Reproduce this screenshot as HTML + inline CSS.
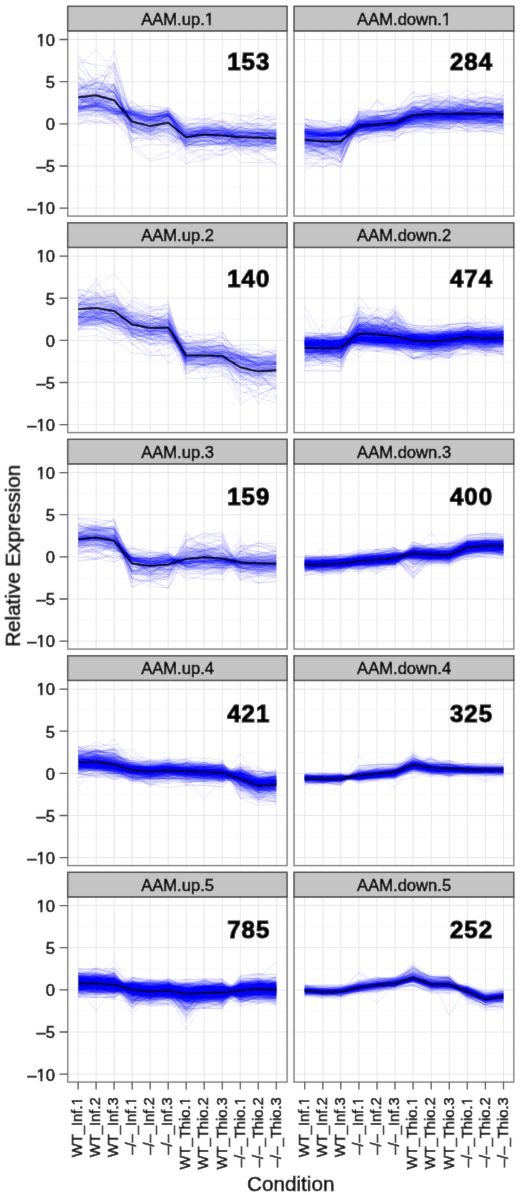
<!DOCTYPE html><html><head><meta charset="utf-8"><style>html,body{margin:0;padding:0;background:#fff;overflow:hidden;width:520px;height:1195px;}svg{display:block;font-family:"Liberation Sans",sans-serif;}.t{fill:#000;stroke:#000;stroke-width:0.5px}.L{fill:none;stroke:#00f;stroke-width:1px}.L path{vector-effect:non-scaling-stroke}</style></head><body>
<svg width="520" height="1195" viewBox="0 0 520 1195">
<defs><filter id="b" x="0" y="0" width="520" height="1195" filterUnits="userSpaceOnUse"><feConvolveMatrix order="3" kernelMatrix="0.0052 0.0619 0.0052 0.0619 0.7314 0.0619 0.0052 0.0619 0.0052" edgeMode="duplicate" preserveAlpha="true"/></filter></defs>
<rect width="520" height="1195" fill="#fff"/>
<g filter="url(#b)"><rect width="520" height="1195" fill="#fff"/>
<rect x="67.7" y="30.9" width="219.4" height="185.2" fill="#fff"/>
<path d="M67.7 187.1H287.1M67.7 144.9H287.1M67.7 102.8H287.1M67.7 60.6H287.1" stroke="#f2f2f2" stroke-width="0.6" fill="none"/>
<path d="M67.7 208.1H287.1M67.7 166H287.1M67.7 123.8H287.1M67.7 81.7H287.1M67.7 39.5H287.1M78.1 30.9V216.1M96.1 30.9V216.1M114.1 30.9V216.1M132.2 30.9V216.1M150.2 30.9V216.1M168.2 30.9V216.1M186.2 30.9V216.1M204.2 30.9V216.1M222.3 30.9V216.1M240.3 30.9V216.1M258.3 30.9V216.1M276.3 30.9V216.1" stroke="#e6e6e6" stroke-width="1" fill="none"/>
<g class="L" transform="translate(78.1 123.8) scale(18.0200 -0.8430)" stroke-opacity="0.100">
<path d="M0 30 1 23 2 16 3 -4 4 -9 5 -8 6 -21 7 -23 8 -24 9 -22 10 -17 11 -14"/>
<path d="M0 31 1 11 2 3 3 20 4 22 5 16 6 -17 7 -12 8 -7 9 10 10 6 11 10"/>
<path d="M0 19 1 24 2 18 3 10 4 -1 5 9 6 -13 7 -9 8 -10 9 -10 10 -8 11 -9"/>
<path d="M0 32 1 41 2 41 3 -3 4 -10 5 6 6 -24 7 -28 8 -21 9 -46 10 -46 11 -46"/>
<path d="M0 18 1 24 2 29 3 16 4 5 5 12 6 -9 7 -6 8 -13 9 -11 10 -6 11 -8"/>
<path d="M0 40 1 28 2 14 3 -11 4 5 5 1 6 -21 7 -21 8 -21 9 -23 10 -30 11 -23"/>
<path d="M0 13 1 23 2 14 3 7 4 8 5 6 6 -16 7 -13 8 -20 9 -17 10 -7 11 -19"/>
<path d="M0 21 1 22 2 15 3 11 4 17 5 9 6 -11 7 -6 8 -11 9 -8 10 -13 11 -13"/>
<path d="M0 49 1 39 2 47 3 13 4 8 5 11 6 -13 7 -11 8 -5 9 -20 10 -23 11 -18"/>
<path d="M0 74 1 70 2 67 3 -29 4 -24 5 -25 6 -14 7 -9 8 -11 9 -31 10 -23 11 -30"/>
<path d="M0 35 1 24 2 40 3 23 4 16 5 15 6 -3 7 -5 8 -6 9 -12 10 -11 11 -9"/>
<path d="M0 30 1 29 2 24 3 11 4 9 5 11 6 -6 7 -5 8 -11 9 -10 10 -12 11 -7"/>
<path d="M0 33 1 33 2 26 3 8 4 -1 5 9 6 -18 7 -18 8 -13 9 -28 10 -25 11 -20"/>
<path d="M0 26 1 24 2 17 3 10 4 1 5 10 6 -14 7 -10 8 -12 9 -14 10 -12 11 -12"/>
<path d="M0 19 1 21 2 42 3 15 4 9 5 15 6 -8 7 -3 8 -5 9 -15 10 -17 11 -16"/>
<path d="M0 31 1 35 2 73 3 11 4 1 5 9 6 -22 7 -19 8 -17 9 -17 10 -11 11 -18"/>
<path d="M0 73 1 50 2 73 3 -9 4 -20 5 9 6 -27 7 -16 8 -22 9 -28 10 -23 11 -30"/>
<path d="M0 21 1 20 2 3 3 -17 4 -17 5 -22 6 -12 7 -8 8 -6 9 -21 10 -20 11 -13"/>
<path d="M0 56 1 23 2 28 3 -10 4 -10 5 -27 6 -11 7 -7 8 -9 9 -26 10 -15 11 -28"/>
<path d="M0 16 1 20 2 13 3 5 4 -3 5 9 6 -18 7 -8 8 -26 9 -15 10 -11 11 -18"/>
<path d="M0 24 1 32 2 27 3 6 4 5 5 9 6 -17 7 -8 8 -24 9 -10 10 -10 11 -10"/>
<path d="M0 57 1 42 2 37 3 13 4 6 5 17 6 -23 7 -13 8 -8 9 -14 10 -18 11 -15"/>
<path d="M0 20 1 22 2 33 3 10 4 6 5 8 6 -15 7 -11 8 -12 9 -13 10 -14 11 -13"/>
<path d="M0 28 1 31 2 34 3 4 4 -8 5 6 6 -24 7 -20 8 -24 9 -26 10 -21 11 -23"/>
<path d="M0 16 1 19 2 12 3 1 4 -7 5 2 6 -19 7 -14 8 -10 9 -15 10 -14 11 -7"/>
<path d="M0 35 1 27 2 46 3 -3 4 5 5 -6 6 -42 7 -23 8 -16 9 -25 10 -31 11 -13"/>
<path d="M0 22 1 39 2 19 3 12 4 8 5 10 6 -9 7 5 8 -3 9 -23 10 -9 11 -19"/>
<path d="M0 21 1 38 2 21 3 -8 4 -9 5 4 6 -23 7 -14 8 -16 9 -18 10 -15 11 -26"/>
<path d="M0 14 1 17 2 1 3 13 4 12 5 13 6 -13 7 -7 8 -8 9 -1 10 1 11 -11"/>
<path d="M0 79 1 67 2 41 3 -7 4 -10 5 -19 6 -27 7 -16 8 -17 9 -35 10 -17 11 -21"/>
<path d="M0 18 1 23 2 14 3 -3 4 6 5 2 6 -12 7 -13 8 -13 9 -20 10 -17 11 -20"/>
<path d="M0 38 1 59 2 54 3 13 4 7 5 11 6 -16 7 -4 8 -4 9 -10 10 -7 11 -8"/>
<path d="M0 17 1 23 2 12 3 11 4 8 5 12 6 -6 7 -13 8 -16 9 -4 10 17 11 -3"/>
<path d="M0 31 1 18 2 24 3 10 4 -5 5 12 6 -12 7 -11 8 -29 9 -31 10 -44 11 -41"/>
<path d="M0 49 1 21 2 28 3 4 4 -8 5 -6 6 -31 7 -43 8 -31 9 -27 10 -19 11 -10"/>
<path d="M0 35 1 33 2 32 3 -19 4 -9 5 -16 6 -21 7 -17 8 -9 9 -23 10 -26 11 -28"/>
<path d="M0 -2 1 15 2 17 3 8 4 4 5 13 6 -3 7 -16 8 -9 9 -5 10 -7 11 -6"/>
<path d="M0 32 1 33 2 29 3 10 4 4 5 6 6 -13 7 -9 8 -8 9 -17 10 -20 11 -22"/>
<path d="M0 29 1 24 2 28 3 12 4 8 5 12 6 -17 7 -8 8 -8 9 -15 10 -14 11 -15"/>
<path d="M0 48 1 44 2 44 3 -6 4 -9 5 -10 6 -35 7 -30 8 -38 9 -26 10 -21 11 -23"/>
<path d="M0 39 1 49 2 45 3 1 4 4 5 10 6 -20 7 -13 8 -17 9 -6 10 -5 11 -14"/>
<path d="M0 41 1 50 2 37 3 0 4 -9 5 -2 6 -21 7 -11 8 -22 9 -24 10 -20 11 -21"/>
<path d="M0 17 1 21 2 14 3 14 4 8 5 12 6 -11 7 -6 8 -4 9 -13 10 -15 11 -14"/>
<path d="M0 49 1 25 2 47 3 -10 4 -16 5 -12 6 -47 7 -36 8 -37 9 -29 10 -32 11 -23"/>
<path d="M0 37 1 34 2 39 3 -2 4 -8 5 -6 6 -15 7 -10 8 -10 9 -20 10 -22 11 -13"/>
<path d="M0 28 1 21 2 48 3 -3 4 -11 5 -1 6 -13 7 1 8 -4 9 -20 10 -36 11 -31"/>
<path d="M0 27 1 34 2 20 3 15 4 0 5 10 6 -11 7 -6 8 -5 9 -18 10 -16 11 -23"/>
<path d="M0 19 1 20 2 15 3 12 4 9 5 10 6 -18 7 -9 8 -14 9 -21 10 -22 11 -13"/>
<path d="M0 30 1 21 2 25 3 12 4 -7 5 3 6 -26 7 -19 8 -15 9 -28 10 -25 11 -27"/>
<path d="M0 56 1 35 2 33 3 16 4 7 5 11 6 -21 7 -4 8 -4 9 -23 10 -18 11 -25"/>
<path d="M0 16 1 26 2 12 3 -4 4 -11 5 1 6 -14 7 -18 8 -14 9 -3 10 0 11 -14"/>
<path d="M0 9 1 9 2 6 3 -2 4 -6 5 14 6 -3 7 6 8 2 9 -9 10 0 11 7"/>
<path d="M0 66 1 51 2 38 3 -5 4 -6 5 3 6 -22 7 -21 8 -25 9 -10 10 -12 11 -11"/>
<path d="M0 41 1 42 2 36 3 -1 4 4 5 1 6 -15 7 -12 8 -11 9 -20 10 -21 11 -23"/>
<path d="M0 44 1 53 2 62 3 -21 4 -18 5 -18 6 -24 7 -26 8 -23 9 -22 10 -14 11 -19"/>
<path d="M0 20 1 18 2 13 3 11 4 7 5 9 6 -11 7 -7 8 -8 9 -14 10 -13 11 -11"/>
<path d="M0 25 1 29 2 24 3 10 4 7 5 12 6 -21 7 -14 8 -13 9 -14 10 -9 11 -12"/>
<path d="M0 25 1 28 2 19 3 3 4 5 5 9 6 -12 7 -14 8 -10 9 -15 10 -15 11 -21"/>
<path d="M0 34 1 15 2 33 3 6 4 8 5 10 6 -9 7 -16 8 -26 9 -21 10 -25 11 -23"/>
<path d="M0 39 1 48 2 33 3 7 4 -2 5 6 6 -8 7 -5 8 -7 9 -26 10 -23 11 -21"/>
<path d="M0 32 1 23 2 25 3 9 4 1 5 9 6 -17 7 -16 8 -10 9 -21 10 -26 11 -12"/>
<path d="M0 33 1 36 2 37 3 2 4 -4 5 -7 6 -28 7 -40 8 -20 9 -21 10 -19 11 -18"/>
<path d="M0 54 1 39 2 27 3 6 4 -4 5 0 6 -25 7 -25 8 -24 9 -20 10 -27 11 -14"/>
<path d="M0 40 1 27 2 87 3 -1 4 0 5 -2 6 -25 7 -25 8 -24 9 -17 10 -24 11 -17"/>
<path d="M0 11 1 16 2 14 3 10 4 7 5 9 6 -11 7 -14 8 -5 9 -14 10 -12 11 -17"/>
<path d="M0 30 1 21 2 18 3 13 4 5 5 13 6 -17 7 -12 8 -19 9 -7 10 -10 11 -6"/>
<path d="M0 24 1 30 2 17 3 7 4 4 5 3 6 -17 7 -10 8 -13 9 -10 10 -13 11 -15"/>
<path d="M0 31 1 28 2 23 3 19 4 8 5 11 6 -12 7 -14 8 -13 9 -13 10 -18 11 -16"/>
<path d="M0 22 1 20 2 43 3 12 4 4 5 10 6 -22 7 -21 8 -17 9 -21 10 -16 11 -24"/>
<path d="M0 5 1 15 2 1 3 21 4 10 5 13 6 -30 7 -23 8 -14 9 -10 10 -11 11 -11"/>
<path d="M0 54 1 50 2 38 3 1 4 1 5 -1 6 -12 7 -16 8 -17 9 -21 10 -27 11 -27"/>
<path d="M0 0 1 6 2 -4 3 15 4 11 5 13 6 4 7 7 8 2 9 -6 10 7 11 1"/>
<path d="M0 28 1 36 2 71 3 7 4 2 5 12 6 -6 7 -13 8 -9 9 -15 10 -10 11 -22"/>
<path d="M0 16 1 21 2 4 3 -22 4 0 5 -12 6 -19 7 -5 8 2 9 -22 10 -17 11 -17"/>
<path d="M0 20 1 22 2 16 3 -2 4 -8 5 7 6 -19 7 -16 8 -13 9 -11 10 -11 11 -15"/>
<path d="M0 19 1 21 2 18 3 12 4 2 5 13 6 -9 7 -9 8 -7 9 -11 10 -11 11 -10"/>
<path d="M0 41 1 49 2 45 3 -4 4 5 5 4 6 -13 7 -14 8 -11 9 -24 10 -11 11 -29"/>
<path d="M0 68 1 88 2 61 3 -30 4 -44 5 -40 6 -24 7 -27 8 -9 9 -31 10 -34 11 -48"/>
<path d="M0 19 1 15 2 17 3 12 4 5 5 10 6 -7 7 -2 8 -11 9 1 10 -2 11 0"/>
<path d="M0 32 1 24 2 18 3 15 4 7 5 19 6 -7 7 -6 8 -10 9 -18 10 -14 11 -14"/>
<path d="M0 33 1 29 2 24 3 11 4 3 5 8 6 -20 7 -10 8 -11 9 -20 10 -26 11 -15"/>
<path d="M0 38 1 18 2 10 3 16 4 12 5 19 6 0 7 0 8 5 9 -10 10 3 11 15"/>
<path d="M0 43 1 48 2 37 3 -4 4 -9 5 8 6 -16 7 -16 8 -26 9 -14 10 -20 11 -22"/>
<path d="M0 18 1 24 2 14 3 -10 4 -4 5 -9 6 -16 7 -10 8 -8 9 -20 10 -16 11 -10"/>
<path d="M0 69 1 40 2 48 3 -3 4 -12 5 -10 6 -23 7 -19 8 -23 9 -13 10 -22 11 -21"/>
<path d="M0 19 1 19 2 15 3 13 4 8 5 15 6 -7 7 -4 8 -10 9 -9 10 -11 11 -6"/>
<path d="M0 18 1 17 2 12 3 12 4 5 5 9 6 -9 7 -7 8 -7 9 -6 10 -11 11 2"/>
<path d="M0 34 1 49 2 47 3 -8 4 -14 5 -15 6 -19 7 -20 8 -32 9 -25 10 -27 11 -24"/>
<path d="M0 26 1 25 2 20 3 -8 4 -5 5 10 6 -21 7 -20 8 -13 9 -18 10 -13 11 -16"/>
<path d="M0 24 1 16 2 16 3 10 4 5 5 11 6 -9 7 -8 8 -8 9 -8 10 -12 11 -12"/>
<path d="M0 14 1 20 2 15 3 14 4 6 5 15 6 -8 7 -10 8 -8 9 -8 10 -6 11 -8"/>
<path d="M0 46 1 37 2 38 3 11 4 4 5 17 6 -31 7 -31 8 -32 9 -15 10 -14 11 -12"/>
<path d="M0 16 1 21 2 13 3 14 4 12 5 15 6 -11 7 -7 8 -3 9 -20 10 -14 11 -17"/>
<path d="M0 32 1 25 2 20 3 2 4 -6 5 -2 6 -24 7 -24 8 -24 9 -14 10 -24 11 -23"/>
<path d="M0 41 1 42 2 38 3 1 4 -5 5 7 6 -28 7 -27 8 -22 9 -25 10 -3 11 -24"/>
<path d="M0 26 1 31 2 29 3 -3 4 -6 5 -10 6 -23 7 -20 8 -23 9 -29 10 -33 11 -29"/>
<path d="M0 31 1 31 2 29 3 0 4 -14 5 -6 6 -14 7 -11 8 -12 9 -13 10 -18 11 -18"/>
<path d="M0 14 1 16 2 11 3 15 4 2 5 9 6 -9 7 -1 8 -2 9 -3 10 -14 11 -10"/>
<path d="M0 17 1 21 2 18 3 -25 4 -42 5 -33 6 -47 7 -43 8 -36 9 5 10 -7 11 -9"/>
<path d="M0 19 1 27 2 12 3 -10 4 -7 5 -5 6 -7 7 -12 8 -5 9 -12 10 -11 11 -16"/>
<path d="M0 20 1 23 2 41 3 16 4 8 5 16 6 -17 7 -15 8 -16 9 6 10 -5 11 -7"/>
<path d="M0 6 1 2 2 8 3 26 4 10 5 16 6 -3 7 12 8 -7 9 -37 10 -33 11 -14"/>
<path d="M0 62 1 21 2 18 3 15 4 -2 5 -2 6 -3 7 2 8 -5 9 -8 10 -12 11 -20"/>
<path d="M0 20 1 26 2 21 3 12 4 4 5 8 6 -18 7 -20 8 -18 9 -24 10 -19 11 -27"/>
<path d="M0 29 1 38 2 16 3 9 4 5 5 6 6 -16 7 -14 8 -10 9 -10 10 -19 11 -19"/>
<path d="M0 22 1 26 2 47 3 14 4 7 5 11 6 -13 7 -12 8 -10 9 -9 10 -15 11 -10"/>
<path d="M0 11 1 13 2 7 3 18 4 11 5 11 6 -13 7 -13 8 -14 9 -24 10 -9 11 -19"/>
<path d="M0 46 1 29 2 18 3 8 4 6 5 -3 6 -13 7 -7 8 -7 9 -16 10 -10 11 -12"/>
<path d="M0 47 1 34 2 30 3 10 4 7 5 11 6 -16 7 -8 8 -6 9 -7 10 -12 11 -8"/>
<path d="M0 14 1 18 2 12 3 15 4 7 5 12 6 -4 7 -12 8 -1 9 -18 10 -3 11 -14"/>
<path d="M0 16 1 25 2 26 3 11 4 8 5 9 6 -12 7 -10 8 -7 9 -19 10 -15 11 -14"/>
<path d="M0 18 1 21 2 15 3 5 4 8 5 10 6 -14 7 -12 8 -17 9 -15 10 -18 11 -21"/>
<path d="M0 16 1 21 2 12 3 18 4 10 5 14 6 -6 7 -4 8 -4 9 -4 10 -2 11 -5"/>
<path d="M0 27 1 32 2 27 3 0 4 -5 5 3 6 -10 7 -6 8 -9 9 -19 10 -21 11 -15"/>
<path d="M0 31 1 31 2 26 3 10 4 1 5 3 6 -16 7 -10 8 -12 9 -12 10 -20 11 -20"/>
<path d="M0 21 1 32 2 16 3 12 4 2 5 6 6 -19 7 -8 8 -11 9 -11 10 -13 11 0"/>
<path d="M0 21 1 21 2 17 3 -6 4 4 5 10 6 -14 7 -11 8 -12 9 -10 10 -6 11 -13"/>
<path d="M0 27 1 28 2 28 3 -9 4 2 5 0 6 -26 7 -20 8 -18 9 -26 10 -25 11 -23"/>
<path d="M0 9 1 14 2 5 3 6 4 5 5 13 6 -5 7 -2 8 -2 9 -11 10 -9 11 -19"/>
<path d="M0 10 1 11 2 12 3 20 4 14 5 18 6 1 7 -5 8 3 9 0 10 6 11 5"/>
<path d="M0 18 1 16 2 15 3 11 4 7 5 12 6 -10 7 -8 8 -8 9 -10 10 -12 11 -10"/>
<path d="M0 21 1 23 2 20 3 1 4 -4 5 -3 6 -17 7 -14 8 -19 9 -16 10 -15 11 -19"/>
<path d="M0 45 1 40 2 44 3 -4 4 -3 5 12 6 -10 7 -21 8 -18 9 -19 10 -25 11 -15"/>
<path d="M0 22 1 22 2 17 3 4 4 5 5 0 6 -12 7 -9 8 -8 9 -13 10 -16 11 -14"/>
<path d="M0 42 1 48 2 36 3 3 4 4 5 -9 6 -23 7 -24 8 -22 9 -24 10 -29 11 -32"/>
<path d="M0 36 1 25 2 34 3 -13 4 -8 5 -5 6 -19 7 -26 8 -17 9 -14 10 -18 11 -17"/>
<path d="M0 36 1 26 2 18 3 12 4 4 5 4 6 -10 7 -7 8 -13 9 -14 10 -13 11 -15"/>
<path d="M0 15 1 16 2 11 3 17 4 7 5 13 6 -23 7 -4 8 3 9 -14 10 -11 11 -11"/>
<path d="M0 36 1 38 2 30 3 -1 4 -6 5 6 6 -16 7 -16 8 -14 9 -15 10 -17 11 -23"/>
<path d="M0 17 1 21 2 14 3 16 4 11 5 14 6 -14 7 -9 8 -16 9 -10 10 -11 11 -12"/>
<path d="M0 18 1 15 2 9 3 15 4 11 5 15 6 -7 7 -4 8 -14 9 -3 10 -10 11 -1"/>
<path d="M0 82 1 43 2 37 3 -19 4 -15 5 -4 6 -26 7 -20 8 -24 9 -25 10 -33 11 -48"/>
<path d="M0 39 1 55 2 36 3 -11 4 -13 5 -9 6 -27 7 -24 8 -26 9 -26 10 -28 11 -30"/>
<path d="M0 15 1 27 2 14 3 14 4 1 5 10 6 -14 7 -2 8 -13 9 -4 10 -11 11 -13"/>
<path d="M0 23 1 28 2 27 3 7 4 -8 5 9 6 -6 7 -2 8 -9 9 -23 10 -25 11 -21"/>
<path d="M0 30 1 25 2 18 3 15 4 15 5 15 6 -26 7 -17 8 -13 9 -4 10 -10 11 -15"/>
<path d="M0 30 1 44 2 36 3 10 4 0 5 4 6 -24 7 -12 8 -21 9 -21 10 -27 11 -24"/>
<path d="M0 20 1 21 2 16 3 4 4 4 5 -1 6 -28 7 -12 8 -19 9 -18 10 -24 11 -23"/>
<path d="M0 19 1 24 2 15 3 13 4 11 5 12 6 -14 7 -4 8 -6 9 -8 10 -12 11 -10"/>
<path d="M0 10 1 2 2 0 3 7 4 21 5 19 6 -3 7 -9 8 5 9 -12 10 -2 11 -2"/>
<path d="M0 25 1 27 2 18 3 19 4 14 5 9 6 -3 7 4 8 -3 9 -13 10 -11 11 -12"/>
<path d="M0 42 1 45 2 31 3 6 4 3 5 5 6 -26 7 -24 8 -20 9 -8 10 -6 11 -11"/>
<path d="M0 31 1 34 2 41 3 -7 4 -19 5 -12 6 -20 7 -16 8 -16 9 -26 10 -26 11 -32"/>
<path d="M0 19 1 22 2 68 3 5 4 6 5 2 6 -11 7 -8 8 -11 9 -14 10 -16 11 -11"/>
<path d="M0 20 1 22 2 21 3 13 4 5 5 9 6 -14 7 -7 8 -5 9 -18 10 -21 11 -23"/>
<path d="M0 22 1 32 2 22 3 10 4 -3 5 3 6 -16 7 -13 8 -14 9 -9 10 -20 11 -26"/>
<path d="M0 17 1 54 2 37 3 -2 4 -13 5 -8 6 -21 7 -10 8 -18 9 -11 10 -18 11 -6"/>
<path d="M0 26 1 38 2 16 3 -10 4 -12 5 -6 6 -14 7 -8 8 -14 9 -14 10 -20 11 -30"/>
<path d="M0 13 1 9 2 12 3 10 4 0 5 10 6 -9 7 -16 8 -11 9 -14 10 -7 11 -10"/>
<path d="M0 20 1 24 2 11 3 10 4 6 5 12 6 -18 7 -13 8 -15 9 -15 10 -13 11 -15"/>
<path d="M0 16 1 15 2 11 3 14 4 6 5 11 6 -14 7 -19 8 -23 9 -12 10 -11 11 -22"/>
<path d="M0 19 1 45 2 22 3 6 4 -12 5 10 6 -18 7 -8 8 -20 9 -17 10 -10 11 -13"/>
<path d="M0 2 1 2 2 3 3 27 4 11 5 15 6 7 7 5 8 13 9 9 10 11 11 6"/>
</g>
<path d="M78.1 97.2 96.1 95.2 114.1 100.2 132.2 121.5 150.2 126.1 168.2 122.7 186.2 137.3 204.2 134.6 222.3 135.5 240.3 137.2 258.3 137.6 276.3 138.4" fill="none" stroke="#000" stroke-width="2"/>
<rect x="67.7" y="30.9" width="219.4" height="185.2" fill="none" stroke="#7a7a7a" stroke-width="1.4"/>
<rect x="67.7" y="6.3" width="219.4" height="24.6" fill="#c4c4c4" stroke="#4a4a4a" stroke-width="1.5"/>
<g transform="translate(177.6 24.9)"><text font-size="16.6" text-anchor="middle" class="t">AAM.up.1</text><rect x="27.88" y="-2.34" width="3.21" height="4.14" fill="#c4c4c4"/><rect x="33.16" y="-2.34" width="3.08" height="4.14" fill="#c4c4c4"/></g>
<text x="248.8" y="70.3" font-size="24" font-weight="bold" letter-spacing="1.0" text-anchor="middle" fill="#000" stroke="#000" stroke-width="1.1">153</text>
<rect x="294" y="30.9" width="219.8" height="185.2" fill="#fff"/>
<path d="M294 187.1H513.8M294 144.9H513.8M294 102.8H513.8M294 60.6H513.8" stroke="#f2f2f2" stroke-width="0.6" fill="none"/>
<path d="M294 208.1H513.8M294 166H513.8M294 123.8H513.8M294 81.7H513.8M294 39.5H513.8M304.7 30.9V216.1M322.8 30.9V216.1M340.8 30.9V216.1M358.9 30.9V216.1M377 30.9V216.1M395 30.9V216.1M413.1 30.9V216.1M431.2 30.9V216.1M449.3 30.9V216.1M467.3 30.9V216.1M485.4 30.9V216.1M503.5 30.9V216.1" stroke="#e6e6e6" stroke-width="1" fill="none"/>
<g class="L" transform="translate(304.7 123.8) scale(18.0700 -0.8430)" stroke-opacity="0.100">
<path d="M0 -6 1 -11 2 -9 3 -18 4 -17 5 -13 6 2 7 13 8 8 9 5 10 2 11 7"/>
<path d="M0 -18 1 -14 2 -16 3 -1 4 4 5 1 6 9 7 18 8 17 9 10 10 16 11 15"/>
<path d="M0 -24 1 -18 2 -26 3 7 4 -3 5 5 6 9 7 15 8 19 9 22 10 11 11 27"/>
<path d="M0 -13 1 -18 2 -12 3 -6 4 -3 5 -5 6 7 7 15 8 7 9 11 10 8 11 9"/>
<path d="M0 -18 1 -14 2 -14 3 -2 4 0 5 1 6 13 7 16 8 11 9 16 10 16 11 13"/>
<path d="M0 -12 1 -14 2 -18 3 -3 4 3 5 3 6 15 7 15 8 18 9 17 10 25 11 20"/>
<path d="M0 -20 1 -23 2 -24 3 -1 4 -1 5 -2 6 13 7 18 8 15 9 12 10 10 11 11"/>
<path d="M0 -9 1 -12 2 -11 3 -10 4 -8 5 -4 6 1 7 1 8 1 9 2 10 4 11 -5"/>
<path d="M0 -12 1 -11 2 -11 3 -4 4 -2 5 -3 6 5 7 9 8 9 9 13 10 18 11 14"/>
<path d="M0 -42 1 -51 2 -45 3 1 4 3 5 1 6 16 7 8 8 18 9 28 10 25 11 34"/>
<path d="M0 -3 1 -6 2 -11 3 -11 4 -1 5 -4 6 5 7 2 8 6 9 5 10 9 11 15"/>
<path d="M0 -22 1 -29 2 -32 3 4 4 -1 5 0 6 16 7 24 8 13 9 17 10 10 11 13"/>
<path d="M0 -5 1 -11 2 -12 3 -5 4 -6 5 -4 6 14 7 15 8 9 9 4 10 6 11 3"/>
<path d="M0 -22 1 -24 2 -23 3 1 4 2 5 4 6 10 7 10 8 9 9 9 10 10 11 8"/>
<path d="M0 -11 1 -14 2 -13 3 -2 4 -2 5 5 6 11 7 12 8 14 9 13 10 9 11 8"/>
<path d="M0 -16 1 -19 2 -14 3 -4 4 -1 5 3 6 4 7 11 8 9 9 9 10 3 11 6"/>
<path d="M0 -7 1 -6 2 -6 3 -14 4 -7 5 -9 6 8 7 4 8 3 9 7 10 1 11 3"/>
<path d="M0 -11 1 -15 2 -14 3 -6 4 0 5 -1 6 9 7 11 8 10 9 9 10 8 11 8"/>
<path d="M0 1 1 3 2 4 3 -21 4 -12 5 -16 6 -8 7 -11 8 -10 9 -7 10 -8 11 -6"/>
<path d="M0 -7 1 -7 2 -9 3 -6 4 -7 5 4 6 10 7 13 8 15 9 5 10 9 11 -2"/>
<path d="M0 -2 1 -8 2 -3 3 -9 4 -5 5 -6 6 -2 7 -1 8 -4 9 -2 10 2 11 -3"/>
<path d="M0 -14 1 -14 2 -9 3 2 4 12 5 -7 6 32 7 34 8 39 9 13 10 23 11 30"/>
<path d="M0 -9 1 -11 2 -12 3 -9 4 -4 5 0 6 0 7 1 8 4 9 6 10 3 11 1"/>
<path d="M0 -22 1 -34 2 -13 3 10 4 9 5 12 6 11 7 8 8 21 9 12 10 24 11 17"/>
<path d="M0 -28 1 -25 2 -37 3 0 4 10 5 10 6 15 7 24 8 15 9 19 10 19 11 17"/>
<path d="M0 -13 1 -25 2 -30 3 -2 4 8 5 3 6 6 7 6 8 17 9 20 10 8 11 8"/>
<path d="M0 3 1 -6 2 -3 3 -16 4 -15 5 -13 6 -9 7 -1 8 8 9 2 10 -9 11 -9"/>
<path d="M0 -12 1 -10 2 -11 3 -7 4 -6 5 -3 6 7 7 8 8 9 9 11 10 4 11 2"/>
<path d="M0 -33 1 -26 2 -32 3 -5 4 1 5 2 6 6 7 13 8 6 9 21 10 17 11 27"/>
<path d="M0 -10 1 -22 2 -26 3 -3 4 2 5 5 6 14 7 28 8 11 9 24 10 15 11 22"/>
<path d="M0 -14 1 -15 2 -13 3 -5 4 -2 5 -1 6 0 7 3 8 3 9 8 10 11 11 14"/>
<path d="M0 -19 1 -27 2 -12 3 1 4 -4 5 7 6 11 7 12 8 10 9 4 10 9 11 13"/>
<path d="M0 -11 1 -14 2 -11 3 -6 4 -3 5 -2 6 9 7 11 8 14 9 10 10 6 11 7"/>
<path d="M0 -10 1 -14 2 -12 3 -6 4 2 5 0 6 9 7 7 8 9 9 12 10 5 11 10"/>
<path d="M0 -27 1 -35 2 -45 3 8 4 8 5 13 6 10 7 18 8 14 9 30 10 31 11 28"/>
<path d="M0 -1 1 -8 2 -3 3 -7 4 6 5 5 6 10 7 13 8 6 9 11 10 13 11 9"/>
<path d="M0 -23 1 -14 2 -17 3 12 4 11 5 18 6 20 7 15 8 31 9 28 10 24 11 24"/>
<path d="M0 -11 1 -9 2 -13 3 -3 4 -1 5 0 6 6 7 10 8 8 9 10 10 10 11 14"/>
<path d="M0 -2 1 -10 2 -4 3 -3 4 -3 5 1 6 -2 7 -6 8 -6 9 10 10 14 11 -1"/>
<path d="M0 -8 1 -13 2 -9 3 -5 4 -6 5 -6 6 15 7 6 8 10 9 8 10 -7 11 -3"/>
<path d="M0 -7 1 -5 2 -10 3 -4 4 -4 5 -8 6 6 7 7 8 5 9 0 10 4 11 1"/>
<path d="M0 -18 1 -25 2 -13 3 7 4 9 5 14 6 38 7 18 8 32 9 24 10 27 11 18"/>
<path d="M0 -10 1 -16 2 -12 3 -2 4 6 5 1 6 19 7 26 8 26 9 -7 10 13 11 -2"/>
<path d="M0 -18 1 -13 2 -12 3 -4 4 1 5 2 6 8 7 8 8 9 9 14 10 12 11 7"/>
<path d="M0 -14 1 -18 2 -20 3 -2 4 -1 5 2 6 8 7 9 8 10 9 9 10 12 11 9"/>
<path d="M0 5 1 3 2 -7 3 10 4 -3 5 6 6 25 7 6 8 23 9 17 10 1 11 8"/>
<path d="M0 -9 1 -15 2 -12 3 -13 4 -7 5 -8 6 14 7 4 8 4 9 9 10 0 11 12"/>
<path d="M0 -32 1 -35 2 -28 3 0 4 0 5 3 6 17 7 22 8 11 9 16 10 21 11 11"/>
<path d="M0 -6 1 -9 2 -15 3 -15 4 -8 5 -2 6 8 7 12 8 19 9 21 10 8 11 13"/>
<path d="M0 -7 1 -11 2 -12 3 -4 4 -2 5 1 6 2 7 4 8 8 9 12 10 19 11 14"/>
<path d="M0 -18 1 -25 2 -17 3 4 4 6 5 7 6 14 7 12 8 14 9 8 10 8 11 8"/>
<path d="M0 -7 1 -10 2 -13 3 -6 4 -5 5 -4 6 15 7 20 8 16 9 9 10 13 11 8"/>
<path d="M0 -41 1 -36 2 -34 3 0 4 -1 5 2 6 9 7 15 8 12 9 12 10 10 11 15"/>
<path d="M0 -12 1 -15 2 -19 3 -1 4 2 5 5 6 15 7 12 8 12 9 11 10 16 11 18"/>
<path d="M0 -11 1 -12 2 -8 3 -5 4 -1 5 -5 6 1 7 4 8 6 9 6 10 11 11 8"/>
<path d="M0 -18 1 -26 2 -23 3 2 4 7 5 8 6 17 7 17 8 17 9 13 10 14 11 15"/>
<path d="M0 -6 1 -11 2 -7 3 -14 4 -12 5 -6 6 -1 7 -2 8 -2 9 19 10 5 11 1"/>
<path d="M0 -25 1 -15 2 -8 3 -2 4 1 5 -1 6 9 7 4 8 3 9 16 10 27 11 21"/>
<path d="M0 -17 1 -18 2 -22 3 -1 4 -3 5 -2 6 9 7 10 8 9 9 10 10 9 11 13"/>
<path d="M0 -40 1 -19 2 -29 3 0 4 3 5 7 6 19 7 29 8 24 9 20 10 18 11 14"/>
<path d="M0 -15 1 -19 2 -24 3 0 4 -3 5 -1 6 7 7 8 8 13 9 30 10 16 11 22"/>
<path d="M0 -15 1 -15 2 -14 3 -3 4 -2 5 1 6 15 7 16 8 10 9 18 10 12 11 15"/>
<path d="M0 -16 1 -14 2 -10 3 -1 4 -5 5 -4 6 4 7 5 8 3 9 -8 10 1 11 -1"/>
<path d="M0 -11 1 -13 2 -8 3 -7 4 -6 5 0 6 9 7 13 8 21 9 3 10 11 11 14"/>
<path d="M0 -29 1 -25 2 -38 3 14 4 16 5 16 6 23 7 31 8 26 9 22 10 33 11 21"/>
<path d="M0 -16 1 -11 2 -11 3 -4 4 -4 5 -2 6 10 7 13 8 12 9 6 10 12 11 11"/>
<path d="M0 -7 1 -14 2 -12 3 -8 4 -8 5 -2 6 -1 7 6 8 5 9 8 10 13 11 15"/>
<path d="M0 -21 1 -22 2 -22 3 -2 4 -1 5 0 6 8 7 10 8 11 9 10 10 12 11 9"/>
<path d="M0 -30 1 -26 2 -28 3 -5 4 0 5 -1 6 18 7 15 8 15 9 18 10 18 11 15"/>
<path d="M0 -10 1 -13 2 -13 3 -8 4 -8 5 -5 6 11 7 16 8 12 9 5 10 5 11 2"/>
<path d="M0 -9 1 -16 2 -10 3 -5 4 0 5 5 6 10 7 12 8 10 9 17 10 4 11 5"/>
<path d="M0 -29 1 -23 2 -19 3 -6 4 -3 5 1 6 8 7 11 8 13 9 12 10 11 11 9"/>
<path d="M0 -20 1 -19 2 -22 3 0 4 -1 5 6 6 14 7 16 8 10 9 12 10 10 11 16"/>
<path d="M0 -12 1 -24 2 -21 3 1 4 -1 5 -5 6 14 7 8 8 12 9 -10 10 -8 11 -12"/>
<path d="M0 -7 1 -7 2 -8 3 -2 4 -4 5 1 6 8 7 4 8 7 9 6 10 5 11 7"/>
<path d="M0 -7 1 -8 2 -9 3 -8 4 -8 5 -2 6 1 7 3 8 -2 9 8 10 5 11 5"/>
<path d="M0 -16 1 -14 2 -18 3 -4 4 0 5 4 6 6 7 5 8 5 9 15 10 10 11 5"/>
<path d="M0 -24 1 -37 2 -27 3 -4 4 -5 5 6 6 -1 7 16 8 12 9 11 10 23 11 20"/>
<path d="M0 -11 1 -12 2 -11 3 3 4 -4 5 2 6 3 7 7 8 5 9 6 10 6 11 5"/>
<path d="M0 -6 1 -7 2 -6 3 -13 4 -8 5 -7 6 4 7 5 8 7 9 -3 10 1 11 -6"/>
<path d="M0 -10 1 -6 2 -10 3 -12 4 -7 5 -6 6 4 7 5 8 9 9 13 10 9 11 3"/>
<path d="M0 -9 1 -12 2 -10 3 -5 4 0 5 0 6 3 7 -3 8 4 9 8 10 7 11 7"/>
<path d="M0 -15 1 -14 2 -12 3 -2 4 3 5 1 6 17 7 19 8 14 9 9 10 12 11 8"/>
<path d="M0 -25 1 -25 2 -24 3 -13 4 -10 5 -2 6 18 7 11 8 12 9 15 10 12 11 11"/>
<path d="M0 -9 1 -13 2 -14 3 -1 4 -2 5 0 6 10 7 13 8 10 9 16 10 11 11 12"/>
<path d="M0 -22 1 -20 2 -41 3 -4 4 -2 5 1 6 20 7 7 8 22 9 11 10 18 11 6"/>
<path d="M0 -14 1 -6 2 -4 3 -1 4 1 5 2 6 -1 7 2 8 2 9 5 10 10 11 6"/>
<path d="M0 -16 1 -13 2 -18 3 -14 4 0 5 -3 6 -5 7 2 8 0 9 8 10 3 11 4"/>
<path d="M0 -7 1 -12 2 -12 3 -4 4 -7 5 4 6 20 7 10 8 18 9 14 10 20 11 10"/>
<path d="M0 -12 1 -16 2 -14 3 -4 4 -3 5 -1 6 7 7 11 8 12 9 14 10 8 11 10"/>
<path d="M0 -30 1 -35 2 -21 3 0 4 0 5 -1 6 5 7 2 8 7 9 13 10 11 11 27"/>
<path d="M0 -1 1 -2 2 -1 3 -13 4 -13 5 -9 6 -11 7 -3 8 -4 9 -1 10 -4 11 -9"/>
<path d="M0 -16 1 -13 2 -13 3 -7 4 -5 5 -9 6 10 7 6 8 10 9 11 10 9 11 7"/>
<path d="M0 -7 1 -12 2 -11 3 -3 4 -6 5 3 6 6 7 1 8 9 9 32 10 12 11 7"/>
<path d="M0 -9 1 -15 2 -12 3 -1 4 8 5 0 6 2 7 21 8 11 9 27 10 21 11 18"/>
<path d="M0 -45 1 -25 2 -20 3 18 4 14 5 16 6 20 7 21 8 11 9 13 10 20 11 11"/>
<path d="M0 -12 1 -14 2 -14 3 -4 4 0 5 -3 6 8 7 10 8 8 9 5 10 7 11 4"/>
<path d="M0 -14 1 -20 2 -24 3 3 4 4 5 2 6 12 7 17 8 16 9 17 10 18 11 13"/>
<path d="M0 -32 1 -22 2 -28 3 -1 4 0 5 2 6 3 7 17 8 9 9 0 10 7 11 6"/>
<path d="M0 -16 1 -22 2 -21 3 -3 4 0 5 -3 6 6 7 9 8 6 9 6 10 7 11 7"/>
<path d="M0 -11 1 -13 2 -14 3 -1 4 -3 5 2 6 5 7 8 8 7 9 12 10 9 11 13"/>
<path d="M0 -16 1 -21 2 -17 3 3 4 2 5 6 6 11 7 12 8 14 9 17 10 16 11 28"/>
<path d="M0 -6 1 -6 2 -6 3 -4 4 -9 5 0 6 6 7 8 8 4 9 15 10 16 11 13"/>
<path d="M0 -12 1 -13 2 -13 3 -7 4 -6 5 -4 6 9 7 5 8 9 9 10 10 16 11 8"/>
<path d="M0 -24 1 -24 2 -22 3 3 4 7 5 7 6 10 7 11 8 8 9 11 10 22 11 11"/>
<path d="M0 -15 1 -23 2 -15 3 -3 4 1 5 1 6 3 7 2 8 5 9 5 10 0 11 5"/>
<path d="M0 -27 1 -28 2 -31 3 -1 4 7 5 7 6 19 7 15 8 27 9 21 10 23 11 25"/>
<path d="M0 -56 1 -41 2 -41 3 -1 4 9 5 8 6 19 7 22 8 16 9 14 10 30 11 6"/>
<path d="M0 -9 1 -14 2 -14 3 -3 4 -2 5 1 6 1 7 2 8 2 9 2 10 0 11 4"/>
<path d="M0 -24 1 -15 2 -21 3 -1 4 -1 5 5 6 13 7 15 8 22 9 17 10 10 11 14"/>
<path d="M0 -20 1 -31 2 -15 3 1 4 4 5 4 6 11 7 13 8 9 9 8 10 16 11 14"/>
<path d="M0 -10 1 -18 2 -12 3 -2 4 4 5 4 6 7 7 16 8 12 9 16 10 14 11 16"/>
<path d="M0 -35 1 -39 2 -46 3 3 4 3 5 10 6 16 7 15 8 10 9 19 10 20 11 25"/>
<path d="M0 -4 1 -4 2 -5 3 -5 4 -4 5 -5 6 7 7 7 8 6 9 9 10 2 11 1"/>
<path d="M0 -16 1 -18 2 -12 3 -9 4 -6 5 -9 6 19 7 18 8 7 9 1 10 -6 11 -2"/>
<path d="M0 -17 1 -23 2 -11 3 3 4 7 5 0 6 8 7 7 8 5 9 9 10 13 11 11"/>
<path d="M0 6 1 -2 2 -3 3 -5 4 0 5 -4 6 -4 7 -11 8 1 9 6 10 8 11 12"/>
<path d="M0 -9 1 -8 2 -11 3 -1 4 2 5 2 6 9 7 6 8 8 9 13 10 8 11 8"/>
<path d="M0 -13 1 -13 2 -11 3 -8 4 -8 5 -7 6 8 7 14 8 16 9 8 10 7 11 7"/>
<path d="M0 -7 1 -15 2 -15 3 -1 4 -1 5 1 6 1 7 7 8 5 9 9 10 11 11 0"/>
<path d="M0 -16 1 -13 2 -12 3 2 4 -3 5 -7 6 0 7 -5 8 -4 9 5 10 10 11 13"/>
<path d="M0 -7 1 -13 2 -14 3 -4 4 -5 5 -6 6 11 7 9 8 13 9 9 10 10 11 16"/>
<path d="M0 -22 1 -36 2 -23 3 7 4 7 5 10 6 5 7 4 8 6 9 5 10 3 11 11"/>
<path d="M0 -13 1 -19 2 -5 3 -6 4 -1 5 -2 6 2 7 2 8 0 9 13 10 8 11 10"/>
<path d="M0 -26 1 -36 2 -19 3 5 4 9 5 1 6 20 7 12 8 17 9 9 10 14 11 14"/>
<path d="M0 -1 1 -14 2 -14 3 -4 4 6 5 5 6 1 7 5 8 3 9 3 10 -3 11 4"/>
<path d="M0 -8 1 -12 2 -11 3 -5 4 -3 5 -2 6 7 7 6 8 12 9 11 10 11 11 8"/>
<path d="M0 -2 1 -8 2 -9 3 -10 4 -2 5 2 6 4 7 3 8 -6 9 -3 10 -5 11 -5"/>
<path d="M0 -15 1 -9 2 -14 3 -2 4 -2 5 -1 6 7 7 7 8 11 9 6 10 5 11 7"/>
<path d="M0 -5 1 -10 2 -12 3 0 4 0 5 4 6 16 7 12 8 12 9 11 10 8 11 9"/>
<path d="M0 -33 1 -31 2 -23 3 8 4 14 5 16 6 21 7 19 8 26 9 17 10 8 11 15"/>
<path d="M0 -5 1 -7 2 -11 3 -11 4 -1 5 -1 6 8 7 9 8 10 9 3 10 9 11 12"/>
<path d="M0 -12 1 -14 2 -12 3 -4 4 -1 5 -3 6 4 7 8 8 8 9 8 10 6 11 7"/>
<path d="M0 -19 1 -18 2 -14 3 -6 4 0 5 6 6 4 7 12 8 10 9 6 10 10 11 9"/>
<path d="M0 -28 1 -27 2 -29 3 0 4 0 5 4 6 17 7 13 8 15 9 12 10 15 11 7"/>
<path d="M0 -20 1 -19 2 -27 3 -5 4 -1 5 3 6 7 7 10 8 12 9 16 10 18 11 10"/>
<path d="M0 -8 1 -8 2 -14 3 -9 4 -7 5 -6 6 -3 7 -3 8 -1 9 4 10 1 11 6"/>
<path d="M0 -27 1 -16 2 -20 3 -6 4 -6 5 -3 6 16 7 14 8 12 9 14 10 11 11 12"/>
<path d="M0 -24 1 -28 2 -22 3 -6 4 -3 5 0 6 8 7 7 8 7 9 9 10 7 11 11"/>
<path d="M0 -40 1 -24 2 -46 3 9 4 7 5 13 6 -8 7 0 8 9 9 23 10 11 11 22"/>
<path d="M0 -47 1 -52 2 -39 3 0 4 -2 5 -3 6 20 7 12 8 8 9 19 10 19 11 14"/>
<path d="M0 -14 1 -13 2 -16 3 -3 4 -4 5 -6 6 12 7 26 8 28 9 11 10 13 11 13"/>
<path d="M0 -23 1 -27 2 -23 3 1 4 4 5 5 6 8 7 13 8 13 9 11 10 11 11 13"/>
<path d="M0 -38 1 -36 2 -45 3 4 4 9 5 11 6 26 7 22 8 16 9 20 10 20 11 16"/>
<path d="M0 -9 1 -15 2 -15 3 -8 4 -5 5 -7 6 7 7 9 8 8 9 10 10 8 11 11"/>
<path d="M0 -11 1 -14 2 -14 3 -6 4 0 5 3 6 4 7 10 8 10 9 11 10 9 11 10"/>
<path d="M0 -8 1 -13 2 -9 3 -9 4 -6 5 -6 6 8 7 5 8 7 9 4 10 5 11 1"/>
<path d="M0 -15 1 -14 2 -19 3 -3 4 1 5 0 6 9 7 7 8 9 9 8 10 9 11 7"/>
<path d="M0 -1 1 -5 2 -6 3 -8 4 -5 5 -3 6 3 7 -2 8 5 9 5 10 4 11 -3"/>
<path d="M0 -21 1 -26 2 -24 3 2 4 7 5 8 6 13 7 26 8 19 9 17 10 14 11 17"/>
<path d="M0 -15 1 -17 2 -23 3 -4 4 -2 5 1 6 12 7 9 8 9 9 10 10 10 11 11"/>
<path d="M0 -47 1 -46 2 -50 3 4 4 3 5 17 6 25 7 26 8 18 9 34 10 39 11 33"/>
<path d="M0 -20 1 -27 2 -20 3 -6 4 -3 5 1 6 6 7 18 8 13 9 16 10 19 11 12"/>
<path d="M0 -17 1 -18 2 -16 3 2 4 2 5 5 6 8 7 9 8 10 9 15 10 16 11 19"/>
<path d="M0 -22 1 -41 2 -35 3 14 4 12 5 22 6 1 7 9 8 10 9 26 10 23 11 30"/>
<path d="M0 -13 1 -15 2 -14 3 -2 4 5 5 2 6 13 7 13 8 15 9 10 10 11 11 10"/>
<path d="M0 -8 1 -11 2 -13 3 3 4 2 5 1 6 1 7 9 8 4 9 15 10 28 11 18"/>
<path d="M0 -12 1 -25 2 7 3 1 4 6 5 7 6 20 7 24 8 14 9 15 10 19 11 18"/>
<path d="M0 -17 1 -15 2 -15 3 6 4 7 5 9 6 15 7 17 8 18 9 17 10 11 11 20"/>
<path d="M0 -23 1 -13 2 -22 3 -1 4 -3 5 -2 6 4 7 7 8 14 9 2 10 1 11 4"/>
<path d="M0 -10 1 -10 2 -14 3 -7 4 -9 5 -4 6 15 7 4 8 6 9 1 10 8 11 11"/>
<path d="M0 -7 1 -12 2 -9 3 -15 4 -9 5 -6 6 -1 7 -5 8 -1 9 8 10 10 11 10"/>
<path d="M0 -10 1 -9 2 -13 3 -10 4 -6 5 -3 6 8 7 10 8 6 9 9 10 7 11 7"/>
<path d="M0 -29 1 -34 2 -30 3 0 4 2 5 5 6 12 7 14 8 11 9 12 10 15 11 12"/>
<path d="M0 -5 1 -10 2 -6 3 0 4 1 5 0 6 7 7 6 8 6 9 2 10 2 11 1"/>
<path d="M0 -35 1 -30 2 -33 3 5 4 3 5 6 6 15 7 7 8 7 9 19 10 14 11 25"/>
<path d="M0 -20 1 -14 2 -33 3 7 4 10 5 9 6 17 7 10 8 9 9 11 10 13 11 10"/>
<path d="M0 -21 1 -22 2 -45 3 -2 4 -9 5 2 6 14 7 14 8 31 9 18 10 17 11 21"/>
<path d="M0 -11 1 -13 2 -14 3 -2 4 0 5 -1 6 7 7 3 8 10 9 13 10 13 11 14"/>
<path d="M0 -20 1 -27 2 -24 3 -2 4 1 5 4 6 9 7 13 8 15 9 13 10 12 11 9"/>
<path d="M0 -7 1 -14 2 -9 3 -6 4 -3 5 -2 6 -3 7 -4 8 -6 9 10 10 2 11 4"/>
<path d="M0 -10 1 -12 2 -10 3 -13 4 -7 5 -7 6 3 7 2 8 6 9 7 10 7 11 6"/>
<path d="M0 -35 1 -27 2 -34 3 3 4 1 5 7 6 12 7 14 8 11 9 15 10 17 11 22"/>
<path d="M0 -14 1 -15 2 -12 3 -4 4 -1 5 -2 6 8 7 7 8 8 9 0 10 24 11 7"/>
<path d="M0 -25 1 -38 2 -35 3 2 4 3 5 0 6 23 7 7 8 20 9 9 10 21 11 7"/>
<path d="M0 -10 1 -11 2 -8 3 -7 4 -2 5 -20 6 0 7 0 8 2 9 3 10 2 11 10"/>
<path d="M0 -18 1 -18 2 -29 3 -6 4 -6 5 -5 6 21 7 15 8 4 9 -2 10 -9 11 -12"/>
<path d="M0 -23 1 -25 2 -33 3 0 4 0 5 -2 6 19 7 17 8 23 9 16 10 13 11 15"/>
<path d="M0 -28 1 -32 2 -9 3 -10 4 -8 5 3 6 13 7 26 8 26 9 20 10 19 11 6"/>
<path d="M0 -24 1 -28 2 -24 3 -1 4 0 5 7 6 17 7 22 8 20 9 14 10 16 11 11"/>
<path d="M0 -20 1 -19 2 -34 3 4 4 2 5 3 6 18 7 15 8 9 9 15 10 17 11 24"/>
<path d="M0 -21 1 -23 2 -18 3 1 4 2 5 4 6 13 7 15 8 13 9 34 10 14 11 16"/>
<path d="M0 -11 1 -14 2 -13 3 -2 4 -3 5 1 6 9 7 8 8 11 9 10 10 13 11 8"/>
<path d="M0 -28 1 -41 2 -39 3 4 4 5 5 4 6 12 7 20 8 15 9 21 10 14 11 10"/>
<path d="M0 -22 1 -28 2 -25 3 5 4 -1 5 14 6 26 7 37 8 27 9 25 10 33 11 29"/>
<path d="M0 -10 1 -14 2 -14 3 -1 4 -1 5 0 6 10 7 8 8 15 9 9 10 8 11 12"/>
<path d="M0 -10 1 -9 2 -16 3 -5 4 -6 5 -3 6 10 7 15 8 8 9 11 10 17 11 5"/>
<path d="M0 -26 1 -22 2 -24 3 -4 4 0 5 -1 6 12 7 19 8 14 9 15 10 12 11 12"/>
<path d="M0 -11 1 -15 2 -13 3 11 4 8 5 12 6 10 7 18 8 23 9 22 10 17 11 11"/>
<path d="M0 -9 1 -19 2 -18 3 -5 4 29 5 -1 6 8 7 18 8 6 9 8 10 15 11 9"/>
<path d="M0 -21 1 -19 2 -17 3 1 4 -4 5 -8 6 4 7 -2 8 2 9 11 10 20 11 6"/>
<path d="M0 -8 1 -10 2 -9 3 -9 4 -2 5 -5 6 2 7 -2 8 0 9 2 10 -1 11 2"/>
<path d="M0 -10 1 -10 2 -10 3 -6 4 -1 5 0 6 7 7 7 8 8 9 10 10 9 11 9"/>
<path d="M0 -11 1 -13 2 -14 3 -4 4 -1 5 -1 6 5 7 9 8 8 9 6 10 11 11 10"/>
<path d="M0 -15 1 -27 2 -28 3 4 4 9 5 12 6 9 7 10 8 19 9 26 10 28 11 28"/>
<path d="M0 -35 1 -25 2 -26 3 2 4 11 5 7 6 10 7 15 8 14 9 17 10 17 11 20"/>
<path d="M0 -13 1 -12 2 -10 3 -1 4 5 5 5 6 13 7 6 8 6 9 16 10 14 11 13"/>
<path d="M0 -34 1 -43 2 -24 3 11 4 4 5 13 6 32 7 33 8 30 9 16 10 12 11 15"/>
<path d="M0 -27 1 -18 2 -18 3 -1 4 0 5 2 6 7 7 16 8 9 9 10 10 8 11 9"/>
<path d="M0 -20 1 -20 2 -14 3 -1 4 4 5 5 6 13 7 17 8 29 9 20 10 11 11 17"/>
<path d="M0 -12 1 -11 2 -13 3 6 4 3 5 -3 6 10 7 4 8 14 9 16 10 10 11 13"/>
<path d="M0 -23 1 -19 2 -28 3 -4 4 -2 5 4 6 10 7 10 8 10 9 16 10 8 11 16"/>
<path d="M0 -10 1 -8 2 -13 3 -13 4 -10 5 -7 6 -4 7 -5 8 -2 9 -6 10 -2 11 2"/>
<path d="M0 0 1 -9 2 -11 3 -22 4 -6 5 -9 6 23 7 8 8 8 9 2 10 6 11 7"/>
<path d="M0 -11 1 -10 2 -12 3 -8 4 -5 5 -2 6 10 7 14 8 14 9 9 10 9 11 8"/>
<path d="M0 -22 1 -26 2 -22 3 5 4 27 5 13 6 12 7 12 8 10 9 28 10 18 11 24"/>
<path d="M0 -15 1 -13 2 -12 3 -4 4 -3 5 2 6 2 7 8 8 10 9 6 10 8 11 6"/>
<path d="M0 -23 1 -19 2 -21 3 -4 4 6 5 4 6 10 7 9 8 8 9 3 10 7 11 6"/>
<path d="M0 -17 1 -19 2 -20 3 0 4 4 5 5 6 8 7 4 8 19 9 20 10 9 11 16"/>
<path d="M0 -12 1 -13 2 -20 3 5 4 3 5 7 6 7 7 10 8 12 9 9 10 10 11 6"/>
<path d="M0 -1 1 -7 2 -5 3 -9 4 -11 5 -6 6 4 7 3 8 3 9 6 10 4 11 3"/>
<path d="M0 -33 1 -41 2 -52 3 12 4 14 5 16 6 18 7 13 8 24 9 29 10 22 11 33"/>
<path d="M0 -23 1 -28 2 -30 3 12 4 9 5 7 6 6 7 14 8 17 9 12 10 15 11 11"/>
<path d="M0 -16 1 -37 2 -30 3 0 4 3 5 0 6 21 7 31 8 19 9 18 10 14 11 16"/>
<path d="M0 -29 1 -33 2 -27 3 5 4 7 5 12 6 19 7 18 8 14 9 25 10 25 11 19"/>
<path d="M0 -5 1 -12 2 -14 3 -4 4 -5 5 -6 6 12 7 11 8 11 9 3 10 3 11 0"/>
<path d="M0 -7 1 -13 2 -8 3 -11 4 -8 5 -16 6 -4 7 -1 8 5 9 0 10 -2 11 -2"/>
<path d="M0 -10 1 -10 2 -13 3 -5 4 -7 5 -1 6 10 7 9 8 13 9 10 10 12 11 13"/>
<path d="M0 -13 1 -20 2 -18 3 5 4 8 5 13 6 14 7 8 8 12 9 13 10 11 11 20"/>
<path d="M0 -18 1 -23 2 -16 3 0 4 -16 5 -7 6 -3 7 -7 8 -6 9 15 10 11 11 1"/>
<path d="M0 1 1 -19 2 -14 3 -10 4 -4 5 3 6 26 7 28 8 22 9 1 10 0 11 -8"/>
<path d="M0 -18 1 -21 2 -13 3 -3 4 4 5 -1 6 15 7 15 8 10 9 16 10 6 11 15"/>
<path d="M0 -9 1 -14 2 -8 3 -13 4 -10 5 -11 6 6 7 13 8 8 9 7 10 14 11 14"/>
<path d="M0 6 1 -6 2 -8 3 -3 4 2 5 5 6 2 7 13 8 33 9 28 10 31 11 20"/>
<path d="M0 -13 1 -12 2 -11 3 -8 4 -7 5 0 6 9 7 11 8 14 9 9 10 7 11 9"/>
<path d="M0 -10 1 -13 2 -14 3 -2 4 -1 5 0 6 5 7 10 8 11 9 14 10 10 11 11"/>
<path d="M0 -29 1 -15 2 -32 3 -6 4 4 5 3 6 3 7 16 8 10 9 15 10 9 11 9"/>
<path d="M0 -6 1 -24 2 -7 3 -23 4 -3 5 -3 6 6 7 14 8 11 9 18 10 16 11 9"/>
<path d="M0 -25 1 -26 2 -6 3 -7 4 -2 5 -2 6 6 7 5 8 9 9 8 10 8 11 1"/>
<path d="M0 -12 1 -16 2 -27 3 -9 4 -10 5 -7 6 9 7 9 8 11 9 10 10 5 11 3"/>
<path d="M0 -19 1 -12 2 -11 3 -7 4 -7 5 -8 6 11 7 12 8 1 9 6 10 8 11 6"/>
<path d="M0 0 1 -13 2 -7 3 -8 4 -8 5 -2 6 11 7 7 8 4 9 -9 10 -2 11 7"/>
<path d="M0 -17 1 -21 2 -20 3 -4 4 -1 5 0 6 8 7 14 8 10 9 11 10 14 11 11"/>
<path d="M0 -8 1 -18 2 -12 3 -3 4 -2 5 -1 6 5 7 10 8 8 9 5 10 13 11 9"/>
<path d="M0 -12 1 -19 2 -14 3 -4 4 -4 5 1 6 5 7 4 8 6 9 6 10 8 11 8"/>
<path d="M0 -9 1 -12 2 3 3 -6 4 -9 5 -2 6 12 7 5 8 8 9 7 10 3 11 0"/>
<path d="M0 -9 1 -7 2 -11 3 -5 4 -5 5 5 6 9 7 1 8 0 9 1 10 0 11 -2"/>
<path d="M0 -12 1 -13 2 -14 3 -4 4 -1 5 -2 6 5 7 8 8 7 9 7 10 6 11 8"/>
<path d="M0 -41 1 -43 2 -38 3 15 4 15 5 14 6 38 7 30 8 34 9 25 10 31 11 29"/>
<path d="M0 -19 1 -20 2 -23 3 2 4 -2 5 6 6 11 7 8 8 9 9 10 10 13 11 13"/>
<path d="M0 -17 1 -19 2 -26 3 -1 4 -3 5 3 6 11 7 11 8 20 9 10 10 5 11 -5"/>
<path d="M0 -23 1 -22 2 -16 3 -18 4 5 5 12 6 24 7 24 8 25 9 17 10 18 11 19"/>
<path d="M0 -11 1 -19 2 -18 3 0 4 -2 5 3 6 10 7 16 8 13 9 13 10 9 11 16"/>
<path d="M0 -22 1 -17 2 -19 3 2 4 6 5 -3 6 12 7 9 8 8 9 5 10 8 11 -6"/>
<path d="M0 -33 1 -29 2 -23 3 3 4 3 5 6 6 27 7 28 8 20 9 20 10 13 11 21"/>
<path d="M0 -17 1 -22 2 -15 3 -2 4 -1 5 0 6 6 7 8 8 9 9 11 10 11 11 11"/>
<path d="M0 -24 1 -30 2 -38 3 13 4 13 5 14 6 15 7 8 8 17 9 22 10 18 11 20"/>
<path d="M0 -13 1 -14 2 -20 3 -3 4 1 5 2 6 14 7 16 8 16 9 16 10 13 11 12"/>
<path d="M0 -22 1 -21 2 -17 3 1 4 3 5 7 6 15 7 14 8 16 9 12 10 12 11 9"/>
<path d="M0 -23 1 -24 2 -24 3 -1 4 2 5 1 6 6 7 15 8 9 9 19 10 19 11 19"/>
<path d="M0 -15 1 -16 2 -11 3 -2 4 -1 5 1 6 7 7 13 8 9 9 5 10 18 11 5"/>
<path d="M0 -13 1 -36 2 -45 3 -6 4 7 5 -11 6 9 7 -6 8 9 9 -4 10 -4 11 4"/>
<path d="M0 -14 1 -23 2 -14 3 0 4 -1 5 -1 6 8 7 9 8 7 9 4 10 5 11 7"/>
<path d="M0 -20 1 -21 2 -37 3 -6 4 -3 5 1 6 -1 7 -1 8 8 9 3 10 9 11 4"/>
<path d="M0 6 1 2 2 -2 3 -15 4 -5 5 -12 6 -3 7 -3 8 -6 9 -9 10 -10 11 -5"/>
<path d="M0 -25 1 -28 2 -22 3 4 4 6 5 3 6 9 7 5 8 12 9 8 10 1 11 9"/>
<path d="M0 -11 1 -10 2 -13 3 0 4 -1 5 -3 6 4 7 5 8 5 9 5 10 7 11 1"/>
<path d="M0 -12 1 -18 2 -14 3 -4 4 6 5 1 6 14 7 9 8 25 9 21 10 24 11 21"/>
<path d="M0 -19 1 -27 2 -20 3 15 4 3 5 5 6 11 7 18 8 16 9 17 10 14 11 14"/>
<path d="M0 -8 1 -12 2 -7 3 -7 4 -3 5 0 6 21 7 12 8 20 9 24 10 21 11 23"/>
<path d="M0 -13 1 -17 2 -27 3 0 4 -2 5 1 6 18 7 16 8 21 9 10 10 20 11 17"/>
<path d="M0 -17 1 -21 2 -15 3 3 4 4 5 5 6 5 7 7 8 5 9 11 10 15 11 17"/>
<path d="M0 -13 1 -21 2 -25 3 0 4 1 5 7 6 8 7 8 8 7 9 8 10 10 11 12"/>
<path d="M0 -8 1 -13 2 -11 3 -16 4 -22 5 -19 6 3 7 -4 8 3 9 7 10 0 11 10"/>
<path d="M0 -31 1 -19 2 -18 3 -1 4 1 5 2 6 16 7 15 8 14 9 23 10 8 11 16"/>
<path d="M0 -6 1 -10 2 -12 3 -6 4 -6 5 0 6 5 7 7 8 8 9 17 10 15 11 8"/>
<path d="M0 -21 1 -13 2 -12 3 -3 4 -5 5 2 6 4 7 23 8 18 9 5 10 4 11 20"/>
<path d="M0 -12 1 -13 2 -15 3 -5 4 -2 5 -3 6 7 7 11 8 10 9 16 10 2 11 11"/>
<path d="M0 -2 1 -4 2 -4 3 -6 4 -1 5 -3 6 0 7 3 8 5 9 -2 10 5 11 0"/>
<path d="M0 -20 1 -15 2 -21 3 8 4 8 5 17 6 14 7 13 8 14 9 28 10 24 11 22"/>
<path d="M0 -21 1 -21 2 -20 3 -2 4 -4 5 3 6 13 7 14 8 10 9 11 10 10 11 11"/>
<path d="M0 -17 1 -13 2 -13 3 -3 4 10 5 4 6 10 7 10 8 17 9 18 10 16 11 17"/>
<path d="M0 -7 1 -14 2 -14 3 -4 4 -2 5 -5 6 3 7 3 8 10 9 9 10 11 11 10"/>
<path d="M0 -11 1 -17 2 -13 3 -1 4 1 5 -2 6 14 7 11 8 10 9 8 10 13 11 9"/>
<path d="M0 -21 1 -15 2 -24 3 -2 4 -3 5 4 6 24 7 30 8 27 9 40 10 27 11 39"/>
<path d="M0 -9 1 -13 2 -13 3 -3 4 -1 5 -1 6 6 7 9 8 7 9 12 10 10 11 11"/>
<path d="M0 -13 1 -14 2 -10 3 -10 4 -9 5 -4 6 0 7 -1 8 -7 9 9 10 -2 11 -3"/>
<path d="M0 -8 1 -7 2 -4 3 1 4 4 5 8 6 0 7 5 8 7 9 2 10 0 11 6"/>
<path d="M0 -13 1 -11 2 -19 3 -6 4 -6 5 -3 6 6 7 9 8 5 9 10 10 9 11 7"/>
<path d="M0 -23 1 -27 2 -36 3 9 4 10 5 11 6 16 7 24 8 6 9 20 10 26 11 21"/>
<path d="M0 -22 1 -28 2 -22 3 1 4 2 5 4 6 14 7 10 8 17 9 13 10 14 11 1"/>
<path d="M0 -4 1 -8 2 -7 3 -3 4 -2 5 2 6 12 7 7 8 8 9 7 10 9 11 11"/>
<path d="M0 -10 1 -14 2 -13 3 -10 4 -8 5 -8 6 4 7 6 8 3 9 6 10 2 11 5"/>
<path d="M0 -6 1 -9 2 -10 3 -15 4 -6 5 -2 6 5 7 3 8 6 9 -2 10 4 11 2"/>
</g>
<path d="M304.7 139.7 322.8 141.4 340.8 141.4 358.9 126.1 377 124.4 395 122.8 413.1 115.1 431.2 114.2 449.3 113.8 467.3 113.4 485.4 113.8 503.5 114.2" fill="none" stroke="#000" stroke-width="2"/>
<rect x="294" y="30.9" width="219.8" height="185.2" fill="none" stroke="#7a7a7a" stroke-width="1.4"/>
<rect x="294" y="6.3" width="219.8" height="24.6" fill="#c4c4c4" stroke="#4a4a4a" stroke-width="1.5"/>
<g transform="translate(404.1 24.9)"><text font-size="16.6" text-anchor="middle" class="t">AAM.down.1</text><rect x="38.49" y="-2.34" width="3.21" height="4.14" fill="#c4c4c4"/><rect x="43.77" y="-2.34" width="3.08" height="4.14" fill="#c4c4c4"/></g>
<text x="471.5" y="70.3" font-size="24" font-weight="bold" letter-spacing="1.0" text-anchor="middle" fill="#000" stroke="#000" stroke-width="1.1">284</text>
<g transform="translate(55 214.4)"><text font-size="16.6" text-anchor="end" class="t">–10</text><rect x="-17.80" y="-2.34" width="3.21" height="4.14" fill="#fff"/><rect x="-12.52" y="-2.34" width="3.08" height="4.14" fill="#fff"/></g>
<g transform="translate(55 172.3)"><text font-size="16.6" text-anchor="end" class="t">–5</text></g>
<g transform="translate(55 130.2)"><text font-size="16.6" text-anchor="end" class="t">0</text></g>
<g transform="translate(55 88)"><text font-size="16.6" text-anchor="end" class="t">5</text></g>
<g transform="translate(55 45.8)"><text font-size="16.6" text-anchor="end" class="t">10</text><rect x="-17.80" y="-2.34" width="3.21" height="4.14" fill="#fff"/><rect x="-12.52" y="-2.34" width="3.08" height="4.14" fill="#fff"/></g>
<path d="M59.5 208.1H67.7M59.5 166H67.7M59.5 123.8H67.7M59.5 81.7H67.7M59.5 39.5H67.7" stroke="#4a4a4a" stroke-width="1.3"/>
<rect x="67.7" y="247.4" width="219.4" height="185.2" fill="#fff"/>
<path d="M67.7 403.6H287.1M67.7 361.4H287.1M67.7 319.3H287.1M67.7 277.1H287.1" stroke="#f2f2f2" stroke-width="0.6" fill="none"/>
<path d="M67.7 424.7H287.1M67.7 382.5H287.1M67.7 340.4H287.1M67.7 298.2H287.1M67.7 256.1H287.1M78.1 247.4V432.6M96.1 247.4V432.6M114.1 247.4V432.6M132.2 247.4V432.6M150.2 247.4V432.6M168.2 247.4V432.6M186.2 247.4V432.6M204.2 247.4V432.6M222.3 247.4V432.6M240.3 247.4V432.6M258.3 247.4V432.6M276.3 247.4V432.6" stroke="#e6e6e6" stroke-width="1" fill="none"/>
<g class="L" transform="translate(78.1 340.4) scale(18.0200 -0.8430)" stroke-opacity="0.100">
<path d="M0 50 1 33 2 31 3 12 4 7 5 8 6 -15 7 -19 8 -21 9 -20 10 -28 11 -24"/>
<path d="M0 49 1 64 2 79 3 53 4 39 5 42 6 -33 7 -30 8 -31 9 -51 10 -62 11 -70"/>
<path d="M0 28 1 37 2 26 3 17 4 30 5 9 6 -20 7 -13 8 -16 9 -28 10 -29 11 -29"/>
<path d="M0 33 1 27 2 25 3 14 4 12 5 13 6 -14 7 -14 8 -14 9 -14 10 -22 11 -18"/>
<path d="M0 28 1 29 2 22 3 15 4 9 5 16 6 -21 7 -20 8 -20 9 -28 10 -37 11 -27"/>
<path d="M0 14 1 32 2 19 3 -1 4 3 5 -4 6 11 7 5 8 10 9 -23 10 -19 11 -27"/>
<path d="M0 44 1 51 2 48 3 31 4 29 5 20 6 -21 7 -19 8 -18 9 -41 10 -54 11 -41"/>
<path d="M0 30 1 32 2 26 3 16 4 16 5 10 6 -20 7 -15 8 -16 9 -28 10 -30 11 -31"/>
<path d="M0 43 1 34 2 38 3 18 4 15 5 12 6 -28 7 -29 8 -27 9 -28 10 -32 11 -33"/>
<path d="M0 42 1 44 2 36 3 23 4 10 5 12 6 -3 7 -9 8 -17 9 -22 10 -28 11 -24"/>
<path d="M0 12 1 33 2 31 3 -4 4 -18 5 -17 6 -7 7 -5 8 -13 9 -5 10 -5 11 -19"/>
<path d="M0 24 1 24 2 27 3 3 4 8 5 -2 6 -4 7 -14 8 -10 9 -22 10 -29 11 -17"/>
<path d="M0 27 1 31 2 26 3 20 4 13 5 20 6 -24 7 -23 8 -20 9 -30 10 -40 11 -37"/>
<path d="M0 21 1 27 2 19 3 13 4 13 5 8 6 -2 7 -3 8 -3 9 -31 10 -33 11 -68"/>
<path d="M0 25 1 26 2 20 3 9 4 2 5 6 6 -15 7 -21 8 -13 9 -18 10 -26 11 -19"/>
<path d="M0 25 1 28 2 25 3 28 4 19 5 20 6 -15 7 -13 8 -14 9 -17 10 -23 11 -26"/>
<path d="M0 40 1 35 2 34 3 43 4 28 5 32 6 -20 7 -24 8 -18 9 -39 10 -42 11 -36"/>
<path d="M0 29 1 39 2 36 3 37 4 20 5 25 6 -28 7 -27 8 -17 9 -32 10 -48 11 -46"/>
<path d="M0 31 1 36 2 37 3 17 4 18 5 33 6 -10 7 -8 8 -16 9 -19 10 -30 11 -27"/>
<path d="M0 14 1 13 2 3 3 -4 4 -22 5 0 6 -11 7 -8 8 -6 9 -16 10 -17 11 -8"/>
<path d="M0 22 1 29 2 39 3 6 4 -15 5 -9 6 -14 7 -9 8 -6 9 -14 10 -17 11 -20"/>
<path d="M0 28 1 30 2 19 3 23 4 -4 5 0 6 -4 7 -2 8 4 9 -15 10 -30 11 -18"/>
<path d="M0 32 1 32 2 32 3 24 4 11 5 14 6 -23 7 -26 8 -26 9 -30 10 -35 11 -35"/>
<path d="M0 42 1 33 2 32 3 20 4 24 5 15 6 -18 7 -12 8 -11 9 -28 10 -31 11 -26"/>
<path d="M0 19 1 21 2 21 3 10 4 8 5 4 6 -6 7 -11 8 -4 9 -19 10 -24 11 -22"/>
<path d="M0 20 1 26 2 14 3 12 4 16 5 14 6 -9 7 -20 8 -5 9 -33 10 -40 11 -25"/>
<path d="M0 40 1 32 2 35 3 29 4 23 5 30 6 -34 7 -38 8 -37 9 -53 10 -64 11 -55"/>
<path d="M0 28 1 26 2 30 3 19 4 13 5 10 6 -26 7 -35 8 -28 9 -26 10 -36 11 -38"/>
<path d="M0 34 1 35 2 30 3 5 4 -5 5 3 6 -9 7 -9 8 -8 9 -14 10 -21 11 -21"/>
<path d="M0 11 1 21 2 17 3 5 4 -3 5 12 6 -4 7 1 8 3 9 -18 10 -21 11 -21"/>
<path d="M0 20 1 19 2 24 3 10 4 8 5 11 6 -15 7 -14 8 -20 9 -21 10 -26 11 -34"/>
<path d="M0 26 1 44 2 48 3 10 4 1 5 0 6 -15 7 -19 8 -25 9 -19 10 -30 11 -25"/>
<path d="M0 43 1 44 2 40 3 20 4 18 5 7 6 -12 7 -16 8 -16 9 -29 10 -34 11 -28"/>
<path d="M0 43 1 42 2 36 3 20 4 16 5 20 6 -21 7 -15 8 -23 9 -29 10 -32 11 -36"/>
<path d="M0 44 1 45 2 44 3 30 4 26 5 26 6 -20 7 -22 8 -21 9 -36 10 -43 11 -35"/>
<path d="M0 28 1 37 2 43 3 14 4 21 5 8 6 -7 7 -12 8 -10 9 -20 10 -16 11 -26"/>
<path d="M0 50 1 60 2 26 3 29 4 6 5 29 6 -13 7 -18 8 -18 9 -22 10 -35 11 -31"/>
<path d="M0 13 1 14 2 -4 3 6 4 -6 5 -5 6 -12 7 -10 8 -16 9 -19 10 -21 11 -28"/>
<path d="M0 48 1 51 2 55 3 27 4 19 5 23 6 -23 7 -27 8 -28 9 -36 10 -46 11 -44"/>
<path d="M0 36 1 42 2 57 3 24 4 23 5 32 6 -30 7 -27 8 -30 9 -25 10 -42 11 -28"/>
<path d="M0 51 1 46 2 30 3 29 4 29 5 20 6 -14 7 -23 8 -20 9 -37 10 -45 11 -39"/>
<path d="M0 32 1 37 2 32 3 19 4 14 5 24 6 -26 7 -13 8 -22 9 -27 10 -33 11 -30"/>
<path d="M0 14 1 22 2 7 3 7 4 2 5 -8 6 -8 7 -11 8 -6 9 -15 10 -24 11 -16"/>
<path d="M0 39 1 39 2 41 3 23 4 9 5 9 6 -18 7 -19 8 -19 9 -25 10 -24 11 -28"/>
<path d="M0 32 1 25 2 24 3 14 4 7 5 11 6 -5 7 -13 8 -19 9 -18 10 -29 11 -28"/>
<path d="M0 24 1 35 2 29 3 22 4 17 5 14 6 -15 7 -17 8 -16 9 -36 10 -35 11 -33"/>
<path d="M0 23 1 26 2 30 3 15 4 10 5 18 6 -21 7 -17 8 -15 9 -18 10 -30 11 -27"/>
<path d="M0 17 1 19 2 10 3 3 4 7 5 -1 6 -20 7 -20 8 -11 9 -22 10 -27 11 -27"/>
<path d="M0 18 1 19 2 22 3 19 4 17 5 16 6 -17 7 -47 8 -14 9 -22 10 -28 11 -24"/>
<path d="M0 59 1 39 2 53 3 23 4 15 5 11 6 -23 7 -21 8 -26 9 -34 10 -37 11 -35"/>
<path d="M0 26 1 42 2 13 3 5 4 8 5 15 6 -27 7 -29 8 -28 9 -56 10 -39 11 -59"/>
<path d="M0 43 1 56 2 42 3 28 4 9 5 27 6 -23 7 -18 8 -11 9 -27 10 -41 11 -41"/>
<path d="M0 33 1 33 2 29 3 21 4 14 5 11 6 -17 7 -16 8 -22 9 -38 10 -40 11 -44"/>
<path d="M0 37 1 49 2 43 3 21 4 20 5 12 6 -10 7 -14 8 -14 9 -17 10 -22 11 -12"/>
<path d="M0 19 1 31 2 41 3 9 4 6 5 8 6 -23 7 -25 8 -23 9 -35 10 -28 11 -28"/>
<path d="M0 60 1 33 2 40 3 34 4 26 5 25 6 -40 7 -28 8 -14 9 -40 10 -75 11 -52"/>
<path d="M0 23 1 17 2 28 3 17 4 10 5 20 6 -17 7 -9 8 -18 9 -35 10 -26 11 -29"/>
<path d="M0 33 1 29 2 29 3 22 4 17 5 17 6 -21 7 -18 8 -19 9 -22 10 -27 11 -29"/>
<path d="M0 26 1 28 2 29 3 12 4 10 5 11 6 -21 7 -20 8 -27 9 -15 10 -23 11 -26"/>
<path d="M0 36 1 32 2 39 3 17 4 29 5 16 6 -11 7 -21 8 -13 9 -21 10 -28 11 -21"/>
<path d="M0 54 1 51 2 52 3 18 4 5 5 3 6 -18 7 -31 8 -21 9 -22 10 -31 11 -36"/>
<path d="M0 41 1 54 2 42 3 29 4 32 5 32 6 -29 7 -25 8 -24 9 -42 10 -55 11 -47"/>
<path d="M0 41 1 40 2 32 3 33 4 26 5 23 6 -25 7 -12 8 -23 9 -47 10 -41 11 -56"/>
<path d="M0 43 1 50 2 53 3 14 4 10 5 10 6 -25 7 -28 8 -19 9 -44 10 -50 11 -69"/>
<path d="M0 39 1 29 2 36 3 8 4 10 5 -1 6 -7 7 -7 8 -9 9 -20 10 -20 11 -34"/>
<path d="M0 36 1 33 2 31 3 32 4 25 5 29 6 -19 7 -21 8 -21 9 -36 10 -36 11 -35"/>
<path d="M0 4 1 6 2 0 3 -15 4 -17 5 -19 6 5 7 2 8 -4 9 -7 10 -16 11 -13"/>
<path d="M0 28 1 34 2 32 3 18 4 14 5 0 6 -3 7 -4 8 -7 9 -11 10 -21 11 -19"/>
<path d="M0 32 1 50 2 29 3 21 4 10 5 21 6 -20 7 -21 8 -20 9 -30 10 -36 11 -34"/>
<path d="M0 27 1 28 2 25 3 10 4 20 5 20 6 -24 7 -28 8 -25 9 -9 10 -24 11 -17"/>
<path d="M0 26 1 30 2 32 3 27 4 10 5 24 6 -7 7 -16 8 -21 9 -27 10 -28 11 -28"/>
<path d="M0 27 1 28 2 26 3 29 4 23 5 25 6 -29 7 -29 8 -34 9 -38 10 -41 11 -31"/>
<path d="M0 42 1 44 2 47 3 17 4 22 5 18 6 -22 7 -23 8 -28 9 -46 10 -51 11 -54"/>
<path d="M0 19 1 32 2 18 3 21 4 18 5 27 6 -18 7 -15 8 -13 9 -21 10 -28 11 -22"/>
<path d="M0 48 1 35 2 30 3 18 4 17 5 19 6 -14 7 -25 8 -13 9 -19 10 -24 11 -26"/>
<path d="M0 20 1 26 2 23 3 6 4 7 5 8 6 -15 7 -9 8 -10 9 -19 10 -28 11 -24"/>
<path d="M0 28 1 29 2 32 3 12 4 -5 5 -3 6 -29 7 -14 8 -29 9 -35 10 -43 11 -48"/>
<path d="M0 27 1 27 2 22 3 -5 4 1 5 0 6 -3 7 -8 8 -7 9 -19 10 -21 11 -20"/>
<path d="M0 29 1 32 2 24 3 29 4 17 5 24 6 -14 7 -17 8 -24 9 -18 10 -29 11 -25"/>
<path d="M0 42 1 42 2 43 3 27 4 29 5 22 6 -40 7 -30 8 -32 9 -63 10 -58 11 -57"/>
<path d="M0 53 1 36 2 55 3 7 4 26 5 11 6 -45 7 -45 8 -42 9 -51 10 -36 11 -32"/>
<path d="M0 14 1 25 2 31 3 45 4 34 5 38 6 -36 7 -28 8 -26 9 -43 10 -33 11 -26"/>
<path d="M0 22 1 24 2 23 3 8 4 -15 5 11 6 -3 7 -1 8 -8 9 -42 10 -14 11 -12"/>
<path d="M0 20 1 24 2 14 3 14 4 5 5 11 6 -10 7 -7 8 -6 9 -20 10 -31 11 -20"/>
<path d="M0 27 1 19 2 24 3 20 4 12 5 14 6 -6 7 1 8 -3 9 -38 10 -36 11 -30"/>
<path d="M0 25 1 38 2 24 3 15 4 15 5 13 6 -12 7 -15 8 -14 9 -22 10 -34 11 -38"/>
<path d="M0 43 1 53 2 57 3 18 4 14 5 25 6 -25 7 -29 8 -27 9 -35 10 -49 11 -37"/>
<path d="M0 29 1 24 2 22 3 -1 4 3 5 3 6 -9 7 -7 8 -6 9 -13 10 -23 11 -21"/>
<path d="M0 22 1 24 2 19 3 12 4 12 5 10 6 -19 7 -8 8 -12 9 -18 10 -20 11 -18"/>
<path d="M0 61 1 55 2 61 3 38 4 28 5 27 6 -23 7 -31 8 -22 9 -39 10 -37 11 -32"/>
<path d="M0 17 1 19 2 16 3 35 4 9 5 14 6 -20 7 -15 8 -22 9 -10 10 -11 11 -16"/>
<path d="M0 40 1 73 2 36 3 48 4 39 5 22 6 -26 7 -1 8 -19 9 -60 10 -68 11 -74"/>
<path d="M0 29 1 26 2 21 3 47 4 36 5 38 6 -24 7 -15 8 -25 9 -44 10 -35 11 -35"/>
<path d="M0 24 1 26 2 21 3 14 4 7 5 11 6 -16 7 -14 8 -16 9 -18 10 -26 11 -25"/>
<path d="M0 33 1 27 2 27 3 14 4 7 5 9 6 -9 7 -18 8 -19 9 -21 10 -28 11 -22"/>
<path d="M0 24 1 20 2 51 3 24 4 9 5 4 6 1 7 -2 8 7 9 -48 10 -23 11 -44"/>
<path d="M0 27 1 29 2 18 3 13 4 10 5 0 6 -20 7 -12 8 -10 9 -19 10 -33 11 -31"/>
<path d="M0 43 1 39 2 41 3 7 4 12 5 10 6 -28 7 -23 8 -28 9 -22 10 -29 11 -28"/>
<path d="M0 40 1 43 2 30 3 27 4 20 5 25 6 -21 7 -26 8 -27 9 -52 10 -53 11 -51"/>
<path d="M0 51 1 48 2 54 3 30 4 25 5 25 6 -23 7 -24 8 -30 9 -38 10 -52 11 -39"/>
<path d="M0 50 1 68 2 45 3 22 4 20 5 47 6 -38 7 -29 8 -21 9 -28 10 -30 11 -31"/>
<path d="M0 28 1 27 2 29 3 24 4 15 5 15 6 -15 7 -16 8 -8 9 -22 10 -35 11 -30"/>
<path d="M0 41 1 51 2 40 3 20 4 23 5 17 6 -26 7 -29 8 -26 9 -32 10 -42 11 -35"/>
<path d="M0 37 1 41 2 32 3 8 4 6 5 9 6 -22 7 -13 8 -21 9 -18 10 -29 11 -26"/>
<path d="M0 42 1 33 2 46 3 11 4 11 5 11 6 -14 7 -14 8 -20 9 -31 10 -30 11 -28"/>
<path d="M0 21 1 23 2 20 3 10 4 -4 5 -3 6 -4 7 -8 8 -7 9 -22 10 -21 11 -27"/>
<path d="M0 25 1 25 2 26 3 14 4 11 5 9 6 -10 7 -12 8 -15 9 -71 10 -43 11 -53"/>
<path d="M0 28 1 34 2 39 3 23 4 20 5 23 6 -14 7 -22 8 -19 9 -24 10 -26 11 -18"/>
<path d="M0 28 1 44 2 40 3 24 4 22 5 21 6 -6 7 -14 8 -22 9 -22 10 -30 11 -26"/>
<path d="M0 43 1 43 2 48 3 16 4 16 5 6 6 8 7 -12 8 10 9 -20 10 -20 11 -25"/>
<path d="M0 39 1 54 2 24 3 22 4 12 5 16 6 -10 7 -8 8 -14 9 -24 10 -34 11 -27"/>
<path d="M0 26 1 49 2 37 3 40 4 24 5 30 6 -27 7 -15 8 -17 9 -26 10 -39 11 -36"/>
<path d="M0 46 1 32 2 35 3 17 4 10 5 19 6 10 7 -11 8 -4 9 -26 10 -33 11 -28"/>
<path d="M0 39 1 30 2 28 3 18 4 21 5 14 6 -23 7 -21 8 -23 9 -27 10 -34 11 -33"/>
<path d="M0 18 1 21 2 17 3 4 4 6 5 4 6 -4 7 -2 8 0 9 -21 10 -26 11 -21"/>
<path d="M0 37 1 43 2 43 3 32 4 30 5 19 6 -30 7 -30 8 -41 9 -37 10 -45 11 -57"/>
<path d="M0 19 1 17 2 15 3 8 4 12 5 22 6 -10 7 -13 8 -13 9 -21 10 -25 11 -29"/>
<path d="M0 27 1 22 2 24 3 25 4 19 5 17 6 -24 7 -20 8 -21 9 -28 10 -30 11 -48"/>
<path d="M0 20 1 26 2 25 3 16 4 1 5 2 6 -29 7 -28 8 -26 9 -21 10 -57 11 -31"/>
<path d="M0 28 1 35 2 35 3 40 4 31 5 22 6 -32 7 -32 8 -31 9 -29 10 -44 11 -34"/>
<path d="M0 52 1 32 2 26 3 24 4 9 5 34 6 -10 7 -10 8 -13 9 -27 10 -35 11 -36"/>
<path d="M0 30 1 38 2 39 3 28 4 24 5 16 6 -18 7 -16 8 -16 9 -42 10 -41 11 -30"/>
<path d="M0 19 1 23 2 20 3 7 4 3 5 5 6 -21 7 -19 8 -13 9 -32 10 -47 11 -27"/>
<path d="M0 60 1 57 2 34 3 33 4 34 5 43 6 -25 7 -30 8 -37 9 -75 10 -64 11 -56"/>
<path d="M0 33 1 31 2 33 3 22 4 13 5 21 6 -22 7 -23 8 -26 9 -26 10 -30 11 -42"/>
<path d="M0 19 1 28 2 20 3 12 4 7 5 5 6 -11 7 -2 8 -6 9 -20 10 -26 11 -23"/>
<path d="M0 27 1 27 2 19 3 12 4 5 5 13 6 -3 7 -8 8 -17 9 -24 10 -30 11 -31"/>
<path d="M0 23 1 30 2 39 3 8 4 1 5 9 6 -12 7 -13 8 -17 9 -23 10 -32 11 -33"/>
<path d="M0 18 1 26 2 19 3 5 4 -6 5 13 6 4 7 8 8 4 9 -12 10 -20 11 -17"/>
<path d="M0 31 1 46 2 52 3 22 4 18 5 16 6 -22 7 -20 8 -15 9 -37 10 -34 11 -34"/>
<path d="M0 28 1 23 2 26 3 6 4 4 5 22 6 -26 7 -18 8 -25 9 -25 10 -30 11 -27"/>
<path d="M0 21 1 17 2 11 3 9 4 4 5 -27 6 -11 7 -4 8 -12 9 -16 10 -20 11 -16"/>
<path d="M0 56 1 46 2 38 3 22 4 10 5 19 6 -18 7 -18 8 -12 9 -38 10 -39 11 -43"/>
<path d="M0 24 1 19 2 21 3 26 4 19 5 10 6 -17 7 -21 8 -10 9 -29 10 -40 11 -34"/>
<path d="M0 31 1 29 2 34 3 24 4 17 5 16 6 -23 7 -25 8 -24 9 -25 10 -33 11 -39"/>
<path d="M0 43 1 57 2 39 3 7 4 15 5 14 6 -20 7 -12 8 -18 9 -24 10 -25 11 -33"/>
<path d="M0 34 1 32 2 23 3 23 4 11 5 13 6 -11 7 -11 8 -18 9 -25 10 -36 11 -42"/>
<path d="M0 47 1 41 2 39 3 24 4 17 5 12 6 -19 7 -18 8 -15 9 -34 10 -31 11 -34"/>
<path d="M0 51 1 45 2 41 3 30 4 40 5 34 6 -18 7 -24 8 -19 9 -38 10 -39 11 -59"/>
<path d="M0 30 1 39 2 34 3 26 4 18 5 21 6 -24 7 -25 8 -22 9 -24 10 -31 11 -38"/>
</g>
<path d="M78.1 309.2 96.1 308 114.1 310.9 132.2 324.5 150.2 327.9 168.2 327.5 186.2 355.4 204.2 355.4 222.3 355.9 240.3 367.3 258.3 371.5 276.3 370.3" fill="none" stroke="#000" stroke-width="2"/>
<rect x="67.7" y="247.4" width="219.4" height="185.2" fill="none" stroke="#7a7a7a" stroke-width="1.4"/>
<rect x="67.7" y="222.8" width="219.4" height="24.6" fill="#c4c4c4" stroke="#4a4a4a" stroke-width="1.5"/>
<g transform="translate(177.6 241.4)"><text font-size="16.6" text-anchor="middle" class="t">AAM.up.2</text></g>
<text x="248.8" y="287.3" font-size="24" font-weight="bold" letter-spacing="1.0" text-anchor="middle" fill="#000" stroke="#000" stroke-width="1.1">140</text>
<rect x="294" y="247.4" width="219.8" height="185.2" fill="#fff"/>
<path d="M294 403.6H513.8M294 361.4H513.8M294 319.3H513.8M294 277.1H513.8" stroke="#f2f2f2" stroke-width="0.6" fill="none"/>
<path d="M294 424.7H513.8M294 382.5H513.8M294 340.4H513.8M294 298.2H513.8M294 256.1H513.8M304.7 247.4V432.6M322.8 247.4V432.6M340.8 247.4V432.6M358.9 247.4V432.6M377 247.4V432.6M395 247.4V432.6M413.1 247.4V432.6M431.2 247.4V432.6M449.3 247.4V432.6M467.3 247.4V432.6M485.4 247.4V432.6M503.5 247.4V432.6" stroke="#e6e6e6" stroke-width="1" fill="none"/>
<g class="L" transform="translate(304.7 340.4) scale(18.0700 -0.8430)" stroke-opacity="0.100">
<path d="M0 4 1 -2 2 1 3 19 4 8 5 15 6 2 7 3 8 3 9 7 10 0 11 6"/>
<path d="M0 -31 1 -21 2 -32 3 39 4 38 5 35 6 18 7 16 8 19 9 20 10 15 11 18"/>
<path d="M0 -3 1 -4 2 -4 3 12 4 9 5 2 6 2 7 -2 8 2 9 5 10 5 11 5"/>
<path d="M0 3 1 -3 2 -3 3 -2 4 0 5 -5 6 -10 7 -12 8 -7 9 5 10 1 11 5"/>
<path d="M0 -6 1 -3 2 -3 3 6 4 12 5 8 6 2 7 3 8 5 9 4 10 4 11 5"/>
<path d="M0 -7 1 -1 2 -1 3 2 4 0 5 -10 6 -3 7 -2 8 -6 9 -9 10 -13 11 -16"/>
<path d="M0 -1 1 -4 2 -15 3 -1 4 -11 5 -5 6 -1 7 5 8 -4 9 7 10 3 11 0"/>
<path d="M0 -24 1 -4 2 -16 3 26 4 0 5 11 6 5 7 -1 8 1 9 7 10 -3 11 5"/>
<path d="M0 -3 1 -5 2 -3 3 3 4 3 5 -3 6 3 7 2 8 5 9 10 10 6 11 8"/>
<path d="M0 -31 1 -26 2 -24 3 16 4 2 5 1 6 -4 7 -10 8 2 9 12 10 4 11 10"/>
<path d="M0 -6 1 -15 2 -7 3 8 4 5 5 2 6 4 7 3 8 7 9 6 10 3 11 3"/>
<path d="M0 -7 1 -3 2 -4 3 1 4 6 5 -10 6 -9 7 -11 8 -4 9 6 10 7 11 4"/>
<path d="M0 -8 1 -11 2 -4 3 9 4 12 5 -1 6 10 7 6 8 9 9 7 10 3 11 7"/>
<path d="M0 -8 1 -16 2 -17 3 -3 4 4 5 0 6 -9 7 1 8 -2 9 8 10 1 11 -1"/>
<path d="M0 -2 1 -1 2 0 3 13 4 8 5 12 6 3 7 -1 8 2 9 6 10 10 11 4"/>
<path d="M0 -2 1 -6 2 -2 3 4 4 3 5 -1 6 0 7 0 8 2 9 8 10 7 11 7"/>
<path d="M0 -16 1 -7 2 -3 3 6 4 1 5 -7 6 -3 7 0 8 -1 9 5 10 6 11 -1"/>
<path d="M0 2 1 6 2 3 3 0 4 -1 5 -9 6 -13 7 -13 8 -6 9 -3 10 4 11 2"/>
<path d="M0 -13 1 -17 2 -14 3 10 4 6 5 15 6 3 7 2 8 6 9 8 10 5 11 8"/>
<path d="M0 -3 1 -7 2 -5 3 0 4 0 5 -2 6 -16 7 -4 8 -1 9 3 10 3 11 0"/>
<path d="M0 -2 1 1 2 2 3 2 4 2 5 1 6 -5 7 -10 8 -2 9 4 10 -3 11 6"/>
<path d="M0 -7 1 0 2 -3 3 20 4 16 5 4 6 4 7 1 8 7 9 3 10 3 11 10"/>
<path d="M0 -1 1 -3 2 1 3 -1 4 -1 5 0 6 -15 7 -2 8 -17 9 1 10 -1 11 2"/>
<path d="M0 -7 1 -16 2 -22 3 12 4 10 5 14 6 -1 7 -1 8 5 9 7 10 4 11 7"/>
<path d="M0 3 1 1 2 4 3 8 4 -6 5 -10 6 -22 7 -17 8 -17 9 -16 10 -18 11 -17"/>
<path d="M0 1 1 1 2 -2 3 -4 4 -7 5 -7 6 -8 7 -13 8 -6 9 3 10 -2 11 -1"/>
<path d="M0 -3 1 -13 2 -18 3 12 4 4 5 0 6 -6 7 -6 8 -4 9 5 10 0 11 1"/>
<path d="M0 -4 1 1 2 -6 3 3 4 3 5 -1 6 -1 7 -3 8 -5 9 6 10 -2 11 2"/>
<path d="M0 -36 1 -35 2 -36 3 21 4 10 5 14 6 14 7 4 8 11 9 21 10 18 11 10"/>
<path d="M0 -6 1 -4 2 -13 3 9 4 2 5 0 6 -3 7 -10 8 0 9 6 10 1 11 0"/>
<path d="M0 -16 1 -19 2 -20 3 20 4 23 5 21 6 8 7 7 8 6 9 12 10 7 11 8"/>
<path d="M0 -3 1 -4 2 -3 3 -1 4 2 5 -2 6 -3 7 -9 8 -5 9 0 10 2 11 -1"/>
<path d="M0 -4 1 -4 2 -3 3 -2 4 -5 5 -4 6 -3 7 -3 8 -5 9 4 10 -2 11 2"/>
<path d="M0 -13 1 -13 2 -11 3 38 4 6 5 7 6 -8 7 -10 8 -7 9 3 10 6 11 6"/>
<path d="M0 -1 1 -3 2 -2 3 -1 4 0 5 -5 6 0 7 -6 8 -2 9 -1 10 -3 11 -4"/>
<path d="M0 -11 1 -11 2 -3 3 3 4 0 5 -4 6 -1 7 0 8 1 9 4 10 -2 11 -1"/>
<path d="M0 -2 1 -3 2 0 3 9 4 5 5 2 6 -1 7 -4 8 1 9 -8 10 -8 11 -4"/>
<path d="M0 -5 1 -7 2 0 3 -2 4 -6 5 -5 6 1 7 1 8 2 9 -1 10 -6 11 -2"/>
<path d="M0 -3 1 -5 2 -2 3 1 4 1 5 0 6 0 7 -1 8 0 9 5 10 4 11 8"/>
<path d="M0 -3 1 -7 2 -1 3 6 4 7 5 9 6 -3 7 -4 8 -6 9 8 10 10 11 7"/>
<path d="M0 -5 1 -2 2 -2 3 2 4 -2 5 -1 6 -11 7 -8 8 -13 9 -4 10 -8 11 -6"/>
<path d="M0 -4 1 -5 2 -5 3 1 4 0 5 -2 6 5 7 0 8 4 9 2 10 -2 11 2"/>
<path d="M0 0 1 -3 2 -2 3 -5 4 -8 5 -10 6 -11 7 -3 8 -13 9 2 10 -13 11 -4"/>
<path d="M0 -6 1 -19 2 -15 3 2 4 4 5 4 6 7 7 5 8 7 9 7 10 11 11 10"/>
<path d="M0 -4 1 -5 2 -2 3 0 4 -1 5 -4 6 -2 7 0 8 -4 9 3 10 1 11 3"/>
<path d="M0 3 1 6 2 2 3 -4 4 -13 5 -9 6 -7 7 -12 8 -17 9 -9 10 -8 11 -7"/>
<path d="M0 -3 1 -2 2 -9 3 2 4 3 5 -4 6 -1 7 -2 8 5 9 5 10 -1 11 2"/>
<path d="M0 2 1 0 2 4 3 1 4 -3 5 -9 6 -21 7 -14 8 -20 9 -1 10 2 11 4"/>
<path d="M0 2 1 4 2 10 3 -8 4 -4 5 0 6 -8 7 -6 8 -5 9 13 10 2 11 3"/>
<path d="M0 -10 1 -7 2 -19 3 2 4 17 5 11 6 -22 7 -12 8 -11 9 -8 10 -17 11 3"/>
<path d="M0 -1 1 -2 2 -2 3 2 4 -7 5 -8 6 -6 7 -1 8 4 9 3 10 3 11 -3"/>
<path d="M0 -13 1 -13 2 -27 3 2 4 9 5 8 6 12 7 4 8 8 9 14 10 9 11 9"/>
<path d="M0 0 1 -5 2 -3 3 30 4 15 5 18 6 -6 7 -9 8 -8 9 3 10 10 11 10"/>
<path d="M0 -3 1 -11 2 -8 3 11 4 13 5 7 6 -6 7 -4 8 -1 9 4 10 2 11 3"/>
<path d="M0 -14 1 -13 2 -16 3 43 4 24 5 25 6 8 7 7 8 11 9 6 10 8 11 7"/>
<path d="M0 1 1 0 2 1 3 -1 4 -4 5 -3 6 -4 7 -8 8 -3 9 2 10 -2 11 -1"/>
<path d="M0 -8 1 -3 2 0 3 -3 4 -4 5 -2 6 0 7 -5 8 1 9 0 10 -5 11 0"/>
<path d="M0 4 1 3 2 4 3 -7 4 3 5 -12 6 -10 7 -8 8 -10 9 -6 10 -12 11 -12"/>
<path d="M0 -9 1 -10 2 -13 3 1 4 -5 5 -1 6 7 7 4 8 6 9 0 10 3 11 7"/>
<path d="M0 -17 1 -6 2 -4 3 -2 4 -3 5 -2 6 -18 7 -15 8 -21 9 3 10 10 11 3"/>
<path d="M0 -9 1 -6 2 -13 3 14 4 4 5 -2 6 -2 7 3 8 5 9 7 10 4 11 4"/>
<path d="M0 -6 1 -4 2 -6 3 3 4 4 5 1 6 2 7 7 8 5 9 5 10 2 11 2"/>
<path d="M0 -3 1 -4 2 -4 3 13 4 14 5 10 6 2 7 2 8 3 9 9 10 5 11 7"/>
<path d="M0 1 1 2 2 -2 3 -7 4 -3 5 -3 6 -12 7 -13 8 -11 9 -6 10 -7 11 -2"/>
<path d="M0 -12 1 19 2 -19 3 27 4 12 5 22 6 18 7 11 8 19 9 15 10 10 11 15"/>
<path d="M0 -15 1 -13 2 -21 3 18 4 16 5 7 6 4 7 6 8 5 9 11 10 9 11 11"/>
<path d="M0 -17 1 -20 2 -21 3 30 4 11 5 7 6 13 7 9 8 11 9 17 10 11 11 10"/>
<path d="M0 -5 1 -7 2 -3 3 0 4 -2 5 -4 6 2 7 -1 8 4 9 6 10 3 11 0"/>
<path d="M0 -10 1 -9 2 -10 3 9 4 9 5 8 6 6 7 5 8 6 9 1 10 3 11 4"/>
<path d="M0 -30 1 -3 2 -1 3 -4 4 -6 5 20 6 -1 7 -4 8 -7 9 -5 10 -10 11 -5"/>
<path d="M0 -1 1 -3 2 -3 3 -4 4 -4 5 -11 6 -4 7 -6 8 -3 9 5 10 4 11 4"/>
<path d="M0 -4 1 -2 2 -3 3 -2 4 -6 5 -11 6 -8 7 -8 8 -7 9 -1 10 1 11 1"/>
<path d="M0 -21 1 -20 2 -25 3 26 4 31 5 15 6 5 7 2 8 5 9 12 10 10 11 10"/>
<path d="M0 -3 1 -2 2 -4 3 2 4 0 5 -9 6 -1 7 -9 8 3 9 8 10 -1 11 0"/>
<path d="M0 -4 1 -3 2 -5 3 7 4 9 5 4 6 2 7 -2 8 1 9 8 10 4 11 5"/>
<path d="M0 -2 1 -1 2 -1 3 0 4 6 5 1 6 -8 7 -10 8 -11 9 -3 10 -9 11 -6"/>
<path d="M0 1 1 -4 2 -3 3 -2 4 1 5 -12 6 -4 7 0 8 6 9 -5 10 -12 11 -2"/>
<path d="M0 -14 1 -17 2 -4 3 7 4 6 5 10 6 -1 7 -4 8 2 9 8 10 4 11 1"/>
<path d="M0 -1 1 -3 2 -2 3 -4 4 -7 5 -7 6 -8 7 -6 8 -10 9 -1 10 -8 11 1"/>
<path d="M0 -1 1 -1 2 0 3 -2 4 0 5 -5 6 -12 7 -13 8 -8 9 -2 10 -4 11 -1"/>
<path d="M0 -10 1 -2 2 -8 3 4 4 11 5 9 6 3 7 2 8 0 9 9 10 5 11 2"/>
<path d="M0 -3 1 -2 2 -1 3 -3 4 1 5 -7 6 3 7 0 8 1 9 6 10 9 11 3"/>
<path d="M0 -5 1 -5 2 -8 3 8 4 10 5 5 6 2 7 0 8 2 9 -1 10 1 11 4"/>
<path d="M0 -26 1 -13 2 -14 3 9 4 8 5 5 6 -3 7 -1 8 7 9 11 10 3 11 7"/>
<path d="M0 9 1 8 2 9 3 -12 4 -13 5 -16 6 -21 7 -21 8 -21 9 -16 10 -6 11 -17"/>
<path d="M0 2 1 2 2 3 3 4 4 0 5 -3 6 -2 7 -7 8 1 9 -5 10 0 11 -7"/>
<path d="M0 -12 1 -15 2 -14 3 14 4 17 5 12 6 6 7 3 8 7 9 6 10 6 11 7"/>
<path d="M0 -3 1 -10 2 -20 3 16 4 7 5 6 6 -6 7 -8 8 1 9 2 10 10 11 5"/>
<path d="M0 -15 1 -12 2 -9 3 2 4 16 5 13 6 0 7 3 8 11 9 17 10 11 11 15"/>
<path d="M0 -3 1 -4 2 -4 3 17 4 17 5 16 6 6 7 7 8 9 9 7 10 9 11 10"/>
<path d="M0 -13 1 -10 2 -15 3 9 4 14 5 1 6 2 7 -6 8 -1 9 7 10 2 11 5"/>
<path d="M0 -6 1 -9 2 -6 3 7 4 1 5 0 6 4 7 2 8 3 9 9 10 8 11 11"/>
<path d="M0 6 1 6 2 9 3 -10 4 -7 5 -10 6 -8 7 -11 8 -6 9 -2 10 -1 11 -5"/>
<path d="M0 1 1 -4 2 -1 3 3 4 7 5 -2 6 -4 7 -17 8 -18 9 -1 10 -3 11 -4"/>
<path d="M0 -5 1 -9 2 -9 3 8 4 6 5 3 6 0 7 1 8 4 9 6 10 5 11 5"/>
<path d="M0 0 1 -2 2 -1 3 3 4 1 5 0 6 0 7 -2 8 0 9 2 10 3 11 -1"/>
<path d="M0 -4 1 -3 2 -7 3 -1 4 5 5 -2 6 -2 7 -10 8 0 9 -4 10 -1 11 -1"/>
<path d="M0 -3 1 -3 2 -2 3 4 4 1 5 -1 6 2 7 -1 8 -8 9 -4 10 -4 11 0"/>
<path d="M0 -2 1 -2 2 -2 3 0 4 -4 5 -9 6 0 7 -1 8 -6 9 -3 10 -4 11 -5"/>
<path d="M0 -14 1 -25 2 -15 3 17 4 17 5 11 6 14 7 9 8 17 9 6 10 5 11 12"/>
<path d="M0 -3 1 -1 2 -3 3 -4 4 -4 5 -9 6 -4 7 -5 8 -3 9 6 10 3 11 2"/>
<path d="M0 -14 1 -12 2 -22 3 16 4 17 5 15 6 7 7 5 8 10 9 4 10 8 11 5"/>
<path d="M0 -3 1 -2 2 -3 3 21 4 17 5 21 6 5 7 8 8 2 9 -5 10 -8 11 -5"/>
<path d="M0 -4 1 -4 2 -7 3 5 4 4 5 -1 6 -5 7 -4 8 -1 9 1 10 14 11 2"/>
<path d="M0 -1 1 -7 2 -1 3 -1 4 -2 5 22 6 1 7 -2 8 2 9 -1 10 -5 11 2"/>
<path d="M0 4 1 -12 2 -15 3 22 4 10 5 15 6 7 7 7 8 8 9 13 10 10 11 10"/>
<path d="M0 -2 1 0 2 -3 3 3 4 6 5 0 6 -5 7 -4 8 -2 9 3 10 -3 11 -1"/>
<path d="M0 -3 1 -4 2 -6 3 4 4 7 5 2 6 -4 7 -3 8 -3 9 5 10 4 11 2"/>
<path d="M0 -10 1 -6 2 -7 3 9 4 3 5 0 6 2 7 0 8 3 9 4 10 1 11 -2"/>
<path d="M0 -3 1 -7 2 -2 3 3 4 15 5 0 6 6 7 -9 8 4 9 -4 10 -1 11 -1"/>
<path d="M0 -1 1 -3 2 -2 3 24 4 13 5 3 6 7 7 -8 8 11 9 -4 10 -2 11 -4"/>
<path d="M0 -4 1 -4 2 -5 3 3 4 1 5 -1 6 3 7 3 8 0 9 6 10 0 11 3"/>
<path d="M0 -5 1 -9 2 -3 3 8 4 2 5 5 6 0 7 -7 8 2 9 7 10 10 11 14"/>
<path d="M0 3 1 0 2 0 3 9 4 1 5 -2 6 0 7 -1 8 2 9 -12 10 -15 11 -12"/>
<path d="M0 -11 1 -5 2 -8 3 6 4 2 5 1 6 0 7 0 8 3 9 3 10 3 11 1"/>
<path d="M0 -22 1 -10 2 -4 3 -12 4 -7 5 -15 6 -8 7 -11 8 -3 9 4 10 -10 11 2"/>
<path d="M0 -1 1 -3 2 -2 3 -1 4 1 5 -2 6 -2 7 -1 8 -2 9 -6 10 -3 11 2"/>
<path d="M0 -7 1 -15 2 -14 3 -4 4 -5 5 -2 6 8 7 6 8 13 9 2 10 -4 11 4"/>
<path d="M0 -2 1 -13 2 -20 3 -1 4 11 5 -3 6 6 7 8 8 9 9 2 10 9 11 5"/>
<path d="M0 -7 1 -4 2 -4 3 1 4 3 5 16 6 1 7 -2 8 1 9 6 10 3 11 3"/>
<path d="M0 -2 1 -6 2 -3 3 -2 4 4 5 1 6 4 7 -1 8 -1 9 -1 10 4 11 6"/>
<path d="M0 -11 1 -7 2 -4 3 3 4 -2 5 18 6 4 7 1 8 3 9 1 10 3 11 5"/>
<path d="M0 -4 1 -8 2 -12 3 7 4 14 5 0 6 1 7 2 8 5 9 6 10 3 11 6"/>
<path d="M0 -8 1 -11 2 -13 3 13 4 10 5 10 6 4 7 1 8 4 9 7 10 7 11 7"/>
<path d="M0 0 1 -1 2 -2 3 -15 4 3 5 3 6 1 7 -5 8 2 9 3 10 2 11 2"/>
<path d="M0 -18 1 -12 2 -10 3 3 4 9 5 3 6 -7 7 -5 8 -2 9 7 10 0 11 -3"/>
<path d="M0 -7 1 -5 2 -11 3 0 4 -5 5 2 6 -6 7 -8 8 -4 9 2 10 2 11 3"/>
<path d="M0 -6 1 -6 2 -4 3 3 4 3 5 33 6 0 7 2 8 4 9 4 10 5 11 6"/>
<path d="M0 -3 1 -7 2 -26 3 27 4 24 5 9 6 5 7 -1 8 0 9 12 10 15 11 18"/>
<path d="M0 -13 1 -15 2 -21 3 6 4 3 5 1 6 0 7 -1 8 4 9 7 10 4 11 2"/>
<path d="M0 -3 1 -5 2 2 3 5 4 -3 5 -8 6 -1 7 -5 8 2 9 5 10 -5 11 -8"/>
<path d="M0 -6 1 5 2 -1 3 10 4 -2 5 22 6 -3 7 -5 8 -6 9 0 10 -11 11 -10"/>
<path d="M0 9 1 7 2 7 3 15 4 -3 5 -8 6 -22 7 -23 8 -9 9 -11 10 -8 11 -17"/>
<path d="M0 1 1 4 2 0 3 -3 4 3 5 9 6 -10 7 -10 8 -7 9 -7 10 -8 11 -3"/>
<path d="M0 -2 1 -2 2 -4 3 9 4 4 5 5 6 1 7 4 8 4 9 9 10 12 11 10"/>
<path d="M0 -4 1 -10 2 -11 3 10 4 7 5 -4 6 0 7 0 8 -2 9 4 10 4 11 7"/>
<path d="M0 -6 1 -7 2 -4 3 6 4 1 5 1 6 0 7 -1 8 2 9 0 10 3 11 1"/>
<path d="M0 -4 1 -6 2 -2 3 5 4 2 5 4 6 2 7 -1 8 -4 9 4 10 1 11 1"/>
<path d="M0 -17 1 -12 2 -12 3 8 4 19 5 14 6 7 7 7 8 3 9 6 10 4 11 4"/>
<path d="M0 -8 1 -4 2 -3 3 7 4 5 5 0 6 0 7 0 8 1 9 7 10 4 11 5"/>
<path d="M0 -6 1 -3 2 -4 3 4 4 4 5 2 6 3 7 2 8 6 9 6 10 1 11 -1"/>
<path d="M0 -5 1 -7 2 -5 3 8 4 4 5 0 6 0 7 0 8 0 9 6 10 2 11 9"/>
<path d="M0 -2 1 -13 2 -7 3 4 4 11 5 4 6 6 7 4 8 5 9 7 10 6 11 2"/>
<path d="M0 -6 1 -5 2 -2 3 5 4 6 5 5 6 6 7 2 8 7 9 3 10 7 11 5"/>
<path d="M0 -9 1 -18 2 -12 3 19 4 11 5 7 6 7 7 4 8 6 9 11 10 13 11 11"/>
<path d="M0 -4 1 -11 2 -6 3 14 4 14 5 7 6 5 7 1 8 6 9 5 10 6 11 6"/>
<path d="M0 -1 1 -2 2 0 3 1 4 -3 5 -2 6 -3 7 -8 8 -3 9 7 10 3 11 2"/>
<path d="M0 -2 1 -5 2 -2 3 8 4 14 5 7 6 2 7 -2 8 8 9 11 10 5 11 6"/>
<path d="M0 0 1 -2 2 1 3 1 4 -3 5 -2 6 -5 7 -10 8 -2 9 8 10 6 11 7"/>
<path d="M0 -15 1 -12 2 -14 3 19 4 28 5 7 6 5 7 1 8 0 9 7 10 11 11 9"/>
<path d="M0 -8 1 -11 2 -14 3 2 4 2 5 1 6 2 7 0 8 2 9 10 10 5 11 6"/>
<path d="M0 1 1 7 2 4 3 -3 4 -9 5 -4 6 9 7 -3 8 5 9 -7 10 -15 11 -16"/>
<path d="M0 -5 1 -5 2 -4 3 10 4 5 5 8 6 4 7 2 8 -10 9 3 10 4 11 4"/>
<path d="M0 -3 1 -3 2 -2 3 11 4 8 5 -1 6 -7 7 -5 8 -10 9 5 10 4 11 5"/>
<path d="M0 -9 1 -9 2 -12 3 14 4 5 5 4 6 4 7 3 8 8 9 10 10 9 11 8"/>
<path d="M0 -23 1 -11 2 -15 3 17 4 3 5 0 6 6 7 4 8 11 9 13 10 6 11 9"/>
<path d="M0 -18 1 -12 2 -17 3 11 4 15 5 5 6 7 7 3 8 3 9 13 10 11 11 11"/>
<path d="M0 -19 1 -16 2 -13 3 2 4 7 5 0 6 4 7 -4 8 5 9 5 10 7 11 9"/>
<path d="M0 -10 1 -2 2 -1 3 16 4 18 5 10 6 1 7 -3 8 3 9 -1 10 -4 11 -2"/>
<path d="M0 0 1 -2 2 0 3 0 4 1 5 -3 6 -5 7 -5 8 -4 9 10 10 -2 11 -1"/>
<path d="M0 -1 1 -2 2 -1 3 2 4 2 5 -3 6 0 7 -5 8 -2 9 1 10 -1 11 -2"/>
<path d="M0 -1 1 2 2 -4 3 3 4 1 5 0 6 -1 7 -8 8 -13 9 -3 10 -7 11 0"/>
<path d="M0 -10 1 -11 2 -22 3 26 4 26 5 35 6 7 7 10 8 13 9 9 10 3 11 7"/>
<path d="M0 -3 1 -4 2 -11 3 18 4 12 5 10 6 2 7 0 8 14 9 12 10 8 11 11"/>
<path d="M0 -14 1 -15 2 -17 3 21 4 4 5 12 6 8 7 9 8 7 9 12 10 15 11 12"/>
<path d="M0 -5 1 -5 2 -5 3 2 4 3 5 0 6 5 7 4 8 2 9 0 10 4 11 2"/>
<path d="M0 -4 1 -2 2 -3 3 6 4 1 5 10 6 1 7 -6 8 3 9 -1 10 -2 11 -3"/>
<path d="M0 -1 1 5 2 0 3 -11 4 -1 5 21 6 -11 7 -14 8 -12 9 1 10 -1 11 -7"/>
<path d="M0 -10 1 -13 2 -14 3 2 4 3 5 4 6 3 7 -1 8 4 9 8 10 8 11 7"/>
<path d="M0 -4 1 -4 2 -5 3 2 4 -6 5 5 6 7 7 -5 8 -9 9 6 10 -3 11 -1"/>
<path d="M0 0 1 -4 2 1 3 0 4 -7 5 -11 6 -6 7 -6 8 -2 9 7 10 -2 11 -1"/>
<path d="M0 -7 1 -3 2 -2 3 18 4 2 5 3 6 -7 7 -5 8 -1 9 5 10 3 11 4"/>
<path d="M0 -16 1 -9 2 -21 3 7 4 15 5 10 6 7 7 3 8 3 9 6 10 6 11 8"/>
<path d="M0 -11 1 -12 2 -8 3 8 4 7 5 0 6 3 7 0 8 3 9 10 10 4 11 4"/>
<path d="M0 -4 1 -16 2 -12 3 28 4 12 5 19 6 7 7 5 8 6 9 -3 10 8 11 7"/>
<path d="M0 -14 1 -6 2 -10 3 6 4 7 5 3 6 6 7 4 8 3 9 3 10 7 11 0"/>
<path d="M0 -19 1 -23 2 -21 3 12 4 8 5 7 6 0 7 3 8 8 9 12 10 7 11 7"/>
<path d="M0 -2 1 -6 2 -3 3 1 4 2 5 1 6 0 7 2 8 -1 9 -2 10 -3 11 2"/>
<path d="M0 -29 1 -30 2 -31 3 20 4 18 5 14 6 8 7 3 8 2 9 22 10 11 11 12"/>
<path d="M0 -1 1 0 2 -9 3 17 4 28 5 17 6 14 7 6 8 7 9 10 10 16 11 12"/>
<path d="M0 -15 1 -23 2 -18 3 5 4 1 5 6 6 15 7 12 8 5 9 3 10 0 11 2"/>
<path d="M0 -6 1 -2 2 0 3 2 4 5 5 -5 6 2 7 3 8 9 9 7 10 6 11 -5"/>
<path d="M0 1 1 4 2 3 3 -1 4 0 5 -6 6 -8 7 -6 8 -8 9 0 10 2 11 9"/>
<path d="M0 -23 1 -17 2 -12 3 8 4 4 5 -2 6 2 7 3 8 -3 9 12 10 11 11 12"/>
<path d="M0 -24 1 -15 2 -8 3 20 4 -2 5 -2 6 1 7 1 8 5 9 4 10 -7 11 -1"/>
<path d="M0 -2 1 -4 2 0 3 -5 4 -6 5 -8 6 -7 7 -3 8 0 9 -4 10 -11 11 -14"/>
<path d="M0 -2 1 -2 2 -2 3 2 4 2 5 -2 6 3 7 -3 8 1 9 3 10 5 11 5"/>
<path d="M0 -12 1 -3 2 -10 3 2 4 2 5 -7 6 -8 7 -4 8 4 9 3 10 7 11 6"/>
<path d="M0 -2 1 -3 2 -2 3 1 4 -2 5 -2 6 -2 7 -1 8 0 9 0 10 -1 11 -3"/>
<path d="M0 -6 1 -4 2 -10 3 15 4 15 5 13 6 -1 7 -2 8 3 9 1 10 0 11 -3"/>
<path d="M0 -3 1 -9 2 -8 3 -1 4 -4 5 4 6 -8 7 -12 8 -3 9 10 10 12 11 13"/>
<path d="M0 -2 1 -2 2 -2 3 19 4 3 5 3 6 -1 7 -3 8 -1 9 5 10 5 11 3"/>
<path d="M0 -2 1 -15 2 -6 3 0 4 1 5 -1 6 -8 7 -7 8 -8 9 3 10 0 11 2"/>
<path d="M0 -5 1 -7 2 -6 3 24 4 16 5 15 6 7 7 5 8 8 9 4 10 8 11 8"/>
<path d="M0 -3 1 -12 2 -4 3 19 4 14 5 17 6 3 7 3 8 1 9 9 10 8 11 11"/>
<path d="M0 -4 1 -3 2 -6 3 5 4 3 5 0 6 -1 7 -5 8 -2 9 3 10 4 11 2"/>
<path d="M0 0 1 1 2 -2 3 0 4 2 5 5 6 -8 7 -11 8 -2 9 2 10 2 11 -5"/>
<path d="M0 -12 1 -16 2 -8 3 16 4 2 5 28 6 8 7 6 8 6 9 17 10 11 11 7"/>
<path d="M0 0 1 -2 2 -1 3 10 4 4 5 3 6 3 7 3 8 0 9 8 10 3 11 11"/>
<path d="M0 -1 1 -2 2 0 3 2 4 0 5 -2 6 1 7 -1 8 1 9 2 10 3 11 5"/>
<path d="M0 -9 1 -13 2 -11 3 2 4 1 5 5 6 -2 7 -4 8 -2 9 5 10 3 11 7"/>
<path d="M0 -11 1 -8 2 -3 3 12 4 5 5 3 6 5 7 2 8 1 9 7 10 5 11 8"/>
<path d="M0 -5 1 -4 2 -6 3 -20 4 0 5 2 6 4 7 3 8 3 9 2 10 2 11 2"/>
<path d="M0 -2 1 -1 2 -4 3 -7 4 -8 5 -8 6 1 7 -9 8 -6 9 -3 10 -2 11 -3"/>
<path d="M0 -2 1 -2 2 0 3 1 4 -2 5 -5 6 1 7 0 8 3 9 -2 10 2 11 -3"/>
<path d="M0 -3 1 -8 2 -7 3 6 4 5 5 29 6 2 7 4 8 4 9 3 10 1 11 4"/>
<path d="M0 -4 1 -4 2 -8 3 2 4 1 5 0 6 -5 7 -3 8 0 9 -2 10 -3 11 -2"/>
<path d="M0 -2 1 -2 2 -7 3 8 4 5 5 -1 6 -3 7 -6 8 -4 9 5 10 0 11 3"/>
<path d="M0 -10 1 -9 2 -13 3 16 4 9 5 7 6 9 7 5 8 7 9 4 10 1 11 -3"/>
<path d="M0 -1 1 -4 2 -1 3 28 4 0 5 -2 6 -6 7 -8 8 -5 9 1 10 0 11 -1"/>
<path d="M0 4 1 7 2 -1 3 -3 4 -2 5 21 6 -21 7 -16 8 -13 9 -2 10 -2 11 3"/>
<path d="M0 -3 1 -3 2 -3 3 0 4 4 5 -2 6 -1 7 -1 8 -3 9 4 10 6 11 3"/>
<path d="M0 -9 1 -5 2 -5 3 0 4 1 5 -3 6 1 7 0 8 3 9 4 10 5 11 0"/>
<path d="M0 -5 1 -5 2 -3 3 1 4 -4 5 1 6 -1 7 0 8 -3 9 -11 10 3 11 6"/>
<path d="M0 -6 1 -4 2 -1 3 7 4 4 5 -1 6 -10 7 -5 8 -9 9 -2 10 -3 11 0"/>
<path d="M0 -13 1 -11 2 -8 3 2 4 -1 5 0 6 6 7 6 8 11 9 6 10 -1 11 2"/>
<path d="M0 1 1 -6 2 -2 3 0 4 -5 5 -6 6 -7 7 -8 8 -6 9 0 10 2 11 -5"/>
<path d="M0 -5 1 -4 2 -5 3 7 4 1 5 0 6 4 7 2 8 3 9 5 10 1 11 2"/>
<path d="M0 -10 1 -13 2 -10 3 0 4 1 5 0 6 2 7 -3 8 5 9 4 10 4 11 5"/>
<path d="M0 0 1 0 2 -3 3 6 4 0 5 4 6 -1 7 -4 8 -3 9 -1 10 -3 11 1"/>
<path d="M0 14 1 -3 2 -14 3 22 4 19 5 3 6 4 7 -2 8 1 9 -5 10 -4 11 2"/>
<path d="M0 -3 1 -4 2 -6 3 3 4 3 5 0 6 2 7 0 8 3 9 1 10 -3 11 3"/>
<path d="M0 6 1 -2 2 2 3 3 4 1 5 3 6 2 7 -1 8 4 9 -1 10 0 11 -2"/>
<path d="M0 -9 1 -26 2 -3 3 8 4 37 5 2 6 6 7 9 8 14 9 8 10 12 11 10"/>
<path d="M0 5 1 5 2 1 3 3 4 -4 5 -13 6 -3 7 -4 8 1 9 0 10 0 11 -2"/>
<path d="M0 -24 1 -5 2 -13 3 39 4 10 5 8 6 6 7 3 8 7 9 8 10 7 11 9"/>
<path d="M0 2 1 0 2 -2 3 -4 4 -4 5 -4 6 -4 7 -5 8 -3 9 -3 10 -9 11 -7"/>
<path d="M0 4 1 -1 2 2 3 -4 4 -6 5 -4 6 -14 7 -9 8 -19 9 -5 10 -5 11 -3"/>
<path d="M0 -6 1 -7 2 -7 3 8 4 9 5 5 6 2 7 -2 8 4 9 7 10 3 11 6"/>
<path d="M0 -19 1 -8 2 -10 3 17 4 11 5 4 6 1 7 5 8 8 9 1 10 4 11 2"/>
<path d="M0 -13 1 -11 2 -6 3 17 4 -1 5 6 6 1 7 -3 8 1 9 1 10 0 11 4"/>
<path d="M0 -5 1 -6 2 -4 3 1 4 3 5 -4 6 0 7 2 8 2 9 3 10 1 11 2"/>
<path d="M0 -23 1 0 2 1 3 14 4 15 5 28 6 -3 7 6 8 0 9 -1 10 -2 11 -5"/>
<path d="M0 3 1 -2 2 -2 3 12 4 15 5 4 6 5 7 5 8 8 9 10 10 0 11 9"/>
<path d="M0 -5 1 -5 2 -9 3 4 4 9 5 4 6 5 7 5 8 4 9 11 10 4 11 8"/>
<path d="M0 -10 1 -11 2 -9 3 -1 4 -2 5 20 6 10 7 7 8 9 9 6 10 3 11 6"/>
<path d="M0 4 1 1 2 5 3 3 4 -3 5 -5 6 -6 7 -14 8 -8 9 -4 10 -5 11 -6"/>
<path d="M0 -4 1 -5 2 -6 3 3 4 0 5 -1 6 -7 7 -8 8 -6 9 1 10 0 11 4"/>
<path d="M0 -14 1 -14 2 -22 3 13 4 12 5 2 6 7 7 6 8 9 9 9 10 8 11 10"/>
<path d="M0 -4 1 -5 2 -14 3 12 4 8 5 5 6 -1 7 -1 8 3 9 1 10 -2 11 2"/>
<path d="M0 -2 1 -4 2 -3 3 24 4 0 5 -3 6 -2 7 -4 8 -5 9 2 10 -1 11 -6"/>
<path d="M0 -17 1 -7 2 -10 3 11 4 6 5 4 6 -1 7 0 8 0 9 6 10 3 11 5"/>
<path d="M0 -2 1 -10 2 -5 3 14 4 1 5 5 6 1 7 5 8 4 9 2 10 7 11 -1"/>
<path d="M0 -15 1 -20 2 -18 3 11 4 13 5 7 6 5 7 3 8 3 9 7 10 6 11 9"/>
<path d="M0 1 1 -5 2 4 3 6 4 0 5 1 6 -2 7 5 8 4 9 7 10 4 11 8"/>
<path d="M0 0 1 -3 2 -4 3 7 4 10 5 0 6 5 7 0 8 8 9 6 10 0 11 5"/>
<path d="M0 2 1 0 2 -1 3 -3 4 -2 5 -3 6 -10 7 -10 8 -13 9 -4 10 0 11 2"/>
<path d="M0 -1 1 -3 2 -1 3 4 4 7 5 1 6 -5 7 -9 8 0 9 -1 10 -6 11 4"/>
<path d="M0 -4 1 -4 2 -2 3 -2 4 -1 5 -6 6 4 7 -2 8 4 9 0 10 -3 11 -2"/>
<path d="M0 -5 1 -4 2 -12 3 1 4 -1 5 6 6 5 7 2 8 5 9 5 10 4 11 3"/>
<path d="M0 -8 1 -9 2 -8 3 9 4 12 5 6 6 1 7 1 8 4 9 7 10 8 11 5"/>
<path d="M0 -20 1 -24 2 -27 3 14 4 9 5 12 6 8 7 -2 8 11 9 9 10 9 11 11"/>
<path d="M0 -6 1 -15 2 -3 3 2 4 -4 5 -1 6 8 7 6 8 0 9 1 10 5 11 0"/>
<path d="M0 3 1 -3 2 1 3 18 4 0 5 6 6 -6 7 -8 8 -10 9 2 10 0 11 2"/>
<path d="M0 3 1 0 2 1 3 3 4 0 5 -4 6 -9 7 -17 8 -14 9 -2 10 -5 11 -3"/>
<path d="M0 4 1 3 2 5 3 2 4 0 5 -4 6 -6 7 -6 8 3 9 -3 10 1 11 -8"/>
<path d="M0 0 1 0 2 1 3 2 4 -4 5 -2 6 1 7 2 8 0 9 -2 10 1 11 1"/>
<path d="M0 -4 1 -2 2 -2 3 20 4 -1 5 -1 6 -2 7 -7 8 2 9 3 10 -1 11 4"/>
<path d="M0 -7 1 -10 2 -1 3 18 4 9 5 2 6 -5 7 -10 8 -1 9 -3 10 -1 11 0"/>
<path d="M0 -1 1 1 2 -4 3 1 4 6 5 0 6 -6 7 -5 8 -2 9 -1 10 -1 11 -7"/>
<path d="M0 -3 1 -6 2 -3 3 1 4 -1 5 -1 6 -1 7 -1 8 -2 9 5 10 5 11 5"/>
<path d="M0 1 1 -2 2 1 3 -3 4 -2 5 -4 6 -3 7 -9 8 -5 9 8 10 10 11 4"/>
<path d="M0 -21 1 -6 2 -8 3 1 4 0 5 0 6 6 7 8 8 7 9 2 10 4 11 2"/>
<path d="M0 -1 1 0 2 -2 3 -11 4 -4 5 -6 6 -11 7 -16 8 -16 9 5 10 2 11 -4"/>
<path d="M0 -13 1 -7 2 -7 3 6 4 1 5 7 6 1 7 -2 8 3 9 9 10 6 11 7"/>
<path d="M0 3 1 0 2 2 3 1 4 -10 5 -11 6 -15 7 -10 8 -10 9 -5 10 -12 11 3"/>
<path d="M0 -7 1 -12 2 -5 3 13 4 14 5 12 6 1 7 1 8 4 9 10 10 8 11 10"/>
<path d="M0 -17 1 -8 2 -6 3 14 4 12 5 15 6 -1 7 4 8 5 9 18 10 9 11 6"/>
<path d="M0 -11 1 -16 2 -7 3 18 4 19 5 20 6 5 7 -1 8 2 9 2 10 4 11 8"/>
<path d="M0 -1 1 1 2 -1 3 -4 4 -7 5 -6 6 -2 7 -6 8 -4 9 -1 10 4 11 -1"/>
<path d="M0 -9 1 -3 2 15 3 1 4 -3 5 -3 6 5 7 9 8 10 9 11 10 8 11 5"/>
<path d="M0 -12 1 -8 2 -15 3 21 4 21 5 15 6 5 7 7 8 9 9 17 10 15 11 16"/>
<path d="M0 -9 1 -10 2 -17 3 9 4 21 5 6 6 2 7 1 8 9 9 4 10 0 11 -2"/>
<path d="M0 -9 1 -8 2 -3 3 9 4 4 5 8 6 1 7 -2 8 -1 9 2 10 4 11 5"/>
<path d="M0 -9 1 -9 2 -13 3 1 4 2 5 33 6 -3 7 2 8 5 9 12 10 5 11 5"/>
<path d="M0 -14 1 -17 2 -3 3 19 4 19 5 30 6 12 7 5 8 13 9 17 10 10 11 14"/>
<path d="M0 1 1 0 2 -2 3 -4 4 -3 5 -5 6 0 7 3 8 -1 9 -4 10 -5 11 1"/>
<path d="M0 -3 1 -1 2 -3 3 5 4 0 5 -2 6 -10 7 0 8 -9 9 -10 10 -10 11 -14"/>
<path d="M0 -4 1 -4 2 -2 3 -2 4 -2 5 0 6 -5 7 -1 8 -6 9 4 10 5 11 0"/>
<path d="M0 4 1 -1 2 -2 3 7 4 3 5 0 6 -4 7 -5 8 3 9 -3 10 -12 11 -13"/>
<path d="M0 -3 1 -10 2 -9 3 0 4 -3 5 -5 6 -1 7 1 8 2 9 3 10 -1 11 7"/>
<path d="M0 -2 1 -17 2 -5 3 13 4 16 5 3 6 -12 7 -5 8 -5 9 3 10 7 11 -1"/>
<path d="M0 -2 1 -2 2 -1 3 2 4 -1 5 -7 6 -4 7 -6 8 0 9 0 10 6 11 1"/>
<path d="M0 -10 1 -28 2 -29 3 27 4 27 5 24 6 15 7 17 8 16 9 14 10 14 11 9"/>
<path d="M0 -14 1 -15 2 -13 3 32 4 17 5 20 6 10 7 11 8 10 9 12 10 12 11 10"/>
<path d="M0 -6 1 -12 2 0 3 20 4 3 5 15 6 8 7 11 8 11 9 10 10 -19 11 6"/>
<path d="M0 -14 1 -12 2 -13 3 7 4 13 5 3 6 5 7 2 8 5 9 4 10 -14 11 4"/>
<path d="M0 3 1 3 2 4 3 -3 4 -2 5 -2 6 -12 7 -5 8 -3 9 -9 10 -9 11 -9"/>
<path d="M0 -12 1 -12 2 -19 3 24 4 16 5 28 6 18 7 13 8 19 9 20 10 17 11 16"/>
<path d="M0 -2 1 -4 2 -2 3 1 4 1 5 -4 6 0 7 -5 8 1 9 5 10 0 11 5"/>
<path d="M0 -4 1 -9 2 -6 3 6 4 8 5 -1 6 3 7 -1 8 2 9 6 10 7 11 5"/>
<path d="M0 -3 1 -12 2 -10 3 18 4 24 5 10 6 11 7 3 8 10 9 10 10 7 11 7"/>
<path d="M0 -9 1 -4 2 -2 3 9 4 4 5 4 6 2 7 5 8 1 9 3 10 3 11 8"/>
<path d="M0 -3 1 -3 2 -7 3 0 4 -1 5 -2 6 -1 7 -1 8 -1 9 1 10 4 11 3"/>
<path d="M0 -13 1 -18 2 -15 3 16 4 21 5 8 6 8 7 5 8 12 9 10 10 12 11 7"/>
<path d="M0 -3 1 -11 2 0 3 27 4 4 5 2 6 4 7 0 8 2 9 -3 10 -8 11 -8"/>
<path d="M0 -1 1 -1 2 -2 3 -3 4 -4 5 -6 6 -7 7 -9 8 -6 9 -4 10 -9 11 -6"/>
<path d="M0 -6 1 -10 2 -7 3 4 4 3 5 6 6 2 7 1 8 -1 9 6 10 5 11 3"/>
<path d="M0 -5 1 -1 2 -1 3 -3 4 2 5 0 6 -9 7 -5 8 -4 9 9 10 -9 11 4"/>
<path d="M0 -3 1 -3 2 -2 3 13 4 9 5 7 6 6 7 3 8 6 9 7 10 7 11 1"/>
<path d="M0 -2 1 -3 2 -2 3 3 4 2 5 -1 6 0 7 1 8 1 9 3 10 1 11 2"/>
<path d="M0 -7 1 -4 2 -9 3 8 4 10 5 9 6 8 7 4 8 8 9 7 10 7 11 5"/>
<path d="M0 -3 1 -2 2 -2 3 6 4 9 5 -2 6 1 7 1 8 1 9 3 10 -1 11 3"/>
<path d="M0 -5 1 -15 2 -13 3 0 4 -1 5 3 6 5 7 -4 8 3 9 6 10 12 11 14"/>
<path d="M0 1 1 -11 2 -3 3 14 4 -3 5 -8 6 -2 7 -1 8 3 9 -1 10 -2 11 0"/>
<path d="M0 -7 1 -1 2 -1 3 8 4 8 5 12 6 5 7 2 8 4 9 12 10 5 11 6"/>
<path d="M0 -10 1 -15 2 -9 3 2 4 2 5 -5 6 -5 7 -3 8 0 9 10 10 7 11 10"/>
<path d="M0 -10 1 -6 2 -17 3 17 4 11 5 8 6 -3 7 1 8 2 9 5 10 2 11 4"/>
<path d="M0 -3 1 -3 2 -6 3 2 4 2 5 2 6 5 7 4 8 4 9 2 10 1 11 3"/>
<path d="M0 -6 1 -4 2 -5 3 12 4 4 5 1 6 -3 7 -7 8 -4 9 5 10 5 11 4"/>
<path d="M0 -4 1 -7 2 -6 3 4 4 -1 5 -2 6 10 7 6 8 8 9 -4 10 -5 11 -5"/>
<path d="M0 -17 1 -19 2 -10 3 15 4 18 5 -1 6 4 7 5 8 12 9 15 10 11 11 11"/>
<path d="M0 1 1 -4 2 1 3 13 4 17 5 31 6 -6 7 1 8 2 9 -5 10 -5 11 1"/>
<path d="M0 -13 1 -7 2 -3 3 6 4 8 5 38 6 9 7 -1 8 6 9 17 10 14 11 9"/>
<path d="M0 -1 1 2 2 18 3 1 4 2 5 -2 6 -9 7 -10 8 -13 9 -5 10 -6 11 -11"/>
<path d="M0 -9 1 -14 2 -4 3 1 4 -1 5 0 6 1 7 0 8 -2 9 9 10 4 11 4"/>
<path d="M0 -4 1 -5 2 -7 3 3 4 0 5 5 6 -3 7 -4 8 5 9 8 10 12 11 15"/>
<path d="M0 -11 1 -5 2 -7 3 10 4 10 5 4 6 3 7 1 8 7 9 4 10 4 11 2"/>
<path d="M0 -2 1 -4 2 -3 3 2 4 5 5 0 6 -2 7 -3 8 -1 9 3 10 2 11 -3"/>
<path d="M0 -24 1 -24 2 -32 3 15 4 11 5 34 6 3 7 11 8 7 9 10 10 10 11 7"/>
<path d="M0 -3 1 -13 2 -11 3 1 4 -3 5 -2 6 -5 7 -2 8 2 9 -14 10 -5 11 -13"/>
<path d="M0 -5 1 -7 2 -9 3 9 4 7 5 7 6 8 7 7 8 6 9 1 10 3 11 -1"/>
<path d="M0 -14 1 -14 2 -16 3 14 4 16 5 14 6 6 7 2 8 8 9 5 10 8 11 8"/>
<path d="M0 -25 1 -14 2 -20 3 18 4 18 5 8 6 5 7 4 8 6 9 6 10 6 11 1"/>
<path d="M0 4 1 4 2 2 3 -6 4 7 5 -6 6 -4 7 -10 8 6 9 -8 10 -5 11 -5"/>
<path d="M0 -5 1 -6 2 -5 3 8 4 5 5 1 6 -1 7 2 8 1 9 9 10 1 11 6"/>
<path d="M0 -7 1 -13 2 -12 3 7 4 14 5 9 6 4 7 4 8 6 9 9 10 6 11 8"/>
<path d="M0 0 1 1 2 0 3 9 4 13 5 14 6 -4 7 -7 8 1 9 -9 10 10 11 10"/>
<path d="M0 -6 1 -4 2 -3 3 10 4 -1 5 0 6 -2 7 -5 8 -12 9 -7 10 1 11 -7"/>
<path d="M0 -3 1 -6 2 -10 3 2 4 6 5 -3 6 3 7 2 8 9 9 6 10 -1 11 9"/>
<path d="M0 -7 1 -12 2 -7 3 14 4 6 5 2 6 3 7 4 8 5 9 5 10 10 11 8"/>
<path d="M0 -6 1 -5 2 -4 3 5 4 7 5 1 6 1 7 -6 8 -1 9 7 10 7 11 6"/>
<path d="M0 -11 1 -10 2 -9 3 13 4 6 5 4 6 4 7 -2 8 1 9 10 10 0 11 9"/>
<path d="M0 -6 1 -8 2 -8 3 10 4 9 5 15 6 2 7 1 8 7 9 10 10 11 11 11"/>
<path d="M0 -16 1 -25 2 -22 3 12 4 14 5 19 6 12 7 5 8 6 9 8 10 5 11 5"/>
<path d="M0 -5 1 -9 2 -14 3 13 4 17 5 18 6 5 7 6 8 5 9 9 10 9 11 7"/>
<path d="M0 -1 1 0 2 -2 3 6 4 10 5 7 6 -7 7 -7 8 -3 9 7 10 5 11 1"/>
<path d="M0 -14 1 -17 2 -13 3 35 4 26 5 21 6 8 7 9 8 8 9 7 10 7 11 13"/>
<path d="M0 -7 1 -1 2 -2 3 2 4 -3 5 5 6 -9 7 -15 8 -10 9 5 10 -6 11 -7"/>
<path d="M0 -17 1 -1 2 -3 3 18 4 22 5 18 6 -14 7 -6 8 -5 9 12 10 5 11 0"/>
<path d="M0 2 1 3 2 -3 3 -3 4 -1 5 -4 6 2 7 -5 8 -4 9 5 10 2 11 -2"/>
<path d="M0 -13 1 -6 2 -12 3 -11 4 2 5 34 6 3 7 6 8 4 9 9 10 6 11 6"/>
<path d="M0 -4 1 -2 2 0 3 -9 4 -13 5 -7 6 -10 7 -6 8 -3 9 -2 10 -7 11 -3"/>
<path d="M0 -11 1 -9 2 -5 3 9 4 -8 5 11 6 3 7 0 8 2 9 4 10 4 11 3"/>
<path d="M0 -3 1 -1 2 0 3 31 4 9 5 4 6 4 7 1 8 7 9 7 10 7 11 8"/>
<path d="M0 -17 1 -11 2 -21 3 12 4 11 5 4 6 6 7 9 8 10 9 11 10 4 11 13"/>
<path d="M0 -6 1 -5 2 -2 3 5 4 -2 5 -1 6 -6 7 -5 8 -2 9 6 10 6 11 3"/>
<path d="M0 -2 1 -11 2 -3 3 10 4 7 5 5 6 -3 7 -9 8 0 9 13 10 6 11 7"/>
<path d="M0 -5 1 -5 2 -7 3 4 4 3 5 -3 6 3 7 0 8 3 9 6 10 3 11 4"/>
<path d="M0 -2 1 -7 2 -2 3 4 4 2 5 -2 6 2 7 -3 8 0 9 0 10 -4 11 0"/>
<path d="M0 -2 1 -2 2 -3 3 1 4 -5 5 -8 6 2 7 -3 8 -8 9 -3 10 7 11 1"/>
<path d="M0 -8 1 -14 2 -12 3 12 4 9 5 41 6 7 7 6 8 7 9 4 10 5 11 6"/>
<path d="M0 -15 1 -17 2 -9 3 12 4 14 5 6 6 11 7 5 8 9 9 15 10 13 11 13"/>
<path d="M0 -5 1 -2 2 -3 3 7 4 9 5 9 6 0 7 2 8 1 9 5 10 6 11 4"/>
<path d="M0 -1 1 1 2 0 3 17 4 -3 5 -10 6 0 7 -3 8 -8 9 -3 10 -6 11 1"/>
<path d="M0 -15 1 -11 2 -10 3 7 4 2 5 4 6 6 7 9 8 9 9 8 10 9 11 7"/>
<path d="M0 -10 1 -17 2 -6 3 3 4 2 5 -2 6 5 7 -2 8 0 9 4 10 4 11 5"/>
<path d="M0 0 1 -3 2 2 3 -4 4 -6 5 -2 6 -20 7 -19 8 -20 9 5 10 4 11 8"/>
<path d="M0 -4 1 -5 2 -6 3 2 4 -2 5 -1 6 0 7 1 8 -2 9 4 10 2 11 3"/>
<path d="M0 -15 1 -13 2 -10 3 15 4 10 5 9 6 0 7 -6 8 -1 9 11 10 10 11 6"/>
<path d="M0 -19 1 -12 2 -15 3 6 4 8 5 3 6 -4 7 -4 8 7 9 8 10 11 11 7"/>
<path d="M0 -4 1 -4 2 -8 3 12 4 7 5 0 6 5 7 1 8 3 9 2 10 2 11 0"/>
<path d="M0 -4 1 -5 2 -2 3 8 4 5 5 9 6 5 7 2 8 1 9 6 10 4 11 6"/>
<path d="M0 -21 1 -15 2 -20 3 15 4 23 5 11 6 3 7 5 8 6 9 15 10 10 11 16"/>
<path d="M0 -12 1 -19 2 -18 3 9 4 11 5 2 6 0 7 -3 8 -1 9 9 10 4 11 6"/>
<path d="M0 -7 1 -10 2 -4 3 19 4 11 5 7 6 2 7 1 8 1 9 8 10 5 11 3"/>
<path d="M0 -19 1 -21 2 -14 3 14 4 9 5 7 6 2 7 1 8 5 9 12 10 10 11 11"/>
<path d="M0 -11 1 -9 2 -10 3 13 4 14 5 9 6 4 7 25 8 1 9 11 10 9 11 5"/>
<path d="M0 -1 1 -7 2 -11 3 2 4 8 5 0 6 2 7 0 8 0 9 -1 10 4 11 -3"/>
<path d="M0 -8 1 -14 2 -10 3 10 4 11 5 9 6 1 7 2 8 2 9 4 10 5 11 3"/>
<path d="M0 -11 1 -26 2 -10 3 17 4 27 5 21 6 6 7 4 8 1 9 10 10 28 11 8"/>
<path d="M0 -1 1 -4 2 -3 3 0 4 -1 5 -1 6 -7 7 -6 8 -6 9 0 10 -3 11 -2"/>
<path d="M0 40 1 5 2 8 3 -5 4 -13 5 -12 6 -12 7 -8 8 -9 9 0 10 4 11 4"/>
<path d="M0 -9 1 -5 2 -13 3 13 4 3 5 4 6 -5 7 0 8 2 9 8 10 2 11 3"/>
<path d="M0 -7 1 -3 2 -3 3 1 4 -3 5 -6 6 -22 7 -16 8 -21 9 -8 10 -3 11 -3"/>
<path d="M0 -22 1 -28 2 -21 3 -3 4 0 5 -5 6 -10 7 -23 8 -2 9 6 10 2 11 17"/>
<path d="M0 -4 1 -10 2 -12 3 11 4 16 5 4 6 4 7 -12 8 5 9 5 10 6 11 4"/>
<path d="M0 -4 1 -11 2 -18 3 8 4 16 5 9 6 2 7 -10 8 1 9 9 10 8 11 11"/>
<path d="M0 -2 1 5 2 0 3 -1 4 -3 5 -3 6 -2 7 -14 8 -12 9 -1 10 -3 11 3"/>
<path d="M0 -4 1 -1 2 -2 3 1 4 0 5 -3 6 -5 7 -7 8 -6 9 -2 10 -3 11 -2"/>
<path d="M0 -4 1 1 2 -3 3 -3 4 -2 5 8 6 -1 7 -3 8 3 9 1 10 -2 11 4"/>
<path d="M0 -7 1 -2 2 -6 3 -2 4 -2 5 0 6 -1 7 -6 8 -5 9 3 10 -5 11 2"/>
<path d="M0 -18 1 -13 2 -16 3 16 4 28 5 18 6 16 7 11 8 14 9 14 10 14 11 16"/>
<path d="M0 -2 1 1 2 -3 3 2 4 -2 5 3 6 -4 7 -6 8 -4 9 4 10 1 11 3"/>
<path d="M0 -5 1 -5 2 -2 3 2 4 -1 5 -2 6 -2 7 -5 8 0 9 1 10 3 11 1"/>
<path d="M0 2 1 -1 2 -1 3 1 4 3 5 -7 6 -10 7 -5 8 -14 9 8 10 -7 11 8"/>
<path d="M0 -6 1 -6 2 -8 3 3 4 7 5 7 6 -4 7 -4 8 -2 9 2 10 3 11 -2"/>
<path d="M0 -27 1 -16 2 -15 3 14 4 3 5 -2 6 1 7 1 8 -1 9 10 10 4 11 3"/>
<path d="M0 -8 1 -7 2 -8 3 12 4 1 5 -4 6 1 7 -1 8 3 9 0 10 -2 11 -3"/>
<path d="M0 -3 1 -3 2 -3 3 3 4 1 5 0 6 -1 7 0 8 -2 9 3 10 0 11 2"/>
<path d="M0 -23 1 1 2 -6 3 1 4 1 5 6 6 6 7 2 8 4 9 10 10 13 11 9"/>
<path d="M0 -4 1 -3 2 -1 3 3 4 7 5 -2 6 -4 7 -5 8 -4 9 -1 10 -8 11 -4"/>
<path d="M0 9 1 8 2 8 3 -2 4 -2 5 -8 6 -20 7 -21 8 -16 9 -16 10 -10 11 -14"/>
<path d="M0 -14 1 -1 2 -1 3 1 4 25 5 10 6 3 7 0 8 3 9 18 10 4 11 11"/>
<path d="M0 30 1 -7 2 -12 3 6 4 3 5 4 6 4 7 5 8 6 9 5 10 6 11 9"/>
<path d="M0 -6 1 -16 2 -8 3 7 4 6 5 7 6 0 7 -2 8 0 9 6 10 5 11 3"/>
<path d="M0 -6 1 -5 2 -9 3 3 4 3 5 -2 6 2 7 0 8 9 9 6 10 2 11 1"/>
<path d="M0 -3 1 -4 2 -5 3 0 4 1 5 14 6 -7 7 -3 8 1 9 5 10 2 11 0"/>
<path d="M0 -8 1 -3 2 -10 3 1 4 2 5 3 6 0 7 -2 8 2 9 0 10 0 11 2"/>
<path d="M0 -2 1 -2 2 -2 3 3 4 -2 5 -4 6 12 7 11 8 2 9 -1 10 -4 11 0"/>
<path d="M0 -8 1 -5 2 -6 3 10 4 16 5 3 6 1 7 -5 8 -2 9 6 10 6 11 2"/>
<path d="M0 -7 1 -4 2 -6 3 4 4 5 5 0 6 -5 7 -4 8 -5 9 6 10 2 11 3"/>
<path d="M0 2 1 -4 2 -4 3 -6 4 -3 5 5 6 -10 7 -11 8 -14 9 -1 10 -12 11 -7"/>
<path d="M0 6 1 0 2 5 3 -1 4 5 5 -3 6 1 7 1 8 3 9 3 10 0 11 7"/>
<path d="M0 -3 1 -4 2 -3 3 19 4 18 5 10 6 7 7 5 8 5 9 7 10 9 11 9"/>
<path d="M0 3 1 6 2 4 3 13 4 0 5 6 6 0 7 2 8 -2 9 17 10 2 11 9"/>
<path d="M0 -4 1 -5 2 -4 3 3 4 3 5 -7 6 -5 7 -7 8 -3 9 -2 10 5 11 7"/>
<path d="M0 -11 1 -3 2 0 3 7 4 -1 5 -3 6 8 7 -8 8 6 9 3 10 -3 11 -4"/>
<path d="M0 -29 1 -19 2 -16 3 6 4 11 5 11 6 -2 7 9 8 4 9 13 10 8 11 9"/>
<path d="M0 -33 1 -27 2 -19 3 52 4 27 5 18 6 8 7 9 8 11 9 7 10 1 11 4"/>
<path d="M0 -2 1 -1 2 -2 3 5 4 3 5 0 6 0 7 0 8 0 9 2 10 1 11 2"/>
<path d="M0 -3 1 -10 2 -11 3 6 4 1 5 -1 6 8 7 1 8 1 9 6 10 11 11 6"/>
<path d="M0 -3 1 -4 2 -9 3 3 4 0 5 -1 6 7 7 2 8 5 9 2 10 2 11 3"/>
<path d="M0 -13 1 -2 2 -8 3 5 4 2 5 2 6 1 7 6 8 4 9 1 10 1 11 -6"/>
<path d="M0 0 1 -4 2 -3 3 0 4 -1 5 -6 6 -7 7 -6 8 -5 9 2 10 -5 11 -3"/>
<path d="M0 -1 1 -4 2 -7 3 3 4 3 5 -1 6 -2 7 0 8 -1 9 0 10 0 11 -3"/>
<path d="M0 -4 1 -5 2 -4 3 3 4 2 5 1 6 1 7 -1 8 0 9 4 10 3 11 4"/>
<path d="M0 -4 1 -7 2 -11 3 13 4 18 5 9 6 3 7 5 8 4 9 10 10 11 11 11"/>
<path d="M0 -13 1 -10 2 -6 3 17 4 7 5 0 6 -1 7 -2 8 -2 9 7 10 3 11 4"/>
<path d="M0 2 1 2 2 3 3 -3 4 -5 5 -7 6 -4 7 -8 8 -6 9 -2 10 -2 11 -5"/>
<path d="M0 -3 1 -8 2 -1 3 -7 4 -6 5 -5 6 -4 7 -3 8 -6 9 1 10 1 11 -4"/>
<path d="M0 -4 1 0 2 -3 3 -1 4 -1 5 -1 6 -8 7 -12 8 -8 9 -1 10 -1 11 -1"/>
<path d="M0 -24 1 -22 2 -14 3 14 4 8 5 5 6 10 7 6 8 9 9 11 10 10 11 10"/>
<path d="M0 -7 1 -1 2 -1 3 5 4 2 5 7 6 -2 7 -5 8 -4 9 -1 10 1 11 -4"/>
<path d="M0 2 1 0 2 2 3 3 4 -2 5 -4 6 3 7 5 8 4 9 -5 10 5 11 2"/>
<path d="M0 -4 1 -1 2 -4 3 5 4 2 5 5 6 1 7 1 8 4 9 -1 10 0 11 -1"/>
<path d="M0 -11 1 -6 2 -19 3 13 4 27 5 26 6 -9 7 2 8 3 9 8 10 17 11 12"/>
<path d="M0 -2 1 -7 2 -9 3 2 4 1 5 -1 6 2 7 1 8 3 9 2 10 -1 11 0"/>
<path d="M0 -6 1 -2 2 -3 3 -1 4 3 5 3 6 0 7 2 8 1 9 1 10 0 11 3"/>
<path d="M0 0 1 -4 2 -2 3 0 4 -2 5 -3 6 -3 7 -6 8 -5 9 2 10 1 11 4"/>
<path d="M0 -3 1 1 2 0 3 5 4 -2 5 -8 6 -1 7 -10 8 -5 9 -10 10 -12 11 -17"/>
<path d="M0 -1 1 -4 2 -2 3 3 4 20 5 12 6 6 7 0 8 -5 9 -5 10 -6 11 -4"/>
<path d="M0 -7 1 -13 2 -7 3 6 4 10 5 10 6 5 7 1 8 9 9 10 10 9 11 5"/>
<path d="M0 -6 1 -10 2 -11 3 12 4 19 5 11 6 5 7 2 8 5 9 7 10 6 11 6"/>
<path d="M0 7 1 2 2 8 3 1 4 10 5 -9 6 -10 7 -6 8 -11 9 -9 10 -6 11 -7"/>
<path d="M0 -4 1 -4 2 -2 3 8 4 11 5 -1 6 5 7 1 8 5 9 -4 10 1 11 -1"/>
<path d="M0 -2 1 -5 2 -2 3 1 4 4 5 12 6 -5 7 -8 8 -3 9 3 10 3 11 -2"/>
<path d="M0 -7 1 -9 2 -5 3 3 4 1 5 0 6 1 7 -1 8 2 9 2 10 5 11 2"/>
<path d="M0 -9 1 -8 2 -6 3 7 4 11 5 4 6 4 7 1 8 7 9 6 10 1 11 3"/>
<path d="M0 -12 1 -16 2 -11 3 16 4 19 5 17 6 5 7 15 8 9 9 11 10 10 11 6"/>
<path d="M0 -7 1 -6 2 -7 3 22 4 7 5 6 6 1 7 -2 8 1 9 7 10 9 11 7"/>
<path d="M0 -1 1 0 2 -3 3 18 4 12 5 -3 6 7 7 5 8 -1 9 12 10 15 11 9"/>
<path d="M0 -7 1 -5 2 -9 3 10 4 12 5 0 6 -9 7 -18 8 -12 9 8 10 5 11 5"/>
<path d="M0 3 1 2 2 6 3 -6 4 -3 5 18 6 -13 7 -18 8 -10 9 7 10 7 11 6"/>
<path d="M0 -4 1 -2 2 -1 3 1 4 -2 5 -4 6 -1 7 -4 8 -2 9 0 10 0 11 0"/>
<path d="M0 -15 1 -15 2 -13 3 3 4 11 5 29 6 4 7 3 8 8 9 8 10 9 11 6"/>
<path d="M0 -4 1 -6 2 -3 3 3 4 0 5 -1 6 1 7 2 8 0 9 3 10 2 11 3"/>
<path d="M0 -3 1 -3 2 -3 3 2 4 1 5 -1 6 -3 7 -7 8 0 9 6 10 4 11 3"/>
<path d="M0 -4 1 -3 2 -11 3 9 4 5 5 4 6 -2 7 0 8 0 9 8 10 7 11 7"/>
<path d="M0 -25 1 -16 2 -25 3 4 4 10 5 16 6 10 7 5 8 13 9 5 10 7 11 2"/>
<path d="M0 -2 1 0 2 0 3 1 4 -1 5 -2 6 -2 7 -6 8 -5 9 1 10 -4 11 3"/>
<path d="M0 -6 1 -9 2 -4 3 5 4 2 5 0 6 -4 7 -5 8 -2 9 6 10 6 11 7"/>
<path d="M0 -5 1 -2 2 27 3 32 4 10 5 24 6 6 7 1 8 12 9 1 10 4 11 11"/>
<path d="M0 -6 1 -6 2 -7 3 1 4 2 5 -3 6 0 7 0 8 3 9 3 10 2 11 3"/>
<path d="M0 -13 1 0 2 -4 3 35 4 13 5 0 6 2 7 10 8 0 9 13 10 6 11 16"/>
<path d="M0 -22 1 -19 2 -12 3 2 4 1 5 -3 6 5 7 11 8 10 9 29 10 13 11 15"/>
<path d="M0 -1 1 -3 2 -1 3 2 4 1 5 -2 6 -2 7 -5 8 -3 9 0 10 -2 11 0"/>
<path d="M0 -1 1 -4 2 -4 3 3 4 1 5 3 6 -2 7 -1 8 3 9 3 10 4 11 -1"/>
<path d="M0 -14 1 -21 2 -24 3 2 4 -4 5 3 6 13 7 7 8 19 9 20 10 21 11 18"/>
<path d="M0 0 1 1 2 2 3 -3 4 -5 5 -8 6 -10 7 -14 8 -7 9 -8 10 -3 11 -10"/>
<path d="M0 -12 1 -18 2 -20 3 15 4 1 5 2 6 -4 7 -4 8 1 9 13 10 8 11 9"/>
<path d="M0 -10 1 -15 2 -4 3 7 4 3 5 3 6 1 7 0 8 -1 9 7 10 3 11 6"/>
<path d="M0 -36 1 -37 2 -36 3 17 4 37 5 25 6 18 7 17 8 19 9 22 10 21 11 21"/>
<path d="M0 -3 1 -2 2 -4 3 0 4 -2 5 -2 6 -2 7 -2 8 0 9 4 10 1 11 5"/>
<path d="M0 -14 1 -8 2 -7 3 9 4 1 5 7 6 2 7 2 8 1 9 5 10 7 11 4"/>
<path d="M0 -7 1 -10 2 -9 3 9 4 16 5 1 6 4 7 1 8 5 9 2 10 8 11 0"/>
<path d="M0 2 1 0 2 5 3 5 4 2 5 23 6 -3 7 -14 8 -10 9 -2 10 -5 11 -10"/>
<path d="M0 -4 1 -5 2 -2 3 33 4 26 5 8 6 4 7 8 8 5 9 7 10 4 11 8"/>
<path d="M0 -26 1 -20 2 -17 3 27 4 28 5 9 6 12 7 13 8 17 9 10 10 13 11 12"/>
<path d="M0 -3 1 -6 2 -4 3 2 4 1 5 -2 6 -2 7 -4 8 0 9 0 10 -4 11 -1"/>
<path d="M0 2 1 -2 2 3 3 -1 4 -3 5 -5 6 -4 7 -4 8 -8 9 -2 10 -3 11 -1"/>
<path d="M0 -12 1 -13 2 -8 3 7 4 6 5 -1 6 4 7 3 8 5 9 6 10 5 11 7"/>
<path d="M0 -12 1 -14 2 -8 3 5 4 9 5 0 6 3 7 4 8 7 9 9 10 5 11 5"/>
<path d="M0 -3 1 -6 2 -6 3 2 4 -1 5 -2 6 5 7 -7 8 -6 9 -4 10 -3 11 -18"/>
</g>
<path d="M304.7 347.8 322.8 348.2 340.8 347.8 358.9 333.4 377 334.2 395 336.3 413.1 340.6 431.2 341.4 449.3 339.8 467.3 337.2 485.4 338.5 503.5 338.1" fill="none" stroke="#000" stroke-width="2"/>
<rect x="294" y="247.4" width="219.8" height="185.2" fill="none" stroke="#7a7a7a" stroke-width="1.4"/>
<rect x="294" y="222.8" width="219.8" height="24.6" fill="#c4c4c4" stroke="#4a4a4a" stroke-width="1.5"/>
<g transform="translate(404.1 241.4)"><text font-size="16.6" text-anchor="middle" class="t">AAM.down.2</text></g>
<text x="471.5" y="287.3" font-size="24" font-weight="bold" letter-spacing="1.0" text-anchor="middle" fill="#000" stroke="#000" stroke-width="1.1">474</text>
<g transform="translate(55 431)"><text font-size="16.6" text-anchor="end" class="t">–10</text><rect x="-17.80" y="-2.34" width="3.21" height="4.14" fill="#fff"/><rect x="-12.52" y="-2.34" width="3.08" height="4.14" fill="#fff"/></g>
<g transform="translate(55 388.8)"><text font-size="16.6" text-anchor="end" class="t">–5</text></g>
<g transform="translate(55 346.7)"><text font-size="16.6" text-anchor="end" class="t">0</text></g>
<g transform="translate(55 304.5)"><text font-size="16.6" text-anchor="end" class="t">5</text></g>
<g transform="translate(55 262.4)"><text font-size="16.6" text-anchor="end" class="t">10</text><rect x="-17.80" y="-2.34" width="3.21" height="4.14" fill="#fff"/><rect x="-12.52" y="-2.34" width="3.08" height="4.14" fill="#fff"/></g>
<path d="M59.5 424.7H67.7M59.5 382.5H67.7M59.5 340.4H67.7M59.5 298.2H67.7M59.5 256.1H67.7" stroke="#4a4a4a" stroke-width="1.3"/>
<rect x="67.7" y="463.9" width="219.4" height="185.2" fill="#fff"/>
<path d="M67.7 620.1H287.1M67.7 577.9H287.1M67.7 535.8H287.1M67.7 493.6H287.1" stroke="#f2f2f2" stroke-width="0.6" fill="none"/>
<path d="M67.7 641.1H287.1M67.7 599H287.1M67.7 556.9H287.1M67.7 514.7H287.1M67.7 472.6H287.1M78.1 463.9V649.1M96.1 463.9V649.1M114.1 463.9V649.1M132.2 463.9V649.1M150.2 463.9V649.1M168.2 463.9V649.1M186.2 463.9V649.1M204.2 463.9V649.1M222.3 463.9V649.1M240.3 463.9V649.1M258.3 463.9V649.1M276.3 463.9V649.1" stroke="#e6e6e6" stroke-width="1" fill="none"/>
<g class="L" transform="translate(78.1 556.9) scale(18.0200 -0.8430)" stroke-opacity="0.100">
<path d="M0 11 1 26 2 20 3 -19 4 -27 5 -37 6 2 7 -7 8 -6 9 -9 10 -7 11 -1"/>
<path d="M0 28 1 32 2 16 3 -4 4 -1 5 0 6 -13 7 -8 8 -10 9 -5 10 1 11 -7"/>
<path d="M0 23 1 25 2 25 3 -3 4 -5 5 -5 6 -7 7 -4 8 -3 9 -13 10 -20 11 -16"/>
<path d="M0 4 1 11 2 8 3 1 4 -6 5 3 6 -10 7 -10 8 -11 9 -6 10 -7 11 8"/>
<path d="M0 29 1 31 2 27 3 -20 4 -22 5 -18 6 6 7 6 8 4 9 -12 10 -13 11 -15"/>
<path d="M0 32 1 31 2 32 3 -9 4 -10 5 -6 6 9 7 11 8 6 9 -16 10 -21 11 -21"/>
<path d="M0 26 1 25 2 19 3 4 4 3 5 0 6 -8 7 -4 8 -13 9 -12 10 -16 11 -14"/>
<path d="M0 24 1 28 2 26 3 -4 4 -9 5 -6 6 5 7 2 8 1 9 -10 10 -8 11 -9"/>
<path d="M0 34 1 32 2 22 3 -3 4 -19 5 -5 6 -3 7 6 8 -9 9 -2 10 -14 11 3"/>
<path d="M0 18 1 20 2 15 3 -1 4 -5 5 -5 6 -4 7 -4 8 -4 9 -5 10 -4 11 -5"/>
<path d="M0 17 1 26 2 20 3 -2 4 -6 5 -2 6 -8 7 -5 8 -4 9 -2 10 -7 11 -14"/>
<path d="M0 18 1 20 2 17 3 -5 4 -4 5 -3 6 -3 7 -7 8 -4 9 -3 10 0 11 -1"/>
<path d="M0 17 1 24 2 15 3 -1 4 -4 5 0 6 -8 7 -6 8 -7 9 -3 10 -4 11 -6"/>
<path d="M0 25 1 39 2 31 3 -25 4 -35 5 -37 6 21 7 14 8 22 9 -13 10 -23 11 -14"/>
<path d="M0 35 1 32 2 34 3 -27 4 -29 5 -37 6 4 7 25 8 30 9 -20 10 -31 11 -29"/>
<path d="M0 7 1 6 2 13 3 -2 4 0 5 -2 6 -11 7 -11 8 -14 9 22 10 -9 11 -14"/>
<path d="M0 19 1 21 2 22 3 -3 4 -2 5 -2 6 -6 7 1 8 1 9 -7 10 -10 11 -7"/>
<path d="M0 22 1 20 2 12 3 -10 4 -21 5 -5 6 11 7 14 8 6 9 -19 10 -12 11 -10"/>
<path d="M0 19 1 23 2 16 3 -3 4 -5 5 -8 6 -1 7 3 8 -4 9 -6 10 -12 11 -20"/>
<path d="M0 40 1 35 2 28 3 -17 4 -11 5 -10 6 -5 7 11 8 2 9 -14 10 -12 11 -17"/>
<path d="M0 37 1 33 2 25 3 -5 4 -7 5 -16 6 -14 7 -6 8 -9 9 -9 10 0 11 -1"/>
<path d="M0 18 1 23 2 15 3 -3 4 -9 5 -5 6 -9 7 -9 8 -8 9 -9 10 -5 11 -11"/>
<path d="M0 37 1 32 2 34 3 -18 4 -11 5 -19 6 6 7 10 8 12 9 -27 10 -31 11 -29"/>
<path d="M0 18 1 23 2 19 3 -2 4 -7 5 -5 6 -6 7 -2 8 0 9 -8 10 -11 11 -11"/>
<path d="M0 10 1 14 2 11 3 1 4 -3 5 -2 6 -11 7 -8 8 -11 9 1 10 -2 11 -6"/>
<path d="M0 28 1 32 2 35 3 -8 4 -28 5 -16 6 -8 7 -6 8 -3 9 -12 10 -3 11 -10"/>
<path d="M0 21 1 19 2 26 3 -11 4 -13 5 -6 6 5 7 7 8 11 9 -8 10 -8 11 -5"/>
<path d="M0 11 1 15 2 10 3 -1 4 -6 5 -4 6 -16 7 -13 8 -14 9 14 10 -6 11 -5"/>
<path d="M0 7 1 21 2 13 3 -2 4 0 5 -2 6 -11 7 -13 8 -16 9 -8 10 -14 11 0"/>
<path d="M0 24 1 25 2 14 3 -9 4 -13 5 -11 6 8 7 18 8 12 9 -12 10 -19 11 -13"/>
<path d="M0 29 1 29 2 19 3 -8 4 -11 5 -6 6 -6 7 3 8 -5 9 -9 10 -13 11 -12"/>
<path d="M0 37 1 30 2 32 3 2 4 -8 5 -6 6 1 7 7 8 12 9 -8 10 -12 11 -16"/>
<path d="M0 13 1 18 2 7 3 -6 4 -6 5 -5 6 -8 7 -8 8 -9 9 -1 10 -4 11 0"/>
<path d="M0 37 1 33 2 37 3 -8 4 -13 5 11 6 11 7 8 8 2 9 -14 10 -11 11 -15"/>
<path d="M0 24 1 22 2 21 3 -5 4 -18 5 -8 6 3 7 13 8 7 9 -13 10 -14 11 -12"/>
<path d="M0 21 1 25 2 17 3 -5 4 -8 5 -7 6 -8 7 -6 8 -5 9 -4 10 -7 11 -5"/>
<path d="M0 23 1 22 2 33 3 -17 4 -11 5 -15 6 5 7 9 8 0 9 -15 10 -10 11 -8"/>
<path d="M0 28 1 27 2 25 3 -17 4 -16 5 -16 6 -2 7 -3 8 -5 9 -8 10 -11 11 -10"/>
<path d="M0 4 1 -2 2 2 3 -6 4 -25 5 -20 6 2 7 4 8 2 9 18 10 -20 11 -15"/>
<path d="M0 23 1 5 2 12 3 10 4 8 5 1 6 -13 7 -7 8 -3 9 12 10 13 11 6"/>
<path d="M0 18 1 20 2 14 3 -4 4 -9 5 -7 6 -6 7 -1 8 -2 9 -6 10 -5 11 -1"/>
<path d="M0 20 1 20 2 6 3 10 4 5 5 6 6 -13 7 -8 8 -14 9 -2 10 -2 11 3"/>
<path d="M0 20 1 27 2 19 3 -5 4 -9 5 -4 6 -3 7 -3 8 -1 9 -4 10 -6 11 -7"/>
<path d="M0 22 1 33 2 35 3 -7 4 -17 5 -9 6 0 7 -1 8 1 9 -12 10 -10 11 -11"/>
<path d="M0 24 1 21 2 21 3 -5 4 -11 5 -7 6 -6 7 -7 8 -6 9 -7 10 -7 11 -6"/>
<path d="M0 25 1 26 2 23 3 0 4 -4 5 -4 6 -8 7 -4 8 -4 9 -6 10 -10 11 -9"/>
<path d="M0 7 1 7 2 -2 3 0 4 -6 5 1 6 -10 7 -4 8 -13 9 -2 10 2 11 1"/>
<path d="M0 28 1 22 2 23 3 -5 4 -5 5 -6 6 -8 7 -4 8 1 9 -6 10 -10 11 -13"/>
<path d="M0 12 1 8 2 17 3 12 4 1 5 3 6 -11 7 2 8 -19 9 12 10 16 11 16"/>
<path d="M0 24 1 21 2 23 3 -5 4 -7 5 -9 6 -4 7 1 8 -4 9 -8 10 -6 11 -11"/>
<path d="M0 13 1 13 2 7 3 3 4 -2 5 2 6 -15 7 -19 8 -20 9 3 10 4 11 7"/>
<path d="M0 37 1 33 2 33 3 -16 4 -24 5 -28 6 0 7 23 8 19 9 -25 10 -17 11 -20"/>
<path d="M0 29 1 20 2 24 3 -1 4 -5 5 -7 6 -11 7 -13 8 -12 9 4 10 0 11 1"/>
<path d="M0 20 1 22 2 10 3 -1 4 -18 5 -14 6 -24 7 -26 8 -27 9 7 10 17 11 11"/>
<path d="M0 25 1 22 2 22 3 5 4 6 5 3 6 -12 7 -15 8 -13 9 11 10 6 11 4"/>
<path d="M0 32 1 35 2 28 3 -6 4 -19 5 -10 6 4 7 1 8 11 9 -7 10 -7 11 2"/>
<path d="M0 12 1 12 2 9 3 -1 4 -3 5 -1 6 -10 7 -9 8 -4 9 -12 10 -8 11 -10"/>
<path d="M0 16 1 15 2 7 3 -14 4 -10 5 -4 6 -2 7 -2 8 -7 9 -6 10 -9 11 -11"/>
<path d="M0 34 1 36 2 32 3 -36 4 -27 5 -26 6 18 7 28 8 23 9 -22 10 -24 11 -22"/>
<path d="M0 31 1 38 2 27 3 -2 4 -6 5 -11 6 -4 7 1 8 1 9 -13 10 -16 11 -13"/>
<path d="M0 16 1 21 2 15 3 -1 4 -6 5 -2 6 -9 7 -5 8 -10 9 -3 10 -3 11 -4"/>
<path d="M0 22 1 25 2 20 3 -4 4 -9 5 -8 6 -2 7 -4 8 -4 9 -8 10 -5 11 -9"/>
<path d="M0 38 1 37 2 43 3 -36 4 -23 5 -24 6 29 7 6 8 14 9 -12 10 -13 11 -23"/>
<path d="M0 21 1 20 2 15 3 -8 4 -16 5 -6 6 -7 7 -6 8 -8 9 -4 10 -12 11 -8"/>
<path d="M0 25 1 35 2 34 3 -25 4 -29 5 -23 6 6 7 6 8 4 9 -8 10 -9 11 -13"/>
<path d="M0 26 1 26 2 22 3 -4 4 -11 5 -3 6 -7 7 -5 8 -5 9 -9 10 -3 11 -9"/>
<path d="M0 46 1 41 2 44 3 -15 4 -22 5 -4 6 2 7 -6 8 -11 9 -12 10 -21 11 -11"/>
<path d="M0 23 1 21 2 16 3 -2 4 -13 5 -16 6 -13 7 -12 8 -10 9 -4 10 -5 11 -9"/>
<path d="M0 4 1 10 2 6 3 9 4 -3 5 0 6 -5 7 -17 8 -19 9 -15 10 -15 11 -19"/>
<path d="M0 26 1 28 2 21 3 -18 4 -17 5 -10 6 -4 7 6 8 -6 9 -22 10 0 11 -18"/>
<path d="M0 21 1 21 2 22 3 -16 4 -13 5 -7 6 -11 7 10 8 -7 9 -13 10 -15 11 -18"/>
<path d="M0 22 1 18 2 25 3 -2 4 -2 5 3 6 -13 7 -8 8 -4 9 7 10 7 11 0"/>
<path d="M0 19 1 25 2 18 3 -4 4 -7 5 -5 6 0 7 3 8 -3 9 -8 10 -10 11 -8"/>
<path d="M0 16 1 25 2 19 3 -1 4 -3 5 -5 6 -16 7 -10 8 -14 9 -4 10 -9 11 -4"/>
<path d="M0 20 1 23 2 17 3 -3 4 -6 5 0 6 -8 7 -6 8 -3 9 -5 10 -3 11 -4"/>
<path d="M0 30 1 34 2 27 3 -19 4 -20 5 -21 6 12 7 3 8 10 9 -10 10 -11 11 -13"/>
<path d="M0 19 1 23 2 19 3 -3 4 -8 5 -4 6 6 7 4 8 5 9 -8 10 -12 11 -14"/>
<path d="M0 24 1 24 2 17 3 -11 4 -20 5 -22 6 0 7 -2 8 -6 9 -18 10 -19 11 -11"/>
<path d="M0 24 1 29 2 26 3 -7 4 -15 5 -5 6 -2 7 2 8 -3 9 -10 10 -9 11 -10"/>
<path d="M0 22 1 16 2 16 3 -17 4 -14 5 -18 6 1 7 1 8 4 9 -12 10 -18 11 -14"/>
<path d="M0 15 1 23 2 19 3 -18 4 -13 5 -11 6 -7 7 -7 8 -12 9 -18 10 -10 11 -8"/>
<path d="M0 14 1 12 2 11 3 -1 4 -9 5 -4 6 -12 7 -10 8 -11 9 -2 10 -7 11 -7"/>
<path d="M0 29 1 33 2 28 3 -21 4 -20 5 -8 6 14 7 15 8 4 9 -18 10 -13 11 -10"/>
<path d="M0 20 1 24 2 23 3 -9 4 -8 5 -7 6 3 7 3 8 4 9 -5 10 -8 11 -10"/>
<path d="M0 13 1 15 2 10 3 -1 4 -10 5 -3 6 -3 7 -2 8 0 9 -11 10 -8 11 -10"/>
<path d="M0 32 1 21 2 18 3 -25 4 -2 5 -22 6 -16 7 -7 8 -14 9 -12 10 -9 11 -11"/>
<path d="M0 24 1 23 2 22 3 -12 4 -11 5 -9 6 -4 7 3 8 -5 9 -14 10 -11 11 -13"/>
<path d="M0 26 1 21 2 16 3 0 4 -6 5 -2 6 -4 7 -6 8 -9 9 -1 10 -10 11 -10"/>
<path d="M0 22 1 30 2 33 3 0 4 -19 5 -10 6 17 7 16 8 19 9 -17 10 -15 11 -17"/>
<path d="M0 21 1 16 2 16 3 -3 4 -4 5 -7 6 -14 7 -13 8 -12 9 -3 10 -6 11 -7"/>
<path d="M0 19 1 24 2 22 3 -3 4 -8 5 -11 6 -5 7 -7 8 -8 9 -2 10 3 11 7"/>
<path d="M0 28 1 36 2 29 3 -17 4 -22 5 -15 6 9 7 12 8 7 9 -19 10 -22 11 -25"/>
<path d="M0 23 1 26 2 25 3 -3 4 -5 5 -7 6 -7 7 4 8 -2 9 -7 10 -3 11 3"/>
<path d="M0 16 1 18 2 13 3 -6 4 -2 5 1 6 -11 7 -15 8 -9 9 3 10 -7 11 -6"/>
<path d="M0 14 1 13 2 14 3 -2 4 -8 5 -4 6 -20 7 -13 8 -20 9 7 10 0 11 -3"/>
<path d="M0 17 1 17 2 9 3 0 4 -2 5 -3 6 -8 7 -12 8 -13 9 -6 10 0 11 2"/>
<path d="M0 23 1 27 2 23 3 -4 4 -8 5 -4 6 -2 7 -5 8 -5 9 -4 10 -4 11 -5"/>
<path d="M0 20 1 20 2 23 3 -1 4 -7 5 -1 6 -6 7 -5 8 -7 9 -1 10 -8 11 -4"/>
<path d="M0 17 1 26 2 23 3 -4 4 -9 5 -4 6 -7 7 -4 8 -4 9 -7 10 -8 11 -8"/>
<path d="M0 15 1 19 2 13 3 3 4 -4 5 4 6 -6 7 -3 8 2 9 -8 10 -15 11 -12"/>
<path d="M0 6 1 5 2 -1 3 3 4 -1 5 3 6 -28 7 -21 8 -21 9 7 10 1 11 -5"/>
<path d="M0 16 1 20 2 19 3 -4 4 -7 5 -3 6 -5 7 -3 8 -4 9 -4 10 -4 11 -3"/>
<path d="M0 28 1 30 2 19 3 0 4 -3 5 -1 6 7 7 4 8 -5 9 -9 10 -8 11 -8"/>
<path d="M0 3 1 8 2 -6 3 3 4 -2 5 1 6 -9 7 -5 8 -9 9 14 10 13 11 12"/>
<path d="M0 20 1 14 2 14 3 -9 4 -13 5 -13 6 0 7 -2 8 -3 9 -5 10 -7 11 -10"/>
<path d="M0 13 1 22 2 18 3 -31 4 -11 5 -14 6 3 7 2 8 -7 9 -10 10 -18 11 -9"/>
<path d="M0 23 1 31 2 24 3 -8 4 -9 5 -12 6 0 7 9 8 13 9 -8 10 -10 11 -7"/>
<path d="M0 13 1 2 2 19 3 -8 4 -3 5 1 6 -10 7 -12 8 -3 9 7 10 -2 11 -2"/>
<path d="M0 21 1 32 2 20 3 -7 4 -4 5 -11 6 -6 7 -22 8 -15 9 -9 10 -7 11 -3"/>
<path d="M0 25 1 26 2 21 3 3 4 -2 5 3 6 -12 7 -8 8 0 9 -5 10 -13 11 -7"/>
<path d="M0 29 1 36 2 33 3 -26 4 -30 5 -26 6 9 7 7 8 10 9 -17 10 -17 11 -9"/>
<path d="M0 22 1 25 2 36 3 -12 4 -2 5 2 6 13 7 14 8 -5 9 -4 10 -13 11 -6"/>
<path d="M0 29 1 21 2 18 3 3 4 2 5 3 6 -19 7 -20 8 -17 9 7 10 13 11 7"/>
<path d="M0 27 1 37 2 33 3 -5 4 -9 5 -6 6 -3 7 2 8 -6 9 -8 10 -15 11 -6"/>
<path d="M0 15 1 14 2 14 3 0 4 -3 5 2 6 -13 7 -13 8 -13 9 5 10 2 11 0"/>
<path d="M0 28 1 21 2 24 3 -3 4 -8 5 -6 6 -5 7 -7 8 -8 9 0 10 6 11 2"/>
<path d="M0 27 1 17 2 22 3 -5 4 -15 5 -2 6 -9 7 -12 8 -1 9 3 10 -3 11 11"/>
<path d="M0 0 1 -3 2 4 3 -3 4 -9 5 4 6 -7 7 -8 8 -17 9 7 10 17 11 9"/>
<path d="M0 19 1 24 2 15 3 0 4 -7 5 -2 6 -4 7 -5 8 -6 9 -6 10 -12 11 -16"/>
<path d="M0 15 1 12 2 11 3 -3 4 -9 5 -4 6 -10 7 -8 8 -7 9 -1 10 3 11 -2"/>
<path d="M0 18 1 27 2 17 3 -4 4 -8 5 -9 6 2 7 7 8 -8 9 0 10 -2 11 -12"/>
<path d="M0 27 1 27 2 19 3 -11 4 -17 5 -12 6 -5 7 -5 8 -3 9 -11 10 -12 11 -11"/>
<path d="M0 27 1 42 2 35 3 -2 4 5 5 -3 6 7 7 6 8 -1 9 -8 10 -15 11 -14"/>
<path d="M0 23 1 26 2 18 3 -7 4 -16 5 -15 6 -6 7 -4 8 -3 9 -7 10 -6 11 -5"/>
<path d="M0 14 1 16 2 11 3 -5 4 -11 5 -4 6 -2 7 1 8 5 9 -11 10 -7 11 -8"/>
<path d="M0 22 1 22 2 26 3 -5 4 -2 5 -7 6 -1 7 -6 8 3 9 -13 10 -12 11 -16"/>
<path d="M0 20 1 22 2 20 3 -4 4 -9 5 -8 6 -7 7 -3 8 -2 9 -2 10 -5 11 -4"/>
<path d="M0 23 1 22 2 18 3 -2 4 -7 5 -5 6 -10 7 -2 8 -7 9 -7 10 -9 11 -5"/>
<path d="M0 12 1 16 2 11 3 -7 4 -18 5 -15 6 -10 7 4 8 -11 9 -1 10 -1 11 -1"/>
<path d="M0 14 1 24 2 10 3 -1 4 -4 5 -1 6 -11 7 -4 8 -5 9 0 10 -1 11 2"/>
<path d="M0 17 1 22 2 24 3 -7 4 -13 5 -4 6 -6 7 -5 8 -5 9 -9 10 -6 11 -8"/>
<path d="M0 39 1 30 2 37 3 -16 4 -19 5 -21 6 -6 7 -5 8 -7 9 -11 10 -18 11 -14"/>
<path d="M0 22 1 20 2 19 3 -1 4 -8 5 -3 6 -2 7 -4 8 -3 9 -9 10 -11 11 -8"/>
<path d="M0 24 1 24 2 26 3 -19 4 -23 5 -11 6 11 7 9 8 10 9 -8 10 -7 11 -12"/>
<path d="M0 22 1 19 2 18 3 -4 4 -7 5 -1 6 -1 7 6 8 -8 9 -13 10 -15 11 -5"/>
<path d="M0 20 1 34 2 24 3 -1 4 -5 5 1 6 -16 7 -4 8 -3 9 -14 10 -16 11 -18"/>
<path d="M0 45 1 34 2 45 3 -21 4 -9 5 -15 6 20 7 24 8 24 9 -15 10 -31 11 -22"/>
<path d="M0 16 1 15 2 13 3 -1 4 -2 5 -3 6 -8 7 -7 8 -6 9 -4 10 -10 11 -6"/>
<path d="M0 41 1 36 2 33 3 -30 4 -27 5 -23 6 20 7 28 8 27 9 -27 10 -22 11 -22"/>
<path d="M0 21 1 23 2 13 3 -7 4 -7 5 -4 6 1 7 1 8 2 9 -8 10 -11 11 -7"/>
<path d="M0 26 1 28 2 11 3 -2 4 -11 5 -6 6 -4 7 -6 8 -6 9 -1 10 -3 11 -4"/>
<path d="M0 20 1 28 2 23 3 -3 4 -6 5 -1 6 -6 7 -2 8 -4 9 -6 10 -11 11 -10"/>
<path d="M0 22 1 27 2 20 3 -1 4 -5 5 -3 6 -1 7 -1 8 -5 9 -3 10 -2 11 -2"/>
<path d="M0 25 1 29 2 25 3 -7 4 -11 5 -9 6 -1 7 -1 8 16 9 -8 10 -10 11 -11"/>
<path d="M0 28 1 20 2 31 3 -26 4 -5 5 -9 6 -14 7 -16 8 -7 9 5 10 -7 11 -1"/>
<path d="M0 19 1 19 2 14 3 -3 4 -4 5 -4 6 -8 7 -6 8 -6 9 1 10 -7 11 -1"/>
<path d="M0 28 1 33 2 27 3 -20 4 -19 5 -18 6 11 7 7 8 15 9 -17 10 -20 11 -18"/>
<path d="M0 17 1 14 2 17 3 -3 4 -1 5 -3 6 4 7 5 8 -12 9 -4 10 -17 11 -10"/>
<path d="M0 9 1 9 2 11 3 -2 4 1 5 6 6 -10 7 1 8 -13 9 -4 10 4 11 1"/>
<path d="M0 19 1 19 2 15 3 -5 4 -6 5 -3 6 -7 7 -5 8 -5 9 -8 10 -8 11 -9"/>
<path d="M0 -4 1 -2 2 -6 3 3 4 5 5 3 6 -22 7 -17 8 -9 9 -11 10 -5 11 -2"/>
<path d="M0 -5 1 -3 2 21 3 -1 4 -2 5 5 6 -12 7 -16 8 -16 9 -2 10 4 11 3"/>
<path d="M0 28 1 28 2 22 3 -14 4 -21 5 -24 6 25 7 13 8 15 9 -16 10 -9 11 -12"/>
<path d="M0 46 1 45 2 41 3 -9 4 -21 5 -18 6 8 7 8 8 4 9 -28 10 -18 11 -25"/>
<path d="M0 20 1 29 2 19 3 -5 4 -9 5 -4 6 -6 7 -1 8 -6 9 -10 10 -8 11 -9"/>
<path d="M0 34 1 32 2 25 3 -18 4 -7 5 -15 6 12 7 5 8 9 9 -11 10 -16 11 -19"/>
<path d="M0 28 1 32 2 26 3 -7 4 -15 5 -11 6 2 7 8 8 1 9 -11 10 -15 11 -10"/>
<path d="M0 33 1 32 2 29 3 -13 4 -12 5 -16 6 3 7 9 8 5 9 -13 10 -18 11 -13"/>
<path d="M0 20 1 23 2 19 3 -8 4 -6 5 -11 6 -7 7 0 8 -6 9 -9 10 -4 11 -3"/>
</g>
<path d="M78.1 539.3 96.1 537.6 114.1 540.7 132.2 563.5 150.2 566.1 168.2 564.4 186.2 558.9 204.2 557.2 222.3 558.5 240.3 562.2 258.3 563.5 276.3 563.5" fill="none" stroke="#000" stroke-width="2"/>
<rect x="67.7" y="463.9" width="219.4" height="185.2" fill="none" stroke="#7a7a7a" stroke-width="1.4"/>
<rect x="67.7" y="439.3" width="219.4" height="24.6" fill="#c4c4c4" stroke="#4a4a4a" stroke-width="1.5"/>
<g transform="translate(177.6 457.9)"><text font-size="16.6" text-anchor="middle" class="t">AAM.up.3</text></g>
<text x="248.8" y="505" font-size="24" font-weight="bold" letter-spacing="1.0" text-anchor="middle" fill="#000" stroke="#000" stroke-width="1.1">159</text>
<rect x="294" y="463.9" width="219.8" height="185.2" fill="#fff"/>
<path d="M294 620.1H513.8M294 577.9H513.8M294 535.8H513.8M294 493.6H513.8" stroke="#f2f2f2" stroke-width="0.6" fill="none"/>
<path d="M294 641.1H513.8M294 599H513.8M294 556.9H513.8M294 514.7H513.8M294 472.6H513.8M304.7 463.9V649.1M322.8 463.9V649.1M340.8 463.9V649.1M358.9 463.9V649.1M377 463.9V649.1M395 463.9V649.1M413.1 463.9V649.1M431.2 463.9V649.1M449.3 463.9V649.1M467.3 463.9V649.1M485.4 463.9V649.1M503.5 463.9V649.1" stroke="#e6e6e6" stroke-width="1" fill="none"/>
<g class="L" transform="translate(304.7 556.9) scale(18.0700 -0.8430)" stroke-opacity="0.100">
<path d="M0 -13 1 -12 2 -12 3 -8 4 -12 5 -7 6 0 7 -2 8 5 9 19 10 19 11 22"/>
<path d="M0 -12 1 -18 2 -12 3 -9 4 -8 5 -11 6 17 7 10 8 14 9 19 10 20 11 22"/>
<path d="M0 2 1 -1 2 3 3 -5 4 4 5 1 6 -6 7 -7 8 -7 9 5 10 9 11 9"/>
<path d="M0 -11 1 -13 2 -12 3 -5 4 -4 5 -2 6 7 7 4 8 2 9 17 10 17 11 19"/>
<path d="M0 -6 1 -8 2 -8 3 -6 4 -2 5 2 6 0 7 -2 8 0 9 10 10 15 11 11"/>
<path d="M0 -9 1 -6 2 -7 3 -9 4 -9 5 -2 6 5 7 2 8 2 9 6 10 10 11 9"/>
<path d="M0 -8 1 -13 2 -8 3 -5 4 -2 5 1 6 6 7 2 8 2 9 11 10 14 11 14"/>
<path d="M0 -7 1 -10 2 -6 3 -11 4 -9 5 -9 6 6 7 7 8 3 9 15 10 16 11 13"/>
<path d="M0 -5 1 -7 2 -7 3 -4 4 -3 5 0 6 0 7 -2 8 -1 9 9 10 8 11 8"/>
<path d="M0 -11 1 -10 2 -9 3 -7 4 -8 5 -5 6 1 7 2 8 -1 9 10 10 11 11 11"/>
<path d="M0 -8 1 -7 2 -5 3 -9 4 -6 5 -5 6 2 7 2 8 0 9 12 10 14 11 14"/>
<path d="M0 -11 1 -8 2 -8 3 -5 4 -6 5 -3 6 4 7 1 8 2 9 9 10 15 11 11"/>
<path d="M0 -8 1 -10 2 -6 3 -3 4 -5 5 0 6 4 7 3 8 17 9 18 10 19 11 13"/>
<path d="M0 -5 1 -7 2 -3 3 -3 4 -2 5 0 6 0 7 -1 8 -2 9 7 10 7 11 5"/>
<path d="M0 -9 1 -8 2 -6 3 -3 4 -1 5 0 6 4 7 1 8 2 9 10 10 11 11 11"/>
<path d="M0 -1 1 -3 2 -2 3 2 4 2 5 5 6 -4 7 -3 8 -5 9 3 10 5 11 5"/>
<path d="M0 -4 1 0 2 -3 3 0 4 -3 5 3 6 -3 7 1 8 1 9 7 10 5 11 2"/>
<path d="M0 -5 1 -9 2 -6 3 -6 4 -4 5 -5 6 8 7 2 8 3 9 11 10 10 11 12"/>
<path d="M0 -13 1 -12 2 -12 3 -10 4 -10 5 -9 6 8 7 8 8 8 9 22 10 19 11 18"/>
<path d="M0 -22 1 -15 2 -19 3 -7 4 -2 5 0 6 2 7 7 8 1 9 16 10 15 11 18"/>
<path d="M0 -11 1 -6 2 -7 3 -6 4 -5 5 1 6 4 7 1 8 3 9 15 10 20 11 15"/>
<path d="M0 -11 1 -12 2 -14 3 -8 4 -12 5 -4 6 14 7 8 8 15 9 17 10 19 11 18"/>
<path d="M0 -8 1 -8 2 -8 3 -8 4 -5 5 -4 6 6 7 8 8 5 9 16 10 17 11 15"/>
<path d="M0 -7 1 -7 2 -5 3 -4 4 -1 5 0 6 5 7 5 8 1 9 10 10 14 11 12"/>
<path d="M0 -8 1 -8 2 -10 3 -3 4 -1 5 5 6 1 7 -6 8 1 9 9 10 10 11 8"/>
<path d="M0 -4 1 -5 2 -3 3 0 4 5 5 2 6 -6 7 -5 8 -9 9 6 10 6 11 1"/>
<path d="M0 -8 1 -6 2 -5 3 -7 4 -4 5 0 6 8 7 3 8 3 9 11 10 12 11 11"/>
<path d="M0 -4 1 -8 2 -4 3 -11 4 -8 5 -3 6 -24 7 -7 8 -8 9 12 10 15 11 11"/>
<path d="M0 -7 1 -5 2 -5 3 -4 4 2 5 -1 6 4 7 6 8 0 9 7 10 10 11 7"/>
<path d="M0 -6 1 -7 2 -6 3 -2 4 -3 5 -1 6 1 7 1 8 1 9 11 10 12 11 12"/>
<path d="M0 -2 1 -5 2 -3 3 -2 4 2 5 4 6 0 7 -2 8 -3 9 6 10 8 11 4"/>
<path d="M0 -15 1 -19 2 -16 3 -7 4 -7 5 -6 6 14 7 12 8 10 9 15 10 16 11 14"/>
<path d="M0 -7 1 -8 2 -6 3 0 4 1 5 4 6 -2 7 -1 8 -5 9 16 10 18 11 13"/>
<path d="M0 -10 1 -10 2 -6 3 -16 4 -5 5 -7 6 9 7 4 8 1 9 14 10 7 11 16"/>
<path d="M0 -6 1 -5 2 -2 3 3 4 2 5 3 6 3 7 3 8 -2 9 8 10 7 11 8"/>
<path d="M0 -6 1 -9 2 -3 3 -4 4 -6 5 -2 6 5 7 4 8 -1 9 15 10 16 11 18"/>
<path d="M0 -11 1 -12 2 -10 3 -9 4 -7 5 -4 6 6 7 4 8 2 9 13 10 13 11 13"/>
<path d="M0 -10 1 -9 2 -9 3 -5 4 -20 5 -3 6 3 7 1 8 3 9 18 10 16 11 13"/>
<path d="M0 -4 1 -6 2 -5 3 0 4 -2 5 0 6 -1 7 -1 8 -5 9 6 10 6 11 6"/>
<path d="M0 -8 1 -10 2 -11 3 -7 4 -10 5 -2 6 3 7 2 8 3 9 13 10 13 11 12"/>
<path d="M0 -6 1 -3 2 -3 3 -5 4 -3 5 -1 6 0 7 -4 8 -2 9 6 10 7 11 9"/>
<path d="M0 -18 1 -10 2 -10 3 -9 4 -7 5 -9 6 8 7 3 8 4 9 19 10 17 11 20"/>
<path d="M0 -5 1 -5 2 -10 3 -4 4 -5 5 3 6 9 7 2 8 1 9 6 10 15 11 9"/>
<path d="M0 -7 1 -6 2 -8 3 -8 4 -2 5 3 6 6 7 1 8 2 9 13 10 11 11 11"/>
<path d="M0 -11 1 -11 2 -11 3 -9 4 -7 5 -3 6 4 7 5 8 4 9 13 10 13 11 13"/>
<path d="M0 -14 1 -9 2 -12 3 -9 4 -6 5 -8 6 12 7 7 8 8 9 14 10 15 11 14"/>
<path d="M0 -5 1 -4 2 -5 3 -5 4 -2 5 4 6 5 7 1 8 -1 9 11 10 17 11 14"/>
<path d="M0 -9 1 -4 2 -5 3 -3 4 0 5 1 6 3 7 -1 8 0 9 12 10 13 11 12"/>
<path d="M0 -17 1 -12 2 -13 3 -6 4 -4 5 0 6 7 7 7 8 6 9 17 10 16 11 15"/>
<path d="M0 -9 1 -13 2 -14 3 -8 4 -1 5 -1 6 1 7 4 8 1 9 5 10 9 11 5"/>
<path d="M0 -5 1 -9 2 -8 3 -1 4 -1 5 1 6 -1 7 0 8 0 9 13 10 16 11 11"/>
<path d="M0 -13 1 -9 2 -10 3 -5 4 -5 5 -1 6 6 7 2 8 0 9 17 10 18 11 18"/>
<path d="M0 -13 1 -16 2 -11 3 -9 4 -8 5 -2 6 4 7 9 8 4 9 17 10 19 11 15"/>
<path d="M0 -8 1 -11 2 -10 3 -3 4 -5 5 -2 6 11 7 7 8 -2 9 14 10 20 11 14"/>
<path d="M0 -5 1 -8 2 -4 3 -7 4 -4 5 -4 6 2 7 0 8 0 9 12 10 14 11 13"/>
<path d="M0 -8 1 -10 2 -7 3 0 4 2 5 4 6 4 7 1 8 0 9 8 10 12 11 9"/>
<path d="M0 -15 1 -11 2 -7 3 -7 4 -5 5 -3 6 4 7 0 8 4 9 17 10 18 11 15"/>
<path d="M0 -8 1 -8 2 -5 3 -6 4 -2 5 0 6 11 7 5 8 6 9 10 10 9 11 4"/>
<path d="M0 -5 1 -6 2 -6 3 -5 4 -3 5 2 6 6 7 5 8 1 9 3 10 7 11 8"/>
<path d="M0 -4 1 0 2 -1 3 0 4 5 5 6 6 -2 7 -7 8 -7 9 7 10 4 11 5"/>
<path d="M0 -12 1 -16 2 -7 3 -11 4 -8 5 -10 6 18 7 10 8 16 9 16 10 22 11 24"/>
<path d="M0 -9 1 -8 2 -6 3 -6 4 -7 5 -4 6 8 7 4 8 4 9 10 10 13 11 11"/>
<path d="M0 -7 1 -8 2 -7 3 -4 4 -4 5 -1 6 -22 7 3 8 1 9 10 10 13 11 13"/>
<path d="M0 -5 1 -7 2 -4 3 5 4 7 5 7 6 -1 7 -3 8 0 9 7 10 8 11 5"/>
<path d="M0 -3 1 -7 2 -4 3 0 4 -3 5 4 6 -3 7 -2 8 1 9 6 10 7 11 6"/>
<path d="M0 -8 1 -8 2 -5 3 0 4 0 5 1 6 3 7 1 8 2 9 11 10 13 11 12"/>
<path d="M0 -13 1 -13 2 -11 3 -7 4 -8 5 -5 6 7 7 2 8 3 9 17 10 17 11 16"/>
<path d="M0 -4 1 -2 2 -6 3 2 4 4 5 4 6 2 7 -7 8 -3 9 4 10 -1 11 -2"/>
<path d="M0 -10 1 -8 2 -7 3 -13 4 -7 5 -8 6 5 7 2 8 1 9 12 10 16 11 10"/>
<path d="M0 -10 1 -11 2 -7 3 -7 4 -6 5 -3 6 7 7 4 8 6 9 11 10 13 11 13"/>
<path d="M0 -9 1 -8 2 -5 3 -13 4 -10 5 -8 6 7 7 3 8 6 9 14 10 14 11 15"/>
<path d="M0 -7 1 -8 2 -10 3 -1 4 -1 5 3 6 -1 7 -2 8 -2 9 6 10 9 11 10"/>
<path d="M0 -7 1 -12 2 -7 3 -11 4 -14 5 -10 6 12 7 9 8 4 9 20 10 23 11 20"/>
<path d="M0 -10 1 -16 2 -12 3 1 4 -5 5 -5 6 8 7 7 8 5 9 16 10 16 11 19"/>
<path d="M0 -6 1 -6 2 -5 3 -1 4 2 5 5 6 -20 7 0 8 0 9 6 10 7 11 6"/>
<path d="M0 -6 1 -5 2 -3 3 -4 4 -1 5 2 6 8 7 2 8 4 9 9 10 9 11 7"/>
<path d="M0 -17 1 -11 2 -12 3 -13 4 -9 5 -9 6 9 7 15 8 9 9 14 10 16 11 14"/>
<path d="M0 -10 1 -7 2 -7 3 -1 4 2 5 3 6 -6 7 -2 8 4 9 0 10 3 11 3"/>
<path d="M0 -5 1 -4 2 -4 3 -3 4 1 5 4 6 -2 7 -1 8 -3 9 9 10 11 11 13"/>
<path d="M0 -7 1 -6 2 -6 3 -8 4 -10 5 -6 6 2 7 3 8 2 9 12 10 13 11 15"/>
<path d="M0 -10 1 -8 2 -12 3 -8 4 -15 5 -8 6 8 7 16 8 16 9 22 10 26 11 24"/>
<path d="M0 -8 1 -7 2 -8 3 -4 4 -2 5 -1 6 4 7 1 8 -1 9 4 10 10 11 5"/>
<path d="M0 -7 1 -7 2 -5 3 -9 4 -7 5 -8 6 7 7 3 8 4 9 13 10 11 11 13"/>
<path d="M0 -8 1 -7 2 -8 3 -5 4 -7 5 0 6 -1 7 0 8 0 9 8 10 14 11 15"/>
<path d="M0 -8 1 -13 2 -9 3 -5 4 -4 5 -3 6 11 7 8 8 11 9 16 10 14 11 14"/>
<path d="M0 -13 1 -17 2 -11 3 -9 4 -11 5 -6 6 9 7 7 8 7 9 17 10 15 11 12"/>
<path d="M0 -12 1 -10 2 -12 3 -11 4 -8 5 -5 6 6 7 1 8 1 9 9 10 15 11 10"/>
<path d="M0 -13 1 -13 2 -5 3 0 4 1 5 2 6 2 7 1 8 0 9 9 10 15 11 9"/>
<path d="M0 -12 1 -13 2 -10 3 -5 4 -5 5 -2 6 8 7 2 8 3 9 11 10 8 11 9"/>
<path d="M0 -11 1 -14 2 -9 3 -5 4 -8 5 -5 6 7 7 6 8 6 9 14 10 16 11 16"/>
<path d="M0 -4 1 -5 2 -2 3 -3 4 -2 5 -3 6 -14 7 -2 8 0 9 8 10 7 11 9"/>
<path d="M0 -12 1 -13 2 -9 3 -9 4 -5 5 -1 6 8 7 6 8 5 9 17 10 21 11 21"/>
<path d="M0 -16 1 -21 2 -14 3 -13 4 -6 5 -5 6 18 7 9 8 14 9 25 10 28 11 27"/>
<path d="M0 -7 1 -4 2 -7 3 -7 4 -2 5 -1 6 -23 7 -1 8 0 9 5 10 8 11 13"/>
<path d="M0 -10 1 -11 2 -11 3 -8 4 -5 5 -4 6 -11 7 5 8 4 9 14 10 15 11 15"/>
<path d="M0 -10 1 -10 2 -10 3 -5 4 -2 5 -3 6 3 7 1 8 2 9 13 10 15 11 16"/>
<path d="M0 -9 1 -11 2 -10 3 -4 4 -5 5 -2 6 1 7 -1 8 1 9 13 10 13 11 12"/>
<path d="M0 -8 1 -8 2 -3 3 -6 4 -5 5 0 6 -1 7 1 8 -3 9 15 10 15 11 14"/>
<path d="M0 -15 1 -17 2 -12 3 -6 4 -7 5 -1 6 2 7 1 8 3 9 8 10 14 11 14"/>
<path d="M0 -16 1 -13 2 -10 3 -11 4 -3 5 -2 6 4 7 4 8 7 9 17 10 18 11 20"/>
<path d="M0 -3 1 -9 2 -6 3 -7 4 -9 5 -5 6 1 7 5 8 -1 9 10 10 12 11 8"/>
<path d="M0 -8 1 -5 2 -7 3 -6 4 -5 5 -2 6 7 7 3 8 2 9 9 10 8 11 7"/>
<path d="M0 -6 1 -5 2 -6 3 -7 4 -3 5 -5 6 4 7 2 8 3 9 14 10 8 11 8"/>
<path d="M0 -4 1 -6 2 -9 3 -5 4 -2 5 0 6 6 7 3 8 6 9 19 10 18 11 19"/>
<path d="M0 -7 1 -10 2 -6 3 -6 4 -4 5 -4 6 4 7 3 8 4 9 12 10 15 11 15"/>
<path d="M0 -4 1 -6 2 -5 3 -1 4 -5 5 -2 6 5 7 6 8 3 9 8 10 10 11 9"/>
<path d="M0 -5 1 -5 2 -5 3 -4 4 -4 5 -4 6 7 7 4 8 1 9 11 10 14 11 16"/>
<path d="M0 -5 1 -9 2 -7 3 -9 4 -9 5 -4 6 7 7 0 8 -2 9 14 10 13 11 16"/>
<path d="M0 -11 1 -7 2 -5 3 -4 4 -4 5 -3 6 1 7 4 8 5 9 10 10 14 11 13"/>
<path d="M0 -13 1 -10 2 -13 3 -5 4 -3 5 -8 6 1 7 -1 8 0 9 10 10 10 11 12"/>
<path d="M0 2 1 0 2 1 3 3 4 4 5 2 6 -3 7 -6 8 -3 9 5 10 10 11 8"/>
<path d="M0 -11 1 -11 2 -10 3 -7 4 -10 5 -3 6 11 7 4 8 9 9 18 10 22 11 18"/>
<path d="M0 -12 1 -19 2 -11 3 0 4 -5 5 -13 6 2 7 -1 8 3 9 17 10 18 11 17"/>
<path d="M0 -10 1 -7 2 -9 3 -7 4 -4 5 -10 6 2 7 1 8 0 9 12 10 14 11 12"/>
<path d="M0 -6 1 -8 2 -7 3 1 4 4 5 5 6 3 7 6 8 4 9 9 10 11 11 13"/>
<path d="M0 -8 1 -6 2 -5 3 -5 4 -1 5 1 6 4 7 0 8 -3 9 17 10 15 11 16"/>
<path d="M0 -9 1 -11 2 -5 3 -9 4 -7 5 -4 6 2 7 1 8 0 9 12 10 13 11 13"/>
<path d="M0 -11 1 -7 2 -12 3 -10 4 -9 5 -7 6 10 7 8 8 7 9 16 10 17 11 17"/>
<path d="M0 -10 1 -12 2 -10 3 -6 4 -8 5 -6 6 9 7 3 8 2 9 9 10 13 11 13"/>
<path d="M0 -14 1 -18 2 -21 3 -10 4 -11 5 -4 6 6 7 6 8 1 9 17 10 20 11 21"/>
<path d="M0 -8 1 -6 2 -9 3 -7 4 -4 5 -1 6 4 7 1 8 3 9 7 10 11 11 10"/>
<path d="M0 -15 1 -11 2 -12 3 -12 4 -8 5 -5 6 6 7 3 8 2 9 16 10 19 11 19"/>
<path d="M0 -15 1 -11 2 -12 3 -5 4 -2 5 -2 6 8 7 2 8 1 9 15 10 16 11 15"/>
<path d="M0 -8 1 -13 2 -12 3 -8 4 -6 5 -3 6 4 7 -1 8 2 9 11 10 10 11 8"/>
<path d="M0 -1 1 -7 2 -3 3 -2 4 -2 5 3 6 -9 7 4 8 0 9 13 10 12 11 15"/>
<path d="M0 -7 1 -10 2 -9 3 -8 4 -5 5 -1 6 7 7 6 8 8 9 14 10 15 11 14"/>
<path d="M0 -10 1 -4 2 -5 3 -8 4 -12 5 -4 6 4 7 -1 8 0 9 12 10 8 11 10"/>
<path d="M0 -6 1 -5 2 -4 3 -6 4 -4 5 -3 6 11 7 11 8 11 9 15 10 13 11 8"/>
<path d="M0 -8 1 -8 2 -6 3 -10 4 -6 5 -8 6 13 7 8 8 10 9 24 10 28 11 26"/>
<path d="M0 -13 1 -9 2 -12 3 -5 4 9 5 -3 6 3 7 4 8 7 9 10 10 13 11 14"/>
<path d="M0 -6 1 -9 2 -4 3 -6 4 -3 5 -2 6 3 7 0 8 4 9 18 10 15 11 14"/>
<path d="M0 -7 1 -4 2 0 3 2 4 2 5 1 6 -1 7 0 8 1 9 7 10 7 11 7"/>
<path d="M0 -13 1 -12 2 -9 3 -6 4 -6 5 6 6 1 7 2 8 2 9 13 10 16 11 14"/>
<path d="M0 -4 1 -3 2 -4 3 -1 4 -6 5 1 6 4 7 5 8 3 9 10 10 13 11 10"/>
<path d="M0 -8 1 -4 2 -4 3 -3 4 1 5 1 6 -1 7 3 8 -2 9 9 10 6 11 11"/>
<path d="M0 -5 1 -5 2 -5 3 1 4 8 5 8 6 6 7 -3 8 -1 9 8 10 9 11 7"/>
<path d="M0 -7 1 -9 2 -7 3 0 4 2 5 4 6 3 7 1 8 0 9 8 10 6 11 11"/>
<path d="M0 -12 1 -11 2 -7 3 -5 4 -9 5 -1 6 8 7 5 8 6 9 19 10 19 11 17"/>
<path d="M0 -6 1 -7 2 -10 3 -4 4 -4 5 -6 6 6 7 11 8 6 9 15 10 15 11 17"/>
<path d="M0 -9 1 -7 2 -6 3 -14 4 -11 5 -8 6 10 7 3 8 9 9 19 10 20 11 21"/>
<path d="M0 -10 1 -9 2 -13 3 -5 4 -3 5 -2 6 4 7 3 8 -1 9 12 10 15 11 16"/>
<path d="M0 -8 1 -8 2 -7 3 -7 4 -5 5 -3 6 7 7 9 8 5 9 16 10 13 11 15"/>
<path d="M0 -19 1 -10 2 -13 3 -3 4 1 5 1 6 11 7 2 8 -3 9 9 10 13 11 10"/>
<path d="M0 -9 1 -8 2 -8 3 -4 4 9 5 0 6 3 7 1 8 3 9 9 10 15 11 11"/>
<path d="M0 -6 1 -6 2 -2 3 -5 4 -4 5 2 6 -2 7 -2 8 -1 9 10 10 14 11 12"/>
<path d="M0 -9 1 -10 2 -6 3 -10 4 -6 5 -4 6 8 7 5 8 9 9 17 10 19 11 18"/>
<path d="M0 -9 1 -8 2 -5 3 -3 4 -6 5 -3 6 5 7 1 8 4 9 10 10 12 11 10"/>
<path d="M0 -7 1 -8 2 -6 3 -6 4 -6 5 -5 6 7 7 6 8 3 9 18 10 19 11 18"/>
<path d="M0 -6 1 -5 2 -4 3 -8 4 -5 5 -5 6 5 7 -1 8 2 9 15 10 14 11 12"/>
<path d="M0 -9 1 -8 2 -7 3 -2 4 -1 5 -2 6 3 7 2 8 1 9 7 10 11 11 13"/>
<path d="M0 -7 1 -8 2 -6 3 -2 4 -1 5 0 6 -9 7 2 8 0 9 13 10 15 11 14"/>
<path d="M0 -7 1 -6 2 -6 3 -5 4 -3 5 -3 6 1 7 3 8 2 9 12 10 16 11 17"/>
<path d="M0 -8 1 -5 2 -5 3 -5 4 0 5 0 6 -1 7 1 8 2 9 7 10 10 11 11"/>
<path d="M0 -10 1 -7 2 -6 3 -7 4 -2 5 0 6 7 7 1 8 1 9 7 10 13 11 14"/>
<path d="M0 -1 1 -1 2 -2 3 1 4 2 5 4 6 -2 7 -5 8 -5 9 5 10 7 11 1"/>
<path d="M0 -5 1 -4 2 -5 3 -1 4 -2 5 1 6 4 7 -1 8 -3 9 10 10 4 11 5"/>
<path d="M0 -12 1 -12 2 -12 3 -7 4 -3 5 -2 6 7 7 2 8 3 9 11 10 15 11 19"/>
<path d="M0 -8 1 -5 2 -7 3 -5 4 -4 5 -3 6 6 7 4 8 8 9 15 10 11 11 14"/>
<path d="M0 -9 1 -9 2 -8 3 -4 4 0 5 0 6 3 7 4 8 1 9 12 10 15 11 15"/>
<path d="M0 0 1 -2 2 0 3 -3 4 1 5 -2 6 -8 7 -5 8 -6 9 7 10 6 11 10"/>
<path d="M0 -5 1 -8 2 -5 3 -3 4 -2 5 -2 6 4 7 4 8 3 9 7 10 11 11 8"/>
<path d="M0 -6 1 0 2 -3 3 3 4 4 5 5 6 4 7 -1 8 5 9 5 10 12 11 9"/>
<path d="M0 -7 1 -4 2 -6 3 -3 4 -4 5 0 6 2 7 2 8 5 9 17 10 16 11 18"/>
<path d="M0 -8 1 -9 2 -7 3 -5 4 -2 5 -1 6 1 7 0 8 -1 9 15 10 15 11 12"/>
<path d="M0 -7 1 -8 2 -5 3 -4 4 0 5 1 6 3 7 4 8 3 9 13 10 15 11 13"/>
<path d="M0 -9 1 -11 2 -6 3 -6 4 -5 5 1 6 4 7 2 8 1 9 14 10 17 11 12"/>
<path d="M0 -14 1 -10 2 -7 3 -6 4 -7 5 -4 6 6 7 9 8 6 9 14 10 14 11 12"/>
<path d="M0 -12 1 -14 2 -13 3 -8 4 -6 5 -2 6 7 7 7 8 8 9 18 10 19 11 21"/>
<path d="M0 -9 1 -11 2 -9 3 -12 4 -7 5 -6 6 -2 7 -1 8 0 9 11 10 10 11 9"/>
<path d="M0 -6 1 -6 2 -6 3 -8 4 -3 5 -2 6 3 7 -1 8 0 9 10 10 12 11 12"/>
<path d="M0 -13 1 -14 2 -8 3 -10 4 -6 5 -9 6 -13 7 7 8 3 9 15 10 17 11 20"/>
<path d="M0 -6 1 -7 2 -6 3 -6 4 -3 5 -1 6 3 7 1 8 -2 9 4 10 12 11 7"/>
<path d="M0 -13 1 -15 2 -14 3 -3 4 1 5 6 6 4 7 2 8 3 9 17 10 13 11 17"/>
<path d="M0 -10 1 -8 2 -8 3 -17 4 -8 5 -8 6 14 7 8 8 10 9 23 10 23 11 14"/>
<path d="M0 -7 1 -11 2 -7 3 -5 4 1 5 -3 6 0 7 0 8 0 9 15 10 14 11 18"/>
<path d="M0 -10 1 -8 2 -7 3 -9 4 -6 5 -3 6 4 7 0 8 1 9 10 10 12 11 6"/>
<path d="M0 -11 1 -11 2 -8 3 -6 4 -2 5 -4 6 10 7 4 8 7 9 13 10 16 11 16"/>
<path d="M0 -3 1 -4 2 -3 3 -2 4 2 5 0 6 2 7 0 8 -2 9 3 10 9 11 1"/>
<path d="M0 -8 1 -8 2 -10 3 -5 4 -5 5 -3 6 5 7 4 8 6 9 9 10 10 11 11"/>
<path d="M0 -9 1 -8 2 -4 3 -6 4 -3 5 1 6 1 7 0 8 -4 9 9 10 17 11 14"/>
<path d="M0 -15 1 -11 2 -8 3 -7 4 -4 5 -2 6 2 7 0 8 4 9 15 10 18 11 13"/>
<path d="M0 -9 1 -6 2 -6 3 -9 4 -7 5 -3 6 3 7 1 8 4 9 16 10 16 11 12"/>
<path d="M0 -12 1 -5 2 2 3 -8 4 -8 5 -6 6 4 7 1 8 4 9 11 10 12 11 9"/>
<path d="M0 -4 1 -3 2 -2 3 1 4 1 5 2 6 1 7 1 8 -1 9 8 10 7 11 8"/>
<path d="M0 -9 1 -7 2 -7 3 -5 4 -6 5 -2 6 3 7 4 8 -1 9 11 10 16 11 10"/>
<path d="M0 -7 1 -5 2 -6 3 0 4 -4 5 5 6 2 7 0 8 2 9 7 10 15 11 13"/>
<path d="M0 -15 1 -18 2 -14 3 -9 4 -10 5 -7 6 14 7 10 8 13 9 14 10 20 11 13"/>
<path d="M0 -6 1 -5 2 -6 3 -6 4 -5 5 -2 6 5 7 6 8 2 9 10 10 13 11 13"/>
<path d="M0 -5 1 -9 2 -8 3 -2 4 -1 5 4 6 -2 7 0 8 -6 9 4 10 7 11 5"/>
<path d="M0 -15 1 -10 2 -10 3 -10 4 -9 5 -8 6 3 7 5 8 6 9 12 10 11 11 16"/>
<path d="M0 -6 1 -7 2 -6 3 -6 4 -7 5 -5 6 7 7 2 8 4 9 15 10 20 11 19"/>
<path d="M0 -6 1 -5 2 -4 3 -3 4 1 5 0 6 2 7 -1 8 -3 9 4 10 6 11 5"/>
<path d="M0 -11 1 -9 2 -10 3 0 4 1 5 2 6 5 7 -3 8 3 9 11 10 13 11 13"/>
<path d="M0 -6 1 -7 2 -5 3 -3 4 -3 5 2 6 4 7 5 8 3 9 12 10 9 11 13"/>
<path d="M0 0 1 -1 2 0 3 2 4 4 5 8 6 -5 7 -4 8 -7 9 1 10 2 11 5"/>
<path d="M0 -5 1 -5 2 -6 3 -5 4 -6 5 -4 6 5 7 2 8 1 9 12 10 11 11 14"/>
<path d="M0 -10 1 -8 2 -7 3 -4 4 1 5 -1 6 3 7 -1 8 -4 9 10 10 13 11 9"/>
<path d="M0 -13 1 -11 2 -8 3 -5 4 -3 5 -1 6 8 7 5 8 7 9 13 10 20 11 16"/>
<path d="M0 -8 1 -8 2 -8 3 -4 4 -4 5 1 6 4 7 3 8 0 9 9 10 11 11 8"/>
<path d="M0 -6 1 -12 2 -7 3 -1 4 0 5 0 6 6 7 3 8 2 9 12 10 11 11 12"/>
<path d="M0 -14 1 -12 2 -13 3 -8 4 -7 5 -6 6 11 7 8 8 11 9 13 10 16 11 19"/>
<path d="M0 -7 1 -11 2 -6 3 -2 4 -2 5 2 6 -1 7 0 8 -1 9 12 10 15 11 14"/>
<path d="M0 -7 1 -6 2 -6 3 -1 4 -4 5 -2 6 2 7 9 8 2 9 19 10 16 11 11"/>
<path d="M0 -7 1 -7 2 -5 3 0 4 0 5 1 6 2 7 4 8 -1 9 6 10 7 11 9"/>
<path d="M0 -9 1 -10 2 -5 3 -6 4 0 5 -4 6 6 7 5 8 4 9 13 10 10 11 16"/>
<path d="M0 -9 1 -9 2 -11 3 -7 4 -6 5 -5 6 10 7 10 8 8 9 10 10 16 11 15"/>
<path d="M0 -10 1 -7 2 -7 3 -6 4 -6 5 -2 6 0 7 2 8 0 9 13 10 16 11 13"/>
<path d="M0 -7 1 -8 2 -5 3 -4 4 -4 5 -1 6 4 7 0 8 4 9 10 10 11 11 11"/>
<path d="M0 -5 1 -6 2 -5 3 -3 4 0 5 3 6 -1 7 -1 8 -3 9 4 10 11 11 10"/>
<path d="M0 -5 1 -9 2 -10 3 -2 4 0 5 -2 6 2 7 0 8 5 9 17 10 10 11 19"/>
<path d="M0 0 1 2 2 0 3 0 4 3 5 11 6 -20 7 -2 8 -5 9 0 10 4 11 3"/>
<path d="M0 -5 1 -3 2 -3 3 0 4 -1 5 2 6 3 7 0 8 -3 9 11 10 10 11 8"/>
<path d="M0 -9 1 -13 2 -15 3 -10 4 -6 5 -6 6 12 7 9 8 5 9 13 10 12 11 1"/>
<path d="M0 -7 1 -8 2 -6 3 0 4 -2 5 -5 6 1 7 -2 8 -7 9 10 10 11 11 7"/>
<path d="M0 -7 1 -6 2 -4 3 -5 4 -5 5 -1 6 2 7 7 8 2 9 10 10 12 11 14"/>
<path d="M0 -2 1 1 2 -2 3 0 4 5 5 11 6 -9 7 -10 8 -11 9 2 10 6 11 3"/>
<path d="M0 -7 1 -7 2 -6 3 1 4 2 5 4 6 1 7 0 8 1 9 9 10 8 11 10"/>
<path d="M0 -7 1 -6 2 -7 3 -8 4 -5 5 -1 6 2 7 0 8 0 9 7 10 12 11 9"/>
<path d="M0 -9 1 -7 2 -6 3 -5 4 -1 5 2 6 6 7 6 8 3 9 5 10 10 11 6"/>
<path d="M0 -6 1 -8 2 -7 3 -2 4 1 5 0 6 1 7 2 8 -2 9 5 10 10 11 8"/>
<path d="M0 -7 1 -10 2 -7 3 -5 4 -6 5 -2 6 3 7 -1 8 5 9 13 10 16 11 15"/>
<path d="M0 -5 1 -2 2 -5 3 -3 4 2 5 2 6 0 7 -4 8 0 9 7 10 7 11 11"/>
<path d="M0 -13 1 -13 2 -13 3 -7 4 -5 5 -4 6 11 7 8 8 12 9 18 10 20 11 22"/>
<path d="M0 -8 1 -11 2 -8 3 -3 4 -4 5 -7 6 12 7 6 8 6 9 10 10 11 11 9"/>
<path d="M0 -8 1 -8 2 -7 3 -9 4 -8 5 -8 6 9 7 9 8 7 9 12 10 13 11 14"/>
<path d="M0 -9 1 -5 2 -5 3 -2 4 -2 5 2 6 1 7 -2 8 -1 9 7 10 8 11 11"/>
<path d="M0 -14 1 -15 2 -14 3 -8 4 -7 5 -4 6 11 7 5 8 11 9 18 10 18 11 17"/>
<path d="M0 -10 1 -11 2 -11 3 -6 4 -6 5 -6 6 4 7 2 8 -2 9 14 10 19 11 18"/>
<path d="M0 -3 1 -1 2 -3 3 -6 4 2 5 -1 6 3 7 -4 8 -2 9 6 10 9 11 8"/>
<path d="M0 -5 1 -6 2 -4 3 -2 4 -4 5 0 6 2 7 1 8 1 9 10 10 11 11 8"/>
<path d="M0 -11 1 -14 2 -12 3 -4 4 -5 5 -4 6 1 7 1 8 3 9 12 10 13 11 12"/>
<path d="M0 -6 1 -7 2 -5 3 -8 4 -2 5 -1 6 5 7 1 8 1 9 12 10 13 11 10"/>
<path d="M0 -7 1 -11 2 -6 3 -4 4 -3 5 0 6 2 7 0 8 -1 9 13 10 15 11 17"/>
<path d="M0 -7 1 -8 2 -9 3 -8 4 -6 5 -4 6 5 7 1 8 -4 9 11 10 13 11 15"/>
<path d="M0 -10 1 -11 2 -8 3 -6 4 -3 5 0 6 -3 7 -2 8 -6 9 10 10 12 11 10"/>
<path d="M0 -4 1 -7 2 -4 3 0 4 1 5 6 6 0 7 0 8 4 9 14 10 10 11 15"/>
<path d="M0 -11 1 -8 2 -13 3 -10 4 -9 5 -4 6 5 7 -1 8 3 9 1 10 6 11 8"/>
<path d="M0 -7 1 -8 2 -8 3 -5 4 -2 5 1 6 4 7 3 8 3 9 9 10 11 11 8"/>
<path d="M0 -7 1 -7 2 -5 3 -4 4 1 5 3 6 5 7 4 8 3 9 11 10 14 11 11"/>
<path d="M0 -9 1 -12 2 -7 3 -4 4 -4 5 -2 6 9 7 5 8 3 9 18 10 19 11 17"/>
<path d="M0 -11 1 -12 2 -9 3 -3 4 -4 5 -3 6 7 7 4 8 2 9 11 10 13 11 13"/>
<path d="M0 -5 1 -3 2 -3 3 -6 4 -2 5 1 6 2 7 0 8 -3 9 4 10 6 11 5"/>
<path d="M0 -10 1 -10 2 -7 3 -6 4 -3 5 -1 6 6 7 3 8 1 9 5 10 6 11 8"/>
<path d="M0 -10 1 -9 2 -6 3 -2 4 2 5 1 6 3 7 2 8 1 9 7 10 10 11 9"/>
<path d="M0 -7 1 -9 2 -10 3 -5 4 -5 5 -4 6 -12 7 5 8 0 9 14 10 15 11 15"/>
<path d="M0 -6 1 -5 2 -3 3 -2 4 1 5 5 6 4 7 -1 8 1 9 7 10 12 11 8"/>
<path d="M0 -9 1 -14 2 -13 3 -15 4 -8 5 -4 6 8 7 7 8 7 9 17 10 15 11 2"/>
<path d="M0 -12 1 -15 2 -14 3 -9 4 -7 5 -1 6 8 7 8 8 4 9 12 10 14 11 14"/>
<path d="M0 -7 1 -7 2 -4 3 -6 4 -5 5 -3 6 5 7 3 8 2 9 15 10 14 11 15"/>
<path d="M0 -9 1 -8 2 -9 3 -9 4 -6 5 -4 6 5 7 4 8 4 9 13 10 18 11 14"/>
<path d="M0 -8 1 -10 2 -11 3 -2 4 -3 5 0 6 3 7 1 8 1 9 14 10 8 11 10"/>
<path d="M0 -3 1 -3 2 -2 3 0 4 -1 5 3 6 -5 7 -1 8 1 9 10 10 15 11 14"/>
<path d="M0 -3 1 -4 2 -3 3 -5 4 -4 5 0 6 3 7 3 8 2 9 9 10 12 11 4"/>
<path d="M0 -7 1 -7 2 -9 3 -4 4 -3 5 -2 6 -19 7 6 8 6 9 14 10 17 11 16"/>
<path d="M0 -12 1 -11 2 -11 3 -10 4 -10 5 -8 6 10 7 6 8 7 9 19 10 21 11 18"/>
<path d="M0 -7 1 -7 2 -6 3 -1 4 1 5 0 6 -1 7 -1 8 -1 9 13 10 11 11 11"/>
<path d="M0 -7 1 -12 2 -8 3 -10 4 -6 5 -4 6 6 7 8 8 10 9 7 10 11 11 9"/>
<path d="M0 -11 1 -10 2 -10 3 -5 4 -5 5 -4 6 5 7 4 8 4 9 13 10 14 11 13"/>
<path d="M0 -4 1 2 2 -4 3 0 4 5 5 7 6 1 7 -3 8 3 9 2 10 10 11 8"/>
<path d="M0 -11 1 -10 2 -9 3 -7 4 -7 5 -1 6 -26 7 -1 8 0 9 16 10 18 11 17"/>
<path d="M0 -8 1 -6 2 -6 3 -4 4 -1 5 1 6 10 7 4 8 7 9 13 10 16 11 14"/>
<path d="M0 -7 1 -5 2 -4 3 -2 4 2 5 6 6 2 7 2 8 2 9 10 10 9 11 9"/>
<path d="M0 -2 1 -4 2 -2 3 -7 4 -3 5 -2 6 -6 7 -7 8 -9 9 0 10 1 11 3"/>
<path d="M0 -9 1 -7 2 -8 3 -6 4 -4 5 -1 6 -1 7 -2 8 -1 9 12 10 12 11 14"/>
<path d="M0 -9 1 -12 2 -6 3 1 4 4 5 9 6 5 7 1 8 1 9 9 10 12 11 9"/>
<path d="M0 -6 1 -5 2 -5 3 -6 4 -2 5 -1 6 1 7 1 8 2 9 11 10 8 11 5"/>
<path d="M0 -11 1 -9 2 -7 3 -3 4 -5 5 -5 6 7 7 3 8 0 9 8 10 12 11 12"/>
<path d="M0 -7 1 -3 2 -3 3 -2 4 1 5 -1 6 4 7 4 8 3 9 9 10 11 11 11"/>
<path d="M0 -6 1 -11 2 -17 3 -6 4 -5 5 -4 6 4 7 4 8 3 9 14 10 19 11 14"/>
<path d="M0 -9 1 -10 2 -9 3 -12 4 -9 5 -4 6 1 7 2 8 5 9 12 10 13 11 14"/>
<path d="M0 -3 1 -2 2 3 3 -1 4 2 5 5 6 -8 7 -8 8 0 9 10 10 9 11 12"/>
<path d="M0 -16 1 -15 2 -18 3 -4 4 0 5 -4 6 -18 7 -1 8 -1 9 16 10 18 11 17"/>
<path d="M0 -8 1 -11 2 -5 3 -7 4 -4 5 -3 6 6 7 2 8 3 9 12 10 12 11 16"/>
<path d="M0 -12 1 -11 2 -10 3 -8 4 -6 5 -6 6 12 7 8 8 10 9 21 10 19 11 20"/>
<path d="M0 -18 1 -10 2 -7 3 -15 4 -8 5 -7 6 17 7 14 8 16 9 26 10 28 11 26"/>
<path d="M0 -13 1 -17 2 -13 3 -9 4 -10 5 -3 6 15 7 10 8 9 9 18 10 15 11 21"/>
<path d="M0 -1 1 -1 2 -2 3 -3 4 -3 5 0 6 0 7 -5 8 -1 9 -3 10 4 11 1"/>
<path d="M0 -5 1 -3 2 -4 3 1 4 1 5 3 6 0 7 -3 8 -4 9 8 10 4 11 4"/>
<path d="M0 -2 1 -5 2 -3 3 -5 4 -3 5 0 6 8 7 6 8 1 9 4 10 8 11 9"/>
<path d="M0 -7 1 -6 2 -4 3 -10 4 -4 5 -1 6 1 7 4 8 2 9 7 10 8 11 11"/>
<path d="M0 -10 1 -9 2 -7 3 -4 4 2 5 3 6 9 7 6 8 1 9 12 10 14 11 19"/>
<path d="M0 -10 1 -8 2 -9 3 -6 4 -4 5 -1 6 9 7 6 8 6 9 15 10 15 11 17"/>
<path d="M0 -8 1 -9 2 -11 3 -8 4 -7 5 -1 6 0 7 0 8 -3 9 14 10 14 11 14"/>
<path d="M0 -6 1 -8 2 -4 3 0 4 1 5 -1 6 3 7 1 8 8 9 15 10 12 11 17"/>
<path d="M0 -12 1 -7 2 -8 3 -6 4 -1 5 -1 6 -25 7 -2 8 -2 9 6 10 11 11 12"/>
<path d="M0 -6 1 -5 2 -4 3 -3 4 -2 5 -1 6 -1 7 -3 8 -2 9 7 10 12 11 14"/>
<path d="M0 -3 1 -2 2 -2 3 -1 4 2 5 5 6 0 7 -4 8 -5 9 4 10 10 11 7"/>
<path d="M0 -10 1 -7 2 -8 3 -3 4 -1 5 1 6 1 7 2 8 -4 9 13 10 10 11 12"/>
<path d="M0 -2 1 -2 2 -1 3 -1 4 4 5 9 6 5 7 -3 8 1 9 7 10 7 11 5"/>
<path d="M0 -9 1 -7 2 -6 3 -3 4 -3 5 3 6 4 7 5 8 2 9 8 10 10 11 9"/>
<path d="M0 -8 1 -6 2 -7 3 1 4 2 5 3 6 -2 7 -2 8 -2 9 7 10 12 11 11"/>
<path d="M0 -9 1 -11 2 -9 3 -6 4 -3 5 -2 6 4 7 0 8 0 9 12 10 13 11 12"/>
<path d="M0 0 1 -3 2 -1 3 1 4 1 5 4 6 -2 7 0 8 3 9 3 10 11 11 6"/>
<path d="M0 -7 1 -11 2 -9 3 -9 4 -12 5 -7 6 5 7 8 8 5 9 15 10 19 11 16"/>
<path d="M0 -1 1 0 2 1 3 4 4 3 5 8 6 -4 7 -3 8 -7 9 7 10 7 11 5"/>
<path d="M0 -8 1 -10 2 -4 3 3 4 2 5 2 6 -3 7 -5 8 -1 9 7 10 12 11 7"/>
<path d="M0 -12 1 -10 2 -10 3 -7 4 0 5 0 6 6 7 4 8 7 9 12 10 13 11 17"/>
<path d="M0 -10 1 -20 2 -17 3 -5 4 -4 5 3 6 3 7 -1 8 4 9 9 10 9 11 6"/>
<path d="M0 -13 1 -9 2 -12 3 -8 4 -5 5 -4 6 6 7 7 8 7 9 9 10 10 11 11"/>
<path d="M0 -7 1 -7 2 -9 3 -7 4 -3 5 -1 6 4 7 3 8 5 9 13 10 15 11 12"/>
<path d="M0 -7 1 -5 2 -5 3 -1 4 -1 5 3 6 4 7 4 8 5 9 9 10 10 11 11"/>
<path d="M0 -9 1 -9 2 -6 3 -2 4 -4 5 2 6 5 7 2 8 5 9 10 10 15 11 11"/>
<path d="M0 -5 1 -4 2 -4 3 -3 4 -1 5 -1 6 1 7 -1 8 -1 9 8 10 12 11 9"/>
<path d="M0 2 1 -1 2 3 3 5 4 9 5 11 6 -8 7 1 8 -3 9 4 10 7 11 3"/>
<path d="M0 -10 1 -8 2 -9 3 -8 4 -6 5 -2 6 6 7 4 8 3 9 16 10 14 11 16"/>
<path d="M0 -8 1 -10 2 -10 3 -7 4 -3 5 -6 6 6 7 1 8 -2 9 12 10 13 11 16"/>
<path d="M0 -20 1 -22 2 -19 3 -6 4 -11 5 -1 6 2 7 8 8 0 9 26 10 27 11 24"/>
<path d="M0 -6 1 -6 2 -5 3 -5 4 -4 5 -1 6 1 7 -3 8 1 9 5 10 4 11 4"/>
<path d="M0 -11 1 -13 2 -14 3 -5 4 -5 5 -1 6 4 7 2 8 3 9 13 10 12 11 17"/>
<path d="M0 -5 1 -4 2 -3 3 -1 4 -1 5 0 6 -2 7 -2 8 -5 9 6 10 9 11 3"/>
<path d="M0 -11 1 -9 2 -8 3 -1 4 0 5 1 6 -17 7 5 8 4 9 11 10 13 11 12"/>
<path d="M0 -5 1 -8 2 -4 3 -5 4 -4 5 2 6 3 7 0 8 -1 9 10 10 9 11 14"/>
<path d="M0 -13 1 -8 2 -8 3 -7 4 1 5 0 6 2 7 6 8 3 9 4 10 12 11 11"/>
<path d="M0 -9 1 -10 2 -8 3 -10 4 -4 5 -7 6 5 7 10 8 5 9 14 10 16 11 19"/>
<path d="M0 -11 1 -9 2 -10 3 -7 4 -4 5 -4 6 0 7 0 8 -5 9 11 10 13 11 9"/>
<path d="M0 -4 1 -9 2 -6 3 -5 4 -6 5 -6 6 2 7 4 8 -1 9 11 10 14 11 10"/>
<path d="M0 -8 1 -5 2 -8 3 -11 4 -19 5 -5 6 6 7 7 8 6 9 10 10 12 11 9"/>
<path d="M0 -17 1 -10 2 -11 3 -9 4 -13 5 -7 6 8 7 3 8 9 9 17 10 18 11 20"/>
<path d="M0 -10 1 -5 2 -5 3 -6 4 -3 5 -2 6 5 7 4 8 3 9 13 10 15 11 12"/>
<path d="M0 -16 1 -3 2 -3 3 0 4 7 5 10 6 6 7 4 8 0 9 7 10 9 11 7"/>
<path d="M0 -7 1 -4 2 -1 3 -4 4 -6 5 1 6 3 7 2 8 0 9 4 10 4 11 7"/>
<path d="M0 -5 1 -4 2 -3 3 3 4 3 5 2 6 2 7 -4 8 -9 9 2 10 8 11 4"/>
<path d="M0 -4 1 -5 2 -4 3 4 4 2 5 6 6 -3 7 -1 8 -5 9 4 10 9 11 5"/>
<path d="M0 -7 1 -6 2 -6 3 -4 4 -4 5 1 6 5 7 3 8 1 9 9 10 12 11 11"/>
<path d="M0 -5 1 -2 2 -6 3 1 4 -5 5 -3 6 0 7 -5 8 -2 9 5 10 13 11 4"/>
<path d="M0 -6 1 -8 2 -5 3 -4 4 -2 5 0 6 -2 7 -2 8 -1 9 7 10 8 11 9"/>
<path d="M0 -11 1 -12 2 -7 3 -8 4 -8 5 -4 6 6 7 9 8 4 9 11 10 12 11 15"/>
<path d="M0 -17 1 -10 2 -14 3 -5 4 -5 5 -3 6 4 7 29 8 1 9 19 10 19 11 19"/>
<path d="M0 -5 1 -8 2 -5 3 -20 4 -1 5 1 6 1 7 1 8 6 9 14 10 12 11 15"/>
<path d="M0 -9 1 -7 2 -9 3 -5 4 -6 5 -4 6 4 7 1 8 2 9 10 10 12 11 14"/>
<path d="M0 -5 1 -6 2 -4 3 -4 4 -2 5 1 6 2 7 16 8 -3 9 9 10 5 11 8"/>
<path d="M0 -6 1 -12 2 -8 3 -7 4 -7 5 -1 6 4 7 5 8 6 9 18 10 16 11 16"/>
<path d="M0 -9 1 -12 2 -9 3 -7 4 -5 5 -4 6 6 7 3 8 5 9 16 10 18 11 15"/>
<path d="M0 -6 1 -13 2 -9 3 -7 4 -5 5 0 6 8 7 6 8 7 9 14 10 16 11 14"/>
<path d="M0 -8 1 -10 2 -4 3 -6 4 -2 5 3 6 -2 7 1 8 -1 9 10 10 11 11 10"/>
<path d="M0 -2 1 -6 2 -6 3 8 4 3 5 9 6 2 7 -5 8 1 9 11 10 8 11 9"/>
<path d="M0 -10 1 -8 2 -10 3 -6 4 -4 5 -2 6 4 7 1 8 3 9 11 10 15 11 13"/>
<path d="M0 -7 1 -4 2 -4 3 -2 4 -1 5 -2 6 12 7 7 8 9 9 12 10 12 11 13"/>
<path d="M0 -13 1 -9 2 -12 3 -7 4 -4 5 -4 6 8 7 11 8 7 9 18 10 20 11 19"/>
<path d="M0 -13 1 -15 2 -14 3 -6 4 -6 5 -6 6 9 7 6 8 5 9 13 10 20 11 17"/>
<path d="M0 -12 1 -14 2 -11 3 -7 4 -10 5 -7 6 3 7 6 8 8 9 19 10 16 11 15"/>
<path d="M0 -12 1 -17 2 -13 3 -8 4 -6 5 -5 6 10 7 10 8 9 9 18 10 18 11 20"/>
<path d="M0 -15 1 -15 2 -18 3 -5 4 -9 5 -10 6 2 7 9 8 6 9 6 10 11 11 5"/>
<path d="M0 0 1 -2 2 1 3 1 4 1 5 5 6 6 7 8 8 5 9 6 10 9 11 12"/>
<path d="M0 -11 1 -9 2 -6 3 -7 4 -5 5 -2 6 8 7 2 8 5 9 11 10 13 11 13"/>
<path d="M0 -13 1 -11 2 -11 3 -10 4 -6 5 -8 6 3 7 9 8 1 9 15 10 16 11 20"/>
<path d="M0 -13 1 -13 2 -9 3 -15 4 -12 5 -8 6 14 7 6 8 8 9 16 10 20 11 16"/>
<path d="M0 -8 1 -5 2 -6 3 -2 4 -1 5 1 6 8 7 3 8 4 9 16 10 13 11 15"/>
<path d="M0 -13 1 -16 2 -14 3 -14 4 -10 5 -10 6 10 7 10 8 10 9 21 10 24 11 20"/>
<path d="M0 -6 1 -9 2 -7 3 -3 4 -1 5 2 6 3 7 0 8 1 9 10 10 10 11 14"/>
<path d="M0 -14 1 -14 2 -11 3 -9 4 -8 5 -5 6 6 7 9 8 5 9 14 10 17 11 16"/>
<path d="M0 -12 1 -10 2 -11 3 -12 4 -10 5 -7 6 10 7 7 8 5 9 15 10 19 11 16"/>
<path d="M0 -10 1 -8 2 -8 3 -8 4 -6 5 -2 6 6 7 4 8 3 9 13 10 11 11 15"/>
<path d="M0 -11 1 -9 2 -7 3 -9 4 -4 5 -2 6 7 7 7 8 6 9 14 10 16 11 17"/>
<path d="M0 -6 1 -6 2 -5 3 -14 4 -10 5 -8 6 0 7 0 8 -2 9 18 10 17 11 13"/>
<path d="M0 -9 1 -7 2 -10 3 -8 4 -8 5 -2 6 -2 7 -3 8 -2 9 9 10 12 11 11"/>
<path d="M0 -13 1 -9 2 -11 3 -15 4 -14 5 -12 6 9 7 9 8 12 9 12 10 16 11 17"/>
<path d="M0 -4 1 -6 2 -5 3 -5 4 1 5 1 6 3 7 6 8 3 9 5 10 9 11 5"/>
<path d="M0 -7 1 -8 2 -7 3 -3 4 0 5 -2 6 5 7 0 8 2 9 13 10 17 11 15"/>
<path d="M0 -22 1 -18 2 -16 3 -18 4 -16 5 -14 6 11 7 9 8 9 9 19 10 23 11 23"/>
<path d="M0 -6 1 -5 2 -4 3 -5 4 -4 5 -2 6 3 7 1 8 0 9 12 10 10 11 9"/>
<path d="M0 -3 1 0 2 1 3 8 4 9 5 11 6 -9 7 -8 8 -6 9 -3 10 1 11 -2"/>
<path d="M0 -9 1 -7 2 -8 3 -5 4 -3 5 -1 6 4 7 2 8 2 9 10 10 14 11 11"/>
<path d="M0 -6 1 -7 2 -3 3 2 4 2 5 2 6 2 7 2 8 3 9 10 10 13 11 12"/>
<path d="M0 -6 1 -7 2 -6 3 -7 4 -4 5 1 6 8 7 5 8 4 9 12 10 14 11 15"/>
<path d="M0 -11 1 -13 2 -9 3 -7 4 -6 5 -4 6 4 7 2 8 2 9 15 10 18 11 17"/>
<path d="M0 -4 1 -5 2 -4 3 2 4 0 5 6 6 1 7 -3 8 1 9 4 10 7 11 6"/>
<path d="M0 -10 1 -14 2 -12 3 -7 4 -5 5 -5 6 1 7 5 8 0 9 13 10 13 11 12"/>
<path d="M0 -13 1 -17 2 -15 3 -4 4 -6 5 -7 6 6 7 5 8 5 9 12 10 14 11 18"/>
<path d="M0 -7 1 -13 2 -2 3 3 4 -1 5 4 6 1 7 2 8 2 9 13 10 16 11 12"/>
<path d="M0 -7 1 -4 2 -5 3 -4 4 -2 5 -2 6 4 7 0 8 0 9 3 10 6 11 10"/>
<path d="M0 -9 1 -7 2 -7 3 -10 4 -8 5 -3 6 3 7 -1 8 4 9 11 10 15 11 13"/>
<path d="M0 -15 1 -16 2 -10 3 -2 4 -7 5 -3 6 -12 7 2 8 2 9 18 10 19 11 19"/>
<path d="M0 -17 1 -16 2 -14 3 -11 4 -6 5 -8 6 11 7 14 8 11 9 20 10 18 11 36"/>
<path d="M0 -13 1 -7 2 -17 3 -8 4 -6 5 -9 6 5 7 5 8 4 9 8 10 13 11 19"/>
<path d="M0 -9 1 -7 2 -6 3 -8 4 -7 5 -2 6 4 7 6 8 2 9 15 10 12 11 7"/>
<path d="M0 -9 1 -9 2 -8 3 1 4 2 5 -1 6 2 7 -1 8 2 9 15 10 17 11 15"/>
<path d="M0 -9 1 -7 2 -9 3 -6 4 -5 5 -4 6 4 7 4 8 3 9 16 10 15 11 16"/>
<path d="M0 -5 1 -11 2 -6 3 0 4 -1 5 1 6 1 7 0 8 -3 9 10 10 13 11 8"/>
<path d="M0 -4 1 -7 2 -6 3 -4 4 2 5 3 6 -5 7 -2 8 -5 9 11 10 8 11 10"/>
<path d="M0 -7 1 -9 2 -6 3 -6 4 -6 5 -5 6 2 7 1 8 2 9 12 10 16 11 16"/>
<path d="M0 -8 1 -6 2 -5 3 -5 4 -3 5 -2 6 5 7 1 8 3 9 14 10 13 11 8"/>
<path d="M0 -10 1 -12 2 -6 3 -7 4 -8 5 -1 6 7 7 6 8 7 9 16 10 16 11 15"/>
<path d="M0 -7 1 -6 2 -4 3 -9 4 -5 5 -5 6 6 7 7 8 2 9 7 10 12 11 11"/>
<path d="M0 -13 1 -13 2 -6 3 -5 4 -4 5 -1 6 2 7 -1 8 0 9 11 10 13 11 12"/>
<path d="M0 -11 1 -9 2 -11 3 -8 4 -8 5 -6 6 9 7 6 8 8 9 16 10 17 11 17"/>
<path d="M0 -16 1 -11 2 -15 3 -4 4 -2 5 0 6 1 7 4 8 3 9 15 10 19 11 14"/>
<path d="M0 -4 1 -4 2 -2 3 -3 4 -3 5 0 6 -1 7 -3 8 -3 9 5 10 7 11 8"/>
<path d="M0 -8 1 11 2 -8 3 -9 4 -7 5 -7 6 4 7 6 8 4 9 18 10 15 11 17"/>
<path d="M0 -6 1 -9 2 -12 3 -8 4 -7 5 -7 6 10 7 7 8 8 9 14 10 14 11 16"/>
<path d="M0 -4 1 -4 2 -3 3 -1 4 0 5 -2 6 -2 7 2 8 2 9 10 10 12 11 12"/>
<path d="M0 -16 1 -10 2 -11 3 -9 4 -8 5 -6 6 4 7 0 8 3 9 19 10 26 11 20"/>
<path d="M0 -9 1 -10 2 -9 3 -8 4 -5 5 -7 6 7 7 5 8 1 9 15 10 15 11 19"/>
<path d="M0 -11 1 -16 2 -9 3 -7 4 -4 5 -6 6 7 7 6 8 7 9 14 10 21 11 17"/>
<path d="M0 -8 1 -7 2 -7 3 -3 4 -3 5 0 6 4 7 2 8 4 9 8 10 11 11 13"/>
<path d="M0 -3 1 -6 2 -5 3 5 4 4 5 8 6 4 7 2 8 1 9 3 10 7 11 6"/>
<path d="M0 -1 1 -4 2 -2 3 -3 4 -5 5 0 6 5 7 7 8 2 9 8 10 6 11 6"/>
<path d="M0 -8 1 -5 2 -7 3 -7 4 -2 5 -2 6 -4 7 -2 8 -5 9 15 10 19 11 19"/>
<path d="M0 -7 1 -9 2 -4 3 0 4 -1 5 2 6 -1 7 -3 8 -1 9 11 10 9 11 12"/>
<path d="M0 -6 1 -7 2 -11 3 -9 4 -8 5 -3 6 -3 7 -3 8 1 9 7 10 10 11 5"/>
</g>
<path d="M304.7 564.4 322.8 564.4 340.8 563.5 358.9 561 377 559.7 395 558 413.1 553.3 431.2 554.6 449.3 555 467.3 547.4 485.4 545.7 503.5 546.1" fill="none" stroke="#000" stroke-width="2"/>
<rect x="294" y="463.9" width="219.8" height="185.2" fill="none" stroke="#7a7a7a" stroke-width="1.4"/>
<rect x="294" y="439.3" width="219.8" height="24.6" fill="#c4c4c4" stroke="#4a4a4a" stroke-width="1.5"/>
<g transform="translate(404.1 457.9)"><text font-size="16.6" text-anchor="middle" class="t">AAM.down.3</text></g>
<text x="471.5" y="505" font-size="24" font-weight="bold" letter-spacing="1.0" text-anchor="middle" fill="#000" stroke="#000" stroke-width="1.1">400</text>
<g transform="translate(55 647.4)"><text font-size="16.6" text-anchor="end" class="t">–10</text><rect x="-17.80" y="-2.34" width="3.21" height="4.14" fill="#fff"/><rect x="-12.52" y="-2.34" width="3.08" height="4.14" fill="#fff"/></g>
<g transform="translate(55 605.3)"><text font-size="16.6" text-anchor="end" class="t">–5</text></g>
<g transform="translate(55 563.1)"><text font-size="16.6" text-anchor="end" class="t">0</text></g>
<g transform="translate(55 521)"><text font-size="16.6" text-anchor="end" class="t">5</text></g>
<g transform="translate(55 478.9)"><text font-size="16.6" text-anchor="end" class="t">10</text><rect x="-17.80" y="-2.34" width="3.21" height="4.14" fill="#fff"/><rect x="-12.52" y="-2.34" width="3.08" height="4.14" fill="#fff"/></g>
<path d="M59.5 641.1H67.7M59.5 599H67.7M59.5 556.9H67.7M59.5 514.7H67.7M59.5 472.6H67.7" stroke="#4a4a4a" stroke-width="1.3"/>
<rect x="67.7" y="680.4" width="219.4" height="185.2" fill="#fff"/>
<path d="M67.7 836.6H287.1M67.7 794.4H287.1M67.7 752.3H287.1M67.7 710.1H287.1" stroke="#f2f2f2" stroke-width="0.6" fill="none"/>
<path d="M67.7 857.6H287.1M67.7 815.5H287.1M67.7 773.4H287.1M67.7 731.2H287.1M67.7 689.1H287.1M78.1 680.4V865.6M96.1 680.4V865.6M114.1 680.4V865.6M132.2 680.4V865.6M150.2 680.4V865.6M168.2 680.4V865.6M186.2 680.4V865.6M204.2 680.4V865.6M222.3 680.4V865.6M240.3 680.4V865.6M258.3 680.4V865.6M276.3 680.4V865.6" stroke="#e6e6e6" stroke-width="1" fill="none"/>
<g class="L" transform="translate(78.1 773.4) scale(18.0200 -0.8430)" stroke-opacity="0.100">
<path d="M0 7 1 6 2 2 3 -3 4 -4 5 1 6 -2 7 -4 8 -4 9 2 10 -11 11 -3"/>
<path d="M0 16 1 18 2 12 3 2 4 1 5 3 6 2 7 2 8 4 9 -12 10 -13 11 -10"/>
<path d="M0 14 1 15 2 18 3 5 4 5 5 7 6 3 7 5 8 5 9 -3 10 -15 11 -17"/>
<path d="M0 11 1 8 2 1 3 -7 4 -1 5 -4 6 -7 7 0 8 -7 9 2 10 -8 11 -5"/>
<path d="M0 27 1 27 2 21 3 11 4 7 5 17 6 14 7 8 8 9 9 -9 10 -19 11 -23"/>
<path d="M0 13 1 19 2 7 3 6 4 4 5 4 6 2 7 5 8 4 9 -6 10 -15 11 -13"/>
<path d="M0 10 1 6 2 9 3 11 4 16 5 8 6 0 7 -1 8 -3 9 -3 10 -9 11 -8"/>
<path d="M0 9 1 9 2 5 3 4 4 5 5 6 6 -1 7 -2 8 -2 9 -8 10 -17 11 -14"/>
<path d="M0 20 1 18 2 24 3 11 4 7 5 7 6 5 7 7 8 2 9 1 10 -10 11 -14"/>
<path d="M0 9 1 7 2 8 3 4 4 3 5 1 6 -2 7 -3 8 -2 9 -5 10 -10 11 -8"/>
<path d="M0 22 1 26 2 24 3 4 4 5 5 7 6 3 7 6 8 1 9 -7 10 -17 11 -10"/>
<path d="M0 0 1 -3 2 1 3 7 4 9 5 5 6 13 7 8 8 8 9 4 10 -18 11 -5"/>
<path d="M0 8 1 9 2 7 3 7 4 6 5 5 6 -3 7 -5 8 -3 9 -4 10 -9 11 -10"/>
<path d="M0 12 1 14 2 7 3 1 4 2 5 -4 6 0 7 0 8 -2 9 -3 10 -9 11 -9"/>
<path d="M0 25 1 27 2 14 3 8 4 8 5 11 6 7 7 6 8 1 9 -4 10 -19 11 -8"/>
<path d="M0 0 1 8 2 -1 3 4 4 3 5 3 6 0 7 -3 8 -6 9 10 10 -3 11 -1"/>
<path d="M0 13 1 4 2 11 3 5 4 2 5 11 6 -8 7 -3 8 -8 9 -1 10 -6 11 -8"/>
<path d="M0 10 1 14 2 11 3 1 4 0 5 2 6 5 7 1 8 0 9 -1 10 -13 11 -13"/>
<path d="M0 8 1 9 2 6 3 5 4 1 5 1 6 2 7 1 8 -1 9 -6 10 -10 11 -8"/>
<path d="M0 15 1 21 2 13 3 9 4 7 5 5 6 9 7 8 8 5 9 -7 10 -21 11 -16"/>
<path d="M0 7 1 8 2 5 3 5 4 3 5 4 6 -4 7 -3 8 -4 9 -1 10 -8 11 -6"/>
<path d="M0 10 1 8 2 9 3 7 4 10 5 9 6 0 7 -4 8 3 9 -12 10 -21 11 -13"/>
<path d="M0 13 1 13 2 6 3 2 4 0 5 1 6 -2 7 -2 8 -1 9 -3 10 -12 11 -12"/>
<path d="M0 8 1 11 2 5 3 1 4 -2 5 14 6 -1 7 0 8 1 9 -1 10 -9 11 -6"/>
<path d="M0 10 1 14 2 7 3 6 4 5 5 4 6 5 7 5 8 3 9 -3 10 -10 11 -10"/>
<path d="M0 11 1 11 2 9 3 1 4 -5 5 1 6 -5 7 -5 8 -4 9 0 10 -6 11 -11"/>
<path d="M0 4 1 3 2 2 3 2 4 2 5 6 6 5 7 3 8 1 9 -7 10 -8 11 -14"/>
<path d="M0 8 1 18 2 16 3 10 4 4 5 0 6 -2 7 -3 8 -3 9 -2 10 -17 11 -12"/>
<path d="M0 11 1 9 2 8 3 5 4 3 5 6 6 1 7 0 8 2 9 -7 10 -14 11 -10"/>
<path d="M0 12 1 17 2 11 3 11 4 5 5 7 6 5 7 10 8 6 9 -8 10 -12 11 -5"/>
<path d="M0 25 1 22 2 15 3 9 4 10 5 12 6 8 7 10 8 6 9 -10 10 -21 11 -16"/>
<path d="M0 12 1 21 2 10 3 5 4 6 5 6 6 2 7 4 8 0 9 -3 10 -14 11 -13"/>
<path d="M0 6 1 5 2 5 3 2 4 -4 5 1 6 -1 7 -6 8 -1 9 -4 10 -6 11 -5"/>
<path d="M0 10 1 20 2 15 3 2 4 1 5 3 6 3 7 -1 8 3 9 -10 10 -16 11 -13"/>
<path d="M0 14 1 12 2 8 3 6 4 7 5 6 6 -2 7 -3 8 3 9 -2 10 -24 11 -14"/>
<path d="M0 9 1 9 2 7 3 -2 4 -1 5 -1 6 1 7 -3 8 -6 9 -5 10 -12 11 -15"/>
<path d="M0 16 1 9 2 10 3 0 4 1 5 3 6 0 7 -1 8 -2 9 -4 10 -13 11 -17"/>
<path d="M0 16 1 11 2 2 3 -5 4 -14 5 -11 6 -4 7 -6 8 -6 9 4 10 -5 11 -9"/>
<path d="M0 12 1 11 2 10 3 2 4 2 5 4 6 0 7 0 8 -1 9 -6 10 -14 11 -17"/>
<path d="M0 17 1 17 2 8 3 4 4 2 5 1 6 3 7 5 8 4 9 -8 10 -17 11 -13"/>
<path d="M0 6 1 7 2 2 3 -6 4 -8 5 -6 6 -6 7 -6 8 -7 9 7 10 8 11 -8"/>
<path d="M0 12 1 8 2 9 3 4 4 7 5 12 6 4 7 7 8 3 9 -19 10 -11 11 -19"/>
<path d="M0 20 1 19 2 8 3 3 4 9 5 4 6 5 7 5 8 11 9 -5 10 -8 11 -4"/>
<path d="M0 12 1 5 2 24 3 -2 4 -14 5 -4 6 6 7 -1 8 3 9 -4 10 -9 11 -1"/>
<path d="M0 9 1 10 2 7 3 4 4 3 5 6 6 2 7 2 8 1 9 -5 10 -13 11 -12"/>
<path d="M0 8 1 8 2 6 3 -1 4 0 5 1 6 -1 7 -2 8 -2 9 -11 10 -17 11 -14"/>
<path d="M0 10 1 10 2 2 3 9 4 -5 5 2 6 -1 7 1 8 -4 9 3 10 -6 11 -8"/>
<path d="M0 5 1 9 2 4 3 0 4 -2 5 -1 6 0 7 -4 8 2 9 -1 10 -18 11 -10"/>
<path d="M0 4 1 12 2 5 3 0 4 8 5 6 6 14 7 9 8 6 9 -3 10 -12 11 -20"/>
<path d="M0 10 1 7 2 11 3 3 4 0 5 3 6 3 7 3 8 -1 9 -7 10 -15 11 -14"/>
<path d="M0 17 1 18 2 16 3 9 4 8 5 8 6 5 7 7 8 1 9 -7 10 -17 11 -14"/>
<path d="M0 16 1 9 2 10 3 7 4 7 5 4 6 5 7 2 8 1 9 0 10 -5 11 -4"/>
<path d="M0 10 1 10 2 2 3 7 4 4 5 8 6 -5 7 7 8 -1 9 -20 10 -22 11 -13"/>
<path d="M0 11 1 21 2 5 3 -4 4 2 5 -4 6 -7 7 -9 8 -4 9 -6 10 -10 11 -12"/>
<path d="M0 10 1 16 2 8 3 13 4 7 5 12 6 9 7 8 8 9 9 -14 10 -15 11 -18"/>
<path d="M0 19 1 13 2 9 3 2 4 -3 5 -7 6 -1 7 -7 8 -7 9 -3 10 -10 11 -10"/>
<path d="M0 21 1 13 2 11 3 10 4 1 5 7 6 6 7 4 8 3 9 -8 10 -21 11 -16"/>
<path d="M0 19 1 14 2 16 3 6 4 6 5 7 6 11 7 8 8 3 9 -12 10 -24 11 -15"/>
<path d="M0 8 1 10 2 8 3 1 4 -1 5 3 6 0 7 0 8 -1 9 -4 10 -12 11 -10"/>
<path d="M0 11 1 11 2 8 3 2 4 3 5 2 6 -4 7 -1 8 -5 9 -1 10 -11 11 -7"/>
<path d="M0 15 1 14 2 12 3 2 4 -1 5 1 6 2 7 2 8 -1 9 -5 10 -11 11 -11"/>
<path d="M0 8 1 6 2 5 3 0 4 -6 5 -5 6 -11 7 -5 8 -10 9 1 10 3 11 3"/>
<path d="M0 11 1 11 2 6 3 4 4 2 5 4 6 1 7 1 8 -2 9 -4 10 -15 11 -14"/>
<path d="M0 4 1 11 2 2 3 3 4 3 5 5 6 -2 7 -2 8 4 9 2 10 -6 11 -6"/>
<path d="M0 13 1 9 2 6 3 8 4 5 5 5 6 1 7 1 8 0 9 -4 10 -12 11 -10"/>
<path d="M0 0 1 -3 2 0 3 -8 4 -11 5 -3 6 -14 7 -14 8 -16 9 8 10 -9 11 -2"/>
<path d="M0 9 1 13 2 5 3 3 4 1 5 0 6 5 7 3 8 2 9 -4 10 -14 11 -11"/>
<path d="M0 15 1 21 2 27 3 6 4 8 5 9 6 12 7 13 8 6 9 -8 10 -17 11 -17"/>
<path d="M0 25 1 25 2 28 3 8 4 8 5 10 6 10 7 8 8 4 9 -17 10 -24 11 -15"/>
<path d="M0 12 1 10 2 17 3 7 4 4 5 5 6 6 7 2 8 7 9 -9 10 -19 11 -15"/>
<path d="M0 8 1 3 2 4 3 -4 4 -6 5 -6 6 -3 7 -6 8 -7 9 2 10 -4 11 -3"/>
<path d="M0 18 1 11 2 13 3 4 4 5 5 5 6 11 7 9 8 6 9 -10 10 -20 11 -21"/>
<path d="M0 5 1 3 2 -6 3 -3 4 -1 5 -7 6 -7 7 -4 8 -6 9 2 10 -11 11 -2"/>
<path d="M0 11 1 11 2 7 3 0 4 -1 5 -3 6 7 7 8 8 4 9 -13 10 -15 11 -6"/>
<path d="M0 16 1 7 2 11 3 5 4 8 5 3 6 4 7 11 8 8 9 -11 10 -31 11 -15"/>
<path d="M0 13 1 12 2 9 3 3 4 0 5 3 6 10 7 5 8 6 9 -3 10 -9 11 -6"/>
<path d="M0 10 1 12 2 13 3 11 4 11 5 13 6 3 7 3 8 0 9 1 10 -6 11 2"/>
<path d="M0 13 1 16 2 12 3 1 4 -5 5 0 6 2 7 1 8 -1 9 0 10 -14 11 -8"/>
<path d="M0 19 1 15 2 12 3 9 4 5 5 6 6 3 7 3 8 3 9 -13 10 -19 11 -16"/>
<path d="M0 8 1 12 2 5 3 3 4 0 5 4 6 1 7 4 8 1 9 -9 10 -19 11 -17"/>
<path d="M0 32 1 18 2 20 3 15 4 13 5 9 6 13 7 11 8 9 9 -6 10 -12 11 -10"/>
<path d="M0 7 1 9 2 3 3 -5 4 -6 5 -6 6 -1 7 -10 8 -10 9 5 10 -4 11 -3"/>
<path d="M0 3 1 -1 2 0 3 3 4 -7 5 -2 6 -4 7 -7 8 -4 9 -14 10 -10 11 -8"/>
<path d="M0 7 1 6 2 6 3 2 4 1 5 4 6 3 7 1 8 0 9 -2 10 -1 11 -11"/>
<path d="M0 14 1 9 2 3 3 2 4 0 5 2 6 -9 7 -3 8 1 9 -4 10 -14 11 -10"/>
<path d="M0 6 1 17 2 6 3 -4 4 -9 5 -3 6 -1 7 2 8 -4 9 -2 10 3 11 -1"/>
<path d="M0 8 1 7 2 3 3 0 4 1 5 4 6 4 7 1 8 -3 9 -4 10 -14 11 -9"/>
<path d="M0 21 1 24 2 12 3 -1 4 7 5 7 6 8 7 7 8 5 9 -5 10 -13 11 -18"/>
<path d="M0 3 1 9 2 2 3 -4 4 -7 5 -4 6 3 7 -3 8 -7 9 6 10 -9 11 -5"/>
<path d="M0 22 1 27 2 23 3 12 4 7 5 9 6 7 7 9 8 7 9 -19 10 -24 11 -22"/>
<path d="M0 10 1 17 2 13 3 4 4 2 5 4 6 4 7 2 8 3 9 -8 10 -20 11 -19"/>
<path d="M0 9 1 11 2 8 3 7 4 4 5 11 6 7 7 8 8 12 9 -20 10 -29 11 -34"/>
<path d="M0 9 1 7 2 6 3 6 4 8 5 8 6 2 7 -3 8 -2 9 -4 10 -15 11 -16"/>
<path d="M0 9 1 2 2 6 3 -11 4 -6 5 -12 6 -10 7 -9 8 -8 9 -1 10 -3 11 2"/>
<path d="M0 -2 1 0 2 0 3 5 4 1 5 2 6 3 7 -4 8 -8 9 -1 10 -7 11 -14"/>
<path d="M0 16 1 16 2 15 3 6 4 6 5 8 6 1 7 1 8 2 9 -10 10 -16 11 -14"/>
<path d="M0 6 1 6 2 4 3 3 4 -1 5 1 6 1 7 1 8 -2 9 0 10 -11 11 -9"/>
<path d="M0 7 1 6 2 8 3 5 4 3 5 4 6 3 7 5 8 -1 9 3 10 -10 11 -8"/>
<path d="M0 12 1 8 2 11 3 5 4 3 5 2 6 1 7 0 8 1 9 -4 10 -9 11 -8"/>
<path d="M0 20 1 20 2 19 3 7 4 2 5 4 6 8 7 10 8 10 9 -3 10 -13 11 -7"/>
<path d="M0 6 1 8 2 5 3 4 4 1 5 5 6 0 7 1 8 0 9 2 10 -7 11 -9"/>
<path d="M0 26 1 12 2 18 3 9 4 5 5 7 6 5 7 5 8 6 9 -17 10 -33 11 -14"/>
<path d="M0 12 1 13 2 10 3 2 4 0 5 4 6 1 7 1 8 -10 9 -4 10 -10 11 -8"/>
<path d="M0 1 1 5 2 -1 3 -9 4 1 5 2 6 -4 7 -6 8 -10 9 -1 10 -13 11 -14"/>
<path d="M0 15 1 11 2 8 3 4 4 3 5 3 6 1 7 2 8 0 9 -3 10 -15 11 -11"/>
<path d="M0 11 1 4 2 10 3 4 4 4 5 2 6 4 7 5 8 1 9 3 10 -4 11 -7"/>
<path d="M0 14 1 17 2 12 3 7 4 6 5 5 6 4 7 2 8 1 9 -12 10 -16 11 -13"/>
<path d="M0 10 1 8 2 8 3 2 4 -6 5 -2 6 -2 7 -2 8 -1 9 1 10 -5 11 -5"/>
<path d="M0 15 1 18 2 16 3 2 4 1 5 2 6 -4 7 0 8 1 9 -15 10 -21 11 -19"/>
<path d="M0 15 1 14 2 17 3 12 4 11 5 9 6 2 7 2 8 4 9 -7 10 -15 11 -12"/>
<path d="M0 19 1 27 2 24 3 10 4 5 5 10 6 6 7 5 8 4 9 -9 10 -20 11 -10"/>
<path d="M0 31 1 29 2 16 3 0 4 -5 5 -7 6 14 7 13 8 4 9 -21 10 -14 11 -27"/>
<path d="M0 15 1 14 2 12 3 4 4 1 5 4 6 -3 7 -2 8 -1 9 1 10 -9 11 -7"/>
<path d="M0 4 1 4 2 3 3 -5 4 -3 5 -4 6 -1 7 2 8 4 9 -5 10 -11 11 -5"/>
<path d="M0 7 1 7 2 0 3 6 4 1 5 0 6 -3 7 -6 8 -3 9 -6 10 -10 11 -11"/>
<path d="M0 20 1 16 2 13 3 0 4 -4 5 5 6 0 7 2 8 1 9 -10 10 -16 11 -13"/>
<path d="M0 14 1 16 2 9 3 1 4 0 5 2 6 -4 7 -1 8 -10 9 -5 10 -12 11 -10"/>
<path d="M0 1 1 5 2 3 3 5 4 5 5 2 6 3 7 5 8 1 9 5 10 -3 11 -4"/>
<path d="M0 8 1 8 2 2 3 0 4 -1 5 0 6 0 7 -1 8 -3 9 -1 10 -9 11 -7"/>
<path d="M0 5 1 8 2 8 3 13 4 7 5 9 6 2 7 -3 8 -2 9 -7 10 -19 11 -19"/>
<path d="M0 23 1 16 2 11 3 2 4 -2 5 2 6 6 7 2 8 3 9 2 10 -12 11 -11"/>
<path d="M0 7 1 10 2 12 3 3 4 -1 5 7 6 -1 7 3 8 -2 9 -2 10 -13 11 -8"/>
<path d="M0 16 1 14 2 22 3 0 4 6 5 -1 6 8 7 6 8 10 9 -9 10 -23 11 -27"/>
<path d="M0 12 1 10 2 8 3 4 4 2 5 2 6 -2 7 1 8 1 9 -4 10 -19 11 -10"/>
<path d="M0 11 1 10 2 4 3 5 4 2 5 7 6 -2 7 0 8 -11 9 5 10 -7 11 -2"/>
<path d="M0 4 1 5 2 6 3 2 4 -3 5 3 6 -2 7 -6 8 -5 9 -7 10 -8 11 -9"/>
<path d="M0 10 1 10 2 13 3 7 4 5 5 7 6 5 7 4 8 4 9 -4 10 -8 11 -9"/>
<path d="M0 12 1 30 2 17 3 5 4 3 5 8 6 12 7 7 8 10 9 -8 10 -13 11 -22"/>
<path d="M0 10 1 9 2 5 3 1 4 -2 5 -2 6 5 7 1 8 -1 9 -9 10 -14 11 -11"/>
<path d="M0 18 1 20 2 17 3 12 4 5 5 4 6 8 7 3 8 5 9 -9 10 -18 11 -18"/>
<path d="M0 18 1 23 2 16 3 11 4 1 5 5 6 12 7 5 8 3 9 -7 10 -12 11 -13"/>
<path d="M0 18 1 22 2 11 3 11 4 8 5 12 6 4 7 9 8 11 9 -15 10 -30 11 -34"/>
<path d="M0 8 1 13 2 19 3 4 4 5 5 4 6 -2 7 -3 8 0 9 1 10 -7 11 -3"/>
<path d="M0 12 1 11 2 4 3 5 4 2 5 8 6 0 7 -3 8 -2 9 -4 10 -15 11 -11"/>
<path d="M0 10 1 5 2 10 3 3 4 0 5 4 6 1 7 1 8 -3 9 1 10 -6 11 -7"/>
<path d="M0 27 1 21 2 20 3 7 4 4 5 6 6 8 7 7 8 8 9 -10 10 -19 11 -14"/>
<path d="M0 11 1 9 2 8 3 6 4 4 5 4 6 2 7 2 8 1 9 -10 10 -10 11 -10"/>
<path d="M0 3 1 5 2 -1 3 4 4 0 5 4 6 -1 7 -1 8 -4 9 0 10 -8 11 -4"/>
<path d="M0 10 1 16 2 6 3 13 4 6 5 3 6 4 7 8 8 4 9 -13 10 -27 11 -21"/>
<path d="M0 14 1 18 2 13 3 5 4 6 5 8 6 12 7 5 8 4 9 -14 10 -29 11 -23"/>
<path d="M0 27 1 26 2 20 3 15 4 14 5 7 6 17 7 2 8 11 9 -20 10 -35 11 -32"/>
<path d="M0 16 1 23 2 17 3 4 4 1 5 3 6 7 7 2 8 6 9 -13 10 -22 11 -32"/>
<path d="M0 9 1 6 2 5 3 8 4 4 5 2 6 -3 7 3 8 -1 9 -6 10 -12 11 -11"/>
<path d="M0 16 1 15 2 9 3 4 4 2 5 2 6 4 7 -1 8 1 9 -3 10 -13 11 -9"/>
<path d="M0 13 1 16 2 13 3 3 4 3 5 2 6 9 7 7 8 6 9 -11 10 -11 11 -15"/>
<path d="M0 7 1 9 2 9 3 6 4 5 5 9 6 7 7 -2 8 5 9 -14 10 -19 11 -17"/>
<path d="M0 14 1 14 2 8 3 6 4 5 5 5 6 7 7 12 8 8 9 -3 10 -9 11 -10"/>
<path d="M0 21 1 27 2 41 3 10 4 2 5 12 6 12 7 5 8 11 9 -3 10 -12 11 -20"/>
<path d="M0 8 1 9 2 1 3 -4 4 -6 5 -2 6 -4 7 -6 8 -7 9 -3 10 -12 11 -6"/>
<path d="M0 14 1 14 2 13 3 5 4 3 5 4 6 4 7 3 8 -2 9 -6 10 -15 11 -11"/>
<path d="M0 9 1 7 2 10 3 2 4 0 5 1 6 1 7 2 8 1 9 -1 10 -8 11 -8"/>
<path d="M0 18 1 11 2 12 3 2 4 2 5 4 6 4 7 8 8 8 9 -1 10 -18 11 -10"/>
<path d="M0 16 1 7 2 5 3 -3 4 -6 5 -4 6 -7 7 -1 8 -5 9 -8 10 -17 11 -14"/>
<path d="M0 6 1 9 2 0 3 0 4 0 5 1 6 -8 7 -8 8 -5 9 4 10 -5 11 -4"/>
<path d="M0 8 1 6 2 9 3 2 4 -2 5 -1 6 0 7 0 8 -3 9 -2 10 -10 11 -6"/>
<path d="M0 10 1 14 2 5 3 -2 4 1 5 4 6 1 7 0 8 -7 9 -1 10 -11 11 -10"/>
<path d="M0 10 1 10 2 10 3 5 4 0 5 7 6 1 7 2 8 -4 9 1 10 -7 11 -7"/>
<path d="M0 20 1 14 2 12 3 3 4 5 5 6 6 4 7 5 8 3 9 -8 10 -15 11 -17"/>
<path d="M0 32 1 33 2 34 3 20 4 17 5 15 6 -3 7 6 8 3 9 -29 10 -28 11 -29"/>
<path d="M0 10 1 11 2 8 3 -1 4 1 5 2 6 3 7 -3 8 -4 9 -4 10 -15 11 -10"/>
<path d="M0 21 1 15 2 15 3 9 4 8 5 9 6 7 7 7 8 6 9 -14 10 -23 11 -20"/>
<path d="M0 11 1 11 2 15 3 -2 4 -1 5 -1 6 0 7 2 8 -1 9 0 10 -15 11 -13"/>
<path d="M0 28 1 22 2 22 3 8 4 7 5 6 6 8 7 10 8 8 9 -13 10 -24 11 -14"/>
<path d="M0 5 1 4 2 3 3 0 4 -2 5 3 6 -5 7 -4 8 -4 9 -1 10 -15 11 -14"/>
<path d="M0 22 1 19 2 13 3 5 4 2 5 5 6 3 7 2 8 2 9 -3 10 -11 11 -11"/>
<path d="M0 5 1 9 2 5 3 -1 4 -3 5 0 6 -5 7 -4 8 -9 9 -3 10 -11 11 -9"/>
<path d="M0 9 1 8 2 4 3 1 4 3 5 5 6 2 7 -2 8 -2 9 -1 10 -7 11 -7"/>
<path d="M0 9 1 9 2 6 3 0 4 3 5 5 6 6 7 -1 8 0 9 -4 10 -10 11 -10"/>
<path d="M0 8 1 8 2 12 3 3 4 7 5 0 6 0 7 6 8 -2 9 -4 10 -21 11 -15"/>
<path d="M0 11 1 22 2 11 3 3 4 2 5 2 6 6 7 -1 8 2 9 -2 10 -12 11 -7"/>
<path d="M0 10 1 7 2 9 3 7 4 -2 5 5 6 8 7 5 8 4 9 -7 10 -15 11 -8"/>
<path d="M0 18 1 14 2 14 3 3 4 6 5 9 6 5 7 3 8 1 9 -7 10 -13 11 -12"/>
<path d="M0 22 1 27 2 25 3 3 4 5 5 3 6 2 7 5 8 8 9 -16 10 -28 11 -23"/>
<path d="M0 4 1 10 2 1 3 -1 4 -4 5 3 6 -5 7 -7 8 -4 9 -6 10 -14 11 -17"/>
<path d="M0 15 1 16 2 12 3 8 4 3 5 5 6 2 7 0 8 -3 9 -11 10 -14 11 -12"/>
<path d="M0 0 1 5 2 2 3 -9 4 -5 5 -2 6 -7 7 -7 8 -9 9 0 10 -11 11 -1"/>
<path d="M0 20 1 18 2 17 3 8 4 9 5 8 6 3 7 4 8 -1 9 -5 10 -11 11 -13"/>
<path d="M0 21 1 25 2 24 3 10 4 7 5 11 6 4 7 2 8 9 9 -17 10 -18 11 -23"/>
<path d="M0 15 1 16 2 14 3 5 4 2 5 8 6 6 7 8 8 4 9 -7 10 -9 11 -11"/>
<path d="M0 9 1 9 2 5 3 8 4 3 5 5 6 1 7 2 8 -1 9 -6 10 -10 11 -30"/>
<path d="M0 24 1 23 2 19 3 7 4 4 5 11 6 -1 7 2 8 0 9 -2 10 -12 11 -16"/>
<path d="M0 17 1 22 2 14 3 7 4 2 5 16 6 16 7 10 8 9 9 -7 10 -10 11 -10"/>
<path d="M0 10 1 17 2 10 3 9 4 10 5 8 6 10 7 7 8 7 9 -7 10 -13 11 -11"/>
<path d="M0 12 1 16 2 13 3 8 4 4 5 6 6 6 7 2 8 1 9 -6 10 -13 11 -19"/>
<path d="M0 19 1 21 2 15 3 8 4 7 5 6 6 8 7 5 8 5 9 -13 10 -21 11 -17"/>
<path d="M0 13 1 17 2 18 3 1 4 3 5 4 6 -2 7 -9 8 -7 9 0 10 -9 11 -7"/>
<path d="M0 7 1 7 2 5 3 4 4 1 5 4 6 3 7 3 8 4 9 -3 10 -10 11 -7"/>
<path d="M0 3 1 5 2 0 3 0 4 -2 5 -2 6 -2 7 -5 8 -5 9 0 10 -7 11 -7"/>
<path d="M0 17 1 16 2 19 3 -3 4 -7 5 3 6 6 7 2 8 8 9 3 10 -8 11 -10"/>
<path d="M0 17 1 15 2 15 3 3 4 1 5 3 6 1 7 1 8 -1 9 -5 10 -15 11 -15"/>
<path d="M0 11 1 18 2 11 3 7 4 3 5 2 6 -3 7 -3 8 -4 9 9 10 -3 11 -7"/>
<path d="M0 11 1 13 2 12 3 7 4 3 5 7 6 2 7 2 8 2 9 -5 10 -14 11 -15"/>
<path d="M0 14 1 19 2 19 3 8 4 5 5 15 6 5 7 2 8 3 9 -7 10 -11 11 -13"/>
<path d="M0 9 1 9 2 6 3 2 4 0 5 2 6 0 7 -3 8 -2 9 -2 10 -11 11 -7"/>
<path d="M0 17 1 23 2 9 3 9 4 8 5 10 6 12 7 10 8 9 9 -12 10 -19 11 -15"/>
<path d="M0 20 1 13 2 14 3 10 4 5 5 9 6 6 7 3 8 4 9 -8 10 -16 11 -13"/>
<path d="M0 14 1 15 2 13 3 8 4 9 5 8 6 12 7 3 8 -1 9 -12 10 -29 11 -16"/>
<path d="M0 9 1 17 2 11 3 10 4 8 5 9 6 11 7 11 8 11 9 -11 10 -15 11 -11"/>
<path d="M0 8 1 10 2 7 3 3 4 3 5 2 6 1 7 0 8 -2 9 -3 10 -10 11 -9"/>
<path d="M0 19 1 15 2 12 3 -3 4 -7 5 2 6 2 7 -1 8 1 9 -1 10 -6 11 -13"/>
<path d="M0 12 1 9 2 2 3 2 4 -2 5 -2 6 2 7 -2 8 0 9 -12 10 -21 11 -19"/>
<path d="M0 11 1 13 2 11 3 0 4 -6 5 0 6 0 7 -4 8 -4 9 -7 10 -13 11 -3"/>
<path d="M0 16 1 20 2 12 3 5 4 6 5 6 6 2 7 5 8 4 9 -13 10 -19 11 -18"/>
<path d="M0 7 1 4 2 0 3 -1 4 -3 5 -2 6 -2 7 -5 8 0 9 -9 10 -11 11 -11"/>
<path d="M0 10 1 8 2 7 3 3 4 0 5 4 6 1 7 0 8 -1 9 2 10 -5 11 -7"/>
<path d="M0 9 1 14 2 8 3 -2 4 -5 5 0 6 -4 7 1 8 -1 9 1 10 -10 11 -9"/>
<path d="M0 10 1 7 2 6 3 5 4 4 5 5 6 10 7 3 8 5 9 -6 10 -15 11 -8"/>
<path d="M0 17 1 19 2 23 3 4 4 7 5 3 6 0 7 -2 8 0 9 -18 10 -20 11 -19"/>
<path d="M0 14 1 21 2 11 3 5 4 3 5 6 6 -1 7 1 8 0 9 -7 10 -11 11 -9"/>
<path d="M0 7 1 8 2 9 3 7 4 8 5 8 6 5 7 0 8 0 9 -1 10 -11 11 -8"/>
<path d="M0 13 1 12 2 9 3 3 4 4 5 4 6 6 7 4 8 1 9 -2 10 -9 11 -10"/>
<path d="M0 11 1 6 2 6 3 -5 4 -4 5 2 6 -6 7 16 8 -8 9 3 10 2 11 0"/>
<path d="M0 10 1 14 2 9 3 6 4 1 5 3 6 1 7 2 8 0 9 -2 10 -15 11 -9"/>
<path d="M0 10 1 7 2 7 3 -8 4 -5 5 -8 6 -1 7 -1 8 -5 9 -10 10 -9 11 -10"/>
<path d="M0 10 1 8 2 5 3 5 4 4 5 5 6 7 7 2 8 -2 9 -10 10 -16 11 -14"/>
<path d="M0 17 1 15 2 12 3 5 4 7 5 6 6 4 7 1 8 2 9 -6 10 -13 11 -12"/>
<path d="M0 21 1 12 2 18 3 9 4 4 5 13 6 4 7 12 8 6 9 -14 10 -18 11 -14"/>
<path d="M0 6 1 10 2 6 3 -1 4 4 5 3 6 5 7 7 8 7 9 -3 10 -11 11 -13"/>
<path d="M0 19 1 14 2 10 3 5 4 1 5 5 6 5 7 4 8 5 9 -7 10 -17 11 -17"/>
<path d="M0 24 1 21 2 19 3 5 4 10 5 5 6 5 7 2 8 1 9 -5 10 -11 11 -11"/>
<path d="M0 4 1 2 2 11 3 -5 4 -5 5 2 6 -1 7 -7 8 -4 9 23 10 -8 11 -3"/>
<path d="M0 18 1 21 2 13 3 8 4 8 5 11 6 1 7 0 8 0 9 -13 10 -20 11 -16"/>
<path d="M0 11 1 11 2 6 3 4 4 2 5 0 6 -3 7 -1 8 -4 9 -2 10 -15 11 -6"/>
<path d="M0 24 1 25 2 24 3 8 4 5 5 10 6 10 7 12 8 13 9 -14 10 -26 11 -16"/>
<path d="M0 7 1 6 2 4 3 5 4 3 5 5 6 -1 7 -3 8 0 9 -3 10 -11 11 -5"/>
<path d="M0 27 1 28 2 22 3 14 4 10 5 13 6 11 7 10 8 3 9 -19 10 -26 11 -19"/>
<path d="M0 13 1 17 2 5 3 10 4 6 5 8 6 2 7 2 8 0 9 -5 10 -18 11 -19"/>
<path d="M0 4 1 5 2 3 3 4 4 6 5 4 6 0 7 -4 8 -6 9 7 10 2 11 0"/>
<path d="M0 17 1 15 2 10 3 0 4 0 5 1 6 4 7 4 8 6 9 -4 10 -13 11 -15"/>
<path d="M0 17 1 14 2 24 3 9 4 6 5 3 6 8 7 7 8 1 9 -7 10 -16 11 -21"/>
<path d="M0 9 1 9 2 5 3 9 4 4 5 5 6 8 7 6 8 5 9 -7 10 -15 11 -15"/>
<path d="M0 16 1 16 2 14 3 5 4 6 5 7 6 -1 7 5 8 0 9 -6 10 -17 11 -15"/>
<path d="M0 4 1 8 2 6 3 -7 4 -4 5 -2 6 5 7 -2 8 -7 9 12 10 1 11 -4"/>
<path d="M0 7 1 2 2 -1 3 -9 4 -3 5 0 6 -6 7 -12 8 -11 9 2 10 -5 11 -8"/>
<path d="M0 10 1 11 2 7 3 0 4 -1 5 -1 6 -2 7 -1 8 -5 9 0 10 -8 11 -5"/>
<path d="M0 13 1 10 2 10 3 3 4 0 5 2 6 0 7 -2 8 -4 9 -2 10 -13 11 -11"/>
<path d="M0 8 1 12 2 10 3 4 4 4 5 9 6 3 7 2 8 3 9 -4 10 -13 11 -19"/>
<path d="M0 8 1 13 2 12 3 4 4 1 5 7 6 -6 7 -4 8 -4 9 -16 10 -21 11 -17"/>
<path d="M0 12 1 16 2 12 3 8 4 6 5 5 6 3 7 3 8 1 9 -4 10 -11 11 -12"/>
<path d="M0 11 1 14 2 6 3 1 4 6 5 8 6 -14 7 -1 8 -3 9 1 10 -5 11 -6"/>
<path d="M0 16 1 18 2 15 3 7 4 2 5 6 6 7 7 9 8 10 9 -26 10 -29 11 -26"/>
<path d="M0 6 1 7 2 3 3 0 4 1 5 -1 6 1 7 5 8 3 9 -3 10 -12 11 -11"/>
<path d="M0 8 1 5 2 8 3 -8 4 -10 5 -10 6 -4 7 -6 8 -8 9 -9 10 -12 11 -11"/>
<path d="M0 12 1 16 2 15 3 13 4 6 5 16 6 7 7 6 8 10 9 -1 10 -13 11 -25"/>
<path d="M0 16 1 19 2 16 3 4 4 2 5 4 6 6 7 3 8 1 9 -3 10 -8 11 -10"/>
<path d="M0 31 1 25 2 30 3 11 4 13 5 12 6 18 7 18 8 16 9 -29 10 -31 11 -34"/>
<path d="M0 8 1 12 2 6 3 2 4 2 5 5 6 3 7 3 8 7 9 -6 10 -19 11 -11"/>
<path d="M0 12 1 16 2 11 3 4 4 -1 5 3 6 3 7 2 8 0 9 -1 10 -12 11 -8"/>
<path d="M0 12 1 6 2 4 3 -7 4 -7 5 -6 6 -3 7 1 8 -1 9 3 10 -9 11 -10"/>
<path d="M0 6 1 6 2 2 3 6 4 5 5 11 6 0 7 -1 8 3 9 3 10 -3 11 -4"/>
<path d="M0 15 1 13 2 9 3 5 4 5 5 4 6 3 7 1 8 1 9 -3 10 -13 11 -13"/>
<path d="M0 14 1 6 2 5 3 0 4 -3 5 1 6 4 7 5 8 -1 9 0 10 -14 11 -7"/>
<path d="M0 17 1 16 2 13 3 8 4 2 5 6 6 1 7 8 8 3 9 -2 10 -13 11 -8"/>
<path d="M0 28 1 29 2 19 3 12 4 5 5 12 6 9 7 7 8 5 9 -13 10 -34 11 -28"/>
<path d="M0 9 1 13 2 14 3 6 4 4 5 6 6 3 7 1 8 2 9 -2 10 -13 11 -10"/>
<path d="M0 10 1 12 2 9 3 5 4 1 5 5 6 2 7 2 8 0 9 -4 10 -15 11 -11"/>
<path d="M0 22 1 20 2 16 3 5 4 4 5 5 6 -1 7 -5 8 -1 9 -5 10 -18 11 -13"/>
<path d="M0 27 1 23 2 20 3 5 4 8 5 7 6 5 7 4 8 4 9 -14 10 -19 11 -17"/>
<path d="M0 11 1 12 2 8 3 -1 4 -2 5 0 6 0 7 4 8 -1 9 -5 10 -13 11 -17"/>
<path d="M0 17 1 11 2 15 3 12 4 6 5 10 6 12 7 11 8 5 9 -10 10 -16 11 -14"/>
<path d="M0 9 1 15 2 9 3 -10 4 -12 5 -9 6 -10 7 -10 8 -9 9 -4 10 -20 11 -13"/>
<path d="M0 -5 1 2 2 -7 3 6 4 3 5 6 6 1 7 -4 8 1 9 7 10 -9 11 -11"/>
<path d="M0 26 1 26 2 28 3 28 4 12 5 12 6 1 7 1 8 1 9 -9 10 -21 11 -5"/>
<path d="M0 6 1 11 2 6 3 -2 4 -1 5 -7 6 -2 7 -1 8 -4 9 7 10 -8 11 -3"/>
<path d="M0 10 1 4 2 3 3 -3 4 3 5 2 6 6 7 13 8 9 9 -4 10 -10 11 -11"/>
<path d="M0 18 1 13 2 16 3 0 4 0 5 3 6 -4 7 -30 8 -4 9 -14 10 -14 11 -9"/>
<path d="M0 15 1 14 2 12 3 8 4 4 5 6 6 2 7 3 8 1 9 -2 10 -9 11 -9"/>
<path d="M0 10 1 15 2 7 3 1 4 2 5 3 6 -1 7 -7 8 -2 9 -6 10 -17 11 -14"/>
<path d="M0 17 1 19 2 18 3 9 4 2 5 9 6 -1 7 -1 8 -2 9 -12 10 -14 11 -20"/>
<path d="M0 15 1 25 2 14 3 -4 4 -1 5 4 6 2 7 5 8 -1 9 1 10 -10 11 -9"/>
<path d="M0 16 1 21 2 20 3 14 4 11 5 4 6 -2 7 -3 8 0 9 -20 10 -25 11 -31"/>
<path d="M0 14 1 13 2 13 3 6 4 4 5 4 6 1 7 1 8 -5 9 -5 10 -16 11 -12"/>
<path d="M0 9 1 13 2 8 3 2 4 -4 5 0 6 1 7 0 8 1 9 -3 10 -17 11 -15"/>
<path d="M0 20 1 27 2 28 3 8 4 15 5 12 6 -2 7 2 8 -6 9 -9 10 -23 11 -9"/>
<path d="M0 14 1 19 2 8 3 5 4 2 5 6 6 6 7 6 8 6 9 -12 10 -18 11 -10"/>
<path d="M0 8 1 11 2 6 3 1 4 -1 5 2 6 1 7 1 8 -2 9 -1 10 -12 11 -8"/>
<path d="M0 7 1 8 2 4 3 1 4 1 5 0 6 3 7 3 8 -1 9 -4 10 -12 11 -12"/>
<path d="M0 14 1 17 2 9 3 0 4 3 5 1 6 6 7 3 8 1 9 -5 10 -13 11 -11"/>
<path d="M0 15 1 13 2 7 3 5 4 6 5 9 6 6 7 5 8 2 9 -5 10 -16 11 -14"/>
<path d="M0 11 1 14 2 13 3 5 4 5 5 4 6 -1 7 1 8 0 9 -7 10 -15 11 -12"/>
<path d="M0 -5 1 -4 2 -7 3 -6 4 -13 5 -17 6 -14 7 -14 8 -16 9 3 10 -7 11 -1"/>
<path d="M0 10 1 7 2 5 3 -6 4 -6 5 -5 6 -7 7 -6 8 -7 9 5 10 -1 11 -3"/>
<path d="M0 11 1 10 2 5 3 1 4 -1 5 5 6 2 7 -2 8 3 9 -2 10 -18 11 -18"/>
<path d="M0 15 1 17 2 8 3 2 4 2 5 4 6 -2 7 -5 8 -6 9 0 10 -7 11 -9"/>
<path d="M0 23 1 22 2 19 3 7 4 3 5 9 6 7 7 8 8 8 9 -9 10 -12 11 -16"/>
<path d="M0 14 1 14 2 10 3 5 4 2 5 3 6 5 7 3 8 3 9 -8 10 -15 11 -15"/>
<path d="M0 9 1 8 2 4 3 6 4 2 5 5 6 1 7 -2 8 1 9 -1 10 -9 11 -7"/>
<path d="M0 16 1 15 2 18 3 -3 4 4 5 8 6 8 7 5 8 3 9 -15 10 -18 11 -10"/>
<path d="M0 8 1 11 2 8 3 6 4 2 5 5 6 -1 7 1 8 -5 9 -4 10 -7 11 -9"/>
<path d="M0 10 1 13 2 9 3 4 4 9 5 5 6 5 7 2 8 2 9 -10 10 -18 11 -22"/>
<path d="M0 10 1 12 2 8 3 6 4 6 5 4 6 8 7 5 8 4 9 -9 10 -11 11 -14"/>
<path d="M0 12 1 11 2 7 3 8 4 7 5 5 6 5 7 19 8 3 9 -12 10 -13 11 -12"/>
<path d="M0 18 1 27 2 16 3 5 4 3 5 4 6 8 7 0 8 -1 9 -9 10 -21 11 -13"/>
<path d="M0 10 1 19 2 10 3 6 4 -4 5 4 6 2 7 1 8 -1 9 0 10 -9 11 -16"/>
<path d="M0 15 1 14 2 13 3 4 4 4 5 4 6 4 7 2 8 1 9 -4 10 -12 11 -10"/>
<path d="M0 15 1 11 2 10 3 7 4 5 5 5 6 5 7 1 8 2 9 -3 10 -12 11 -11"/>
<path d="M0 7 1 10 2 5 3 3 4 4 5 2 6 2 7 1 8 0 9 0 10 -7 11 -6"/>
<path d="M0 16 1 17 2 17 3 5 4 4 5 6 6 3 7 2 8 2 9 -7 10 -15 11 -12"/>
<path d="M0 20 1 21 2 14 3 4 4 4 5 4 6 4 7 3 8 1 9 -7 10 -18 11 -15"/>
<path d="M0 0 1 -5 2 -3 3 -4 4 -2 5 -6 6 -9 7 -10 8 -13 9 1 10 -9 11 -9"/>
<path d="M0 12 1 15 2 16 3 4 4 1 5 3 6 4 7 3 8 1 9 2 10 -10 11 -7"/>
<path d="M0 11 1 11 2 6 3 3 4 2 5 4 6 3 7 -1 8 -2 9 -5 10 -12 11 -9"/>
<path d="M0 10 1 15 2 8 3 0 4 2 5 3 6 2 7 2 8 -1 9 -4 10 -12 11 -10"/>
<path d="M0 4 1 7 2 7 3 2 4 -2 5 0 6 -1 7 1 8 -3 9 -14 10 -9 11 -13"/>
<path d="M0 11 1 8 2 -1 3 -1 4 -5 5 -4 6 -6 7 -6 8 -7 9 -3 10 -9 11 -8"/>
<path d="M0 22 1 22 2 22 3 7 4 10 5 8 6 6 7 2 8 3 9 -10 10 -15 11 -14"/>
<path d="M0 10 1 16 2 8 3 3 4 4 5 5 6 2 7 3 8 1 9 -5 10 -12 11 -10"/>
<path d="M0 21 1 24 2 14 3 6 4 9 5 8 6 3 7 5 8 3 9 -11 10 -17 11 -19"/>
<path d="M0 6 1 7 2 4 3 0 4 0 5 2 6 -4 7 -5 8 -2 9 -4 10 -11 11 -12"/>
<path d="M0 10 1 6 2 4 3 3 4 4 5 2 6 3 7 -2 8 0 9 0 10 -7 11 -16"/>
<path d="M0 6 1 8 2 5 3 2 4 4 5 1 6 0 7 -1 8 -1 9 -1 10 -5 11 -9"/>
<path d="M0 20 1 16 2 12 3 3 4 -1 5 1 6 1 7 2 8 -3 9 -3 10 -10 11 -2"/>
<path d="M0 18 1 15 2 9 3 2 4 -1 5 3 6 4 7 9 8 0 9 -5 10 -15 11 -10"/>
<path d="M0 20 1 28 2 20 3 15 4 12 5 17 6 4 7 4 8 14 9 -14 10 -21 11 -19"/>
<path d="M0 21 1 18 2 15 3 10 4 6 5 12 6 11 7 8 8 6 9 -9 10 -17 11 -21"/>
<path d="M0 0 1 -3 2 -3 3 -6 4 -9 5 -4 6 -9 7 -6 8 -4 9 12 10 -2 11 1"/>
<path d="M0 20 1 25 2 15 3 9 4 7 5 3 6 3 7 4 8 0 9 -8 10 -14 11 -15"/>
<path d="M0 15 1 11 2 7 3 4 4 5 5 7 6 0 7 -2 8 -1 9 -1 10 -11 11 -15"/>
<path d="M0 12 1 12 2 13 3 16 4 2 5 6 6 4 7 1 8 1 9 -6 10 -11 11 -9"/>
<path d="M0 14 1 10 2 12 3 3 4 2 5 7 6 5 7 2 8 5 9 -8 10 -18 11 -20"/>
<path d="M0 8 1 10 2 7 3 -1 4 -4 5 0 6 5 7 0 8 0 9 -8 10 -24 11 -20"/>
<path d="M0 19 1 21 2 24 3 6 4 6 5 6 6 5 7 5 8 8 9 -4 10 -21 11 -9"/>
<path d="M0 15 1 5 2 10 3 -6 4 -4 5 -3 6 0 7 1 8 -8 9 -1 10 -24 11 -16"/>
<path d="M0 16 1 19 2 14 3 -2 4 0 5 1 6 4 7 7 8 1 9 -18 10 -21 11 -10"/>
<path d="M0 29 1 23 2 30 3 13 4 10 5 11 6 0 7 4 8 4 9 -22 10 -26 11 -34"/>
<path d="M0 7 1 9 2 6 3 0 4 -7 5 -6 6 -1 7 -4 8 -2 9 4 10 -4 11 -5"/>
<path d="M0 8 1 5 2 -1 3 0 4 0 5 -2 6 -2 7 -4 8 -7 9 1 10 -6 11 -8"/>
<path d="M0 15 1 12 2 9 3 7 4 3 5 6 6 5 7 3 8 2 9 -7 10 -14 11 -12"/>
<path d="M0 11 1 13 2 6 3 6 4 2 5 5 6 6 7 3 8 5 9 -7 10 -16 11 -12"/>
<path d="M0 6 1 6 2 3 3 -1 4 2 5 3 6 0 7 -5 8 -5 9 0 10 -5 11 -4"/>
<path d="M0 13 1 10 2 8 3 7 4 9 5 7 6 6 7 3 8 2 9 -9 10 -17 11 -10"/>
<path d="M0 10 1 10 2 5 3 2 4 -3 5 3 6 5 7 3 8 1 9 -1 10 -14 11 -14"/>
<path d="M0 20 1 19 2 11 3 10 4 6 5 7 6 5 7 2 8 1 9 2 10 -7 11 -4"/>
<path d="M0 3 1 6 2 2 3 -4 4 -1 5 -6 6 -6 7 -2 8 -5 9 5 10 2 11 1"/>
<path d="M0 10 1 10 2 12 3 10 4 7 5 7 6 8 7 2 8 7 9 -10 10 -12 11 -11"/>
<path d="M0 12 1 12 2 8 3 -6 4 -3 5 -4 6 0 7 -3 8 -7 9 0 10 -9 11 -4"/>
<path d="M0 15 1 14 2 8 3 6 4 16 5 13 6 5 7 5 8 7 9 -2 10 -22 11 -27"/>
<path d="M0 3 1 9 2 1 3 1 4 3 5 3 6 1 7 2 8 -4 9 -4 10 -13 11 -10"/>
<path d="M0 26 1 23 2 11 3 8 4 10 5 12 6 7 7 3 8 2 9 -7 10 -14 11 -12"/>
<path d="M0 13 1 16 2 8 3 7 4 6 5 7 6 3 7 1 8 0 9 -9 10 -14 11 -15"/>
<path d="M0 9 1 11 2 7 3 0 4 2 5 -4 6 2 7 5 8 0 9 -10 10 -9 11 -13"/>
<path d="M0 14 1 13 2 11 3 5 4 1 5 5 6 5 7 3 8 4 9 -5 10 -14 11 -12"/>
<path d="M0 21 1 18 2 13 3 1 4 0 5 3 6 4 7 6 8 1 9 -6 10 -17 11 -12"/>
<path d="M0 4 1 6 2 1 3 -6 4 -4 5 -6 6 -7 7 -10 8 -8 9 2 10 -8 11 -5"/>
<path d="M0 10 1 8 2 7 3 -1 4 -4 5 4 6 1 7 -3 8 1 9 -1 10 -9 11 -11"/>
<path d="M0 23 1 20 2 17 3 9 4 4 5 11 6 8 7 7 8 10 9 -12 10 -27 11 -19"/>
<path d="M0 20 1 7 2 6 3 0 4 -3 5 -4 6 5 7 9 8 10 9 -2 10 -20 11 -21"/>
<path d="M0 5 1 6 2 3 3 2 4 -2 5 0 6 0 7 0 8 -4 9 0 10 -17 11 -14"/>
<path d="M0 10 1 8 2 -4 3 2 4 -2 5 0 6 -7 7 -8 8 -4 9 5 10 -2 11 3"/>
<path d="M0 22 1 19 2 19 3 18 4 14 5 16 6 10 7 2 8 7 9 -5 10 -15 11 -15"/>
<path d="M0 15 1 18 2 9 3 6 4 9 5 9 6 10 7 10 8 4 9 -14 10 -22 11 -12"/>
<path d="M0 10 1 9 2 5 3 -1 4 -2 5 0 6 -4 7 -8 8 -6 9 -1 10 -6 11 -3"/>
<path d="M0 27 1 37 2 30 3 18 4 12 5 14 6 14 7 13 8 8 9 -9 10 -22 11 -20"/>
<path d="M0 17 1 16 2 11 3 3 4 2 5 2 6 5 7 3 8 1 9 -6 10 -15 11 -14"/>
<path d="M0 11 1 15 2 12 3 5 4 6 5 9 6 4 7 4 8 2 9 -12 10 -19 11 -17"/>
<path d="M0 14 1 13 2 7 3 2 4 -3 5 1 6 12 7 8 8 8 9 -11 10 -15 11 -18"/>
<path d="M0 12 1 9 2 21 3 -9 4 -4 5 -3 6 -1 7 1 8 -2 9 -8 10 -19 11 -20"/>
<path d="M0 17 1 11 2 8 3 4 4 0 5 2 6 -3 7 -2 8 0 9 0 10 -8 11 -10"/>
<path d="M0 9 1 9 2 7 3 8 4 4 5 4 6 2 7 0 8 0 9 0 10 -7 11 -7"/>
<path d="M0 19 1 27 2 28 3 6 4 14 5 6 6 6 7 0 8 4 9 -10 10 -10 11 -20"/>
<path d="M0 6 1 6 2 11 3 1 4 -2 5 4 6 5 7 1 8 -1 9 1 10 -9 11 -9"/>
<path d="M0 17 1 14 2 11 3 7 4 8 5 9 6 3 7 6 8 1 9 -3 10 -12 11 -12"/>
<path d="M0 8 1 10 2 5 3 1 4 -1 5 -1 6 0 7 2 8 0 9 -2 10 -9 11 -10"/>
<path d="M0 -5 1 -1 2 3 3 -6 4 -5 5 -8 6 4 7 2 8 2 9 2 10 -7 11 -4"/>
<path d="M0 10 1 12 2 6 3 4 4 0 5 4 6 2 7 2 8 4 9 -2 10 -10 11 -10"/>
<path d="M0 9 1 6 2 4 3 7 4 4 5 1 6 3 7 8 8 4 9 -11 10 -13 11 -16"/>
<path d="M0 14 1 14 2 -1 3 5 4 -1 5 5 6 1 7 3 8 1 9 -7 10 -14 11 -21"/>
<path d="M0 17 1 17 2 20 3 9 4 3 5 6 6 8 7 1 8 5 9 -5 10 -14 11 -15"/>
<path d="M0 8 1 5 2 4 3 -5 4 -3 5 -2 6 -1 7 -1 8 -4 9 -5 10 -10 11 -10"/>
<path d="M0 9 1 14 2 7 3 6 4 2 5 4 6 -1 7 -2 8 -1 9 4 10 -7 11 -7"/>
<path d="M0 3 1 2 2 5 3 6 4 1 5 4 6 -1 7 1 8 -1 9 4 10 -6 11 0"/>
<path d="M0 15 1 9 2 6 3 14 4 11 5 8 6 -11 7 -8 8 -9 9 4 10 -2 11 5"/>
<path d="M0 12 1 10 2 7 3 6 4 4 5 3 6 -1 7 3 8 1 9 -3 10 -14 11 -12"/>
<path d="M0 26 1 26 2 28 3 10 4 13 5 19 6 16 7 13 8 15 9 -30 10 -38 11 -36"/>
<path d="M0 13 1 22 2 16 3 -5 4 -4 5 -4 6 0 7 -5 8 -5 9 2 10 -8 11 -4"/>
<path d="M0 17 1 19 2 9 3 13 4 15 5 11 6 -6 7 -2 8 -6 9 3 10 -12 11 -10"/>
<path d="M0 17 1 10 2 11 3 5 4 9 5 10 6 4 7 1 8 1 9 -8 10 -12 11 -8"/>
<path d="M0 21 1 20 2 22 3 10 4 11 5 12 6 3 7 8 8 5 9 -16 10 -12 11 -19"/>
<path d="M0 14 1 10 2 8 3 9 4 5 5 9 6 6 7 2 8 3 9 -4 10 -13 11 -14"/>
<path d="M0 17 1 12 2 5 3 8 4 -2 5 6 6 2 7 -3 8 1 9 7 10 -8 11 -3"/>
<path d="M0 8 1 20 2 13 3 13 4 9 5 16 6 2 7 1 8 0 9 -9 10 -32 11 -21"/>
<path d="M0 16 1 16 2 10 3 4 4 3 5 2 6 3 7 0 8 -1 9 -9 10 -16 11 -13"/>
<path d="M0 31 1 25 2 24 3 7 4 6 5 12 6 13 7 11 8 11 9 -8 10 -23 11 -17"/>
<path d="M0 15 1 14 2 11 3 4 4 1 5 4 6 4 7 3 8 3 9 -4 10 -12 11 -10"/>
<path d="M0 13 1 13 2 10 3 3 4 2 5 4 6 3 7 3 8 2 9 -3 10 -12 11 -11"/>
<path d="M0 2 1 4 2 4 3 -2 4 -4 5 1 6 2 7 2 8 -2 9 3 10 -15 11 -8"/>
<path d="M0 19 1 14 2 13 3 5 4 1 5 7 6 4 7 4 8 -2 9 -5 10 -12 11 -10"/>
<path d="M0 11 1 2 2 3 3 0 4 1 5 -2 6 0 7 -4 8 -4 9 -2 10 -11 11 -10"/>
<path d="M0 11 1 15 2 8 3 8 4 4 5 8 6 5 7 3 8 0 9 -8 10 -19 11 -25"/>
<path d="M0 11 1 7 2 9 3 6 4 4 5 4 6 5 7 3 8 2 9 -8 10 -20 11 -6"/>
<path d="M0 13 1 19 2 7 3 6 4 3 5 3 6 12 7 3 8 3 9 -3 10 -9 11 -11"/>
<path d="M0 7 1 11 2 7 3 2 4 5 5 2 6 2 7 1 8 -2 9 1 10 -5 11 -4"/>
<path d="M0 0 1 5 2 -8 3 3 4 -3 5 2 6 -2 7 2 8 -9 9 -7 10 -8 11 -9"/>
<path d="M0 20 1 13 2 11 3 5 4 0 5 4 6 1 7 2 8 7 9 -1 10 -10 11 -9"/>
<path d="M0 13 1 13 2 4 3 5 4 1 5 6 6 4 7 3 8 2 9 -4 10 -11 11 -11"/>
<path d="M0 5 1 9 2 12 3 -4 4 -11 5 -8 6 -3 7 -5 8 -1 9 7 10 -8 11 -6"/>
<path d="M0 10 1 13 2 8 3 3 4 1 5 3 6 6 7 3 8 1 9 -4 10 -15 11 -10"/>
<path d="M0 8 1 7 2 4 3 3 4 -2 5 3 6 4 7 5 8 -1 9 2 10 -16 11 -6"/>
<path d="M0 -16 1 5 2 -3 3 -2 4 -2 5 -2 6 5 7 -3 8 0 9 4 10 -5 11 -4"/>
<path d="M0 10 1 11 2 9 3 -1 4 1 5 3 6 0 7 -1 8 -6 9 -3 10 -18 11 -14"/>
<path d="M0 13 1 11 2 8 3 4 4 1 5 9 6 0 7 0 8 -8 9 -1 10 -9 11 -5"/>
<path d="M0 23 1 12 2 9 3 6 4 8 5 5 6 5 7 6 8 -1 9 -7 10 -18 11 -21"/>
<path d="M0 11 1 8 2 6 3 4 4 2 5 5 6 0 7 -2 8 0 9 -2 10 6 11 -7"/>
<path d="M0 13 1 10 2 7 3 5 4 2 5 4 6 6 7 6 8 4 9 -11 10 -12 11 -15"/>
<path d="M0 9 1 19 2 11 3 1 4 1 5 1 6 -11 7 -9 8 -8 9 0 10 -11 11 -7"/>
<path d="M0 31 1 32 2 28 3 1 4 9 5 8 6 3 7 9 8 -2 9 0 10 -3 11 -32"/>
<path d="M0 16 1 15 2 13 3 3 4 3 5 7 6 3 7 1 8 -3 9 -16 10 -15 11 -25"/>
<path d="M0 23 1 23 2 13 3 2 4 -3 5 -2 6 2 7 -1 8 1 9 -16 10 -22 11 -21"/>
<path d="M0 4 1 11 2 15 3 8 4 8 5 8 6 9 7 2 8 4 9 -8 10 -23 11 -24"/>
<path d="M0 9 1 8 2 5 3 2 4 2 5 3 6 -1 7 -1 8 0 9 -5 10 -17 11 -12"/>
<path d="M0 10 1 11 2 9 3 11 4 8 5 11 6 10 7 8 8 10 9 -12 10 -27 11 -19"/>
<path d="M0 14 1 15 2 11 3 6 4 4 5 7 6 7 7 5 8 4 9 -11 10 -23 11 -19"/>
<path d="M0 8 1 9 2 7 3 0 4 -2 5 -2 6 -2 7 -1 8 -4 9 -2 10 -10 11 -13"/>
<path d="M0 5 1 7 2 -4 3 -4 4 -4 5 -2 6 -4 7 -9 8 -5 9 5 10 -1 11 2"/>
<path d="M0 19 1 18 2 19 3 6 4 7 5 8 6 5 7 8 8 4 9 -9 10 -16 11 -19"/>
<path d="M0 17 1 8 2 12 3 6 4 3 5 6 6 0 7 0 8 -2 9 -3 10 -16 11 -10"/>
<path d="M0 15 1 17 2 7 3 9 4 5 5 6 6 7 7 4 8 5 9 -6 10 -19 11 -15"/>
<path d="M0 17 1 15 2 16 3 6 4 6 5 9 6 0 7 -3 8 3 9 0 10 -9 11 -4"/>
<path d="M0 10 1 13 2 5 3 7 4 6 5 8 6 8 7 8 8 6 9 -24 10 -29 11 -27"/>
<path d="M0 17 1 20 2 11 3 6 4 -16 5 6 6 4 7 1 8 1 9 -8 10 -12 11 -16"/>
<path d="M0 14 1 11 2 15 3 6 4 5 5 3 6 4 7 4 8 -2 9 -9 10 -12 11 -11"/>
</g>
<path d="M78.1 761.9 96.1 761.9 114.1 764.4 132.2 770.3 150.2 771.6 168.2 770.3 186.2 771.2 204.2 772 222.3 772.9 240.3 778.8 258.3 785.6 276.3 784.4" fill="none" stroke="#000" stroke-width="2"/>
<rect x="67.7" y="680.4" width="219.4" height="185.2" fill="none" stroke="#7a7a7a" stroke-width="1.4"/>
<rect x="67.7" y="655.8" width="219.4" height="24.6" fill="#c4c4c4" stroke="#4a4a4a" stroke-width="1.5"/>
<g transform="translate(177.6 674.4)"><text font-size="16.6" text-anchor="middle" class="t">AAM.up.4</text></g>
<text x="248.8" y="722.4" font-size="24" font-weight="bold" letter-spacing="1.0" text-anchor="middle" fill="#000" stroke="#000" stroke-width="1.1">421</text>
<rect x="294" y="680.4" width="219.8" height="185.2" fill="#fff"/>
<path d="M294 836.6H513.8M294 794.4H513.8M294 752.3H513.8M294 710.1H513.8" stroke="#f2f2f2" stroke-width="0.6" fill="none"/>
<path d="M294 857.6H513.8M294 815.5H513.8M294 773.4H513.8M294 731.2H513.8M294 689.1H513.8M304.7 680.4V865.6M322.8 680.4V865.6M340.8 680.4V865.6M358.9 680.4V865.6M377 680.4V865.6M395 680.4V865.6M413.1 680.4V865.6M431.2 680.4V865.6M449.3 680.4V865.6M467.3 680.4V865.6M485.4 680.4V865.6M503.5 680.4V865.6" stroke="#e6e6e6" stroke-width="1" fill="none"/>
<g class="L" transform="translate(304.7 773.4) scale(18.0700 -0.8430)" stroke-opacity="0.100">
<path d="M0 -4 1 -7 2 -5 3 -1 4 -2 5 5 6 6 7 6 8 6 9 5 10 3 11 7"/>
<path d="M0 -9 1 -8 2 -8 3 -2 4 0 5 2 6 15 7 11 8 11 9 5 10 4 11 4"/>
<path d="M0 -5 1 -6 2 -4 3 -6 4 -4 5 -1 6 8 7 6 8 4 9 3 10 3 11 2"/>
<path d="M0 -3 1 -4 2 -4 3 -7 4 -5 5 0 6 6 7 2 8 2 9 5 10 1 11 2"/>
<path d="M0 -6 1 -6 2 -3 3 -6 4 -4 5 0 6 6 7 1 8 2 9 3 10 4 11 1"/>
<path d="M0 -5 1 -3 2 -5 3 -6 4 -4 5 -2 6 6 7 5 8 2 9 6 10 5 11 5"/>
<path d="M0 -6 1 -11 2 -10 3 5 4 9 5 11 6 8 7 7 8 5 9 7 10 9 11 8"/>
<path d="M0 -5 1 -6 2 -5 3 -2 4 2 5 2 6 11 7 7 8 6 9 4 10 4 11 4"/>
<path d="M0 -7 1 -8 2 -5 3 0 4 2 5 1 6 11 7 10 8 7 9 7 10 6 11 6"/>
<path d="M0 -1 1 0 2 -3 3 -3 4 -2 5 -2 6 5 7 3 8 2 9 0 10 1 11 2"/>
<path d="M0 -4 1 -7 2 -6 3 -5 4 -6 5 -5 6 5 7 3 8 0 9 3 10 1 11 2"/>
<path d="M0 -7 1 -8 2 -8 3 -4 4 -2 5 0 6 8 7 3 8 10 9 8 10 5 11 4"/>
<path d="M0 -8 1 -10 2 -9 3 0 4 2 5 4 6 9 7 5 8 3 9 3 10 5 11 6"/>
<path d="M0 -10 1 -9 2 -10 3 -1 4 0 5 5 6 13 7 8 8 10 9 7 10 4 11 4"/>
<path d="M0 -6 1 -4 2 -6 3 -2 4 -3 5 3 6 24 7 3 8 3 9 5 10 4 11 4"/>
<path d="M0 -5 1 -7 2 -7 3 -1 4 -2 5 1 6 10 7 8 8 5 9 4 10 2 11 4"/>
<path d="M0 -6 1 -7 2 -5 3 -3 4 1 5 4 6 7 7 3 8 2 9 3 10 0 11 3"/>
<path d="M0 -5 1 -5 2 -2 3 -5 4 -5 5 -4 6 10 7 9 8 3 9 4 10 4 11 6"/>
<path d="M0 -4 1 -7 2 -5 3 -8 4 -4 5 -1 6 5 7 3 8 2 9 3 10 4 11 4"/>
<path d="M0 -4 1 -7 2 -5 3 -1 4 -1 5 1 6 9 7 3 8 0 9 0 10 1 11 1"/>
<path d="M0 -9 1 -8 2 -9 3 0 4 2 5 -1 6 17 7 11 8 11 9 9 10 8 11 4"/>
<path d="M0 -6 1 -5 2 -5 3 -4 4 -3 5 2 6 8 7 6 8 3 9 4 10 4 11 2"/>
<path d="M0 -5 1 -6 2 -6 3 -1 4 1 5 6 6 9 7 7 8 7 9 8 10 7 11 7"/>
<path d="M0 -5 1 -4 2 -6 3 -8 4 -4 5 -1 6 7 7 2 8 2 9 5 10 4 11 5"/>
<path d="M0 -7 1 -9 2 -6 3 -5 4 -2 5 -6 6 2 7 3 8 -2 9 3 10 1 11 2"/>
<path d="M0 -4 1 -7 2 -5 3 -5 4 -2 5 1 6 12 7 6 8 9 9 8 10 6 11 5"/>
<path d="M0 -4 1 -4 2 -4 3 -4 4 -5 5 -1 6 7 7 5 8 2 9 5 10 6 11 4"/>
<path d="M0 -4 1 -3 2 -3 3 -6 4 -5 5 -4 6 7 7 3 8 5 9 2 10 2 11 2"/>
<path d="M0 -7 1 -8 2 -7 3 -4 4 -2 5 2 6 7 7 6 8 5 9 4 10 3 11 3"/>
<path d="M0 -4 1 -7 2 -5 3 -4 4 -2 5 0 6 5 7 -1 8 -2 9 0 10 1 11 2"/>
<path d="M0 -5 1 -2 2 -5 3 -7 4 -2 5 -5 6 5 7 4 8 5 9 1 10 -4 11 0"/>
<path d="M0 -6 1 -5 2 -6 3 -4 4 -2 5 1 6 10 7 6 8 5 9 5 10 5 11 4"/>
<path d="M0 -8 1 -6 2 -7 3 -2 4 1 5 1 6 10 7 7 8 5 9 5 10 7 11 4"/>
<path d="M0 -8 1 -6 2 -7 3 -8 4 -4 5 -3 6 11 7 9 8 4 9 6 10 6 11 4"/>
<path d="M0 -5 1 -6 2 -3 3 -3 4 -2 5 2 6 8 7 7 8 2 9 4 10 5 11 5"/>
<path d="M0 -8 1 -9 2 -7 3 2 4 4 5 8 6 19 7 6 8 4 9 9 10 8 11 10"/>
<path d="M0 -3 1 -4 2 -3 3 -5 4 -4 5 0 6 6 7 3 8 0 9 4 10 4 11 3"/>
<path d="M0 -4 1 -4 2 -1 3 -7 4 -4 5 -3 6 6 7 3 8 2 9 2 10 2 11 3"/>
<path d="M0 -4 1 -6 2 -4 3 -5 4 0 5 1 6 5 7 2 8 2 9 3 10 4 11 3"/>
<path d="M0 -5 1 -4 2 -4 3 -5 4 -3 5 -1 6 8 7 4 8 3 9 5 10 4 11 5"/>
<path d="M0 -4 1 -5 2 -4 3 -2 4 -4 5 0 6 8 7 3 8 2 9 1 10 2 11 2"/>
<path d="M0 -11 1 -11 2 -8 3 1 4 2 5 6 6 13 7 9 8 7 9 9 10 6 11 6"/>
<path d="M0 -5 1 -7 2 -5 3 -9 4 -5 5 -3 6 7 7 6 8 8 9 3 10 2 11 3"/>
<path d="M0 -5 1 -6 2 -5 3 -4 4 -1 5 1 6 6 7 3 8 2 9 1 10 1 11 0"/>
<path d="M0 -5 1 -3 2 -5 3 -6 4 -5 5 -2 6 10 7 6 8 7 9 4 10 4 11 6"/>
<path d="M0 -7 1 -9 2 -6 3 1 4 3 5 6 6 10 7 8 8 6 9 4 10 5 11 4"/>
<path d="M0 -6 1 -6 2 -5 3 -5 4 -1 5 1 6 11 7 9 8 8 9 4 10 4 11 4"/>
<path d="M0 -6 1 -6 2 -5 3 -3 4 -2 5 0 6 9 7 6 8 15 9 5 10 4 11 3"/>
<path d="M0 -6 1 -7 2 -10 3 -2 4 0 5 2 6 19 7 6 8 5 9 4 10 3 11 2"/>
<path d="M0 -3 1 -2 2 -1 3 -8 4 -5 5 -4 6 4 7 2 8 -4 9 3 10 4 11 4"/>
<path d="M0 -13 1 -7 2 -12 3 0 4 6 5 10 6 15 7 8 8 12 9 3 10 4 11 6"/>
<path d="M0 -7 1 -7 2 -7 3 -5 4 -2 5 -4 6 9 7 6 8 8 9 4 10 4 11 0"/>
<path d="M0 -10 1 -11 2 -9 3 -1 4 4 5 5 6 13 7 9 8 7 9 6 10 1 11 3"/>
<path d="M0 -8 1 -6 2 -6 3 -7 4 -3 5 0 6 13 7 11 8 11 9 3 10 5 11 1"/>
<path d="M0 -6 1 -8 2 -6 3 -6 4 -2 5 -3 6 8 7 3 8 1 9 6 10 5 11 1"/>
<path d="M0 -5 1 -7 2 -6 3 -4 4 -5 5 -1 6 7 7 4 8 2 9 5 10 3 11 3"/>
<path d="M0 -7 1 -7 2 -9 3 -3 4 -2 5 -1 6 7 7 2 8 2 9 5 10 4 11 4"/>
<path d="M0 -6 1 -8 2 -6 3 -4 4 -1 5 0 6 9 7 3 8 5 9 8 10 4 11 6"/>
<path d="M0 -11 1 -10 2 -10 3 0 4 4 5 2 6 12 7 10 8 5 9 6 10 2 11 5"/>
<path d="M0 -4 1 -5 2 -6 3 -4 4 -2 5 -2 6 11 7 7 8 6 9 7 10 5 11 17"/>
<path d="M0 -5 1 -7 2 -7 3 -7 4 -3 5 -3 6 6 7 3 8 -2 9 5 10 4 11 4"/>
<path d="M0 -8 1 -6 2 -6 3 -4 4 -3 5 1 6 9 7 4 8 5 9 4 10 5 11 4"/>
<path d="M0 -7 1 -5 2 -3 3 4 4 -1 5 2 6 7 7 5 8 7 9 -1 10 3 11 0"/>
<path d="M0 -6 1 -6 2 -6 3 -2 4 2 5 2 6 11 7 10 8 7 9 4 10 4 11 2"/>
<path d="M0 -3 1 -4 2 -4 3 -4 4 -1 5 -1 6 9 7 3 8 3 9 1 10 1 11 2"/>
<path d="M0 -9 1 -9 2 -9 3 0 4 2 5 3 6 14 7 10 8 11 9 8 10 7 11 7"/>
<path d="M0 -8 1 -8 2 -10 3 1 4 5 5 5 6 17 7 17 8 11 9 10 10 10 11 8"/>
<path d="M0 -9 1 -8 2 -9 3 -2 4 3 5 0 6 13 7 7 8 5 9 4 10 4 11 5"/>
<path d="M0 -5 1 -5 2 -4 3 -3 4 1 5 4 6 9 7 5 8 6 9 5 10 5 11 6"/>
<path d="M0 -4 1 -6 2 -7 3 -4 4 -4 5 0 6 7 7 -1 8 0 9 3 10 1 11 -2"/>
<path d="M0 -11 1 -11 2 -9 3 0 4 3 5 4 6 13 7 9 8 7 9 5 10 5 11 6"/>
<path d="M0 -4 1 -3 2 -6 3 -3 4 -4 5 0 6 5 7 2 8 -1 9 4 10 3 11 4"/>
<path d="M0 -8 1 -10 2 -6 3 1 4 5 5 6 6 5 7 4 8 2 9 6 10 6 11 6"/>
<path d="M0 -4 1 -6 2 -2 3 -4 4 -3 5 0 6 9 7 9 8 5 9 9 10 8 11 7"/>
<path d="M0 -5 1 -10 2 -8 3 4 4 0 5 3 6 7 7 4 8 3 9 5 10 4 11 3"/>
<path d="M0 -6 1 -7 2 -4 3 -2 4 2 5 1 6 13 7 11 8 9 9 5 10 7 11 6"/>
<path d="M0 -10 1 -11 2 -10 3 -3 4 1 5 -17 6 11 7 5 8 6 9 6 10 6 11 5"/>
<path d="M0 -6 1 -7 2 -6 3 5 4 2 5 3 6 11 7 7 8 9 9 6 10 3 11 4"/>
<path d="M0 -2 1 -8 2 -5 3 -2 4 0 5 2 6 21 7 1 8 4 9 4 10 4 11 6"/>
<path d="M0 -3 1 -5 2 -3 3 -4 4 -4 5 -3 6 14 7 6 8 4 9 1 10 0 11 4"/>
<path d="M0 -4 1 -5 2 -4 3 -4 4 -2 5 -2 6 9 7 4 8 2 9 4 10 2 11 3"/>
<path d="M0 -3 1 -5 2 -2 3 -7 4 -3 5 -4 6 15 7 11 8 9 9 5 10 1 11 3"/>
<path d="M0 -5 1 -7 2 -4 3 -4 4 1 5 4 6 13 7 8 8 7 9 5 10 5 11 5"/>
<path d="M0 -9 1 -9 2 -7 3 1 4 1 5 4 6 12 7 9 8 6 9 3 10 5 11 6"/>
<path d="M0 -8 1 -7 2 -5 3 -6 4 -4 5 0 6 8 7 6 8 4 9 7 10 3 11 4"/>
<path d="M0 -7 1 -12 2 -5 3 -7 4 -5 5 1 6 10 7 -1 8 5 9 6 10 3 11 7"/>
<path d="M0 -3 1 -3 2 -2 3 -7 4 -7 5 0 6 8 7 2 8 3 9 4 10 3 11 4"/>
<path d="M0 -2 1 -4 2 -4 3 -5 4 0 5 0 6 7 7 7 8 5 9 1 10 2 11 1"/>
<path d="M0 -9 1 -7 2 -11 3 2 4 -3 5 4 6 12 7 10 8 10 9 8 10 6 11 8"/>
<path d="M0 -10 1 -11 2 -13 3 2 4 3 5 7 6 15 7 13 8 11 9 6 10 6 11 7"/>
<path d="M0 -6 1 -6 2 -5 3 -3 4 -1 5 1 6 11 7 6 8 5 9 7 10 4 11 6"/>
<path d="M0 -7 1 -8 2 -7 3 -1 4 4 5 3 6 11 7 9 8 12 9 9 10 8 11 6"/>
<path d="M0 -8 1 -11 2 -10 3 4 4 5 5 5 6 13 7 10 8 11 9 9 10 7 11 7"/>
<path d="M0 -11 1 -10 2 -9 3 1 4 6 5 7 6 15 7 11 8 10 9 8 10 9 11 7"/>
<path d="M0 -7 1 -8 2 -9 3 2 4 4 5 6 6 15 7 8 8 6 9 9 10 8 11 7"/>
<path d="M0 -8 1 -10 2 -9 3 -2 4 -1 5 1 6 10 7 9 8 5 9 5 10 5 11 6"/>
<path d="M0 -6 1 -6 2 -6 3 -4 4 -3 5 1 6 15 7 5 8 4 9 6 10 6 11 5"/>
<path d="M0 -6 1 -7 2 -7 3 -4 4 1 5 0 6 10 7 7 8 5 9 5 10 4 11 5"/>
<path d="M0 -7 1 -7 2 -9 3 -1 4 0 5 3 6 14 7 10 8 8 9 6 10 6 11 5"/>
<path d="M0 -7 1 -6 2 -5 3 -4 4 -4 5 -1 6 21 7 6 8 8 9 2 10 6 11 3"/>
<path d="M0 -4 1 -1 2 -4 3 -6 4 -2 5 -5 6 5 7 4 8 -1 9 3 10 4 11 6"/>
<path d="M0 -4 1 -4 2 -1 3 -9 4 -5 5 -5 6 3 7 -3 8 1 9 0 10 -2 11 2"/>
<path d="M0 -2 1 -4 2 -4 3 -7 4 -6 5 -5 6 5 7 -3 8 3 9 1 10 1 11 3"/>
<path d="M0 -8 1 -8 2 -7 3 -3 4 1 5 2 6 8 7 4 8 7 9 3 10 5 11 3"/>
<path d="M0 -5 1 -6 2 -5 3 -8 4 -4 5 -5 6 5 7 3 8 3 9 3 10 2 11 3"/>
<path d="M0 -6 1 -6 2 -7 3 -3 4 0 5 1 6 9 7 6 8 5 9 5 10 6 11 4"/>
<path d="M0 -3 1 -3 2 -2 3 -5 4 -8 5 -5 6 6 7 2 8 -1 9 1 10 1 11 2"/>
<path d="M0 -4 1 0 2 -3 3 -3 4 -2 5 -2 6 8 7 5 8 4 9 3 10 2 11 2"/>
<path d="M0 -7 1 -4 2 -5 3 -4 4 -2 5 0 6 8 7 5 8 6 9 5 10 4 11 2"/>
<path d="M0 -6 1 -9 2 -5 3 2 4 4 5 3 6 16 7 9 8 8 9 4 10 4 11 4"/>
<path d="M0 -6 1 -5 2 -7 3 0 4 1 5 3 6 12 7 9 8 7 9 5 10 4 11 5"/>
<path d="M0 -2 1 -3 2 -3 3 -7 4 -4 5 -2 6 5 7 2 8 5 9 2 10 0 11 2"/>
<path d="M0 -3 1 -5 2 -4 3 -4 4 -2 5 -1 6 23 7 4 8 2 9 1 10 2 11 2"/>
<path d="M0 -10 1 -11 2 -9 3 -2 4 0 5 4 6 15 7 14 8 12 9 4 10 6 11 5"/>
<path d="M0 -3 1 -5 2 -5 3 -4 4 -2 5 2 6 4 7 2 8 2 9 2 10 2 11 2"/>
<path d="M0 -6 1 -7 2 -7 3 -1 4 -3 5 1 6 12 7 7 8 7 9 4 10 4 11 5"/>
<path d="M0 -4 1 -7 2 -4 3 -4 4 -5 5 -1 6 11 7 6 8 4 9 6 10 3 11 3"/>
<path d="M0 -8 1 -10 2 -10 3 1 4 2 5 5 6 15 7 10 8 11 9 6 10 5 11 5"/>
<path d="M0 -5 1 -10 2 -9 3 -3 4 -2 5 1 6 8 7 12 8 9 9 5 10 3 11 2"/>
<path d="M0 -3 1 -4 2 -4 3 -5 4 -2 5 -2 6 8 7 4 8 4 9 4 10 4 11 3"/>
<path d="M0 -5 1 -7 2 -8 3 -3 4 -4 5 0 6 20 7 7 8 6 9 4 10 3 11 5"/>
<path d="M0 -3 1 -6 2 -3 3 -2 4 -1 5 4 6 8 7 3 8 2 9 2 10 1 11 3"/>
<path d="M0 -1 1 -5 2 -4 3 1 4 2 5 3 6 8 7 3 8 3 9 5 10 6 11 7"/>
<path d="M0 -1 1 -2 2 -3 3 -6 4 -3 5 -4 6 7 7 5 8 5 9 1 10 2 11 0"/>
<path d="M0 -4 1 -5 2 -6 3 -7 4 -4 5 -3 6 8 7 9 8 7 9 2 10 3 11 2"/>
<path d="M0 -4 1 -4 2 -5 3 -3 4 -2 5 -2 6 8 7 0 8 2 9 5 10 4 11 2"/>
<path d="M0 -8 1 -7 2 -5 3 -5 4 1 5 -2 6 18 7 9 8 12 9 8 10 6 11 7"/>
<path d="M0 -8 1 -7 2 -6 3 -2 4 1 5 8 6 12 7 8 8 8 9 5 10 5 11 3"/>
<path d="M0 -6 1 -8 2 -7 3 -4 4 -2 5 -1 6 10 7 6 8 5 9 5 10 6 11 5"/>
<path d="M0 -3 1 -4 2 -4 3 -2 4 0 5 0 6 6 7 8 8 5 9 3 10 2 11 4"/>
<path d="M0 -5 1 -2 2 -4 3 -5 4 -2 5 -1 6 7 7 8 8 5 9 -1 10 4 11 3"/>
<path d="M0 -7 1 -5 2 -8 3 -3 4 1 5 2 6 7 7 5 8 4 9 4 10 4 11 4"/>
<path d="M0 -7 1 -7 2 -5 3 -2 4 0 5 1 6 18 7 7 8 4 9 6 10 3 11 4"/>
<path d="M0 -7 1 -8 2 -8 3 -2 4 -1 5 2 6 13 7 10 8 9 9 6 10 5 11 4"/>
<path d="M0 -8 1 -8 2 -6 3 1 4 2 5 3 6 12 7 8 8 10 9 6 10 5 11 4"/>
<path d="M0 -8 1 -8 2 -8 3 -1 4 1 5 3 6 11 7 5 8 5 9 4 10 6 11 4"/>
<path d="M0 -6 1 -6 2 -5 3 -7 4 -4 5 -3 6 9 7 8 8 9 9 5 10 5 11 5"/>
<path d="M0 -4 1 -6 2 -8 3 -3 4 -3 5 1 6 8 7 20 8 3 9 7 10 4 11 6"/>
<path d="M0 -7 1 -7 2 -9 3 -2 4 2 5 4 6 14 7 6 8 5 9 3 10 4 11 4"/>
<path d="M0 -9 1 -8 2 -8 3 -4 4 -7 5 2 6 13 7 9 8 5 9 5 10 4 11 4"/>
<path d="M0 -8 1 -6 2 -8 3 -3 4 2 5 5 6 7 7 6 8 5 9 3 10 4 11 2"/>
<path d="M0 -12 1 -12 2 -12 3 -3 4 5 5 5 6 14 7 16 8 11 9 6 10 2 11 6"/>
<path d="M0 -6 1 -8 2 -7 3 -3 4 0 5 1 6 9 7 6 8 6 9 5 10 3 11 3"/>
<path d="M0 -6 1 -6 2 -6 3 -4 4 0 5 2 6 11 7 7 8 5 9 4 10 4 11 4"/>
<path d="M0 -4 1 -4 2 -4 3 -6 4 -4 5 0 6 5 7 2 8 0 9 1 10 -8 11 3"/>
<path d="M0 -3 1 -4 2 -3 3 -2 4 3 5 2 6 12 7 6 8 7 9 6 10 5 11 6"/>
<path d="M0 -3 1 -2 2 -4 3 -7 4 -10 5 -5 6 2 7 1 8 0 9 0 10 -1 11 0"/>
<path d="M0 -4 1 -3 2 -5 3 -5 4 -4 5 2 6 7 7 4 8 3 9 4 10 2 11 3"/>
<path d="M0 -6 1 -8 2 -6 3 -3 4 -2 5 2 6 7 7 4 8 4 9 5 10 3 11 4"/>
<path d="M0 -5 1 -8 2 -5 3 -2 4 0 5 1 6 11 7 10 8 7 9 9 10 8 11 7"/>
<path d="M0 -5 1 -4 2 -6 3 -5 4 -1 5 -2 6 10 7 7 8 5 9 5 10 3 11 3"/>
<path d="M0 -5 1 -6 2 -8 3 -7 4 -5 5 -5 6 18 7 12 8 14 9 2 10 4 11 5"/>
<path d="M0 -5 1 -5 2 -4 3 -6 4 -6 5 -3 6 12 7 9 8 4 9 5 10 4 11 4"/>
<path d="M0 -3 1 -2 2 0 3 -7 4 -6 5 -4 6 7 7 3 8 2 9 3 10 2 11 1"/>
<path d="M0 -1 1 0 2 -2 3 -8 4 -6 5 -4 6 7 7 5 8 4 9 -2 10 -2 11 -2"/>
<path d="M0 -3 1 -5 2 -3 3 -5 4 -3 5 0 6 5 7 0 8 5 9 3 10 2 11 2"/>
<path d="M0 -5 1 -8 2 -7 3 -3 4 -1 5 0 6 10 7 10 8 8 9 6 10 3 11 5"/>
<path d="M0 -6 1 -6 2 -4 3 -1 4 0 5 5 6 8 7 5 8 5 9 1 10 0 11 2"/>
<path d="M0 -6 1 -7 2 -5 3 -4 4 -5 5 0 6 6 7 5 8 5 9 2 10 0 11 -1"/>
<path d="M0 -9 1 -9 2 -7 3 -7 4 -5 5 -1 6 7 7 5 8 0 9 7 10 4 11 6"/>
<path d="M0 -5 1 -7 2 -3 3 -12 4 -7 5 -2 6 10 7 0 8 0 9 4 10 1 11 -1"/>
<path d="M0 -4 1 -3 2 -3 3 -7 4 -5 5 -3 6 12 7 7 8 6 9 4 10 3 11 3"/>
<path d="M0 -2 1 -4 2 -3 3 -5 4 -4 5 -2 6 8 7 6 8 4 9 3 10 1 11 3"/>
<path d="M0 -4 1 -4 2 -7 3 -7 4 -3 5 -1 6 2 7 2 8 2 9 -2 10 -10 11 0"/>
<path d="M0 -7 1 -7 2 -4 3 -7 4 -2 5 -1 6 7 7 2 8 -2 9 0 10 1 11 3"/>
<path d="M0 -6 1 -7 2 -6 3 -2 4 0 5 3 6 9 7 9 8 3 9 4 10 3 11 3"/>
<path d="M0 -5 1 -5 2 -2 3 -3 4 -1 5 1 6 13 7 11 8 6 9 6 10 4 11 5"/>
<path d="M0 -2 1 -9 2 -5 3 -2 4 -3 5 1 6 15 7 6 8 4 9 3 10 4 11 5"/>
<path d="M0 -6 1 -6 2 -6 3 -1 4 7 5 7 6 18 7 9 8 6 9 5 10 7 11 5"/>
<path d="M0 -2 1 -3 2 -2 3 -4 4 1 5 0 6 6 7 5 8 2 9 -1 10 1 11 1"/>
<path d="M0 -8 1 -8 2 -9 3 -5 4 -2 5 5 6 14 7 13 8 10 9 6 10 5 11 4"/>
<path d="M0 -9 1 -7 2 -8 3 -1 4 -1 5 3 6 10 7 5 8 4 9 7 10 6 11 5"/>
<path d="M0 -7 1 -7 2 -7 3 -5 4 -3 5 -1 6 7 7 5 8 3 9 4 10 4 11 5"/>
<path d="M0 -6 1 -6 2 -8 3 -1 4 0 5 1 6 8 7 4 8 4 9 3 10 4 11 3"/>
<path d="M0 -8 1 -8 2 -7 3 -2 4 1 5 3 6 12 7 9 8 8 9 6 10 6 11 5"/>
<path d="M0 -2 1 -4 2 -3 3 -8 4 -5 5 -4 6 5 7 1 8 -2 9 1 10 -1 11 -2"/>
<path d="M0 1 1 1 2 -1 3 -4 4 -1 5 1 6 3 7 -1 8 4 9 3 10 4 11 4"/>
<path d="M0 -7 1 -4 2 -4 3 -4 4 -1 5 2 6 8 7 2 8 3 9 5 10 5 11 3"/>
<path d="M0 -24 1 -6 2 -6 3 1 4 4 5 4 6 13 7 9 8 7 9 7 10 6 11 6"/>
<path d="M0 -6 1 -6 2 -6 3 -7 4 -7 5 -2 6 20 7 6 8 2 9 9 10 5 11 4"/>
<path d="M0 -8 1 -7 2 -10 3 -1 4 2 5 2 6 12 7 3 8 9 9 7 10 6 11 7"/>
<path d="M0 -5 1 -6 2 -3 3 -2 4 0 5 5 6 9 7 6 8 5 9 5 10 5 11 6"/>
<path d="M0 -15 1 -11 2 -13 3 6 4 11 5 10 6 22 7 16 8 15 9 11 10 10 11 10"/>
<path d="M0 -3 1 -7 2 -8 3 1 4 -1 5 0 6 15 7 6 8 10 9 3 10 1 11 0"/>
<path d="M0 -10 1 -9 2 -9 3 1 4 5 5 6 6 10 7 10 8 4 9 2 10 2 11 2"/>
<path d="M0 -4 1 -3 2 -5 3 -6 4 -4 5 -1 6 11 7 6 8 5 9 3 10 4 11 1"/>
<path d="M0 -7 1 -6 2 -6 3 -5 4 0 5 0 6 9 7 3 8 5 9 4 10 4 11 4"/>
<path d="M0 -7 1 -5 2 -5 3 -3 4 4 5 2 6 7 7 0 8 -3 9 6 10 6 11 6"/>
<path d="M0 -2 1 -3 2 -4 3 -3 4 -4 5 -2 6 10 7 1 8 2 9 1 10 1 11 -2"/>
<path d="M0 -9 1 -6 2 -6 3 -6 4 -2 5 2 6 9 7 7 8 7 9 1 10 1 11 2"/>
<path d="M0 -4 1 -7 2 -4 3 -1 4 -3 5 -2 6 8 7 6 8 3 9 5 10 2 11 5"/>
<path d="M0 -5 1 -5 2 -5 3 -6 4 -4 5 -3 6 8 7 6 8 4 9 4 10 6 11 4"/>
<path d="M0 -4 1 -6 2 -6 3 -8 4 -5 5 -1 6 5 7 0 8 3 9 5 10 4 11 3"/>
<path d="M0 -8 1 -9 2 -8 3 4 4 3 5 4 6 10 7 7 8 7 9 4 10 2 11 2"/>
<path d="M0 -6 1 -8 2 -6 3 -3 4 0 5 2 6 9 7 6 8 5 9 6 10 6 11 6"/>
<path d="M0 -4 1 -5 2 -5 3 -6 4 -4 5 -2 6 14 7 3 8 3 9 2 10 2 11 1"/>
<path d="M0 -5 1 -3 2 -3 3 -1 4 -2 5 3 6 8 7 4 8 -2 9 6 10 7 11 6"/>
<path d="M0 -6 1 -12 2 -5 3 -5 4 -6 5 -5 6 7 7 4 8 3 9 6 10 5 11 5"/>
<path d="M0 -2 1 -5 2 -6 3 -10 4 -8 5 -3 6 3 7 1 8 -3 9 4 10 2 11 3"/>
<path d="M0 -7 1 -4 2 -5 3 -8 4 -4 5 -3 6 3 7 18 8 -3 9 0 10 -2 11 -4"/>
<path d="M0 -6 1 -6 2 -7 3 -4 4 -2 5 1 6 8 7 6 8 13 9 5 10 4 11 4"/>
<path d="M0 -4 1 -5 2 -5 3 -5 4 -2 5 2 6 8 7 6 8 3 9 1 10 2 11 1"/>
<path d="M0 -7 1 -8 2 -6 3 4 4 8 5 4 6 13 7 8 8 9 9 7 10 8 11 6"/>
<path d="M0 -6 1 -6 2 -6 3 -3 4 -1 5 1 6 9 7 7 8 5 9 6 10 5 11 6"/>
<path d="M0 -7 1 -8 2 -4 3 0 4 0 5 3 6 9 7 5 8 6 9 7 10 5 11 6"/>
<path d="M0 -7 1 -9 2 -7 3 -3 4 -2 5 1 6 11 7 4 8 4 9 4 10 4 11 6"/>
<path d="M0 -3 1 -5 2 -6 3 -3 4 -1 5 1 6 13 7 7 8 6 9 7 10 5 11 6"/>
<path d="M0 -3 1 -4 2 -4 3 -3 4 0 5 1 6 6 7 2 8 5 9 6 10 3 11 5"/>
<path d="M0 -6 1 -8 2 -7 3 -3 4 1 5 0 6 9 7 7 8 6 9 6 10 5 11 5"/>
<path d="M0 -6 1 -7 2 -6 3 -3 4 -2 5 3 6 12 7 5 8 3 9 4 10 4 11 3"/>
<path d="M0 -7 1 -6 2 -2 3 -7 4 -4 5 -1 6 16 7 6 8 4 9 3 10 2 11 0"/>
<path d="M0 -7 1 -7 2 -7 3 0 4 2 5 5 6 11 7 7 8 6 9 4 10 2 11 2"/>
<path d="M0 -7 1 -8 2 -7 3 -1 4 -2 5 3 6 18 7 6 8 6 9 6 10 3 11 3"/>
<path d="M0 -2 1 -3 2 -4 3 -5 4 -4 5 -3 6 7 7 4 8 2 9 4 10 3 11 3"/>
<path d="M0 -5 1 -5 2 -5 3 -4 4 -2 5 1 6 9 7 4 8 5 9 2 10 4 11 5"/>
<path d="M0 -5 1 -6 2 -5 3 -5 4 -5 5 -1 6 7 7 4 8 5 9 2 10 0 11 1"/>
<path d="M0 -5 1 -6 2 -7 3 0 4 -2 5 5 6 13 7 8 8 4 9 4 10 4 11 4"/>
<path d="M0 -4 1 -10 2 -7 3 -6 4 -3 5 -1 6 13 7 8 8 6 9 5 10 6 11 4"/>
<path d="M0 -4 1 -8 2 -6 3 -4 4 -2 5 1 6 12 7 10 8 11 9 6 10 6 11 7"/>
<path d="M0 -4 1 -5 2 -3 3 -4 4 -5 5 -1 6 11 7 5 8 4 9 2 10 3 11 4"/>
<path d="M0 -7 1 -7 2 -6 3 -3 4 0 5 3 6 26 7 8 8 8 9 3 10 2 11 1"/>
<path d="M0 -5 1 -8 2 -6 3 -4 4 -2 5 0 6 11 7 5 8 7 9 6 10 4 11 5"/>
<path d="M0 -9 1 -7 2 -9 3 -1 4 1 5 3 6 13 7 11 8 9 9 5 10 7 11 8"/>
<path d="M0 -5 1 -4 2 -3 3 -5 4 -4 5 -1 6 3 7 1 8 -3 9 -1 10 1 11 2"/>
<path d="M0 -8 1 -8 2 -9 3 -4 4 -3 5 -1 6 12 7 9 8 5 9 1 10 1 11 2"/>
<path d="M0 -8 1 -7 2 -7 3 -2 4 -1 5 2 6 9 7 6 8 6 9 4 10 4 11 4"/>
<path d="M0 -9 1 -9 2 -10 3 3 4 3 5 1 6 11 7 13 8 9 9 7 10 6 11 5"/>
<path d="M0 -6 1 -4 2 -3 3 -3 4 -1 5 -1 6 6 7 5 8 2 9 3 10 5 11 4"/>
<path d="M0 -4 1 -5 2 -3 3 -3 4 -3 5 -1 6 6 7 2 8 1 9 2 10 2 11 1"/>
<path d="M0 -7 1 -7 2 -7 3 -2 4 0 5 1 6 11 7 7 8 5 9 6 10 6 11 6"/>
<path d="M0 -6 1 -8 2 -8 3 2 4 -1 5 5 6 12 7 6 8 5 9 6 10 6 11 6"/>
<path d="M0 -7 1 -5 2 -8 3 -2 4 2 5 4 6 12 7 11 8 5 9 7 10 6 11 6"/>
<path d="M0 -7 1 -7 2 -9 3 0 4 3 5 4 6 9 7 5 8 4 9 4 10 3 11 4"/>
<path d="M0 -6 1 -6 2 -8 3 2 4 -1 5 2 6 5 7 4 8 3 9 4 10 4 11 5"/>
<path d="M0 -4 1 -6 2 -2 3 -3 4 1 5 4 6 7 7 5 8 5 9 4 10 6 11 3"/>
<path d="M0 -4 1 -4 2 -6 3 -4 4 -2 5 -1 6 15 7 5 8 8 9 1 10 1 11 3"/>
<path d="M0 -2 1 -3 2 -2 3 -3 4 -2 5 1 6 8 7 4 8 3 9 1 10 1 11 2"/>
<path d="M0 -6 1 -9 2 -7 3 -3 4 1 5 -2 6 9 7 3 8 4 9 -1 10 0 11 -3"/>
<path d="M0 -6 1 -5 2 -9 3 -1 4 5 5 5 6 13 7 12 8 9 9 7 10 4 11 8"/>
<path d="M0 -8 1 -7 2 -9 3 -4 4 -2 5 0 6 8 7 4 8 2 9 7 10 3 11 3"/>
<path d="M0 -4 1 -7 2 -5 3 -1 4 -2 5 3 6 7 7 5 8 2 9 4 10 4 11 5"/>
<path d="M0 -2 1 -4 2 -4 3 -4 4 2 5 3 6 8 7 3 8 6 9 4 10 2 11 4"/>
<path d="M0 -6 1 -4 2 -4 3 -7 4 -4 5 -8 6 -5 7 4 8 7 9 5 10 5 11 5"/>
<path d="M0 -5 1 -5 2 -5 3 -4 4 -1 5 3 6 12 7 1 8 4 9 5 10 4 11 5"/>
<path d="M0 -3 1 -6 2 -7 3 -4 4 -1 5 0 6 9 7 5 8 4 9 4 10 5 11 3"/>
<path d="M0 -5 1 -6 2 -5 3 -1 4 2 5 2 6 7 7 6 8 7 9 7 10 4 11 6"/>
<path d="M0 -9 1 -7 2 -7 3 -5 4 -2 5 2 6 12 7 7 8 5 9 4 10 4 11 3"/>
<path d="M0 -8 1 -9 2 -6 3 -5 4 -3 5 -2 6 12 7 7 8 7 9 3 10 5 11 5"/>
<path d="M0 -4 1 -5 2 -3 3 -6 4 -2 5 1 6 12 7 4 8 4 9 6 10 2 11 6"/>
<path d="M0 -4 1 -7 2 -6 3 -3 4 -1 5 1 6 17 7 8 8 6 9 7 10 7 11 8"/>
<path d="M0 -10 1 -10 2 -14 3 7 4 8 5 8 6 14 7 9 8 10 9 11 10 11 11 9"/>
<path d="M0 -7 1 -8 2 -10 3 -2 4 0 5 0 6 12 7 4 8 3 9 5 10 7 11 5"/>
<path d="M0 -5 1 -5 2 -4 3 -5 4 -3 5 0 6 8 7 6 8 5 9 4 10 2 11 2"/>
<path d="M0 -4 1 -6 2 -1 3 -7 4 -4 5 -3 6 6 7 4 8 -2 9 5 10 6 11 4"/>
<path d="M0 -5 1 -6 2 -6 3 -1 4 -2 5 1 6 9 7 5 8 1 9 3 10 4 11 3"/>
<path d="M0 -13 1 -9 2 -10 3 9 4 11 5 11 6 13 7 6 8 6 9 8 10 6 11 8"/>
<path d="M0 -7 1 -9 2 -7 3 1 4 -2 5 2 6 16 7 11 8 11 9 6 10 5 11 5"/>
<path d="M0 -5 1 -6 2 -4 3 -4 4 -2 5 -1 6 10 7 4 8 5 9 5 10 4 11 4"/>
<path d="M0 -4 1 -4 2 -4 3 -5 4 -2 5 -3 6 9 7 5 8 2 9 3 10 2 11 5"/>
<path d="M0 -10 1 -12 2 -13 3 5 4 6 5 9 6 12 7 17 8 7 9 12 10 12 11 12"/>
<path d="M0 -5 1 -6 2 -6 3 -6 4 -4 5 -2 6 9 7 4 8 3 9 3 10 5 11 2"/>
<path d="M0 -7 1 -7 2 -5 3 -2 4 1 5 4 6 9 7 4 8 2 9 4 10 4 11 5"/>
<path d="M0 -9 1 -9 2 -7 3 -4 4 4 5 0 6 9 7 6 8 4 9 3 10 2 11 1"/>
<path d="M0 -6 1 -6 2 -8 3 -4 4 1 5 1 6 9 7 8 8 6 9 6 10 3 11 4"/>
<path d="M0 -6 1 -3 2 -7 3 2 4 1 5 5 6 22 7 8 8 6 9 2 10 2 11 4"/>
<path d="M0 -9 1 -7 2 -9 3 -2 4 2 5 2 6 5 7 -1 8 1 9 2 10 2 11 7"/>
<path d="M0 -5 1 -5 2 -5 3 -4 4 0 5 1 6 10 7 7 8 5 9 6 10 6 11 5"/>
<path d="M0 -9 1 -7 2 -8 3 -5 4 -2 5 0 6 8 7 4 8 3 9 5 10 3 11 4"/>
<path d="M0 -4 1 -10 2 -8 3 -1 4 -1 5 -1 6 14 7 13 8 15 9 9 10 10 11 8"/>
<path d="M0 -5 1 -5 2 -4 3 -2 4 -4 5 1 6 14 7 0 8 2 9 4 10 3 11 2"/>
<path d="M0 -6 1 -4 2 -5 3 -3 4 -3 5 -2 6 11 7 5 8 4 9 4 10 1 11 4"/>
<path d="M0 -7 1 -8 2 -6 3 -3 4 -4 5 0 6 7 7 4 8 2 9 2 10 0 11 1"/>
<path d="M0 -4 1 -4 2 -6 3 -3 4 -2 5 -1 6 7 7 5 8 8 9 3 10 4 11 5"/>
<path d="M0 -6 1 -6 2 -6 3 -2 4 -2 5 4 6 10 7 6 8 7 9 5 10 8 11 4"/>
<path d="M0 -5 1 -6 2 -7 3 -4 4 0 5 0 6 16 7 5 8 3 9 3 10 2 11 2"/>
<path d="M0 -1 1 -2 2 -1 3 -8 4 -4 5 -3 6 8 7 6 8 2 9 1 10 -2 11 -1"/>
<path d="M0 -6 1 -7 2 -9 3 -2 4 -3 5 1 6 16 7 5 8 5 9 5 10 4 11 3"/>
<path d="M0 -1 1 -1 2 1 3 -6 4 -3 5 -3 6 0 7 -4 8 -4 9 -3 10 -3 11 -1"/>
<path d="M0 -3 1 -4 2 -4 3 -2 4 -3 5 0 6 7 7 2 8 2 9 9 10 3 11 2"/>
<path d="M0 -8 1 -9 2 -7 3 -3 4 -1 5 3 6 11 7 9 8 6 9 4 10 3 11 5"/>
<path d="M0 -9 1 -7 2 -6 3 -4 4 -1 5 2 6 11 7 9 8 5 9 6 10 2 11 4"/>
<path d="M0 -6 1 -7 2 -7 3 -6 4 -3 5 0 6 9 7 4 8 4 9 5 10 3 11 4"/>
<path d="M0 -3 1 -5 2 -7 3 -4 4 -4 5 2 6 7 7 8 8 4 9 1 10 2 11 0"/>
<path d="M0 -6 1 -4 2 -6 3 -1 4 -2 5 0 6 10 7 10 8 6 9 6 10 4 11 6"/>
<path d="M0 -9 1 -9 2 -15 3 9 4 10 5 12 6 13 7 10 8 15 9 8 10 8 11 8"/>
<path d="M0 -7 1 -4 2 -7 3 0 4 0 5 1 6 13 7 6 8 4 9 2 10 5 11 3"/>
<path d="M0 -5 1 -6 2 -7 3 -3 4 -3 5 0 6 9 7 6 8 4 9 4 10 3 11 4"/>
<path d="M0 -3 1 -3 2 -5 3 0 4 6 5 3 6 18 7 9 8 7 9 4 10 4 11 5"/>
<path d="M0 -1 1 -4 2 -3 3 -4 4 -5 5 -4 6 9 7 4 8 1 9 2 10 -1 11 2"/>
<path d="M0 -6 1 -7 2 -6 3 -4 4 -3 5 -1 6 5 7 2 8 1 9 3 10 1 11 4"/>
<path d="M0 -2 1 -2 2 -4 3 -9 4 -5 5 -6 6 4 7 0 8 0 9 3 10 -1 11 1"/>
<path d="M0 -7 1 -5 2 -7 3 -6 4 -4 5 -1 6 6 7 3 8 1 9 4 10 2 11 5"/>
<path d="M0 -5 1 -8 2 -7 3 0 4 0 5 1 6 11 7 5 8 9 9 5 10 5 11 3"/>
<path d="M0 -5 1 -6 2 -6 3 -6 4 -3 5 0 6 8 7 4 8 3 9 4 10 2 11 3"/>
<path d="M0 -6 1 -8 2 -7 3 3 4 5 5 4 6 8 7 8 8 6 9 4 10 1 11 0"/>
<path d="M0 -6 1 -8 2 -7 3 -4 4 -1 5 2 6 19 7 6 8 7 9 5 10 5 11 7"/>
<path d="M0 -7 1 -5 2 -5 3 -6 4 -3 5 -2 6 8 7 5 8 2 9 2 10 1 11 2"/>
<path d="M0 -7 1 -7 2 -7 3 -4 4 -2 5 1 6 11 7 7 8 7 9 4 10 4 11 3"/>
<path d="M0 -8 1 -8 2 -6 3 1 4 1 5 2 6 16 7 9 8 6 9 6 10 6 11 6"/>
<path d="M0 -5 1 -5 2 -5 3 -5 4 -3 5 0 6 9 7 6 8 4 9 2 10 1 11 0"/>
<path d="M0 -5 1 -4 2 -7 3 -3 4 1 5 1 6 11 7 6 8 3 9 4 10 5 11 5"/>
<path d="M0 -5 1 -3 2 -4 3 -6 4 -1 5 0 6 8 7 3 8 3 9 2 10 4 11 3"/>
<path d="M0 -7 1 -6 2 -7 3 -4 4 0 5 -2 6 8 7 8 8 7 9 5 10 2 11 5"/>
<path d="M0 -8 1 -8 2 -7 3 -4 4 1 5 0 6 9 7 5 8 1 9 3 10 3 11 3"/>
<path d="M0 -6 1 -8 2 -6 3 0 4 -1 5 4 6 14 7 12 8 10 9 8 10 7 11 7"/>
<path d="M0 -9 1 -8 2 -8 3 -2 4 -1 5 3 6 10 7 7 8 7 9 6 10 5 11 6"/>
<path d="M0 -7 1 -6 2 -6 3 -3 4 -2 5 1 6 8 7 5 8 4 9 4 10 4 11 4"/>
<path d="M0 -9 1 -15 2 -12 3 9 4 11 5 10 6 16 7 15 8 9 9 12 10 6 11 11"/>
<path d="M0 -6 1 -7 2 -5 3 -2 4 0 5 1 6 10 7 6 8 6 9 4 10 5 11 3"/>
<path d="M0 -8 1 -9 2 -10 3 21 4 3 5 3 6 14 7 12 8 10 9 5 10 6 11 6"/>
<path d="M0 -8 1 -8 2 -6 3 -6 4 -3 5 -1 6 9 7 3 8 2 9 4 10 2 11 2"/>
<path d="M0 -8 1 -8 2 -8 3 -4 4 4 5 1 6 13 7 3 8 7 9 12 10 11 11 12"/>
<path d="M0 -7 1 -7 2 -6 3 -2 4 -2 5 1 6 11 7 7 8 4 9 6 10 6 11 5"/>
<path d="M0 -4 1 -4 2 -2 3 -1 4 -1 5 2 6 12 7 5 8 5 9 5 10 4 11 5"/>
<path d="M0 -5 1 -4 2 -6 3 3 4 1 5 3 6 6 7 5 8 4 9 5 10 7 11 4"/>
<path d="M0 -13 1 -10 2 -10 3 0 4 0 5 3 6 10 7 7 8 8 9 9 10 9 11 7"/>
<path d="M0 -7 1 -1 2 -1 3 -9 4 -3 5 -1 6 4 7 3 8 2 9 1 10 1 11 0"/>
<path d="M0 -1 1 -3 2 -1 3 -11 4 -6 5 -6 6 3 7 0 8 -3 9 0 10 1 11 1"/>
<path d="M0 -5 1 -4 2 -5 3 -5 4 -1 5 -1 6 8 7 5 8 2 9 4 10 2 11 2"/>
<path d="M0 -6 1 -6 2 -5 3 -1 4 1 5 0 6 9 7 8 8 3 9 4 10 3 11 3"/>
<path d="M0 -6 1 -8 2 -8 3 -1 4 1 5 -1 6 10 7 6 8 4 9 5 10 6 11 4"/>
<path d="M0 -6 1 -8 2 -6 3 -4 4 -1 5 0 6 11 7 7 8 5 9 6 10 3 11 5"/>
<path d="M0 -10 1 -10 2 -10 3 -2 4 1 5 6 6 12 7 9 8 5 9 8 10 7 11 5"/>
<path d="M0 -2 1 -8 2 -4 3 -8 4 2 5 0 6 4 7 4 8 2 9 1 10 2 11 1"/>
<path d="M0 -5 1 -5 2 -5 3 -5 4 -4 5 0 6 8 7 19 8 5 9 4 10 3 11 3"/>
</g>
<path d="M304.7 778.4 322.8 778.8 340.8 778.4 358.9 775.5 377 773.8 395 772 413.1 764.8 431.2 767.8 449.3 768.6 467.3 769.5 485.4 769.9 503.5 769.9" fill="none" stroke="#000" stroke-width="2"/>
<rect x="294" y="680.4" width="219.8" height="185.2" fill="none" stroke="#7a7a7a" stroke-width="1.4"/>
<rect x="294" y="655.8" width="219.8" height="24.6" fill="#c4c4c4" stroke="#4a4a4a" stroke-width="1.5"/>
<g transform="translate(404.1 674.4)"><text font-size="16.6" text-anchor="middle" class="t">AAM.down.4</text></g>
<text x="471.5" y="722.4" font-size="24" font-weight="bold" letter-spacing="1.0" text-anchor="middle" fill="#000" stroke="#000" stroke-width="1.1">325</text>
<g transform="translate(55 863.9)"><text font-size="16.6" text-anchor="end" class="t">–10</text><rect x="-17.80" y="-2.34" width="3.21" height="4.14" fill="#fff"/><rect x="-12.52" y="-2.34" width="3.08" height="4.14" fill="#fff"/></g>
<g transform="translate(55 821.8)"><text font-size="16.6" text-anchor="end" class="t">–5</text></g>
<g transform="translate(55 779.6)"><text font-size="16.6" text-anchor="end" class="t">0</text></g>
<g transform="translate(55 737.5)"><text font-size="16.6" text-anchor="end" class="t">5</text></g>
<g transform="translate(55 695.4)"><text font-size="16.6" text-anchor="end" class="t">10</text><rect x="-17.80" y="-2.34" width="3.21" height="4.14" fill="#fff"/><rect x="-12.52" y="-2.34" width="3.08" height="4.14" fill="#fff"/></g>
<path d="M59.5 857.6H67.7M59.5 815.5H67.7M59.5 773.4H67.7M59.5 731.2H67.7M59.5 689.1H67.7" stroke="#4a4a4a" stroke-width="1.3"/>
<rect x="67.7" y="896.9" width="219.4" height="185.2" fill="#fff"/>
<path d="M67.7 1053.1H287.1M67.7 1010.9H287.1M67.7 968.8H287.1M67.7 926.6H287.1" stroke="#f2f2f2" stroke-width="0.6" fill="none"/>
<path d="M67.7 1074.2H287.1M67.7 1032H287.1M67.7 989.9H287.1M67.7 947.7H287.1M67.7 905.6H287.1M78.1 896.9V1082.1M96.1 896.9V1082.1M114.1 896.9V1082.1M132.2 896.9V1082.1M150.2 896.9V1082.1M168.2 896.9V1082.1M186.2 896.9V1082.1M204.2 896.9V1082.1M222.3 896.9V1082.1M240.3 896.9V1082.1M258.3 896.9V1082.1M276.3 896.9V1082.1" stroke="#e6e6e6" stroke-width="1" fill="none"/>
<g class="L" transform="translate(78.1 989.9) scale(18.0200 -0.8430)" stroke-opacity="0.100">
<path d="M0 3 1 5 2 3 3 2 4 -2 5 -1 6 0 7 0 8 0 9 -5 10 1 11 -2"/>
<path d="M0 7 1 3 2 3 3 1 4 -1 5 5 6 -7 7 -9 8 -9 9 -1 10 0 11 -4"/>
<path d="M0 1 1 0 2 3 3 4 4 -4 5 -6 6 -3 7 1 8 -6 9 2 10 2 11 0"/>
<path d="M0 15 1 7 2 7 3 8 4 6 5 8 6 -7 7 -7 8 -7 9 1 10 7 11 5"/>
<path d="M0 7 1 7 2 5 3 6 4 1 5 14 6 1 7 -1 8 1 9 -2 10 0 11 1"/>
<path d="M0 13 1 13 2 21 3 -14 4 -10 5 -18 6 -13 7 -10 8 -6 9 4 10 1 11 4"/>
<path d="M0 18 1 14 2 12 3 3 4 1 5 -2 6 -7 7 -11 8 -5 9 5 10 14 11 7"/>
<path d="M0 5 1 6 2 1 3 2 4 -10 5 3 6 -9 7 -8 8 -10 9 14 10 13 11 10"/>
<path d="M0 9 1 13 2 13 3 -4 4 -7 5 -4 6 -11 7 -8 8 -9 9 -3 10 3 11 4"/>
<path d="M0 7 1 7 2 6 3 3 4 4 5 -2 6 -4 7 0 8 -3 9 -3 10 -6 11 -3"/>
<path d="M0 8 1 3 2 3 3 9 4 3 5 8 6 -4 7 -3 8 -1 9 -4 10 -5 11 -11"/>
<path d="M0 5 1 6 2 5 3 -16 4 -2 5 -1 6 -6 7 -3 8 -1 9 3 10 5 11 3"/>
<path d="M0 8 1 13 2 9 3 -3 4 -2 5 -4 6 -6 7 -8 8 -5 9 4 10 9 11 7"/>
<path d="M0 14 1 20 2 13 3 -3 4 3 5 -2 6 -13 7 -16 8 -17 9 3 10 6 11 -1"/>
<path d="M0 10 1 10 2 7 3 1 4 -1 5 0 6 -3 7 -6 8 -3 9 -2 10 3 11 -1"/>
<path d="M0 10 1 4 2 1 3 4 4 2 5 1 6 -3 7 -2 8 -2 9 -5 10 -2 11 -3"/>
<path d="M0 11 1 10 2 8 3 -4 4 -4 5 -3 6 -13 7 -10 8 -9 9 1 10 2 11 3"/>
<path d="M0 13 1 14 2 20 3 -4 4 -6 5 -5 6 -14 7 -2 8 -5 9 -3 10 1 11 4"/>
<path d="M0 13 1 9 2 13 3 0 4 1 5 0 6 -7 7 -5 8 -3 9 5 10 7 11 3"/>
<path d="M0 5 1 7 2 3 3 2 4 3 5 5 6 -6 7 -3 8 -7 9 0 10 1 11 1"/>
<path d="M0 16 1 12 2 5 3 -10 4 -12 5 -10 6 -11 7 -13 8 -21 9 17 10 19 11 14"/>
<path d="M0 3 1 4 2 4 3 5 4 -2 5 0 6 -5 7 -4 8 -3 9 -2 10 -1 11 -2"/>
<path d="M0 10 1 12 2 5 3 -3 4 2 5 4 6 -3 7 -1 8 0 9 -3 10 -3 11 -3"/>
<path d="M0 1 1 -2 2 -2 3 7 4 0 5 1 6 5 7 4 8 9 9 -1 10 4 11 -2"/>
<path d="M0 7 1 10 2 6 3 4 4 1 5 1 6 -9 7 -6 8 -2 9 -4 10 0 11 -1"/>
<path d="M0 10 1 14 2 6 3 3 4 2 5 3 6 -13 7 -17 8 -6 9 -2 10 5 11 -4"/>
<path d="M0 14 1 8 2 5 3 0 4 -1 5 -1 6 1 7 3 8 2 9 -10 10 -5 11 -11"/>
<path d="M0 24 1 10 2 16 3 -10 4 -6 5 -12 6 -2 7 -6 8 -6 9 6 10 14 11 1"/>
<path d="M0 -3 1 -4 2 -5 3 4 4 3 5 0 6 3 7 5 8 5 9 -10 10 -6 11 -7"/>
<path d="M0 11 1 3 2 6 3 -6 4 -7 5 -8 6 -12 7 -11 8 -8 9 5 10 3 11 3"/>
<path d="M0 13 1 7 2 10 3 -4 4 -4 5 0 6 -1 7 -1 8 -3 9 0 10 -2 11 0"/>
<path d="M0 6 1 -4 2 2 3 5 4 3 5 0 6 -13 7 -7 8 -9 9 0 10 6 11 -2"/>
<path d="M0 12 1 14 2 9 3 1 4 -3 5 -1 6 -7 7 -5 8 -8 9 6 10 7 11 7"/>
<path d="M0 5 1 11 2 13 3 3 4 3 5 -3 6 -1 7 0 8 1 9 -5 10 -3 11 -5"/>
<path d="M0 4 1 1 2 -3 3 1 4 0 5 1 6 -1 7 -2 8 5 9 -2 10 -8 11 -9"/>
<path d="M0 13 1 3 2 10 3 3 4 -1 5 1 6 -2 7 -2 8 0 9 4 10 5 11 1"/>
<path d="M0 5 1 3 2 1 3 1 4 -2 5 -1 6 0 7 0 8 1 9 0 10 1 11 -1"/>
<path d="M0 8 1 6 2 5 3 5 4 4 5 6 6 -5 7 -2 8 -1 9 -2 10 0 11 -3"/>
<path d="M0 5 1 3 2 3 3 6 4 1 5 3 6 -7 7 0 8 -4 9 0 10 1 11 -6"/>
<path d="M0 5 1 7 2 10 3 1 4 -1 5 1 6 -9 7 -11 8 -7 9 1 10 2 11 0"/>
<path d="M0 10 1 2 2 1 3 0 4 3 5 -1 6 0 7 -5 8 -1 9 -6 10 -4 11 -3"/>
<path d="M0 9 1 6 2 4 3 -3 4 -6 5 -3 6 -4 7 6 8 2 9 -4 10 0 11 1"/>
<path d="M0 12 1 4 2 3 3 1 4 -4 5 -5 6 -1 7 3 8 1 9 5 10 0 11 3"/>
<path d="M0 12 1 6 2 13 3 -5 4 -4 5 -2 6 -8 7 -8 8 -15 9 -5 10 3 11 -3"/>
<path d="M0 13 1 14 2 14 3 -3 4 -1 5 -5 6 -5 7 -7 8 -4 9 3 10 5 11 5"/>
<path d="M0 11 1 19 2 11 3 -4 4 -8 5 -7 6 -14 7 -10 8 -9 9 -1 10 3 11 0"/>
<path d="M0 9 1 7 2 10 3 1 4 2 5 3 6 -1 7 -3 8 3 9 -9 10 -4 11 -5"/>
<path d="M0 10 1 7 2 15 3 -2 4 -6 5 -8 6 -3 7 4 8 0 9 -3 10 1 11 -6"/>
<path d="M0 5 1 5 2 0 3 0 4 -3 5 -1 6 -2 7 1 8 -3 9 -3 10 -2 11 -1"/>
<path d="M0 8 1 9 2 6 3 4 4 3 5 2 6 -2 7 -4 8 -3 9 1 10 4 11 1"/>
<path d="M0 4 1 13 2 4 3 0 4 -5 5 -2 6 -5 7 -6 8 0 9 0 10 1 11 4"/>
<path d="M0 8 1 6 2 2 3 3 4 2 5 4 6 3 7 3 8 5 9 -7 10 -3 11 -4"/>
<path d="M0 10 1 9 2 4 3 -6 4 -8 5 -6 6 -4 7 -7 8 -5 9 7 10 10 11 9"/>
<path d="M0 9 1 5 2 5 3 -1 4 -1 5 0 6 -2 7 -2 8 0 9 9 10 3 11 6"/>
<path d="M0 6 1 8 2 9 3 1 4 -5 5 0 6 -6 7 -4 8 -2 9 1 10 5 11 3"/>
<path d="M0 5 1 4 2 2 3 -4 4 -3 5 -5 6 -7 7 -5 8 -6 9 3 10 -1 11 0"/>
<path d="M0 3 1 1 2 3 3 -3 4 -3 5 1 6 -10 7 -7 8 -8 9 2 10 5 11 3"/>
<path d="M0 4 1 6 2 4 3 2 4 -2 5 1 6 1 7 0 8 -3 9 -1 10 3 11 -1"/>
<path d="M0 8 1 11 2 10 3 -1 4 -4 5 -1 6 -4 7 -5 8 -6 9 -3 10 3 11 9"/>
<path d="M0 16 1 16 2 1 3 1 4 -6 5 -4 6 -6 7 -10 8 -8 9 -2 10 8 11 3"/>
<path d="M0 8 1 9 2 5 3 -5 4 -5 5 -2 6 -32 7 -6 8 -4 9 1 10 7 11 -1"/>
<path d="M0 8 1 7 2 4 3 -4 4 -1 5 -2 6 -8 7 -9 8 -3 9 3 10 1 11 1"/>
<path d="M0 7 1 -1 2 2 3 6 4 12 5 8 6 7 7 -3 8 -4 9 -9 10 -5 11 -15"/>
<path d="M0 6 1 12 2 8 3 0 4 0 5 -3 6 -5 7 -4 8 -4 9 -3 10 1 11 -1"/>
<path d="M0 7 1 7 2 9 3 2 4 -4 5 0 6 -17 7 -3 8 -1 9 -5 10 1 11 -5"/>
<path d="M0 7 1 9 2 8 3 4 4 -3 5 2 6 -4 7 1 8 -1 9 2 10 4 11 3"/>
<path d="M0 1 1 2 2 -2 3 1 4 3 5 -1 6 9 7 6 8 3 9 -19 10 -12 11 -5"/>
<path d="M0 5 1 12 2 14 3 -12 4 -15 5 -10 6 -7 7 -5 8 -2 9 6 10 4 11 4"/>
<path d="M0 2 1 5 2 1 3 9 4 10 5 8 6 2 7 3 8 7 9 -11 10 -7 11 -10"/>
<path d="M0 11 1 6 2 7 3 3 4 -7 5 -3 6 -5 7 -8 8 -10 9 3 10 8 11 5"/>
<path d="M0 10 1 5 2 4 3 3 4 -4 5 -7 6 -5 7 -4 8 -6 9 0 10 2 11 5"/>
<path d="M0 11 1 13 2 15 3 1 4 -1 5 -6 6 -5 7 -6 8 -2 9 -1 10 5 11 1"/>
<path d="M0 1 1 0 2 2 3 2 4 2 5 3 6 -2 7 0 8 -1 9 -7 10 -2 11 -2"/>
<path d="M0 10 1 10 2 10 3 -4 4 -5 5 0 6 -11 7 -4 8 -9 9 0 10 3 11 3"/>
<path d="M0 8 1 14 2 6 3 -1 4 -6 5 -9 6 -9 7 -1 8 -10 9 -3 10 3 11 6"/>
<path d="M0 5 1 16 2 10 3 1 4 0 5 1 6 -10 7 -9 8 -4 9 -1 10 7 11 2"/>
<path d="M0 0 1 -1 2 2 3 2 4 -4 5 -2 6 -9 7 -4 8 -10 9 0 10 0 11 -3"/>
<path d="M0 9 1 10 2 10 3 -1 4 -6 5 -3 6 -8 7 -9 8 -12 9 7 10 5 11 9"/>
<path d="M0 4 1 5 2 3 3 7 4 1 5 4 6 2 7 4 8 1 9 -5 10 -3 11 -7"/>
<path d="M0 8 1 8 2 5 3 11 4 4 5 4 6 3 7 5 8 8 9 -3 10 -7 11 -1"/>
<path d="M0 12 1 11 2 6 3 6 4 -2 5 2 6 -23 7 -4 8 -3 9 -7 10 2 11 -3"/>
<path d="M0 16 1 20 2 15 3 1 4 -6 5 -4 6 -4 7 -8 8 -11 9 1 10 0 11 5"/>
<path d="M0 0 1 7 2 9 3 -4 4 -7 5 -6 6 -3 7 2 8 -3 9 -7 10 5 11 -2"/>
<path d="M0 11 1 9 2 4 3 -2 4 -10 5 -7 6 -12 7 -8 8 -13 9 5 10 6 11 7"/>
<path d="M0 5 1 5 2 3 3 8 4 10 5 12 6 3 7 -2 8 0 9 -11 10 -4 11 1"/>
<path d="M0 5 1 7 2 12 3 -5 4 -8 5 -2 6 -4 7 -3 8 -2 9 3 10 5 11 0"/>
<path d="M0 4 1 2 2 0 3 -9 4 1 5 4 6 -4 7 -3 8 -2 9 -3 10 -4 11 -6"/>
<path d="M0 8 1 5 2 5 3 6 4 4 5 11 6 -12 7 -7 8 -7 9 0 10 6 11 -1"/>
<path d="M0 2 1 0 2 2 3 -5 4 -7 5 -4 6 -6 7 0 8 -4 9 -9 10 -5 11 -3"/>
<path d="M0 3 1 4 2 1 3 3 4 -1 5 -1 6 6 7 1 8 3 9 -1 10 -5 11 -4"/>
<path d="M0 11 1 4 2 13 3 -1 4 -2 5 2 6 -6 7 -5 8 -5 9 5 10 4 11 -1"/>
<path d="M0 7 1 1 2 2 3 -3 4 -4 5 -7 6 -5 7 -2 8 -5 9 -15 10 -9 11 -8"/>
<path d="M0 9 1 10 2 5 3 3 4 4 5 4 6 -3 7 -2 8 -3 9 -2 10 2 11 1"/>
<path d="M0 13 1 14 2 19 3 -4 4 -7 5 -2 6 -10 7 -3 8 1 9 12 10 11 11 10"/>
<path d="M0 9 1 12 2 8 3 0 4 -1 5 0 6 -10 7 -6 8 -7 9 -2 10 3 11 -3"/>
<path d="M0 3 1 2 2 0 3 5 4 0 5 1 6 -2 7 -2 8 1 9 -7 10 0 11 -2"/>
<path d="M0 5 1 5 2 5 3 3 4 2 5 -3 6 -2 7 1 8 1 9 -4 10 4 11 -2"/>
<path d="M0 9 1 10 2 12 3 -1 4 5 5 5 6 -8 7 1 8 1 9 -1 10 -7 11 -10"/>
<path d="M0 3 1 8 2 4 3 -1 4 -8 5 -2 6 -7 7 -9 8 -6 9 8 10 5 11 5"/>
<path d="M0 10 1 5 2 10 3 2 4 1 5 2 6 -2 7 2 8 -2 9 1 10 1 11 -3"/>
<path d="M0 7 1 9 2 7 3 -4 4 -8 5 -9 6 -4 7 -6 8 -7 9 -4 10 5 11 0"/>
<path d="M0 6 1 6 2 2 3 2 4 -3 5 0 6 -3 7 -1 8 -1 9 -2 10 3 11 2"/>
<path d="M0 12 1 12 2 6 3 -3 4 -12 5 -10 6 5 7 0 8 4 9 2 10 2 11 -2"/>
<path d="M0 8 1 7 2 5 3 2 4 0 5 0 6 -3 7 -2 8 0 9 -1 10 1 11 1"/>
<path d="M0 6 1 6 2 6 3 3 4 2 5 5 6 -3 7 -3 8 1 9 -2 10 -3 11 -6"/>
<path d="M0 17 1 19 2 16 3 -8 4 -10 5 -8 6 -26 7 -9 8 -10 9 5 10 3 11 9"/>
<path d="M0 5 1 4 2 3 3 0 4 -2 5 0 6 -6 7 -6 8 -5 9 -4 10 1 11 2"/>
<path d="M0 6 1 5 2 4 3 7 4 2 5 3 6 -7 7 -2 8 -5 9 -7 10 -4 11 -5"/>
<path d="M0 -8 1 0 2 -1 3 6 4 9 5 6 6 -2 7 1 8 -2 9 -8 10 -6 11 -10"/>
<path d="M0 0 1 -1 2 1 3 5 4 -4 5 2 6 -3 7 -3 8 0 9 2 10 1 11 -1"/>
<path d="M0 -6 1 -2 2 -2 3 4 4 -2 5 6 6 7 7 12 8 6 9 -6 10 1 11 3"/>
<path d="M0 -4 1 3 2 -2 3 7 4 8 5 6 6 5 7 4 8 4 9 -12 10 -3 11 0"/>
<path d="M0 5 1 6 2 3 3 2 4 -4 5 1 6 -3 7 -3 8 -3 9 -4 10 0 11 -5"/>
<path d="M0 10 1 9 2 9 3 -1 4 -1 5 0 6 -8 7 -7 8 -3 9 0 10 6 11 5"/>
<path d="M0 19 1 8 2 9 3 -6 4 -3 5 -10 6 -18 7 -11 8 -11 9 -2 10 8 11 8"/>
<path d="M0 7 1 7 2 6 3 2 4 0 5 2 6 -7 7 -7 8 -8 9 -8 10 -5 11 -4"/>
<path d="M0 6 1 4 2 3 3 1 4 -3 5 -4 6 -2 7 -1 8 -4 9 0 10 3 11 4"/>
<path d="M0 6 1 6 2 4 3 5 4 5 5 5 6 -1 7 -3 8 0 9 -5 10 0 11 -2"/>
<path d="M0 3 1 1 2 -1 3 6 4 8 5 6 6 -7 7 0 8 -4 9 -1 10 1 11 1"/>
<path d="M0 10 1 10 2 10 3 -6 4 0 5 -2 6 -11 7 -9 8 -9 9 3 10 3 11 -1"/>
<path d="M0 16 1 11 2 13 3 -3 4 -5 5 -1 6 -6 7 -11 8 -6 9 -5 10 -1 11 -1"/>
<path d="M0 5 1 10 2 9 3 6 4 4 5 3 6 1 7 -1 8 0 9 -4 10 -6 11 -5"/>
<path d="M0 13 1 9 2 6 3 -3 4 -8 5 -7 6 -12 7 -8 8 -8 9 1 10 2 11 5"/>
<path d="M0 23 1 26 2 25 3 -15 4 -12 5 -13 6 -23 7 -22 8 -22 9 16 10 19 11 18"/>
<path d="M0 1 1 5 2 2 3 8 4 7 5 6 6 -10 7 -1 8 -3 9 0 10 -3 11 0"/>
<path d="M0 8 1 8 2 9 3 9 4 8 5 6 6 -6 7 -7 8 -4 9 -8 10 -6 11 -9"/>
<path d="M0 8 1 5 2 5 3 2 4 -2 5 -2 6 -1 7 -3 8 -5 9 0 10 5 11 0"/>
<path d="M0 14 1 14 2 34 3 3 4 -5 5 -1 6 -8 7 -4 8 -4 9 -4 10 0 11 0"/>
<path d="M0 4 1 10 2 8 3 0 4 3 5 0 6 -16 7 -8 8 -11 9 -3 10 -3 11 -3"/>
<path d="M0 10 1 9 2 10 3 1 4 1 5 2 6 -6 7 -2 8 0 9 -10 10 2 11 0"/>
<path d="M0 5 1 6 2 10 3 4 4 5 5 5 6 -5 7 1 8 2 9 5 10 2 11 0"/>
<path d="M0 7 1 5 2 6 3 3 4 1 5 3 6 -1 7 4 8 4 9 -5 10 -4 11 -3"/>
<path d="M0 0 1 -3 2 -3 3 1 4 2 5 3 6 -3 7 -6 8 -7 9 2 10 3 11 -1"/>
<path d="M0 10 1 11 2 11 3 -2 4 -1 5 -2 6 0 7 2 8 -1 9 -3 10 -2 11 2"/>
<path d="M0 16 1 7 2 11 3 0 4 -4 5 0 6 -2 7 -3 8 -7 9 3 10 3 11 5"/>
<path d="M0 1 1 3 2 2 3 -5 4 -4 5 -2 6 -5 7 -2 8 -4 9 -6 10 0 11 -6"/>
<path d="M0 14 1 16 2 9 3 -2 4 -6 5 -5 6 -10 7 -9 8 -8 9 7 10 11 11 8"/>
<path d="M0 6 1 6 2 4 3 2 4 -2 5 0 6 -2 7 -1 8 -1 9 -1 10 -2 11 -6"/>
<path d="M0 6 1 8 2 6 3 -15 4 -2 5 0 6 -3 7 0 8 1 9 -5 10 2 11 -2"/>
<path d="M0 1 1 -3 2 1 3 7 4 3 5 5 6 -3 7 0 8 6 9 0 10 5 11 -3"/>
<path d="M0 8 1 8 2 5 3 1 4 -1 5 1 6 -4 7 -2 8 -5 9 0 10 4 11 2"/>
<path d="M0 16 1 15 2 16 3 -8 4 -4 5 2 6 -21 7 -13 8 -8 9 6 10 10 11 9"/>
<path d="M0 6 1 4 2 4 3 4 4 1 5 1 6 -9 7 -7 8 -4 9 -4 10 -4 11 -4"/>
<path d="M0 9 1 2 2 3 3 4 4 3 5 0 6 -4 7 -1 8 2 9 -1 10 0 11 -1"/>
<path d="M0 1 1 1 2 4 3 3 4 3 5 5 6 -4 7 -4 8 1 9 -1 10 -2 11 -5"/>
<path d="M0 -2 1 8 2 0 3 3 4 -2 5 -1 6 -12 7 -7 8 -9 9 3 10 -3 11 2"/>
<path d="M0 12 1 10 2 7 3 1 4 -2 5 -2 6 -7 7 -4 8 -3 9 -5 10 -2 11 -2"/>
<path d="M0 5 1 4 2 5 3 -15 4 -3 5 -1 6 -3 7 1 8 -2 9 -3 10 -1 11 0"/>
<path d="M0 4 1 16 2 18 3 -1 4 -4 5 -11 6 -15 7 2 8 -18 9 2 10 6 11 7"/>
<path d="M0 12 1 12 2 6 3 -8 4 -5 5 -6 6 -14 7 -3 8 -5 9 12 10 14 11 33"/>
<path d="M0 14 1 12 2 8 3 -5 4 -10 5 -5 6 -15 7 -11 8 -16 9 5 10 10 11 9"/>
<path d="M0 10 1 9 2 8 3 -1 4 -2 5 -6 6 -7 7 -2 8 -5 9 4 10 1 11 -5"/>
<path d="M0 5 1 6 2 2 3 0 4 -1 5 -3 6 -10 7 -4 8 -7 9 2 10 4 11 3"/>
<path d="M0 17 1 9 2 7 3 9 4 8 5 6 6 -8 7 -3 8 -9 9 1 10 0 11 -5"/>
<path d="M0 7 1 9 2 5 3 -12 4 -6 5 -9 6 -1 7 -5 8 -8 9 4 10 5 11 -2"/>
<path d="M0 9 1 13 2 12 3 1 4 0 5 5 6 5 7 8 8 5 9 2 10 0 11 -5"/>
<path d="M0 2 1 8 2 5 3 -2 4 -3 5 1 6 -2 7 3 8 2 9 -5 10 -3 11 -4"/>
<path d="M0 17 1 14 2 10 3 -3 4 -5 5 -3 6 -8 7 -4 8 0 9 3 10 3 11 3"/>
<path d="M0 9 1 6 2 8 3 -1 4 -4 5 -5 6 -1 7 3 8 2 9 1 10 6 11 3"/>
<path d="M0 13 1 8 2 8 3 -7 4 -11 5 -10 6 -8 7 -7 8 -8 9 3 10 7 11 1"/>
<path d="M0 15 1 25 2 19 3 -17 4 -17 5 -9 6 -15 7 -6 8 -7 9 14 10 13 11 15"/>
<path d="M0 2 1 -3 2 -2 3 6 4 2 5 5 6 -5 7 -2 8 0 9 -5 10 -2 11 -7"/>
<path d="M0 7 1 9 2 13 3 -20 4 -6 5 -4 6 -13 7 -14 8 -15 9 2 10 3 11 4"/>
<path d="M0 9 1 15 2 11 3 -13 4 0 5 -4 6 -17 7 -11 8 -11 9 9 10 11 11 2"/>
<path d="M0 14 1 10 2 11 3 1 4 -2 5 -1 6 -3 7 -7 8 1 9 0 10 2 11 3"/>
<path d="M0 10 1 9 2 11 3 3 4 -4 5 -2 6 -10 7 -1 8 1 9 6 10 10 11 3"/>
<path d="M0 16 1 7 2 13 3 -1 4 -1 5 -9 6 -10 7 -1 8 -10 9 0 10 -6 11 -7"/>
<path d="M0 4 1 8 2 -4 3 6 4 5 5 1 6 -6 7 0 8 -1 9 -8 10 -8 11 -2"/>
<path d="M0 6 1 10 2 8 3 0 4 -2 5 0 6 -4 7 -3 8 -5 9 -4 10 1 11 -6"/>
<path d="M0 6 1 5 2 4 3 0 4 -2 5 -1 6 -25 7 0 8 1 9 -3 10 1 11 -1"/>
<path d="M0 8 1 1 2 3 3 10 4 3 5 2 6 3 7 4 8 4 9 -7 10 -2 11 -5"/>
<path d="M0 7 1 14 2 5 3 3 4 0 5 4 6 -8 7 -5 8 -5 9 5 10 3 11 7"/>
<path d="M0 12 1 13 2 14 3 -10 4 -7 5 -8 6 -4 7 -4 8 -4 9 -2 10 2 11 1"/>
<path d="M0 7 1 5 2 4 3 2 4 2 5 2 6 1 7 1 8 0 9 -2 10 -1 11 -2"/>
<path d="M0 10 1 6 2 3 3 3 4 1 5 2 6 -3 7 0 8 -3 9 2 10 -2 11 0"/>
<path d="M0 7 1 5 2 4 3 3 4 -2 5 -1 6 -10 7 -4 8 0 9 -1 10 5 11 3"/>
<path d="M0 14 1 13 2 11 3 0 4 -2 5 -2 6 -10 7 -6 8 -4 9 0 10 5 11 4"/>
<path d="M0 14 1 14 2 8 3 1 4 0 5 0 6 -7 7 -5 8 -4 9 8 10 13 11 3"/>
<path d="M0 -1 1 1 2 -3 3 4 4 2 5 0 6 0 7 6 8 4 9 -5 10 -1 11 -4"/>
<path d="M0 6 1 5 2 6 3 5 4 -4 5 7 6 -2 7 -1 8 -1 9 -7 10 1 11 -7"/>
<path d="M0 11 1 10 2 14 3 0 4 -2 5 3 6 -2 7 0 8 2 9 -4 10 -1 11 -1"/>
<path d="M0 17 1 19 2 8 3 3 4 0 5 3 6 -10 7 -12 8 -11 9 4 10 8 11 5"/>
<path d="M0 4 1 2 2 -4 3 7 4 5 5 6 6 1 7 -1 8 1 9 -7 10 -1 11 -3"/>
<path d="M0 3 1 4 2 2 3 4 4 0 5 1 6 0 7 2 8 0 9 -3 10 -3 11 -2"/>
<path d="M0 2 1 5 2 0 3 0 4 -2 5 8 6 -4 7 1 8 0 9 0 10 -2 11 4"/>
<path d="M0 12 1 14 2 11 3 1 4 -1 5 2 6 -30 7 -5 8 -7 9 -1 10 2 11 -1"/>
<path d="M0 9 1 2 2 6 3 5 4 3 5 0 6 -2 7 -6 8 -8 9 1 10 5 11 3"/>
<path d="M0 15 1 10 2 7 3 -28 4 -10 5 -6 6 -14 7 -16 8 -14 9 1 10 5 11 6"/>
<path d="M0 7 1 2 2 3 3 -2 4 -9 5 -2 6 -9 7 -6 8 -11 9 5 10 1 11 6"/>
<path d="M0 5 1 5 2 8 3 0 4 -8 5 4 6 4 7 0 8 7 9 2 10 1 11 -6"/>
<path d="M0 13 1 14 2 4 3 -1 4 -1 5 4 6 -24 7 -1 8 -8 9 -14 10 -9 11 -4"/>
<path d="M0 1 1 2 2 -2 3 -2 4 -4 5 -1 6 -9 7 -6 8 -10 9 0 10 1 11 -1"/>
<path d="M0 1 1 3 2 -4 3 8 4 5 5 7 6 1 7 2 8 4 9 -10 10 -6 11 -7"/>
<path d="M0 0 1 2 2 -5 3 7 4 8 5 3 6 6 7 12 8 4 9 -9 10 5 11 0"/>
<path d="M0 2 1 3 2 -1 3 -5 4 -3 5 -4 6 -1 7 1 8 2 9 -3 10 3 11 -8"/>
<path d="M0 11 1 9 2 9 3 -1 4 -4 5 -5 6 -29 7 -9 8 -9 9 2 10 3 11 0"/>
<path d="M0 8 1 5 2 13 3 1 4 0 5 -6 6 -8 7 -17 8 -9 9 7 10 4 11 2"/>
<path d="M0 2 1 10 2 2 3 -6 4 -10 5 -6 6 -22 7 1 8 -1 9 3 10 9 11 6"/>
<path d="M0 2 1 4 2 4 3 -13 4 2 5 2 6 -23 7 -5 8 -1 9 -2 10 3 11 2"/>
<path d="M0 15 1 16 2 5 3 4 4 4 5 3 6 -15 7 -21 8 -17 9 6 10 0 11 5"/>
<path d="M0 2 1 7 2 3 3 7 4 0 5 0 6 9 7 8 8 9 9 2 10 3 11 8"/>
<path d="M0 2 1 5 2 0 3 4 4 3 5 3 6 2 7 2 8 -1 9 -5 10 -4 11 -5"/>
<path d="M0 10 1 9 2 12 3 4 4 -1 5 5 6 -4 7 -9 8 -3 9 6 10 3 11 3"/>
<path d="M0 2 1 5 2 5 3 3 4 2 5 4 6 -2 7 2 8 0 9 -5 10 -2 11 -1"/>
<path d="M0 13 1 10 2 10 3 8 4 4 5 5 6 -6 7 -5 8 -3 9 -7 10 -1 11 -6"/>
<path d="M0 16 1 16 2 18 3 -3 4 -4 5 0 6 -16 7 -11 8 -13 9 10 10 9 11 1"/>
<path d="M0 8 1 7 2 7 3 0 4 -4 5 -1 6 -7 7 -5 8 -1 9 2 10 1 11 2"/>
<path d="M0 5 1 -2 2 0 3 3 4 3 5 2 6 -4 7 0 8 -1 9 -7 10 -5 11 -6"/>
<path d="M0 10 1 11 2 10 3 0 4 -5 5 -1 6 -5 7 -4 8 -2 9 2 10 4 11 4"/>
<path d="M0 3 1 6 2 4 3 -7 4 -5 5 -1 6 2 7 -4 8 -3 9 1 10 1 11 -2"/>
<path d="M0 2 1 13 2 9 3 3 4 -3 5 -2 6 -3 7 -5 8 -1 9 -3 10 0 11 -3"/>
<path d="M0 8 1 5 2 8 3 2 4 -3 5 -2 6 -7 7 -4 8 -3 9 8 10 2 11 6"/>
<path d="M0 3 1 7 2 4 3 5 4 4 5 3 6 -8 7 -2 8 1 9 -7 10 -7 11 -4"/>
<path d="M0 4 1 4 2 5 3 1 4 -1 5 1 6 -3 7 -1 8 -2 9 -5 10 -1 11 -2"/>
<path d="M0 13 1 14 2 7 3 -3 4 -6 5 -5 6 -7 7 -7 8 -8 9 0 10 7 11 3"/>
<path d="M0 6 1 7 2 7 3 -3 4 -6 5 -3 6 3 7 4 8 -1 9 2 10 1 11 3"/>
<path d="M0 13 1 12 2 14 3 -3 4 -4 5 -4 6 -9 7 -10 8 -7 9 7 10 11 11 4"/>
<path d="M0 13 1 11 2 11 3 5 4 2 5 3 6 -4 7 -2 8 -1 9 -3 10 1 11 1"/>
<path d="M0 5 1 8 2 5 3 -2 4 -1 5 -5 6 -1 7 -8 8 -5 9 -6 10 -2 11 -5"/>
<path d="M0 5 1 5 2 5 3 5 4 0 5 0 6 -1 7 1 8 -2 9 -2 10 -2 11 -3"/>
<path d="M0 11 1 8 2 10 3 7 4 3 5 7 6 -1 7 0 8 0 9 -9 10 -6 11 -3"/>
<path d="M0 5 1 3 2 6 3 -1 4 -3 5 -4 6 -1 7 -6 8 0 9 10 10 -1 11 0"/>
<path d="M0 4 1 8 2 8 3 7 4 1 5 -1 6 1 7 3 8 4 9 -5 10 -10 11 1"/>
<path d="M0 6 1 11 2 7 3 -6 4 -10 5 -7 6 -15 7 -13 8 -11 9 2 10 3 11 7"/>
<path d="M0 11 1 13 2 10 3 1 4 -2 5 0 6 -11 7 -6 8 -9 9 5 10 9 11 5"/>
<path d="M0 9 1 6 2 7 3 4 4 -3 5 0 6 3 7 -2 8 -1 9 -2 10 -3 11 0"/>
<path d="M0 2 1 2 2 -1 3 8 4 2 5 7 6 0 7 2 8 4 9 -4 10 -1 11 -7"/>
<path d="M0 8 1 9 2 6 3 0 4 0 5 0 6 -2 7 -2 8 -2 9 -3 10 -1 11 -1"/>
<path d="M0 8 1 7 2 8 3 0 4 -2 5 -1 6 -5 7 -2 8 -2 9 4 10 4 11 9"/>
<path d="M0 9 1 5 2 9 3 7 4 9 5 9 6 -2 7 -2 8 -3 9 -4 10 3 11 1"/>
<path d="M0 5 1 6 2 9 3 5 4 5 5 5 6 -2 7 -2 8 2 9 1 10 4 11 -1"/>
<path d="M0 2 1 4 2 5 3 5 4 4 5 5 6 -7 7 -3 8 -6 9 0 10 -4 11 0"/>
<path d="M0 8 1 5 2 3 3 4 4 1 5 7 6 3 7 3 8 5 9 -8 10 -3 11 -8"/>
<path d="M0 4 1 5 2 2 3 2 4 0 5 3 6 -4 7 -5 8 -4 9 -2 10 2 11 3"/>
<path d="M0 7 1 6 2 4 3 4 4 0 5 3 6 -3 7 -3 8 -3 9 -2 10 5 11 3"/>
<path d="M0 5 1 15 2 3 3 -1 4 4 5 0 6 2 7 3 8 5 9 -8 10 -5 11 -18"/>
<path d="M0 16 1 11 2 10 3 2 4 -1 5 -3 6 -4 7 -2 8 -3 9 -1 10 0 11 3"/>
<path d="M0 14 1 11 2 10 3 4 4 1 5 0 6 -8 7 2 8 8 9 -7 10 -4 11 -5"/>
<path d="M0 5 1 3 2 1 3 8 4 5 5 4 6 -18 7 3 8 4 9 -2 10 1 11 1"/>
<path d="M0 10 1 8 2 5 3 0 4 -2 5 -1 6 -7 7 -17 8 -4 9 1 10 4 11 5"/>
<path d="M0 12 1 11 2 10 3 1 4 -2 5 -2 6 -6 7 -8 8 -8 9 2 10 4 11 -6"/>
<path d="M0 7 1 5 2 8 3 1 4 -1 5 -2 6 -4 7 -2 8 -6 9 1 10 2 11 -3"/>
<path d="M0 5 1 11 2 7 3 -22 4 -2 5 -10 6 -4 7 -2 8 -1 9 -2 10 0 11 0"/>
<path d="M0 5 1 4 2 2 3 -1 4 -4 5 -2 6 0 7 4 8 -1 9 -2 10 3 11 1"/>
<path d="M0 0 1 -4 2 -2 3 4 4 3 5 5 6 -2 7 8 8 3 9 -12 10 -14 11 -13"/>
<path d="M0 -3 1 8 2 -1 3 -7 4 -5 5 1 6 7 7 4 8 13 9 -11 10 -15 11 -15"/>
<path d="M0 13 1 17 2 12 3 -5 4 -3 5 -7 6 -7 7 -2 8 -8 9 0 10 1 11 -6"/>
<path d="M0 16 1 17 2 12 3 -1 4 -10 5 2 6 -13 7 -6 8 -10 9 -2 10 -4 11 3"/>
<path d="M0 7 1 7 2 8 3 -1 4 -4 5 -1 6 -4 7 -3 8 -6 9 2 10 6 11 2"/>
<path d="M0 19 1 18 2 13 3 -5 4 -13 5 -9 6 -10 7 -10 8 -7 9 10 10 9 11 11"/>
<path d="M0 9 1 10 2 7 3 4 4 -2 5 3 6 2 7 -4 8 2 9 -6 10 -2 11 -5"/>
<path d="M0 8 1 6 2 4 3 7 4 3 5 3 6 -2 7 2 8 0 9 -5 10 -5 11 -4"/>
<path d="M0 4 1 7 2 10 3 14 4 11 5 4 6 -1 7 10 8 5 9 -4 10 6 11 -4"/>
<path d="M0 17 1 15 2 13 3 -2 4 -4 5 -6 6 -13 7 -11 8 -3 9 -3 10 2 11 4"/>
<path d="M0 6 1 12 2 5 3 6 4 -2 5 -4 6 -6 7 -5 8 3 9 3 10 0 11 -1"/>
<path d="M0 17 1 12 2 11 3 -1 4 -3 5 -3 6 -3 7 -6 8 -4 9 -7 10 -5 11 -8"/>
<path d="M0 6 1 7 2 28 3 0 4 -2 5 -1 6 -6 7 -8 8 -3 9 -1 10 3 11 2"/>
<path d="M0 13 1 18 2 15 3 -5 4 -6 5 -2 6 -8 7 -9 8 -7 9 5 10 11 11 12"/>
<path d="M0 0 1 -3 2 4 3 0 4 -11 5 -1 6 -4 7 -2 8 -3 9 0 10 2 11 -3"/>
<path d="M0 12 1 14 2 10 3 -23 4 -8 5 -8 6 -20 7 -7 8 -7 9 2 10 8 11 7"/>
<path d="M0 14 1 9 2 12 3 -2 4 0 5 0 6 -6 7 -9 8 -6 9 3 10 -1 11 0"/>
<path d="M0 3 1 4 2 3 3 -2 4 -8 5 -5 6 -6 7 -11 8 -6 9 -5 10 1 11 2"/>
<path d="M0 -2 1 5 2 2 3 15 4 6 5 -1 6 -7 7 13 8 9 9 -16 10 -7 11 -15"/>
<path d="M0 12 1 5 2 8 3 3 4 -4 5 0 6 -4 7 -3 8 -3 9 1 10 5 11 4"/>
<path d="M0 2 1 4 2 0 3 3 4 -2 5 0 6 0 7 -3 8 -1 9 -5 10 -11 11 -7"/>
<path d="M0 1 1 4 2 0 3 3 4 -2 5 1 6 -8 7 -9 8 -8 9 -1 10 3 11 0"/>
<path d="M0 5 1 5 2 1 3 4 4 0 5 0 6 -1 7 1 8 -3 9 1 10 -1 11 -4"/>
<path d="M0 11 1 10 2 7 3 -3 4 -6 5 -7 6 -5 7 -4 8 0 9 3 10 6 11 2"/>
<path d="M0 8 1 7 2 4 3 1 4 0 5 1 6 -5 7 -4 8 -4 9 -1 10 1 11 0"/>
<path d="M0 11 1 9 2 8 3 -3 4 -6 5 -5 6 -7 7 -5 8 -4 9 4 10 4 11 5"/>
<path d="M0 9 1 8 2 5 3 -13 4 -10 5 -7 6 -9 7 -8 8 -5 9 12 10 7 11 8"/>
<path d="M0 7 1 6 2 1 3 7 4 1 5 2 6 -20 7 0 8 2 9 -4 10 0 11 -2"/>
<path d="M0 7 1 7 2 7 3 1 4 -2 5 -1 6 -2 7 -2 8 -3 9 -2 10 -3 11 -4"/>
<path d="M0 26 1 16 2 25 3 6 4 -10 5 2 6 -4 7 -8 8 6 9 -1 10 -3 11 7"/>
<path d="M0 12 1 11 2 8 3 -5 4 -4 5 -5 6 -11 7 -8 8 -6 9 4 10 2 11 9"/>
<path d="M0 6 1 10 2 10 3 2 4 -5 5 -2 6 -10 7 -3 8 0 9 2 10 -1 11 5"/>
<path d="M0 11 1 10 2 2 3 2 4 1 5 -8 6 -7 7 -4 8 -6 9 -2 10 -2 11 -2"/>
<path d="M0 7 1 10 2 2 3 -19 4 -1 5 0 6 -3 7 -3 8 -1 9 1 10 1 11 1"/>
<path d="M0 7 1 4 2 4 3 3 4 2 5 4 6 -2 7 -3 8 -5 9 -5 10 -3 11 -7"/>
<path d="M0 7 1 5 2 7 3 4 4 1 5 0 6 -2 7 0 8 1 9 -2 10 3 11 -1"/>
<path d="M0 6 1 5 2 4 3 -4 4 -5 5 -8 6 -4 7 -2 8 -5 9 -3 10 -2 11 -2"/>
<path d="M0 5 1 1 2 4 3 5 4 -3 5 3 6 -26 7 -5 8 0 9 -5 10 -5 11 -5"/>
<path d="M0 5 1 9 2 0 3 4 4 -2 5 4 6 -9 7 -9 8 -7 9 0 10 0 11 -1"/>
<path d="M0 14 1 9 2 11 3 -2 4 1 5 2 6 0 7 0 8 -1 9 -1 10 -3 11 -1"/>
<path d="M0 1 1 3 2 0 3 3 4 1 5 3 6 -4 7 -3 8 -2 9 -2 10 1 11 -4"/>
<path d="M0 12 1 1 2 -1 3 1 4 -11 5 2 6 -4 7 -2 8 -4 9 -6 10 -11 11 -10"/>
<path d="M0 14 1 26 2 7 3 -1 4 0 5 0 6 -5 7 -6 8 -4 9 1 10 1 11 3"/>
<path d="M0 10 1 9 2 16 3 1 4 -2 5 -2 6 -7 7 -7 8 -7 9 2 10 3 11 0"/>
<path d="M0 15 1 10 2 10 3 0 4 -4 5 -4 6 -14 7 -13 8 -6 9 8 10 8 11 6"/>
<path d="M0 6 1 3 2 4 3 -6 4 -5 5 0 6 -6 7 -4 8 -4 9 1 10 4 11 3"/>
<path d="M0 3 1 9 2 8 3 -1 4 -1 5 0 6 -13 7 -1 8 -8 9 0 10 3 11 1"/>
<path d="M0 4 1 16 2 11 3 3 4 -8 5 -9 6 -9 7 -5 8 -4 9 -4 10 -3 11 -7"/>
<path d="M0 1 1 2 2 3 3 -1 4 -1 5 -3 6 -3 7 -1 8 -1 9 1 10 -1 11 -4"/>
<path d="M0 16 1 12 2 15 3 -7 4 -7 5 -2 6 -12 7 -12 8 -8 9 16 10 11 11 15"/>
<path d="M0 10 1 8 2 3 3 2 4 -2 5 0 6 -1 7 0 8 0 9 -2 10 -1 11 -4"/>
<path d="M0 11 1 10 2 10 3 -2 4 -6 5 -2 6 -5 7 -1 8 -4 9 0 10 -1 11 -1"/>
<path d="M0 17 1 22 2 12 3 0 4 -5 5 5 6 -2 7 7 8 -4 9 -3 10 3 11 7"/>
<path d="M0 15 1 7 2 18 3 -5 4 -9 5 -5 6 1 7 -1 8 -4 9 5 10 1 11 0"/>
<path d="M0 4 1 2 2 6 3 -5 4 -1 5 0 6 -9 7 -6 8 -7 9 -8 10 -3 11 -5"/>
<path d="M0 11 1 10 2 8 3 -3 4 -4 5 -2 6 -6 7 -3 8 -4 9 2 10 5 11 2"/>
<path d="M0 5 1 3 2 0 3 0 4 0 5 2 6 -1 7 0 8 -2 9 -4 10 -3 11 -3"/>
<path d="M0 5 1 4 2 5 3 -11 4 -16 5 -18 6 -23 7 -13 8 -14 9 9 10 6 11 16"/>
<path d="M0 4 1 7 2 5 3 3 4 1 5 -1 6 -4 7 -1 8 -2 9 1 10 2 11 2"/>
<path d="M0 2 1 2 2 -3 3 7 4 6 5 9 6 3 7 5 8 2 9 -12 10 -11 11 -12"/>
<path d="M0 11 1 15 2 10 3 -3 4 -6 5 -2 6 -9 7 -4 8 -9 9 4 10 4 11 5"/>
<path d="M0 7 1 7 2 7 3 0 4 -2 5 1 6 -2 7 1 8 1 9 -1 10 0 11 -1"/>
<path d="M0 -3 1 -1 2 -4 3 9 4 5 5 11 6 -16 7 5 8 3 9 -10 10 -12 11 -10"/>
<path d="M0 4 1 9 2 9 3 7 4 7 5 6 6 7 7 2 8 3 9 -4 10 -2 11 -4"/>
<path d="M0 9 1 8 2 3 3 5 4 0 5 5 6 -13 7 -10 8 -12 9 1 10 8 11 -5"/>
<path d="M0 4 1 7 2 4 3 9 4 3 5 -2 6 -5 7 -9 8 -5 9 -6 10 4 11 -2"/>
<path d="M0 6 1 11 2 5 3 2 4 -3 5 1 6 -5 7 -10 8 -7 9 -2 10 -3 11 -1"/>
<path d="M0 12 1 10 2 4 3 -2 4 -5 5 -5 6 -12 7 -14 8 -13 9 6 10 8 11 8"/>
<path d="M0 10 1 6 2 5 3 0 4 -3 5 0 6 -3 7 0 8 -1 9 0 10 4 11 4"/>
<path d="M0 5 1 11 2 13 3 -5 4 -10 5 -3 6 -13 7 -9 8 -7 9 0 10 5 11 -1"/>
<path d="M0 8 1 7 2 4 3 1 4 -1 5 1 6 1 7 5 8 7 9 -9 10 -4 11 -5"/>
<path d="M0 9 1 9 2 6 3 -1 4 -2 5 -4 6 -3 7 -1 8 -2 9 2 10 4 11 4"/>
<path d="M0 4 1 6 2 9 3 -2 4 -6 5 -3 6 -11 7 -9 8 -6 9 0 10 3 11 1"/>
<path d="M0 2 1 5 2 3 3 1 4 4 5 2 6 -11 7 0 8 -6 9 -2 10 3 11 1"/>
<path d="M0 9 1 9 2 7 3 0 4 1 5 0 6 -4 7 -9 8 -5 9 0 10 -5 11 -4"/>
<path d="M0 11 1 11 2 11 3 3 4 -1 5 1 6 -6 7 -3 8 -3 9 -4 10 -2 11 0"/>
<path d="M0 19 1 8 2 12 3 -5 4 -4 5 -9 6 -8 7 -11 8 -2 9 6 10 7 11 9"/>
<path d="M0 7 1 6 2 14 3 -2 4 -4 5 6 6 -1 7 -12 8 -6 9 -16 10 -7 11 -13"/>
<path d="M0 -6 1 -6 2 -11 3 15 4 9 5 12 6 6 7 4 8 8 9 -14 10 -11 11 -15"/>
<path d="M0 5 1 6 2 5 3 5 4 2 5 2 6 -5 7 -3 8 -5 9 -2 10 1 11 0"/>
<path d="M0 10 1 6 2 8 3 1 4 -3 5 -1 6 -4 7 -1 8 -8 9 3 10 3 11 5"/>
<path d="M0 11 1 11 2 20 3 -4 4 -12 5 -8 6 -16 7 -10 8 -12 9 3 10 8 11 3"/>
<path d="M0 11 1 7 2 5 3 1 4 4 5 1 6 -2 7 -2 8 -1 9 -1 10 0 11 -1"/>
<path d="M0 5 1 10 2 7 3 0 4 -4 5 2 6 -1 7 0 8 -1 9 4 10 11 11 7"/>
<path d="M0 5 1 9 2 2 3 0 4 -2 5 -1 6 -4 7 -1 8 -2 9 -1 10 3 11 2"/>
<path d="M0 14 1 10 2 15 3 -3 4 -4 5 -6 6 -13 7 -8 8 -9 9 1 10 0 11 6"/>
<path d="M0 21 1 24 2 25 3 1 4 -5 5 -7 6 2 7 -2 8 -7 9 4 10 7 11 0"/>
<path d="M0 17 1 14 2 15 3 -12 4 -12 5 -9 6 -38 7 -7 8 -10 9 1 10 6 11 1"/>
<path d="M0 -3 1 -9 2 -9 3 2 4 -3 5 3 6 1 7 -3 8 -6 9 -6 10 -3 11 -4"/>
<path d="M0 6 1 6 2 1 3 5 4 -1 5 2 6 -1 7 2 8 3 9 -7 10 -6 11 -10"/>
<path d="M0 3 1 2 2 2 3 7 4 2 5 1 6 -10 7 -3 8 -7 9 0 10 7 11 4"/>
<path d="M0 13 1 10 2 9 3 -3 4 -6 5 -6 6 -8 7 -4 8 -6 9 3 10 4 11 3"/>
<path d="M0 10 1 10 2 4 3 -2 4 -4 5 -2 6 -3 7 2 8 -5 9 -4 10 -4 11 -6"/>
<path d="M0 8 1 8 2 5 3 6 4 0 5 3 6 4 7 3 8 7 9 -9 10 -3 11 -2"/>
<path d="M0 16 1 16 2 12 3 0 4 -1 5 -2 6 -11 7 -9 8 -10 9 0 10 5 11 3"/>
<path d="M0 5 1 0 2 3 3 5 4 6 5 6 6 -2 7 1 8 5 9 -8 10 0 11 -1"/>
<path d="M0 3 1 -5 2 -3 3 5 4 7 5 11 6 1 7 0 8 -4 9 -11 10 -6 11 -5"/>
<path d="M0 10 1 10 2 5 3 -3 4 -10 5 1 6 -9 7 -1 8 -4 9 -3 10 1 11 7"/>
<path d="M0 -1 1 -1 2 -4 3 6 4 4 5 5 6 2 7 1 8 -1 9 -7 10 -2 11 -1"/>
<path d="M0 13 1 6 2 11 3 4 4 2 5 2 6 -4 7 1 8 -2 9 -9 10 -7 11 -3"/>
<path d="M0 20 1 17 2 14 3 -4 4 -4 5 -4 6 -12 7 -10 8 -6 9 2 10 -1 11 3"/>
<path d="M0 8 1 9 2 6 3 -1 4 0 5 -2 6 -3 7 -5 8 -1 9 -2 10 -3 11 -1"/>
<path d="M0 1 1 3 2 -5 3 10 4 -3 5 4 6 1 7 0 8 0 9 3 10 -3 11 4"/>
<path d="M0 5 1 5 2 5 3 -1 4 -4 5 -1 6 -9 7 -4 8 -3 9 1 10 2 11 1"/>
<path d="M0 14 1 5 2 13 3 -6 4 -7 5 -7 6 -12 7 -4 8 -3 9 4 10 6 11 0"/>
<path d="M0 10 1 10 2 8 3 -2 4 -4 5 -6 6 -8 7 -4 8 -4 9 -4 10 -3 11 -3"/>
<path d="M0 11 1 8 2 7 3 -5 4 -10 5 -5 6 -6 7 -15 8 -11 9 7 10 6 11 5"/>
<path d="M0 12 1 11 2 4 3 -2 4 -1 5 1 6 -8 7 -10 8 -5 9 2 10 1 11 4"/>
<path d="M0 5 1 7 2 -2 3 3 4 2 5 1 6 -5 7 0 8 -11 9 2 10 -1 11 -2"/>
<path d="M0 10 1 11 2 9 3 1 4 -1 5 0 6 -7 7 -6 8 -7 9 -1 10 6 11 2"/>
<path d="M0 5 1 6 2 8 3 4 4 3 5 7 6 3 7 -2 8 2 9 -6 10 3 11 10"/>
<path d="M0 2 1 6 2 4 3 0 4 -3 5 1 6 -5 7 -4 8 -3 9 -1 10 0 11 0"/>
<path d="M0 7 1 8 2 4 3 -8 4 3 5 0 6 0 7 -1 8 2 9 0 10 -2 11 0"/>
<path d="M0 10 1 8 2 11 3 -1 4 -4 5 -1 6 -6 7 -6 8 -4 9 4 10 3 11 4"/>
<path d="M0 8 1 6 2 9 3 4 4 -1 5 1 6 -7 7 -10 8 -6 9 0 10 3 11 0"/>
<path d="M0 2 1 5 2 1 3 2 4 -2 5 -1 6 -26 7 -7 8 -12 9 0 10 3 11 -2"/>
<path d="M0 8 1 5 2 3 3 1 4 -1 5 1 6 -7 7 3 8 0 9 -6 10 -4 11 -3"/>
<path d="M0 1 1 -1 2 -2 3 4 4 0 5 3 6 -5 7 -1 8 0 9 -2 10 1 11 4"/>
<path d="M0 19 1 20 2 16 3 -5 4 -10 5 -5 6 -9 7 -5 8 -12 9 3 10 6 11 4"/>
<path d="M0 5 1 2 2 -3 3 0 4 -3 5 -1 6 -1 7 4 8 0 9 -3 10 -4 11 -7"/>
<path d="M0 4 1 2 2 3 3 4 4 4 5 7 6 4 7 -1 8 0 9 -3 10 1 11 -4"/>
<path d="M0 2 1 4 2 4 3 6 4 3 5 7 6 -10 7 -7 8 -5 9 -7 10 -3 11 0"/>
<path d="M0 10 1 13 2 8 3 -1 4 -4 5 -8 6 -6 7 -4 8 -5 9 2 10 8 11 7"/>
<path d="M0 3 1 1 2 7 3 0 4 -7 5 -8 6 -13 7 -15 8 -18 9 -1 10 8 11 8"/>
<path d="M0 1 1 4 2 0 3 3 4 6 5 4 6 -8 7 1 8 4 9 -7 10 -1 11 -1"/>
<path d="M0 11 1 9 2 8 3 -1 4 -2 5 -1 6 -5 7 -4 8 -3 9 4 10 4 11 5"/>
<path d="M0 15 1 13 2 13 3 -1 4 -5 5 -5 6 -7 7 -4 8 -5 9 1 10 0 11 3"/>
<path d="M0 13 1 11 2 9 3 1 4 -3 5 -3 6 -4 7 -8 8 -4 9 -2 10 6 11 1"/>
<path d="M0 8 1 12 2 8 3 0 4 -4 5 -3 6 -6 7 -2 8 -1 9 -1 10 11 11 2"/>
<path d="M0 10 1 8 2 4 3 -1 4 -4 5 -2 6 -5 7 -4 8 -3 9 0 10 2 11 1"/>
<path d="M0 -1 1 -1 2 -6 3 -2 4 0 5 3 6 1 7 4 8 5 9 -3 10 -3 11 -5"/>
<path d="M0 11 1 13 2 14 3 -4 4 -3 5 -5 6 -8 7 -7 8 -2 9 5 10 4 11 -3"/>
<path d="M0 10 1 6 2 9 3 3 4 0 5 1 6 -8 7 -1 8 -5 9 -1 10 0 11 -1"/>
<path d="M0 16 1 17 2 11 3 0 4 -10 5 -6 6 -17 7 -11 8 -12 9 11 10 19 11 18"/>
<path d="M0 14 1 14 2 10 3 -1 4 2 5 1 6 -10 7 -12 8 -8 9 2 10 4 11 4"/>
<path d="M0 7 1 5 2 5 3 -4 4 -8 5 -2 6 -5 7 -1 8 -2 9 2 10 2 11 1"/>
<path d="M0 4 1 5 2 4 3 3 4 2 5 2 6 -2 7 0 8 -4 9 1 10 3 11 1"/>
<path d="M0 10 1 6 2 0 3 4 4 5 5 3 6 -2 7 -3 8 -3 9 -1 10 -2 11 -11"/>
<path d="M0 6 1 4 2 8 3 -5 4 1 5 -4 6 -8 7 0 8 -1 9 4 10 3 11 2"/>
<path d="M0 8 1 8 2 5 3 -2 4 -3 5 0 6 -5 7 -6 8 -1 9 2 10 3 11 5"/>
<path d="M0 -4 1 -6 2 -1 3 12 4 -10 5 7 6 -6 7 -7 8 -8 9 -6 10 -13 11 -8"/>
<path d="M0 8 1 4 2 9 3 11 4 -1 5 1 6 1 7 6 8 2 9 -6 10 -4 11 -4"/>
<path d="M0 11 1 7 2 14 3 2 4 0 5 3 6 -2 7 3 8 2 9 -6 10 -4 11 -3"/>
<path d="M0 7 1 11 2 9 3 3 4 0 5 -1 6 -22 7 -4 8 -12 9 3 10 6 11 5"/>
<path d="M0 17 1 13 2 10 3 -3 4 -7 5 0 6 7 7 -5 8 1 9 -3 10 7 11 4"/>
<path d="M0 3 1 5 2 1 3 -7 4 -1 5 -5 6 2 7 5 8 -1 9 -3 10 -3 11 -3"/>
<path d="M0 -7 1 8 2 12 3 2 4 -8 5 1 6 -12 7 -10 8 -11 9 7 10 6 11 4"/>
<path d="M0 9 1 8 2 6 3 0 4 -1 5 1 6 -5 7 -2 8 -1 9 -5 10 -3 11 -4"/>
<path d="M0 8 1 6 2 1 3 -2 4 -6 5 0 6 -8 7 -3 8 -3 9 -4 10 9 11 4"/>
<path d="M0 -1 1 -1 2 0 3 0 4 0 5 -1 6 -2 7 3 8 0 9 -7 10 0 11 -4"/>
<path d="M0 10 1 16 2 6 3 -1 4 -1 5 -1 6 -5 7 -2 8 1 9 6 10 4 11 0"/>
<path d="M0 -2 1 0 2 -9 3 5 4 8 5 4 6 6 7 5 8 1 9 -9 10 -12 11 -16"/>
<path d="M0 15 1 18 2 14 3 -20 4 -7 5 -4 6 -7 7 -6 8 -16 9 5 10 7 11 2"/>
<path d="M0 7 1 -4 2 5 3 -1 4 0 5 -1 6 -6 7 -8 8 -4 9 4 10 8 11 10"/>
<path d="M0 10 1 10 2 9 3 -12 4 -6 5 -9 6 -5 7 -9 8 -4 9 3 10 7 11 0"/>
<path d="M0 11 1 10 2 7 3 5 4 -7 5 0 6 -14 7 -4 8 -6 9 4 10 1 11 0"/>
<path d="M0 21 1 11 2 13 3 -4 4 -15 5 -15 6 -7 7 -8 8 -7 9 5 10 5 11 11"/>
<path d="M0 8 1 8 2 5 3 2 4 -2 5 -2 6 0 7 2 8 0 9 -6 10 -5 11 -2"/>
<path d="M0 4 1 6 2 4 3 3 4 -1 5 3 6 -5 7 -5 8 -4 9 -4 10 -2 11 -2"/>
<path d="M0 17 1 17 2 12 3 -6 4 -8 5 -10 6 -5 7 -7 8 -10 9 9 10 1 11 0"/>
<path d="M0 5 1 1 2 -2 3 -5 4 -5 5 -4 6 8 7 6 8 4 9 -4 10 -11 11 -9"/>
<path d="M0 5 1 3 2 6 3 -2 4 -2 5 -2 6 -5 7 1 8 0 9 -4 10 -2 11 -3"/>
<path d="M0 2 1 3 2 1 3 6 4 8 5 4 6 -1 7 1 8 8 9 -8 10 -11 11 -5"/>
<path d="M0 13 1 16 2 20 3 -12 4 -13 5 -13 6 -12 7 -13 8 -13 9 10 10 12 11 0"/>
<path d="M0 7 1 12 2 4 3 -2 4 -4 5 -5 6 -2 7 0 8 -3 9 5 10 2 11 9"/>
<path d="M0 11 1 14 2 10 3 -3 4 0 5 -4 6 -20 7 -10 8 -7 9 3 10 6 11 6"/>
<path d="M0 2 1 -3 2 -2 3 8 4 9 5 6 6 3 7 3 8 -1 9 -12 10 -10 11 -8"/>
<path d="M0 11 1 11 2 6 3 2 4 -1 5 -1 6 -3 7 -3 8 -2 9 2 10 5 11 5"/>
<path d="M0 5 1 13 2 4 3 4 4 2 5 0 6 -7 7 -2 8 -6 9 -2 10 -1 11 -12"/>
<path d="M0 2 1 5 2 5 3 5 4 -4 5 7 6 -15 7 -15 8 -2 9 8 10 10 11 2"/>
<path d="M0 6 1 4 2 6 3 6 4 1 5 3 6 -3 7 0 8 -3 9 1 10 0 11 0"/>
<path d="M0 20 1 11 2 23 3 4 4 -9 5 -9 6 -3 7 -2 8 -2 9 8 10 7 11 15"/>
<path d="M0 9 1 9 2 7 3 -5 4 -3 5 -3 6 -8 7 -6 8 -9 9 3 10 5 11 3"/>
<path d="M0 7 1 7 2 7 3 2 4 0 5 3 6 -6 7 -3 8 -7 9 -4 10 5 11 0"/>
<path d="M0 -1 1 4 2 -1 3 3 4 2 5 -4 6 -19 7 4 8 6 9 -8 10 -6 11 0"/>
<path d="M0 12 1 8 2 13 3 1 4 -5 5 -2 6 -7 7 -3 8 -3 9 -3 10 2 11 0"/>
<path d="M0 16 1 18 2 17 3 -1 4 0 5 1 6 -15 7 -15 8 -10 9 6 10 0 11 8"/>
<path d="M0 10 1 13 2 11 3 -8 4 -3 5 -2 6 -7 7 -7 8 -4 9 9 10 5 11 6"/>
<path d="M0 11 1 3 2 7 3 1 4 -6 5 -5 6 -8 7 -2 8 -6 9 0 10 7 11 -2"/>
<path d="M0 5 1 4 2 3 3 1 4 -1 5 2 6 -3 7 0 8 1 9 0 10 -3 11 -1"/>
<path d="M0 8 1 13 2 3 3 0 4 -7 5 0 6 -15 7 -4 8 -10 9 0 10 3 11 0"/>
<path d="M0 10 1 9 2 14 3 -5 4 -9 5 -5 6 -4 7 -1 8 -7 9 -3 10 -1 11 0"/>
<path d="M0 15 1 14 2 14 3 -8 4 -5 5 -3 6 -13 7 -10 8 -14 9 5 10 8 11 1"/>
<path d="M0 4 1 8 2 3 3 -1 4 -4 5 0 6 -2 7 0 8 1 9 -5 10 -2 11 -3"/>
<path d="M0 8 1 6 2 8 3 2 4 -4 5 2 6 -5 7 0 8 -6 9 -5 10 -5 11 -1"/>
<path d="M0 20 1 14 2 17 3 2 4 -1 5 0 6 -10 7 -9 8 -19 9 8 10 9 11 14"/>
<path d="M0 5 1 2 2 3 3 7 4 -2 5 -6 6 -2 7 6 8 3 9 -3 10 3 11 -3"/>
<path d="M0 10 1 7 2 8 3 2 4 -3 5 0 6 -5 7 -2 8 -3 9 -1 10 3 11 2"/>
<path d="M0 6 1 7 2 1 3 4 4 4 5 4 6 -4 7 -2 8 -5 9 7 10 2 11 9"/>
<path d="M0 2 1 7 2 3 3 3 4 4 5 7 6 -4 7 1 8 0 9 -10 10 -5 11 -2"/>
<path d="M0 3 1 5 2 3 3 3 4 -2 5 -1 6 -3 7 1 8 1 9 -4 10 -2 11 0"/>
<path d="M0 14 1 12 2 12 3 2 4 -6 5 -6 6 -7 7 -4 8 -7 9 0 10 6 11 -5"/>
<path d="M0 14 1 12 2 13 3 1 4 -2 5 -3 6 -11 7 -3 8 -13 9 -3 10 -1 11 1"/>
<path d="M0 8 1 7 2 4 3 5 4 -3 5 0 6 -4 7 0 8 1 9 -2 10 0 11 5"/>
<path d="M0 7 1 2 2 8 3 -6 4 -9 5 -7 6 -1 7 1 8 11 9 1 10 -2 11 3"/>
<path d="M0 4 1 13 2 11 3 -2 4 -1 5 -3 6 -1 7 -2 8 0 9 4 10 0 11 3"/>
<path d="M0 10 1 10 2 9 3 2 4 0 5 -3 6 -3 7 -5 8 -5 9 -3 10 1 11 -1"/>
<path d="M0 9 1 6 2 7 3 -5 4 -7 5 -3 6 -5 7 -3 8 -2 9 -1 10 3 11 0"/>
<path d="M0 6 1 -1 2 5 3 2 4 -1 5 2 6 -5 7 -3 8 3 9 -1 10 -2 11 -3"/>
<path d="M0 1 1 7 2 4 3 8 4 1 5 1 6 -21 7 -2 8 0 9 7 10 9 11 4"/>
<path d="M0 -1 1 -3 2 -2 3 13 4 11 5 9 6 1 7 5 8 2 9 -14 10 -7 11 -11"/>
<path d="M0 -5 1 -4 2 -11 3 -15 4 -8 5 3 6 0 7 11 8 6 9 -12 10 -14 11 -6"/>
<path d="M0 11 1 10 2 11 3 2 4 -2 5 -3 6 -3 7 -6 8 -4 9 0 10 2 11 5"/>
<path d="M0 20 1 15 2 17 3 1 4 -1 5 0 6 -11 7 -2 8 -7 9 -2 10 5 11 -2"/>
<path d="M0 12 1 11 2 8 3 0 4 -4 5 -2 6 -7 7 -3 8 -3 9 -2 10 1 11 2"/>
<path d="M0 4 1 2 2 2 3 1 4 2 5 1 6 -4 7 -5 8 -4 9 0 10 -3 11 0"/>
<path d="M0 0 1 6 2 9 3 -1 4 -8 5 2 6 -11 7 -10 8 -2 9 -3 10 10 11 -3"/>
<path d="M0 20 1 21 2 17 3 -3 4 -2 5 1 6 -14 7 -4 8 -4 9 6 10 2 11 7"/>
<path d="M0 4 1 7 2 2 3 5 4 3 5 -2 6 -1 7 6 8 2 9 0 10 0 11 -3"/>
<path d="M0 15 1 5 2 14 3 -2 4 -3 5 -2 6 -1 7 -4 8 -8 9 -2 10 -7 11 -3"/>
<path d="M0 4 1 3 2 1 3 -1 4 0 5 -3 6 3 7 2 8 -2 9 4 10 8 11 13"/>
<path d="M0 4 1 3 2 4 3 1 4 -2 5 -1 6 2 7 1 8 2 9 0 10 -2 11 -2"/>
<path d="M0 13 1 12 2 4 3 3 4 -4 5 -4 6 -1 7 -1 8 1 9 4 10 -2 11 -2"/>
<path d="M0 3 1 4 2 2 3 1 4 -2 5 0 6 0 7 -1 8 -1 9 0 10 0 11 0"/>
<path d="M0 0 1 1 2 2 3 11 4 9 5 10 6 5 7 7 8 7 9 -15 10 -8 11 -18"/>
<path d="M0 5 1 5 2 -3 3 -3 4 1 5 2 6 11 7 7 8 -2 9 6 10 7 11 9"/>
<path d="M0 12 1 14 2 7 3 -1 4 -2 5 0 6 -4 7 -3 8 -3 9 0 10 2 11 6"/>
<path d="M0 12 1 16 2 9 3 1 4 -5 5 1 6 -4 7 -7 8 -2 9 -2 10 3 11 2"/>
<path d="M0 3 1 9 2 7 3 1 4 -3 5 2 6 -7 7 -4 8 -7 9 -9 10 -3 11 -2"/>
<path d="M0 5 1 6 2 -2 3 1 4 3 5 1 6 1 7 1 8 1 9 -1 10 0 11 1"/>
<path d="M0 21 1 20 2 11 3 -13 4 -7 5 0 6 -4 7 -14 8 -20 9 -1 10 7 11 6"/>
<path d="M0 -2 1 2 2 4 3 14 4 4 5 12 6 7 7 8 8 4 9 -11 10 -8 11 -13"/>
<path d="M0 7 1 12 2 14 3 1 4 -7 5 -6 6 -14 7 -10 8 -14 9 4 10 13 11 9"/>
<path d="M0 13 1 18 2 8 3 3 4 2 5 -3 6 -14 7 -9 8 -11 9 -5 10 0 11 -2"/>
<path d="M0 -2 1 -3 2 1 3 8 4 9 5 8 6 -1 7 3 8 1 9 -1 10 0 11 -2"/>
<path d="M0 -2 1 -1 2 3 3 2 4 1 5 4 6 3 7 3 8 5 9 -12 10 -9 11 -8"/>
<path d="M0 -4 1 -2 2 -8 3 5 4 6 5 8 6 -2 7 3 8 0 9 -12 10 -6 11 -8"/>
<path d="M0 10 1 8 2 8 3 3 4 0 5 2 6 -7 7 -6 8 -3 9 1 10 5 11 -2"/>
<path d="M0 16 1 17 2 15 3 3 4 0 5 2 6 -7 7 -1 8 -9 9 4 10 2 11 6"/>
<path d="M0 6 1 5 2 3 3 8 4 3 5 7 6 1 7 5 8 2 9 -5 10 0 11 -4"/>
<path d="M0 14 1 13 2 10 3 -5 4 -5 5 -3 6 -11 7 -9 8 -12 9 -7 10 -2 11 -6"/>
<path d="M0 11 1 17 2 13 3 -5 4 -1 5 0 6 -9 7 -8 8 -8 9 4 10 6 11 1"/>
<path d="M0 7 1 13 2 10 3 5 4 0 5 2 6 -1 7 1 8 -1 9 0 10 0 11 0"/>
<path d="M0 5 1 6 2 3 3 0 4 -2 5 1 6 -3 7 0 8 1 9 -5 10 -2 11 -2"/>
<path d="M0 2 1 6 2 2 3 0 4 -2 5 -4 6 -8 7 -6 8 -1 9 2 10 7 11 3"/>
<path d="M0 6 1 7 2 5 3 2 4 1 5 -2 6 -3 7 -1 8 -2 9 -2 10 1 11 -3"/>
<path d="M0 0 1 2 2 -5 3 -9 4 -6 5 -3 6 -3 7 -3 8 2 9 1 10 0 11 1"/>
<path d="M0 18 1 13 2 14 3 3 4 1 5 -5 6 -17 7 -1 8 -6 9 -12 10 -1 11 4"/>
<path d="M0 -9 1 -9 2 -8 3 10 4 2 5 8 6 6 7 10 8 5 9 -12 10 -10 11 -7"/>
<path d="M0 4 1 3 2 1 3 -13 4 0 5 3 6 -11 7 -12 8 -9 9 1 10 1 11 -1"/>
<path d="M0 -8 1 -5 2 -5 3 9 4 8 5 9 6 6 7 7 8 11 9 -12 10 -16 11 -10"/>
<path d="M0 11 1 9 2 7 3 0 4 -3 5 -2 6 -5 7 -4 8 1 9 2 10 2 11 1"/>
<path d="M0 3 1 3 2 4 3 4 4 0 5 -3 6 -11 7 -8 8 -6 9 0 10 10 11 7"/>
<path d="M0 5 1 4 2 8 3 3 4 1 5 1 6 -6 7 -7 8 -5 9 -7 10 0 11 0"/>
<path d="M0 7 1 11 2 7 3 3 4 4 5 3 6 2 7 -4 8 -3 9 1 10 -1 11 1"/>
<path d="M0 5 1 10 2 6 3 -1 4 -4 5 -2 6 -7 7 1 8 -6 9 -2 10 -4 11 0"/>
<path d="M0 25 1 24 2 21 3 -11 4 -16 5 -16 6 -21 7 -13 8 -14 9 10 10 15 11 9"/>
<path d="M0 20 1 13 2 13 3 3 4 -2 5 2 6 -10 7 -13 8 -8 9 -4 10 1 11 -5"/>
<path d="M0 5 1 -3 2 -1 3 12 4 0 5 4 6 0 7 -2 8 4 9 -1 10 1 11 -2"/>
<path d="M0 8 1 9 2 6 3 1 4 0 5 1 6 -1 7 1 8 -2 9 0 10 3 11 3"/>
<path d="M0 5 1 7 2 6 3 1 4 1 5 -1 6 -6 7 -7 8 -6 9 1 10 2 11 -2"/>
<path d="M0 3 1 4 2 4 3 2 4 0 5 1 6 3 7 -2 8 4 9 -1 10 0 11 -2"/>
<path d="M0 8 1 9 2 6 3 -14 4 0 5 1 6 -4 7 -1 8 -1 9 -2 10 -1 11 3"/>
<path d="M0 11 1 9 2 8 3 -5 4 -5 5 -7 6 -5 7 -6 8 -6 9 -3 10 7 11 2"/>
<path d="M0 6 1 8 2 3 3 4 4 4 5 4 6 -10 7 -10 8 -8 9 3 10 3 11 4"/>
<path d="M0 0 1 5 2 2 3 7 4 0 5 5 6 1 7 -2 8 2 9 1 10 -2 11 -3"/>
<path d="M0 19 1 22 2 20 3 -6 4 2 5 -10 6 -10 7 -12 8 -4 9 -4 10 -4 11 -2"/>
<path d="M0 5 1 6 2 5 3 5 4 6 5 6 6 -6 7 1 8 1 9 -3 10 -2 11 -10"/>
<path d="M0 9 1 7 2 8 3 -2 4 -7 5 -2 6 -8 7 -7 8 -3 9 1 10 2 11 -1"/>
<path d="M0 -1 1 2 2 4 3 8 4 6 5 8 6 -6 7 -2 8 -6 9 -5 10 -3 11 -6"/>
<path d="M0 12 1 10 2 10 3 -4 4 -3 5 -2 6 -5 7 -4 8 -5 9 3 10 5 11 3"/>
<path d="M0 -8 1 -9 2 -8 3 15 4 12 5 9 6 7 7 10 8 -3 9 -1 10 -2 11 0"/>
<path d="M0 12 1 9 2 13 3 -5 4 -4 5 -2 6 -9 7 -6 8 -9 9 9 10 8 11 6"/>
<path d="M0 10 1 6 2 5 3 7 4 0 5 2 6 -6 7 -2 8 -4 9 0 10 3 11 2"/>
<path d="M0 13 1 7 2 9 3 -2 4 2 5 -3 6 3 7 -9 8 3 9 -6 10 -2 11 -2"/>
<path d="M0 11 1 14 2 16 3 5 4 3 5 4 6 -2 7 4 8 -2 9 -4 10 0 11 1"/>
<path d="M0 8 1 16 2 8 3 -3 4 -4 5 0 6 4 7 -2 8 -1 9 -8 10 4 11 3"/>
<path d="M0 14 1 13 2 10 3 -3 4 1 5 -3 6 -9 7 -1 8 -2 9 -1 10 7 11 -2"/>
<path d="M0 0 1 0 2 -2 3 3 4 2 5 3 6 -14 7 3 8 2 9 -7 10 -4 11 -7"/>
<path d="M0 5 1 2 2 4 3 7 4 2 5 8 6 0 7 3 8 7 9 -14 10 -8 11 -11"/>
<path d="M0 4 1 2 2 5 3 3 4 5 5 2 6 3 7 -7 8 -1 9 -8 10 -2 11 -2"/>
<path d="M0 3 1 16 2 4 3 -3 4 2 5 0 6 -5 7 -3 8 -4 9 -1 10 1 11 7"/>
<path d="M0 11 1 3 2 5 3 2 4 -2 5 1 6 -8 7 -5 8 -2 9 -4 10 -5 11 0"/>
<path d="M0 7 1 7 2 5 3 1 4 -1 5 2 6 -2 7 -6 8 -5 9 0 10 0 11 -2"/>
<path d="M0 5 1 10 2 5 3 0 4 -3 5 -3 6 -3 7 -3 8 -6 9 -3 10 1 11 1"/>
<path d="M0 10 1 6 2 5 3 -3 4 0 5 0 6 -3 7 3 8 1 9 -4 10 -4 11 -3"/>
<path d="M0 5 1 14 2 9 3 0 4 0 5 -3 6 -1 7 1 8 -6 9 -4 10 1 11 13"/>
<path d="M0 12 1 13 2 14 3 3 4 -1 5 1 6 -11 7 -5 8 -7 9 4 10 7 11 3"/>
<path d="M0 12 1 12 2 7 3 -7 4 -9 5 -12 6 -1 7 4 8 -3 9 -1 10 6 11 0"/>
<path d="M0 10 1 11 2 13 3 2 4 4 5 -3 6 -7 7 -7 8 -8 9 4 10 3 11 2"/>
<path d="M0 4 1 2 2 1 3 1 4 2 5 3 6 0 7 -1 8 0 9 -7 10 -4 11 0"/>
<path d="M0 13 1 15 2 9 3 3 4 0 5 1 6 -6 7 -4 8 -8 9 0 10 5 11 2"/>
<path d="M0 -1 1 -2 2 -4 3 5 4 6 5 8 6 6 7 9 8 7 9 -4 10 -5 11 -6"/>
<path d="M0 15 1 9 2 12 3 -3 4 -1 5 -1 6 -3 7 -4 8 -3 9 -5 10 1 11 -1"/>
<path d="M0 4 1 3 2 2 3 2 4 0 5 0 6 -5 7 -5 8 0 9 -3 10 -2 11 -5"/>
<path d="M0 10 1 4 2 5 3 2 4 -1 5 5 6 5 7 4 8 5 9 -3 10 3 11 2"/>
<path d="M0 1 1 1 2 1 3 6 4 5 5 1 6 1 7 5 8 2 9 -5 10 -5 11 -5"/>
<path d="M0 6 1 5 2 5 3 -1 4 0 5 0 6 -5 7 -3 8 -3 9 0 10 0 11 2"/>
<path d="M0 5 1 6 2 3 3 3 4 4 5 3 6 5 7 5 8 3 9 -4 10 0 11 -1"/>
<path d="M0 17 1 14 2 17 3 -9 4 -11 5 -9 6 0 7 1 8 7 9 -2 10 -4 11 10"/>
<path d="M0 -9 1 -1 2 0 3 10 4 6 5 8 6 1 7 4 8 7 9 -11 10 -11 11 -13"/>
<path d="M0 11 1 3 2 1 3 -1 4 1 5 1 6 -7 7 -4 8 -2 9 -1 10 -4 11 -3"/>
<path d="M0 3 1 4 2 -2 3 10 4 10 5 10 6 2 7 1 8 3 9 2 10 1 11 -3"/>
<path d="M0 2 1 3 2 -3 3 -1 4 4 5 0 6 -7 7 -1 8 -4 9 2 10 8 11 7"/>
<path d="M0 -8 1 -9 2 4 3 8 4 7 5 11 6 12 7 13 8 12 9 -8 10 -4 11 -15"/>
<path d="M0 16 1 10 2 7 3 0 4 -4 5 0 6 -13 7 -13 8 -13 9 3 10 4 11 6"/>
<path d="M0 6 1 7 2 4 3 0 4 3 5 3 6 2 7 -2 8 -5 9 -1 10 0 11 -6"/>
<path d="M0 9 1 7 2 6 3 -2 4 0 5 -2 6 -3 7 -1 8 3 9 0 10 3 11 0"/>
<path d="M0 9 1 9 2 7 3 -2 4 -10 5 -5 6 -5 7 -14 8 -15 9 6 10 17 11 14"/>
<path d="M0 7 1 8 2 5 3 -2 4 -4 5 -4 6 -2 7 1 8 -3 9 -1 10 7 11 0"/>
<path d="M0 9 1 9 2 8 3 -4 4 -2 5 -3 6 -5 7 -4 8 -3 9 0 10 4 11 3"/>
<path d="M0 4 1 1 2 3 3 -8 4 -9 5 -10 6 1 7 3 8 9 9 -4 10 -2 11 -2"/>
<path d="M0 1 1 -1 2 2 3 3 4 -3 5 0 6 -8 7 -4 8 -2 9 -2 10 -7 11 -5"/>
<path d="M0 15 1 8 2 5 3 2 4 1 5 5 6 -7 7 -5 8 -4 9 7 10 5 11 1"/>
<path d="M0 10 1 7 2 6 3 0 4 -1 5 -3 6 -9 7 -5 8 -6 9 -3 10 -1 11 -1"/>
<path d="M0 5 1 5 2 3 3 2 4 -5 5 -2 6 -4 7 -3 8 -5 9 -1 10 0 11 4"/>
<path d="M0 2 1 6 2 6 3 1 4 -2 5 4 6 -2 7 -4 8 -2 9 -1 10 2 11 -2"/>
<path d="M0 8 1 5 2 7 3 5 4 2 5 3 6 6 7 3 8 5 9 -4 10 -6 11 -10"/>
<path d="M0 8 1 7 2 9 3 -6 4 -4 5 -5 6 -8 7 -4 8 -6 9 4 10 7 11 3"/>
<path d="M0 15 1 14 2 11 3 -8 4 -14 5 -10 6 -10 7 -3 8 -7 9 1 10 4 11 2"/>
<path d="M0 14 1 11 2 15 3 1 4 0 5 -2 6 1 7 0 8 0 9 0 10 1 11 6"/>
<path d="M0 11 1 8 2 6 3 1 4 -3 5 2 6 -7 7 -2 8 -6 9 0 10 0 11 6"/>
<path d="M0 3 1 12 2 11 3 2 4 -1 5 -1 6 -15 7 -9 8 -9 9 -8 10 -3 11 -8"/>
<path d="M0 7 1 11 2 9 3 -2 4 -4 5 -8 6 -9 7 -6 8 -8 9 0 10 3 11 1"/>
<path d="M0 5 1 3 2 2 3 -2 4 -3 5 -2 6 -3 7 -1 8 0 9 -3 10 -2 11 -4"/>
<path d="M0 11 1 10 2 6 3 -3 4 -4 5 -3 6 -3 7 -3 8 -4 9 0 10 -4 11 -5"/>
<path d="M0 5 1 7 2 4 3 1 4 0 5 -1 6 -4 7 -3 8 -4 9 3 10 -2 11 0"/>
<path d="M0 5 1 2 2 5 3 9 4 7 5 5 6 -5 7 1 8 -3 9 -6 10 -6 11 -9"/>
<path d="M0 9 1 7 2 7 3 -1 4 -3 5 -1 6 -4 7 -3 8 -1 9 -3 10 -1 11 -2"/>
<path d="M0 11 1 17 2 7 3 -14 4 -19 5 -16 6 -4 7 3 8 -5 9 1 10 -1 11 -7"/>
<path d="M0 11 1 11 2 6 3 -17 4 -9 5 -8 6 -10 7 -10 8 -6 9 -5 10 -4 11 -1"/>
<path d="M0 25 1 25 2 21 3 -12 4 -14 5 -7 6 -13 7 -22 8 -16 9 -12 10 -3 11 -10"/>
<path d="M0 6 1 0 2 0 3 4 4 3 5 9 6 -5 7 -4 8 -3 9 -4 10 0 11 0"/>
<path d="M0 6 1 5 2 2 3 5 4 2 5 3 6 -27 7 0 8 3 9 -8 10 -5 11 -7"/>
<path d="M0 7 1 10 2 5 3 -2 4 -6 5 -4 6 -11 7 -7 8 -6 9 7 10 9 11 0"/>
<path d="M0 3 1 2 2 3 3 10 4 6 5 10 6 -2 7 -1 8 -13 9 0 10 -3 11 0"/>
<path d="M0 9 1 4 2 4 3 1 4 0 5 -1 6 -1 7 2 8 -1 9 -4 10 -1 11 -1"/>
<path d="M0 9 1 12 2 5 3 -4 4 -6 5 -8 6 -2 7 4 8 5 9 -4 10 9 11 6"/>
<path d="M0 7 1 8 2 6 3 -14 4 -3 5 -5 6 -32 7 -5 8 -6 9 1 10 1 11 -4"/>
<path d="M0 6 1 3 2 1 3 3 4 -1 5 0 6 -5 7 -1 8 -1 9 -4 10 -5 11 -3"/>
<path d="M0 6 1 15 2 9 3 6 4 1 5 7 6 2 7 0 8 5 9 -3 10 0 11 -6"/>
<path d="M0 10 1 3 2 8 3 -1 4 0 5 5 6 -14 7 -8 8 -9 9 3 10 5 11 -1"/>
<path d="M0 8 1 12 2 9 3 1 4 0 5 1 6 -36 7 -11 8 -8 9 2 10 5 11 1"/>
<path d="M0 6 1 5 2 4 3 -1 4 -5 5 0 6 -5 7 -4 8 -4 9 -5 10 0 11 -2"/>
<path d="M0 2 1 2 2 1 3 2 4 -2 5 1 6 -7 7 -3 8 -3 9 -2 10 0 11 -1"/>
<path d="M0 10 1 10 2 11 3 4 4 0 5 2 6 3 7 -1 8 -1 9 1 10 -5 11 2"/>
<path d="M0 -2 1 1 2 -1 3 5 4 1 5 4 6 -12 7 3 8 2 9 -8 10 -6 11 -7"/>
<path d="M0 4 1 11 2 12 3 -4 4 -2 5 0 6 -6 7 -2 8 4 9 -1 10 -7 11 -2"/>
<path d="M0 6 1 7 2 7 3 -1 4 -5 5 3 6 7 7 -7 8 -7 9 3 10 6 11 9"/>
<path d="M0 9 1 7 2 5 3 8 4 8 5 6 6 -4 7 0 8 -3 9 -4 10 -2 11 -1"/>
<path d="M0 5 1 5 2 1 3 2 4 2 5 1 6 -3 7 -2 8 -1 9 -2 10 1 11 0"/>
<path d="M0 15 1 12 2 13 3 1 4 -7 5 -6 6 -11 7 -10 8 -1 9 2 10 8 11 -1"/>
<path d="M0 3 1 5 2 6 3 1 4 -2 5 7 6 -5 7 -6 8 -8 9 5 10 5 11 4"/>
<path d="M0 2 1 8 2 0 3 -11 4 -19 5 -18 6 -8 7 -4 8 -11 9 9 10 11 11 7"/>
<path d="M0 7 1 4 2 5 3 -11 4 -7 5 -4 6 -14 7 -6 8 -8 9 -4 10 0 11 1"/>
<path d="M0 20 1 15 2 5 3 3 4 0 5 1 6 -19 7 -5 8 -15 9 11 10 5 11 6"/>
<path d="M0 16 1 11 2 7 3 5 4 2 5 3 6 -4 7 2 8 -2 9 -2 10 2 11 -3"/>
<path d="M0 3 1 6 2 3 3 2 4 -1 5 0 6 -1 7 0 8 2 9 -2 10 -3 11 -1"/>
<path d="M0 -4 1 -1 2 1 3 4 4 1 5 2 6 3 7 6 8 6 9 -15 10 -8 11 -12"/>
<path d="M0 6 1 10 2 3 3 -8 4 -10 5 -6 6 0 7 -9 8 -6 9 3 10 4 11 4"/>
<path d="M0 12 1 7 2 3 3 0 4 -6 5 4 6 -4 7 -3 8 -4 9 -1 10 4 11 3"/>
<path d="M0 -1 1 5 2 -3 3 3 4 2 5 0 6 7 7 7 8 8 9 -4 10 -9 11 -11"/>
<path d="M0 7 1 7 2 8 3 1 4 -4 5 1 6 -9 7 -9 8 -7 9 1 10 3 11 2"/>
<path d="M0 13 1 17 2 10 3 2 4 1 5 -3 6 2 7 4 8 -3 9 0 10 6 11 0"/>
<path d="M0 13 1 16 2 13 3 -2 4 0 5 -1 6 -4 7 -8 8 -10 9 3 10 0 11 2"/>
<path d="M0 13 1 8 2 11 3 9 4 3 5 -10 6 -3 7 -2 8 -4 9 -5 10 -5 11 1"/>
<path d="M0 11 1 14 2 11 3 -3 4 -6 5 -2 6 -6 7 -9 8 -7 9 0 10 1 11 -1"/>
<path d="M0 5 1 5 2 5 3 2 4 -1 5 1 6 -2 7 0 8 0 9 -3 10 -2 11 -4"/>
<path d="M0 14 1 10 2 5 3 1 4 0 5 -1 6 2 7 5 8 7 9 -3 10 -4 11 -2"/>
<path d="M0 3 1 4 2 -4 3 5 4 4 5 3 6 -22 7 5 8 1 9 -6 10 0 11 -7"/>
<path d="M0 14 1 9 2 7 3 4 4 1 5 -2 6 -4 7 0 8 -4 9 1 10 3 11 -1"/>
<path d="M0 12 1 14 2 15 3 -7 4 -7 5 -5 6 -10 7 -19 8 -8 9 2 10 7 11 2"/>
<path d="M0 13 1 15 2 9 3 -7 4 -11 5 -6 6 -31 7 -9 8 -12 9 5 10 7 11 4"/>
<path d="M0 5 1 5 2 7 3 0 4 -1 5 -3 6 0 7 -4 8 0 9 7 10 7 11 9"/>
<path d="M0 13 1 13 2 19 3 -15 4 1 5 0 6 -2 7 -1 8 -5 9 4 10 4 11 3"/>
<path d="M0 9 1 10 2 6 3 0 4 0 5 -1 6 -4 7 -5 8 -4 9 5 10 7 11 7"/>
<path d="M0 2 1 3 2 3 3 0 4 2 5 -2 6 -8 7 -7 8 -10 9 -3 10 -5 11 2"/>
<path d="M0 -2 1 -3 2 0 3 -3 4 -3 5 1 6 0 7 3 8 1 9 1 10 8 11 -4"/>
<path d="M0 17 1 12 2 16 3 -6 4 -9 5 -5 6 -9 7 -9 8 -7 9 -2 10 2 11 -1"/>
<path d="M0 11 1 5 2 9 3 2 4 -2 5 2 6 -11 7 -11 8 -9 9 -4 10 -2 11 2"/>
<path d="M0 7 1 4 2 0 3 7 4 4 5 1 6 -1 7 -1 8 2 9 -6 10 -4 11 -8"/>
<path d="M0 3 1 2 2 3 3 -13 4 -1 5 2 6 -2 7 -1 8 -1 9 -2 10 1 11 -1"/>
<path d="M0 4 1 5 2 9 3 -3 4 -5 5 -4 6 -6 7 -4 8 2 9 1 10 3 11 2"/>
<path d="M0 6 1 4 2 7 3 6 4 4 5 4 6 0 7 -2 8 2 9 1 10 6 11 0"/>
<path d="M0 14 1 12 2 5 3 5 4 0 5 -3 6 -9 7 -2 8 0 9 2 10 6 11 3"/>
<path d="M0 9 1 10 2 5 3 1 4 4 5 5 6 -1 7 -2 8 1 9 6 10 2 11 0"/>
<path d="M0 7 1 3 2 8 3 6 4 7 5 7 6 1 7 5 8 3 9 5 10 1 11 4"/>
<path d="M0 8 1 7 2 8 3 2 4 0 5 -1 6 -7 7 -5 8 -8 9 1 10 7 11 0"/>
<path d="M0 3 1 4 2 1 3 5 4 0 5 2 6 -2 7 -1 8 -1 9 -3 10 0 11 2"/>
<path d="M0 9 1 9 2 8 3 -3 4 -8 5 -3 6 -7 7 -7 8 -5 9 4 10 7 11 2"/>
<path d="M0 1 1 4 2 -4 3 3 4 0 5 4 6 -2 7 6 8 3 9 -9 10 -5 11 -8"/>
<path d="M0 0 1 5 2 0 3 3 4 4 5 6 6 -6 7 2 8 -7 9 6 10 8 11 8"/>
<path d="M0 1 1 6 2 6 3 2 4 0 5 1 6 0 7 3 8 5 9 -1 10 4 11 -2"/>
<path d="M0 3 1 0 2 -2 3 4 4 -1 5 2 6 -3 7 1 8 2 9 -5 10 -1 11 -3"/>
<path d="M0 6 1 11 2 10 3 -1 4 -17 5 -4 6 -8 7 -9 8 -13 9 2 10 1 11 4"/>
<path d="M0 9 1 8 2 9 3 0 4 -8 5 -4 6 -3 7 -5 8 -5 9 0 10 2 11 -2"/>
<path d="M0 7 1 4 2 1 3 1 4 -5 5 -5 6 -3 7 1 8 1 9 -6 10 -1 11 -3"/>
<path d="M0 10 1 10 2 7 3 -1 4 -8 5 -7 6 -5 7 -6 8 -1 9 -4 10 -1 11 2"/>
<path d="M0 10 1 2 2 7 3 6 4 1 5 -3 6 -7 7 1 8 -6 9 -3 10 -1 11 -3"/>
<path d="M0 3 1 7 2 -1 3 3 4 2 5 10 6 8 7 4 8 4 9 -8 10 -9 11 -10"/>
<path d="M0 3 1 3 2 1 3 7 4 -1 5 5 6 3 7 5 8 -2 9 -8 10 -6 11 -11"/>
<path d="M0 5 1 -2 2 -5 3 6 4 2 5 1 6 4 7 2 8 3 9 -2 10 0 11 -2"/>
<path d="M0 7 1 -1 2 5 3 5 4 9 5 2 6 -9 7 -1 8 -1 9 -2 10 2 11 4"/>
<path d="M0 3 1 3 2 0 3 3 4 1 5 4 6 1 7 -7 8 -6 9 0 10 1 11 3"/>
<path d="M0 8 1 9 2 -2 3 -5 4 -5 5 -7 6 -5 7 -13 8 -8 9 8 10 7 11 0"/>
<path d="M0 4 1 4 2 2 3 4 4 2 5 3 6 0 7 -2 8 -1 9 -4 10 -2 11 -5"/>
<path d="M0 9 1 9 2 8 3 -8 4 -13 5 -6 6 -26 7 3 8 -1 9 -2 10 -3 11 1"/>
<path d="M0 6 1 12 2 4 3 3 4 3 5 -1 6 -5 7 0 8 -5 9 -4 10 2 11 4"/>
<path d="M0 15 1 17 2 12 3 -1 4 -3 5 -2 6 -8 7 -12 8 -8 9 1 10 1 11 -1"/>
<path d="M0 4 1 10 2 4 3 -3 4 -3 5 -1 6 -6 7 -7 8 -9 9 2 10 -2 11 2"/>
<path d="M0 4 1 8 2 1 3 0 4 -1 5 -5 6 -8 7 -4 8 2 9 1 10 2 11 -1"/>
<path d="M0 4 1 2 2 0 3 4 4 1 5 0 6 -2 7 0 8 0 9 -6 10 -2 11 -1"/>
<path d="M0 1 1 0 2 -8 3 6 4 6 5 -1 6 1 7 6 8 3 9 -2 10 1 11 -3"/>
<path d="M0 12 1 14 2 20 3 -6 4 -11 5 -12 6 -23 7 -21 8 -15 9 7 10 8 11 4"/>
<path d="M0 12 1 13 2 8 3 -2 4 1 5 1 6 -24 7 -4 8 2 9 7 10 6 11 3"/>
<path d="M0 7 1 12 2 11 3 -12 4 0 5 -4 6 -6 7 -5 8 -3 9 -2 10 -2 11 5"/>
<path d="M0 12 1 15 2 10 3 1 4 -1 5 0 6 -1 7 -4 8 -2 9 -3 10 5 11 2"/>
<path d="M0 1 1 -1 2 -2 3 5 4 2 5 3 6 2 7 1 8 3 9 -8 10 0 11 -4"/>
<path d="M0 6 1 7 2 4 3 1 4 -1 5 0 6 -7 7 -1 8 -6 9 5 10 5 11 4"/>
<path d="M0 9 1 12 2 12 3 1 4 -6 5 -6 6 2 7 3 8 0 9 2 10 2 11 6"/>
<path d="M0 12 1 11 2 10 3 2 4 -3 5 -3 6 -9 7 -4 8 -8 9 -1 10 3 11 1"/>
<path d="M0 8 1 6 2 5 3 0 4 -8 5 -5 6 -4 7 -6 8 -4 9 -3 10 -1 11 6"/>
<path d="M0 12 1 9 2 12 3 -4 4 -2 5 -6 6 -12 7 -6 8 -6 9 1 10 5 11 4"/>
<path d="M0 13 1 9 2 4 3 0 4 7 5 0 6 -4 7 -4 8 -13 9 -5 10 -1 11 -7"/>
<path d="M0 7 1 9 2 9 3 -6 4 -7 5 -3 6 -33 7 -5 8 -4 9 1 10 2 11 2"/>
<path d="M0 7 1 11 2 5 3 3 4 -4 5 -3 6 1 7 3 8 5 9 4 10 4 11 1"/>
<path d="M0 17 1 26 2 19 3 3 4 -12 5 -6 6 -6 7 -21 8 -20 9 0 10 5 11 7"/>
<path d="M0 -4 1 -2 2 -2 3 3 4 13 5 8 6 9 7 5 8 -4 9 -19 10 -16 11 -18"/>
<path d="M0 2 1 -5 2 3 3 11 4 11 5 13 6 2 7 3 8 3 9 -12 10 -9 11 -13"/>
<path d="M0 16 1 21 2 11 3 -6 4 -7 5 -5 6 -19 7 -7 8 -6 9 11 10 12 11 8"/>
<path d="M0 14 1 18 2 14 3 8 4 -3 5 7 6 5 7 12 8 7 9 -2 10 0 11 -7"/>
<path d="M0 1 1 7 2 3 3 6 4 8 5 4 6 4 7 2 8 4 9 -10 10 -8 11 -9"/>
<path d="M0 6 1 6 2 -1 3 -9 4 -1 5 0 6 -2 7 -1 8 -5 9 -1 10 1 11 3"/>
<path d="M0 12 1 9 2 7 3 -2 4 -11 5 -11 6 -6 7 -13 8 -13 9 8 10 7 11 6"/>
<path d="M0 1 1 0 2 1 3 5 4 6 5 6 6 7 7 4 8 8 9 -10 10 -10 11 -3"/>
<path d="M0 4 1 3 2 2 3 5 4 2 5 2 6 -3 7 -1 8 -2 9 -8 10 -6 11 -8"/>
<path d="M0 7 1 6 2 2 3 5 4 5 5 -3 6 -9 7 -10 8 -7 9 -2 10 -4 11 -1"/>
<path d="M0 10 1 7 2 2 3 1 4 -1 5 2 6 -10 7 -6 8 -1 9 2 10 0 11 -2"/>
<path d="M0 15 1 6 2 2 3 -21 4 -5 5 1 6 -10 7 -3 8 -2 9 6 10 10 11 12"/>
<path d="M0 7 1 4 2 7 3 0 4 -3 5 -2 6 -2 7 -4 8 -1 9 -4 10 -7 11 -2"/>
<path d="M0 10 1 5 2 5 3 -11 4 -10 5 -9 6 -17 7 -12 8 -7 9 6 10 11 11 7"/>
<path d="M0 -3 1 -6 2 -3 3 15 4 12 5 12 6 12 7 10 8 13 9 -3 10 -5 11 -9"/>
<path d="M0 -2 1 -3 2 -4 3 7 4 7 5 5 6 4 7 4 8 8 9 -6 10 -1 11 -5"/>
<path d="M0 6 1 5 2 4 3 -16 4 2 5 2 6 -2 7 0 8 -1 9 1 10 3 11 1"/>
<path d="M0 6 1 9 2 6 3 -16 4 -17 5 -16 6 -10 7 -13 8 -6 9 8 10 11 11 9"/>
<path d="M0 20 1 18 2 17 3 -2 4 -4 5 -3 6 -13 7 -16 8 -5 9 4 10 8 11 6"/>
<path d="M0 2 1 9 2 4 3 12 4 3 5 5 6 3 7 -12 8 0 9 3 10 -1 11 -3"/>
<path d="M0 9 1 12 2 8 3 1 4 -6 5 -2 6 -2 7 -2 8 -1 9 -2 10 0 11 -2"/>
<path d="M0 5 1 8 2 2 3 1 4 -5 5 -4 6 -8 7 -9 8 -3 9 2 10 1 11 3"/>
<path d="M0 6 1 7 2 6 3 10 4 8 5 10 6 4 7 5 8 8 9 -11 10 -6 11 -5"/>
<path d="M0 4 1 -1 2 -1 3 5 4 -3 5 6 6 0 7 -2 8 1 9 -1 10 -1 11 3"/>
<path d="M0 8 1 7 2 7 3 1 4 -1 5 0 6 -6 7 -5 8 -7 9 -2 10 2 11 1"/>
<path d="M0 10 1 6 2 4 3 -2 4 -5 5 -4 6 -29 7 -7 8 -5 9 0 10 3 11 1"/>
<path d="M0 14 1 7 2 8 3 0 4 1 5 3 6 -22 7 -2 8 -1 9 3 10 3 11 -3"/>
<path d="M0 13 1 13 2 12 3 4 4 4 5 6 6 -2 7 -6 8 -7 9 6 10 6 11 4"/>
<path d="M0 7 1 4 2 3 3 9 4 3 5 7 6 0 7 -1 8 1 9 -4 10 -3 11 -4"/>
<path d="M0 12 1 9 2 11 3 2 4 -1 5 6 6 -14 7 -4 8 -3 9 7 10 10 11 2"/>
<path d="M0 6 1 6 2 8 3 2 4 2 5 5 6 -22 7 -2 8 0 9 4 10 -1 11 1"/>
<path d="M0 9 1 7 2 7 3 -16 4 3 5 8 6 0 7 3 8 0 9 -9 10 -7 11 -7"/>
<path d="M0 9 1 10 2 9 3 -2 4 -5 5 -2 6 -6 7 -9 8 -3 9 -3 10 -1 11 0"/>
<path d="M0 5 1 7 2 10 3 -5 4 -5 5 -10 6 -6 7 0 8 -4 9 6 10 11 11 4"/>
<path d="M0 6 1 7 2 5 3 1 4 -1 5 0 6 -5 7 -5 8 -4 9 -2 10 4 11 2"/>
<path d="M0 9 1 5 2 9 3 -4 4 -7 5 -13 6 -9 7 -6 8 -8 9 -1 10 -2 11 -2"/>
<path d="M0 8 1 8 2 10 3 -1 4 -6 5 -6 6 -2 7 -1 8 -2 9 1 10 2 11 3"/>
<path d="M0 8 1 6 2 2 3 4 4 0 5 3 6 -13 7 -11 8 -8 9 3 10 1 11 -5"/>
<path d="M0 11 1 7 2 11 3 4 4 0 5 4 6 -1 7 1 8 -1 9 1 10 -3 11 -2"/>
<path d="M0 7 1 1 2 1 3 4 4 6 5 4 6 -8 7 -8 8 -2 9 -8 10 -9 11 -10"/>
<path d="M0 11 1 12 2 9 3 -2 4 -7 5 -4 6 -8 7 -6 8 -6 9 0 10 4 11 2"/>
<path d="M0 15 1 13 2 15 3 -1 4 -3 5 -3 6 -13 7 -13 8 -13 9 4 10 3 11 3"/>
<path d="M0 -2 1 7 2 15 3 5 4 11 5 8 6 12 7 13 8 13 9 -7 10 -5 11 -2"/>
<path d="M0 5 1 8 2 10 3 4 4 0 5 4 6 -7 7 0 8 -5 9 -5 10 5 11 0"/>
<path d="M0 13 1 14 2 12 3 -4 4 -5 5 -9 6 -6 7 -12 8 -7 9 9 10 9 11 5"/>
<path d="M0 -3 1 -2 2 2 3 -8 4 -14 5 -2 6 -6 7 7 8 -10 9 -7 10 -1 11 -1"/>
<path d="M0 1 1 -3 2 -2 3 -2 4 -2 5 3 6 5 7 3 8 1 9 2 10 3 11 2"/>
<path d="M0 7 1 4 2 2 3 3 4 -2 5 1 6 -6 7 -5 8 -5 9 3 10 4 11 7"/>
<path d="M0 2 1 3 2 -1 3 6 4 -2 5 1 6 -17 7 -13 8 -9 9 12 10 6 11 16"/>
<path d="M0 4 1 3 2 2 3 9 4 2 5 6 6 3 7 -1 8 2 9 -6 10 0 11 -5"/>
<path d="M0 7 1 9 2 4 3 -3 4 -3 5 -1 6 -2 7 -2 8 2 9 -2 10 1 11 -4"/>
<path d="M0 14 1 18 2 13 3 -3 4 -7 5 -1 6 -5 7 -2 8 -1 9 7 10 7 11 7"/>
<path d="M0 2 1 -6 2 -1 3 1 4 -3 5 -3 6 8 7 11 8 2 9 0 10 1 11 1"/>
<path d="M0 -6 1 -1 2 2 3 1 4 5 5 0 6 -1 7 10 8 5 9 -2 10 -3 11 -5"/>
<path d="M0 12 1 13 2 6 3 1 4 -5 5 -2 6 -3 7 -6 8 3 9 6 10 5 11 3"/>
<path d="M0 3 1 2 2 3 3 -2 4 -3 5 -1 6 -3 7 -4 8 -1 9 2 10 4 11 5"/>
<path d="M0 20 1 10 2 17 3 -10 4 -11 5 -8 6 -23 7 -19 8 -16 9 9 10 6 11 9"/>
<path d="M0 5 1 7 2 7 3 -1 4 0 5 3 6 -2 7 -1 8 -2 9 0 10 5 11 3"/>
<path d="M0 14 1 16 2 6 3 -7 4 -2 5 -6 6 -1 7 -4 8 9 9 -6 10 1 11 -9"/>
<path d="M0 7 1 5 2 3 3 3 4 -3 5 -1 6 1 7 3 8 2 9 -7 10 -5 11 -6"/>
<path d="M0 7 1 7 2 5 3 2 4 -1 5 0 6 -7 7 -1 8 -1 9 1 10 3 11 1"/>
<path d="M0 4 1 0 2 4 3 0 4 -1 5 0 6 -6 7 -2 8 -3 9 -3 10 0 11 -4"/>
<path d="M0 5 1 1 2 4 3 -1 4 -6 5 -4 6 -22 7 -14 8 -6 9 3 10 5 11 7"/>
<path d="M0 2 1 0 2 4 3 5 4 4 5 5 6 0 7 -2 8 -4 9 -7 10 -11 11 -10"/>
<path d="M0 5 1 9 2 10 3 -15 4 -8 5 -1 6 -48 7 -12 8 -11 9 6 10 10 11 5"/>
<path d="M0 2 1 0 2 4 3 2 4 1 5 1 6 -4 7 -1 8 -1 9 -2 10 2 11 2"/>
<path d="M0 4 1 6 2 2 3 9 4 9 5 6 6 1 7 -2 8 4 9 -13 10 -16 11 -8"/>
<path d="M0 13 1 7 2 20 3 1 4 0 5 -1 6 -20 7 -6 8 -17 9 7 10 12 11 7"/>
<path d="M0 16 1 14 2 12 3 -10 4 -13 5 -10 6 -15 7 -14 8 -9 9 7 10 7 11 7"/>
<path d="M0 0 1 4 2 0 3 8 4 9 5 8 6 -4 7 -3 8 -3 9 -1 10 -9 11 -6"/>
<path d="M0 -1 1 2 2 4 3 4 4 4 5 -1 6 2 7 8 8 -2 9 -7 10 -6 11 2"/>
<path d="M0 7 1 12 2 11 3 -1 4 -4 5 -6 6 -2 7 -9 8 -2 9 -1 10 -4 11 -2"/>
<path d="M0 7 1 11 2 6 3 -1 4 3 5 4 6 -8 7 -4 8 -7 9 1 10 7 11 5"/>
<path d="M0 0 1 2 2 0 3 -14 4 1 5 3 6 5 7 5 8 6 9 -6 10 -6 11 -8"/>
<path d="M0 5 1 3 2 3 3 1 4 1 5 -3 6 -4 7 -2 8 -3 9 -1 10 2 11 1"/>
<path d="M0 17 1 11 2 12 3 5 4 -6 5 9 6 -1 7 3 8 8 9 -2 10 -1 11 1"/>
<path d="M0 9 1 16 2 8 3 -3 4 0 5 -4 6 -11 7 -8 8 -13 9 4 10 2 11 4"/>
<path d="M0 14 1 14 2 8 3 -3 4 -4 5 -8 6 -9 7 2 8 -9 9 -2 10 0 11 1"/>
<path d="M0 15 1 19 2 13 3 -7 4 -7 5 -5 6 -8 7 -10 8 -7 9 6 10 11 11 11"/>
<path d="M0 5 1 7 2 5 3 2 4 -3 5 1 6 -3 7 -1 8 -3 9 -4 10 3 11 0"/>
<path d="M0 12 1 18 2 7 3 -4 4 -4 5 -9 6 -8 7 -6 8 0 9 3 10 4 11 3"/>
<path d="M0 6 1 4 2 3 3 5 4 1 5 4 6 -3 7 -2 8 -1 9 -6 10 -3 11 -1"/>
<path d="M0 6 1 4 2 9 3 0 4 -3 5 0 6 -6 7 -5 8 -3 9 -4 10 -2 11 -4"/>
<path d="M0 18 1 15 2 14 3 -5 4 -4 5 -4 6 -17 7 -18 8 -16 9 10 10 9 11 8"/>
<path d="M0 3 1 3 2 1 3 1 4 -1 5 2 6 1 7 2 8 0 9 -5 10 -4 11 -4"/>
<path d="M0 11 1 7 2 6 3 1 4 -6 5 0 6 -8 7 -6 8 -5 9 -2 10 1 11 -3"/>
<path d="M0 9 1 9 2 5 3 2 4 -2 5 0 6 -5 7 0 8 -3 9 2 10 3 11 5"/>
<path d="M0 4 1 1 2 6 3 -5 4 -1 5 0 6 -7 7 -6 8 -2 9 0 10 -4 11 -2"/>
<path d="M0 -3 1 -8 2 9 3 -10 4 -7 5 -2 6 -2 7 4 8 4 9 -3 10 2 11 -7"/>
<path d="M0 15 1 11 2 9 3 0 4 -1 5 -2 6 -8 7 -13 8 -9 9 2 10 2 11 7"/>
<path d="M0 19 1 20 2 15 3 -5 4 -7 5 -8 6 -14 7 -7 8 -7 9 9 10 14 11 11"/>
<path d="M0 20 1 19 2 18 3 -10 4 -1 5 -4 6 -21 7 -15 8 -14 9 0 10 9 11 5"/>
<path d="M0 2 1 4 2 3 3 -2 4 1 5 2 6 -13 7 -7 8 -10 9 0 10 -1 11 3"/>
<path d="M0 7 1 5 2 0 3 4 4 4 5 -5 6 1 7 3 8 -5 9 4 10 3 11 -2"/>
<path d="M0 13 1 8 2 9 3 -3 4 -12 5 0 6 -15 7 -12 8 -13 9 0 10 6 11 -2"/>
<path d="M0 14 1 10 2 5 3 1 4 -5 5 -5 6 -10 7 -5 8 -4 9 5 10 7 11 10"/>
<path d="M0 -3 1 0 2 1 3 0 4 -8 5 -7 6 -4 7 1 8 -1 9 -1 10 -1 11 -3"/>
<path d="M0 8 1 7 2 5 3 -2 4 -4 5 -3 6 -3 7 1 8 2 9 2 10 3 11 3"/>
<path d="M0 -1 1 1 2 5 3 3 4 -1 5 1 6 -4 7 0 8 4 9 0 10 2 11 -1"/>
<path d="M0 8 1 5 2 3 3 1 4 0 5 2 6 -4 7 -1 8 -3 9 -3 10 4 11 1"/>
<path d="M0 18 1 15 2 15 3 5 4 0 5 7 6 -5 7 -3 8 -6 9 -7 10 -1 11 -2"/>
<path d="M0 3 1 -25 2 5 3 9 4 5 5 5 6 0 7 1 8 8 9 -10 10 -1 11 -6"/>
<path d="M0 3 1 1 2 0 3 8 4 6 5 7 6 1 7 2 8 0 9 -5 10 -5 11 -7"/>
<path d="M0 14 1 4 2 5 3 3 4 1 5 -1 6 1 7 -3 8 -5 9 -7 10 2 11 0"/>
<path d="M0 1 1 5 2 0 3 -1 4 -1 5 -1 6 8 7 3 8 4 9 -10 10 -8 11 -8"/>
<path d="M0 8 1 5 2 3 3 -2 4 0 5 -1 6 -3 7 -1 8 -1 9 -3 10 3 11 -2"/>
<path d="M0 7 1 6 2 4 3 -10 4 -16 5 -12 6 -8 7 -2 8 -1 9 3 10 -3 11 3"/>
<path d="M0 3 1 4 2 6 3 -1 4 2 5 5 6 0 7 4 8 2 9 -1 10 -3 11 1"/>
<path d="M0 13 1 12 2 6 3 -1 4 -5 5 0 6 -7 7 -5 8 -8 9 -2 10 3 11 -5"/>
<path d="M0 0 1 6 2 -2 3 5 4 4 5 4 6 -6 7 11 8 7 9 -3 10 -3 11 0"/>
<path d="M0 5 1 8 2 9 3 3 4 -1 5 3 6 -3 7 1 8 4 9 -6 10 -1 11 1"/>
<path d="M0 12 1 9 2 15 3 -3 4 -7 5 -6 6 -6 7 -7 8 -8 9 1 10 2 11 3"/>
<path d="M0 8 1 10 2 5 3 4 4 -3 5 0 6 -1 7 0 8 2 9 -1 10 5 11 -1"/>
<path d="M0 9 1 4 2 8 3 -17 4 0 5 4 6 4 7 0 8 -1 9 -6 10 -2 11 -1"/>
<path d="M0 5 1 5 2 7 3 4 4 0 5 3 6 -3 7 -2 8 -2 9 -3 10 1 11 1"/>
<path d="M0 9 1 7 2 3 3 5 4 2 5 5 6 -2 7 -6 8 -4 9 1 10 1 11 3"/>
<path d="M0 5 1 9 2 3 3 -7 4 -6 5 -4 6 -6 7 -7 8 -8 9 6 10 7 11 8"/>
<path d="M0 15 1 16 2 19 3 -9 4 -13 5 -8 6 -23 7 -22 8 -22 9 13 10 19 11 7"/>
<path d="M0 14 1 14 2 9 3 -20 4 -3 5 -2 6 -11 7 -2 8 -3 9 0 10 2 11 5"/>
<path d="M0 13 1 6 2 6 3 2 4 -16 5 -1 6 -7 7 -6 8 0 9 -2 10 2 11 0"/>
<path d="M0 7 1 7 2 5 3 1 4 -5 5 -1 6 -7 7 -7 8 -8 9 -4 10 0 11 2"/>
<path d="M0 16 1 6 2 4 3 1 4 0 5 2 6 -7 7 -1 8 1 9 -2 10 4 11 4"/>
<path d="M0 11 1 10 2 8 3 -7 4 -7 5 -10 6 -9 7 -7 8 -11 9 3 10 4 11 4"/>
<path d="M0 -5 1 -2 2 -9 3 5 4 0 5 8 6 7 7 3 8 7 9 -7 10 -2 11 -7"/>
</g>
<path d="M78.1 983.4 96.1 983.4 114.1 984.6 132.2 989.8 150.2 991.5 168.2 990.6 186.2 994 204.2 992.7 222.3 992.7 240.3 990.6 258.3 988.9 276.3 989.8" fill="none" stroke="#000" stroke-width="2"/>
<rect x="67.7" y="896.9" width="219.4" height="185.2" fill="none" stroke="#7a7a7a" stroke-width="1.4"/>
<rect x="67.7" y="872.3" width="219.4" height="24.6" fill="#c4c4c4" stroke="#4a4a4a" stroke-width="1.5"/>
<g transform="translate(177.6 890.9)"><text font-size="16.6" text-anchor="middle" class="t">AAM.up.5</text></g>
<text x="248.8" y="938" font-size="24" font-weight="bold" letter-spacing="1.0" text-anchor="middle" fill="#000" stroke="#000" stroke-width="1.1">785</text>
<rect x="294" y="896.9" width="219.8" height="185.2" fill="#fff"/>
<path d="M294 1053.1H513.8M294 1010.9H513.8M294 968.8H513.8M294 926.6H513.8" stroke="#f2f2f2" stroke-width="0.6" fill="none"/>
<path d="M294 1074.2H513.8M294 1032H513.8M294 989.9H513.8M294 947.7H513.8M294 905.6H513.8M304.7 896.9V1082.1M322.8 896.9V1082.1M340.8 896.9V1082.1M358.9 896.9V1082.1M377 896.9V1082.1M395 896.9V1082.1M413.1 896.9V1082.1M431.2 896.9V1082.1M449.3 896.9V1082.1M467.3 896.9V1082.1M485.4 896.9V1082.1M503.5 896.9V1082.1" stroke="#e6e6e6" stroke-width="1" fill="none"/>
<g class="L" transform="translate(304.7 989.9) scale(18.0700 -0.8430)" stroke-opacity="0.100">
<path d="M0 -2 1 -2 2 -2 3 2 4 4 5 5 6 15 7 8 8 7 9 0 10 -6 11 -6"/>
<path d="M0 4 1 4 2 6 3 6 4 4 5 10 6 16 7 7 8 8 9 -10 10 -13 11 -14"/>
<path d="M0 4 1 1 2 1 3 6 4 13 5 13 6 19 7 10 8 17 9 -7 10 -14 11 -9"/>
<path d="M0 -1 1 -4 2 -3 3 2 4 5 5 8 6 14 7 7 8 9 9 -1 10 -12 11 -10"/>
<path d="M0 -1 1 -2 2 -2 3 4 4 6 5 9 6 15 7 7 8 7 9 -2 10 -11 11 -10"/>
<path d="M0 3 1 0 2 2 3 4 4 6 5 11 6 12 7 7 8 8 9 -3 10 -11 11 -8"/>
<path d="M0 4 1 0 2 -1 3 5 4 7 5 8 6 12 7 7 8 6 9 -3 10 -12 11 -10"/>
<path d="M0 0 1 -1 2 -4 3 7 4 7 5 8 6 21 7 16 8 13 9 1 10 -17 11 -10"/>
<path d="M0 1 1 -2 2 1 3 3 4 11 5 8 6 16 7 16 8 14 9 -4 10 -11 11 -10"/>
<path d="M0 0 1 -1 2 0 3 6 4 9 5 9 6 20 7 8 8 8 9 -6 10 -11 11 -9"/>
<path d="M0 -1 1 -2 2 -3 3 5 4 6 5 11 6 9 7 -1 8 0 9 -1 10 -7 11 -5"/>
<path d="M0 1 1 2 2 0 3 10 4 14 5 15 6 23 7 16 8 15 9 -10 10 -17 11 -20"/>
<path d="M0 1 1 0 2 1 3 3 4 8 5 10 6 15 7 8 8 9 9 -4 10 -12 11 -9"/>
<path d="M0 1 1 2 2 -1 3 3 4 9 5 9 6 15 7 12 8 10 9 -2 10 -16 11 -7"/>
<path d="M0 -1 1 -3 2 -3 3 3 4 5 5 5 6 18 7 6 8 6 9 -2 10 -8 11 -7"/>
<path d="M0 -2 1 -1 2 -1 3 2 4 5 5 8 6 11 7 2 8 4 9 -8 10 -12 11 -11"/>
<path d="M0 -2 1 -4 2 -3 3 1 4 4 5 7 6 12 7 5 8 4 9 1 10 -8 11 -6"/>
<path d="M0 -2 1 -5 2 -6 3 -2 4 1 5 4 6 12 7 2 8 1 9 3 10 -2 11 -2"/>
<path d="M0 -2 1 -5 2 -3 3 5 4 7 5 8 6 13 7 4 8 3 9 3 10 -8 11 -3"/>
<path d="M0 1 1 1 2 1 3 7 4 12 5 14 6 16 7 8 8 7 9 -8 10 -18 11 -13"/>
<path d="M0 0 1 -2 2 -1 3 4 4 9 5 9 6 14 7 8 8 11 9 -6 10 -15 11 -13"/>
<path d="M0 -3 1 -5 2 -3 3 2 4 5 5 6 6 15 7 6 8 7 9 2 10 -8 11 -4"/>
<path d="M0 0 1 -2 2 0 3 3 4 6 5 8 6 15 7 7 8 6 9 -2 10 -13 11 -10"/>
<path d="M0 1 1 -1 2 -2 3 21 4 9 5 11 6 17 7 5 8 5 9 -3 10 -18 11 -12"/>
<path d="M0 0 1 -3 2 -2 3 2 4 6 5 8 6 18 7 13 8 13 9 -4 10 -11 11 -9"/>
<path d="M0 -2 1 -2 2 0 3 7 4 7 5 10 6 16 7 8 8 9 9 -1 10 -10 11 -8"/>
<path d="M0 -3 1 -2 2 -3 3 4 4 6 5 7 6 17 7 8 8 10 9 2 10 -9 11 -8"/>
<path d="M0 -1 1 -3 2 -2 3 4 4 7 5 8 6 16 7 7 8 9 9 1 10 -8 11 -5"/>
<path d="M0 0 1 2 2 1 3 6 4 -1 5 10 6 18 7 9 8 9 9 -6 10 -13 11 -12"/>
<path d="M0 6 1 4 2 2 3 6 4 13 5 14 6 24 7 16 8 14 9 -7 10 -19 11 -14"/>
<path d="M0 2 1 0 2 -2 3 4 4 7 5 9 6 18 7 11 8 10 9 -1 10 -11 11 -10"/>
<path d="M0 6 1 5 2 3 3 8 4 10 5 13 6 21 7 13 8 15 9 -12 10 -21 11 -18"/>
<path d="M0 0 1 0 2 0 3 1 4 7 5 7 6 15 7 2 8 4 9 -4 10 -12 11 -9"/>
<path d="M0 -3 1 -3 2 -5 3 1 4 6 5 5 6 10 7 4 8 3 9 -5 10 -11 11 -12"/>
<path d="M0 -4 1 -3 2 -6 3 5 4 6 5 9 6 12 7 12 8 6 9 2 10 -4 11 -1"/>
<path d="M0 0 1 -1 2 -2 3 3 4 6 5 6 6 13 7 7 8 5 9 3 10 -8 11 -5"/>
<path d="M0 2 1 1 2 -1 3 5 4 8 5 7 6 16 7 8 8 12 9 -7 10 -15 11 -11"/>
<path d="M0 -3 1 -4 2 -4 3 0 4 4 5 5 6 11 7 4 8 3 9 -1 10 -9 11 -7"/>
<path d="M0 -3 1 -4 2 -7 3 -2 4 0 5 3 6 10 7 4 8 5 9 2 10 -10 11 -7"/>
<path d="M0 0 1 -3 2 -3 3 1 4 4 5 6 6 10 7 5 8 5 9 0 10 -11 11 -5"/>
<path d="M0 1 1 -1 2 3 3 6 4 8 5 9 6 14 7 5 8 7 9 1 10 -8 11 -7"/>
<path d="M0 -2 1 -5 2 -4 3 1 4 3 5 5 6 12 7 5 8 7 9 -1 10 -9 11 -7"/>
<path d="M0 -2 1 -3 2 -5 3 0 4 6 5 6 6 14 7 2 8 2 9 1 10 -12 11 -11"/>
<path d="M0 1 1 -2 2 -2 3 8 4 10 5 11 6 11 7 2 8 6 9 -8 10 -13 11 -10"/>
<path d="M0 0 1 -3 2 -3 3 1 4 5 5 6 6 14 7 5 8 4 9 -1 10 -10 11 -6"/>
<path d="M0 -1 1 -2 2 -2 3 4 4 7 5 9 6 15 7 12 8 13 9 -3 10 -15 11 -12"/>
<path d="M0 -4 1 0 2 -1 3 8 4 9 5 12 6 19 7 8 8 9 9 -4 10 -13 11 -8"/>
<path d="M0 -1 1 -2 2 -2 3 1 4 5 5 6 6 20 7 3 8 5 9 -3 10 -11 11 -9"/>
<path d="M0 5 1 2 2 1 3 4 4 5 5 12 6 19 7 9 8 14 9 -6 10 -15 11 -13"/>
<path d="M0 1 1 1 2 0 3 7 4 7 5 10 6 14 7 12 8 6 9 -2 10 -7 11 -9"/>
<path d="M0 0 1 -1 2 0 3 1 4 4 5 8 6 15 7 6 8 7 9 -4 10 -9 11 -9"/>
<path d="M0 -3 1 -5 2 -3 3 1 4 4 5 5 6 11 7 3 8 4 9 2 10 -7 11 -4"/>
<path d="M0 1 1 0 2 -2 3 0 4 5 5 4 6 24 7 5 8 7 9 1 10 -7 11 -8"/>
<path d="M0 2 1 1 2 -1 3 4 4 7 5 9 6 15 7 7 8 6 9 -4 10 -15 11 -8"/>
<path d="M0 -1 1 -2 2 -2 3 4 4 6 5 10 6 14 7 6 8 4 9 0 10 -9 11 -5"/>
<path d="M0 -2 1 -4 2 -2 3 2 4 5 5 6 6 14 7 6 8 6 9 4 10 -9 11 -5"/>
<path d="M0 1 1 -2 2 2 3 5 4 6 5 9 6 11 7 5 8 6 9 -3 10 -7 11 -6"/>
<path d="M0 -1 1 -2 2 -7 3 10 4 14 5 13 6 17 7 6 8 9 9 -8 10 -12 11 -14"/>
<path d="M0 1 1 -6 2 -12 3 3 4 5 5 9 6 16 7 6 8 6 9 -1 10 -7 11 -5"/>
<path d="M0 3 1 0 2 1 3 9 4 12 5 12 6 16 7 10 8 9 9 -3 10 -11 11 -8"/>
<path d="M0 5 1 3 2 2 3 12 4 15 5 10 6 20 7 16 8 13 9 -7 10 -18 11 -10"/>
<path d="M0 -1 1 -2 2 -3 3 3 4 7 5 11 6 12 7 8 8 7 9 -4 10 -12 11 -10"/>
<path d="M0 1 1 -3 2 -5 3 6 4 10 5 12 6 28 7 15 8 11 9 1 10 -12 11 -5"/>
<path d="M0 0 1 -1 2 1 3 7 4 6 5 6 6 15 7 8 8 8 9 3 10 -7 11 -4"/>
<path d="M0 1 1 -1 2 1 3 7 4 7 5 9 6 12 7 6 8 9 9 -1 10 -7 11 -7"/>
<path d="M0 -6 1 -4 2 -7 3 1 4 10 5 3 6 14 7 7 8 5 9 2 10 -8 11 -4"/>
<path d="M0 -4 1 -3 2 -2 3 0 4 4 5 5 6 13 7 5 8 7 9 0 10 -10 11 -8"/>
<path d="M0 -5 1 -5 2 -6 3 -1 4 -4 5 5 6 12 7 4 8 6 9 0 10 -9 11 -6"/>
<path d="M0 0 1 -2 2 -3 3 2 4 6 5 8 6 17 7 6 8 7 9 0 10 -13 11 -6"/>
<path d="M0 -2 1 -5 2 -3 3 -1 4 3 5 5 6 14 7 4 8 3 9 2 10 -6 11 -5"/>
<path d="M0 -7 1 -9 2 -7 3 -1 4 3 5 5 6 15 7 3 8 0 9 0 10 -8 11 -6"/>
<path d="M0 -2 1 -3 2 -1 3 3 4 6 5 7 6 11 7 3 8 5 9 2 10 -9 11 -6"/>
<path d="M0 -3 1 -5 2 -4 3 1 4 4 5 6 6 11 7 6 8 4 9 1 10 -8 11 -7"/>
<path d="M0 -3 1 -4 2 -8 3 -1 4 1 5 4 6 7 7 0 8 3 9 -4 10 -10 11 -7"/>
<path d="M0 -5 1 -5 2 -3 3 1 4 3 5 5 6 11 7 3 8 5 9 1 10 -10 11 -7"/>
<path d="M0 2 1 2 2 2 3 11 4 13 5 13 6 18 7 10 8 8 9 -1 10 -10 11 -10"/>
<path d="M0 -1 1 -2 2 -3 3 3 4 7 5 9 6 14 7 8 8 6 9 -2 10 -10 11 -8"/>
<path d="M0 -5 1 -4 2 -4 3 -2 4 3 5 5 6 15 7 6 8 5 9 6 10 -6 11 0"/>
<path d="M0 1 1 2 2 0 3 3 4 7 5 8 6 21 7 10 8 11 9 -3 10 -9 11 -8"/>
<path d="M0 0 1 -3 2 -1 3 -1 4 1 5 6 6 10 7 5 8 4 9 1 10 -5 11 -4"/>
<path d="M0 3 1 1 2 0 3 5 4 7 5 10 6 21 7 10 8 14 9 -5 10 -11 11 -15"/>
<path d="M0 1 1 -3 2 0 3 4 4 3 5 7 6 18 7 9 8 12 9 -6 10 -10 11 -7"/>
<path d="M0 1 1 -5 2 -1 3 -1 4 1 5 6 6 30 7 5 8 5 9 -1 10 -12 11 -8"/>
<path d="M0 2 1 0 2 0 3 3 4 6 5 11 6 25 7 9 8 7 9 -4 10 -14 11 -10"/>
<path d="M0 -3 1 -2 2 -4 3 1 4 6 5 3 6 14 7 6 8 4 9 2 10 -10 11 -3"/>
<path d="M0 2 1 1 2 0 3 1 4 6 5 7 6 12 7 6 8 5 9 0 10 -8 11 -6"/>
<path d="M0 -3 1 -3 2 -3 3 2 4 6 5 7 6 11 7 4 8 2 9 0 10 -10 11 -7"/>
<path d="M0 1 1 -2 2 -1 3 1 4 3 5 5 6 25 7 5 8 7 9 -1 10 -9 11 -7"/>
<path d="M0 -6 1 -7 2 -5 3 -1 4 -2 5 4 6 12 7 9 8 2 9 -1 10 -13 11 -7"/>
<path d="M0 -2 1 -4 2 -3 3 2 4 3 5 7 6 12 7 7 8 3 9 2 10 -6 11 -4"/>
<path d="M0 -1 1 -2 2 0 3 5 4 8 5 8 6 14 7 7 8 6 9 -2 10 -12 11 -8"/>
<path d="M0 -4 1 -2 2 0 3 6 4 11 5 11 6 15 7 9 8 5 9 -3 10 -11 11 -10"/>
<path d="M0 -1 1 -5 2 -4 3 1 4 -3 5 8 6 13 7 5 8 6 9 0 10 -7 11 -7"/>
<path d="M0 -2 1 -2 2 -1 3 3 4 6 5 7 6 15 7 9 8 6 9 -1 10 -10 11 -7"/>
<path d="M0 -1 1 -1 2 -2 3 20 4 4 5 6 6 15 7 4 8 2 9 -5 10 -10 11 -7"/>
<path d="M0 -1 1 -4 2 -2 3 1 4 3 5 5 6 11 7 3 8 0 9 -2 10 -10 11 -10"/>
<path d="M0 5 1 6 2 6 3 10 4 13 5 10 6 26 7 13 8 15 9 -11 10 -22 11 -18"/>
<path d="M0 1 1 -1 2 0 3 5 4 6 5 8 6 15 7 7 8 11 9 -1 10 -11 11 -10"/>
<path d="M0 -2 1 -3 2 -3 3 2 4 4 5 6 6 12 7 7 8 3 9 2 10 -6 11 -4"/>
<path d="M0 0 1 -3 2 -2 3 1 4 4 5 5 6 10 7 6 8 8 9 -2 10 -13 11 -7"/>
<path d="M0 2 1 2 2 -1 3 4 4 6 5 8 6 9 7 5 8 5 9 0 10 -9 11 -6"/>
<path d="M0 4 1 5 2 4 3 4 4 7 5 10 6 26 7 15 8 17 9 -7 10 -18 11 -11"/>
<path d="M0 1 1 -2 2 -3 3 1 4 6 5 8 6 12 7 5 8 6 9 -4 10 -11 11 -13"/>
<path d="M0 -3 1 -3 2 -3 3 0 4 4 5 5 6 11 7 5 8 5 9 2 10 -7 11 -5"/>
<path d="M0 -1 1 -1 2 0 3 5 4 6 5 11 6 15 7 6 8 8 9 -4 10 -12 11 -13"/>
<path d="M0 -4 1 -5 2 -2 3 2 4 6 5 5 6 15 7 7 8 5 9 -1 10 -9 11 -6"/>
<path d="M0 1 1 -1 2 1 3 5 4 8 5 10 6 15 7 6 8 8 9 -4 10 -12 11 -9"/>
<path d="M0 -2 1 -4 2 -2 3 4 4 6 5 8 6 16 7 7 8 7 9 -4 10 -10 11 -7"/>
<path d="M0 2 1 4 2 3 3 6 4 10 5 8 6 13 7 4 8 3 9 1 10 -12 11 -9"/>
<path d="M0 -5 1 -4 2 -6 3 -1 4 6 5 10 6 33 7 11 8 5 9 4 10 -6 11 -5"/>
<path d="M0 -2 1 -6 2 -2 3 -2 4 2 5 5 6 10 7 1 8 3 9 1 10 -10 11 -5"/>
<path d="M0 -3 1 -2 2 -2 3 2 4 4 5 6 6 13 7 7 8 5 9 1 10 -10 11 -8"/>
<path d="M0 -4 1 -5 2 -3 3 1 4 4 5 4 6 13 7 3 8 2 9 3 10 -8 11 -4"/>
<path d="M0 -3 1 -3 2 -3 3 -2 4 4 5 4 6 12 7 3 8 5 9 -1 10 -8 11 -6"/>
<path d="M0 -3 1 -6 2 -2 3 0 4 0 5 3 6 13 7 5 8 6 9 -1 10 -8 11 -6"/>
<path d="M0 -2 1 -1 2 1 3 5 4 7 5 10 6 13 7 6 8 5 9 -4 10 -15 11 -12"/>
<path d="M0 -5 1 -8 2 -4 3 3 4 4 5 8 6 19 7 9 8 7 9 1 10 -7 11 -2"/>
<path d="M0 2 1 -2 2 0 3 6 4 9 5 10 6 17 7 7 8 8 9 -6 10 -13 11 -9"/>
<path d="M0 -2 1 -3 2 -4 3 0 4 3 5 5 6 12 7 5 8 4 9 2 10 -6 11 -4"/>
<path d="M0 -1 1 -2 2 -2 3 6 4 8 5 13 6 19 7 12 8 13 9 -8 10 -21 11 -15"/>
<path d="M0 0 1 -2 2 0 3 1 4 5 5 7 6 16 7 8 8 9 9 2 10 -13 11 -8"/>
<path d="M0 1 1 0 2 1 3 5 4 6 5 9 6 13 7 9 8 7 9 -1 10 -12 11 -8"/>
<path d="M0 -2 1 -2 2 -1 3 0 4 5 5 6 6 17 7 8 8 12 9 1 10 -10 11 -7"/>
<path d="M0 -2 1 -5 2 -3 3 2 4 5 5 9 6 16 7 7 8 8 9 -3 10 -10 11 -7"/>
<path d="M0 4 1 -2 2 1 3 7 4 8 5 12 6 14 7 11 8 11 9 -4 10 -18 11 -21"/>
<path d="M0 -4 1 -7 2 -5 3 -2 4 4 5 4 6 11 7 5 8 -5 9 2 10 -4 11 -2"/>
<path d="M0 0 1 -2 2 -2 3 5 4 5 5 8 6 14 7 5 8 6 9 -3 10 -8 11 -6"/>
<path d="M0 5 1 1 2 5 3 3 4 10 5 12 6 17 7 6 8 4 9 -4 10 -13 11 -13"/>
<path d="M0 -2 1 -7 2 -4 3 2 4 3 5 8 6 13 7 6 8 9 9 4 10 -7 11 -2"/>
<path d="M0 -1 1 -6 2 -1 3 4 4 5 5 8 6 14 7 5 8 11 9 -5 10 -11 11 -8"/>
<path d="M0 0 1 -3 2 -5 3 0 4 5 5 7 6 10 7 4 8 2 9 0 10 -7 11 -2"/>
<path d="M0 -2 1 -2 2 -2 3 -1 4 2 5 5 6 9 7 6 8 4 9 2 10 -9 11 -5"/>
<path d="M0 2 1 -3 2 -2 3 8 4 15 5 13 6 5 7 4 8 7 9 -7 10 -19 11 -21"/>
<path d="M0 -4 1 -4 2 -7 3 0 4 3 5 6 6 9 7 3 8 2 9 3 10 -6 11 -2"/>
<path d="M0 -3 1 -6 2 -5 3 4 4 4 5 7 6 16 7 8 8 5 9 -5 10 -14 11 -9"/>
<path d="M0 1 1 2 2 3 3 7 4 11 5 12 6 16 7 8 8 7 9 -8 10 -18 11 -12"/>
<path d="M0 0 1 -1 2 1 3 -2 4 1 5 6 6 22 7 13 8 14 9 0 10 -12 11 -6"/>
<path d="M0 -4 1 -4 2 -3 3 3 4 4 5 8 6 12 7 4 8 5 9 1 10 -8 11 -8"/>
<path d="M0 -4 1 -6 2 -7 3 2 4 6 5 7 6 12 7 4 8 4 9 1 10 -9 11 -6"/>
<path d="M0 0 1 -1 2 -1 3 2 4 6 5 7 6 16 7 5 8 1 9 1 10 -9 11 -2"/>
<path d="M0 -2 1 0 2 -3 3 4 4 -16 5 8 6 10 7 4 8 2 9 8 10 -4 11 0"/>
<path d="M0 2 1 2 2 3 3 7 4 9 5 13 6 18 7 14 8 16 9 1 10 -9 11 -11"/>
<path d="M0 -2 1 -3 2 -3 3 2 4 1 5 6 6 18 7 12 8 -30 9 4 10 -9 11 -6"/>
<path d="M0 -1 1 -2 2 -1 3 3 4 4 5 6 6 14 7 3 8 5 9 2 10 -8 11 -6"/>
<path d="M0 0 1 -2 2 -2 3 3 4 6 5 8 6 14 7 6 8 5 9 0 10 -13 11 -7"/>
<path d="M0 -1 1 -3 2 -1 3 2 4 8 5 8 6 14 7 6 8 7 9 0 10 -12 11 -7"/>
<path d="M0 -3 1 -2 2 -4 3 -1 4 3 5 6 6 10 7 1 8 1 9 2 10 -4 11 -4"/>
<path d="M0 -1 1 -1 2 -1 3 3 4 4 5 7 6 13 7 7 8 11 9 -5 10 -11 11 -10"/>
<path d="M0 -1 1 -2 2 1 3 4 4 5 5 8 6 13 7 12 8 9 9 3 10 -5 11 2"/>
<path d="M0 2 1 1 2 5 3 4 4 8 5 12 6 22 7 7 8 1 9 0 10 -9 11 -4"/>
<path d="M0 -6 1 -4 2 -4 3 -3 4 0 5 2 6 6 7 -1 8 -1 9 2 10 -3 11 -6"/>
<path d="M0 -2 1 -4 2 -4 3 2 4 2 5 5 6 11 7 3 8 0 9 -8 10 -12 11 -11"/>
<path d="M0 2 1 -2 2 -1 3 5 4 9 5 9 6 16 7 9 8 4 9 -1 10 -14 11 -14"/>
<path d="M0 0 1 -1 2 -1 3 6 4 6 5 9 6 15 7 8 8 8 9 -3 10 -15 11 -8"/>
<path d="M0 -2 1 -3 2 -3 3 -1 4 4 5 7 6 11 7 5 8 3 9 -2 10 -9 11 -7"/>
<path d="M0 -1 1 -1 2 -1 3 3 4 7 5 9 6 13 7 4 8 7 9 0 10 -9 11 -8"/>
<path d="M0 0 1 -1 2 -1 3 3 4 9 5 6 6 13 7 7 8 6 9 -1 10 -13 11 -8"/>
<path d="M0 -1 1 -2 2 -1 3 3 4 6 5 8 6 16 7 12 8 11 9 -4 10 -15 11 -13"/>
<path d="M0 -6 1 -8 2 -9 3 -1 4 2 5 5 6 6 7 -4 8 -4 9 3 10 -6 11 -6"/>
<path d="M0 -2 1 -4 2 -2 3 0 4 5 5 6 6 11 7 5 8 5 9 0 10 -9 11 -5"/>
<path d="M0 -1 1 0 2 -2 3 4 4 8 5 10 6 13 7 5 8 6 9 1 10 -10 11 -11"/>
<path d="M0 -1 1 -3 2 -2 3 4 4 6 5 10 6 14 7 7 8 6 9 0 10 -8 11 -6"/>
<path d="M0 -3 1 -4 2 -3 3 3 4 4 5 6 6 13 7 5 8 5 9 -1 10 -8 11 -6"/>
<path d="M0 0 1 -1 2 -2 3 3 4 5 5 7 6 13 7 4 8 4 9 1 10 -9 11 -6"/>
<path d="M0 4 1 1 2 2 3 8 4 11 5 13 6 14 7 10 8 8 9 -3 10 -11 11 -10"/>
<path d="M0 -2 1 -3 2 -2 3 1 4 4 5 6 6 11 7 2 8 5 9 -2 10 -8 11 -7"/>
<path d="M0 -5 1 -6 2 -6 3 2 4 5 5 8 6 13 7 6 8 4 9 -2 10 -8 11 -8"/>
<path d="M0 0 1 -4 2 -3 3 3 4 6 5 9 6 16 7 8 8 6 9 0 10 -9 11 -11"/>
<path d="M0 -2 1 -4 2 -3 3 3 4 6 5 8 6 12 7 6 8 5 9 -3 10 -10 11 -6"/>
<path d="M0 2 1 0 2 1 3 4 4 10 5 11 6 19 7 13 8 10 9 -1 10 -14 11 -11"/>
<path d="M0 -1 1 -3 2 -4 3 1 4 5 5 8 6 9 7 6 8 4 9 -1 10 -11 11 -6"/>
<path d="M0 0 1 0 2 -2 3 -1 4 2 5 6 6 13 7 5 8 3 9 -2 10 -14 11 -9"/>
<path d="M0 -4 1 -4 2 -5 3 -3 4 -1 5 1 6 6 7 -3 8 -3 9 4 10 -8 11 -4"/>
<path d="M0 0 1 -1 2 0 3 3 4 4 5 8 6 12 7 -1 8 7 9 0 10 -14 11 -9"/>
<path d="M0 -1 1 -4 2 -2 3 3 4 3 5 8 6 13 7 11 8 7 9 0 10 -11 11 -7"/>
<path d="M0 1 1 -1 2 -1 3 4 4 7 5 11 6 14 7 8 8 6 9 -3 10 -14 11 -6"/>
<path d="M0 -4 1 -4 2 -4 3 0 4 2 5 4 6 11 7 1 8 -1 9 5 10 -6 11 -1"/>
<path d="M0 3 1 1 2 1 3 2 4 4 5 8 6 27 7 11 8 14 9 -1 10 -14 11 -10"/>
<path d="M0 -3 1 -4 2 -3 3 3 4 8 5 9 6 20 7 6 8 4 9 -6 10 -9 11 -7"/>
<path d="M0 5 1 2 2 3 3 9 4 12 5 15 6 25 7 13 8 10 9 -10 10 -16 11 -13"/>
<path d="M0 -3 1 -3 2 -2 3 2 4 3 5 8 6 12 7 4 8 4 9 0 10 -10 11 -7"/>
<path d="M0 -5 1 -5 2 -5 3 -1 4 3 5 3 6 10 7 2 8 5 9 -1 10 -12 11 -7"/>
<path d="M0 3 1 1 2 4 3 3 4 10 5 13 6 20 7 18 8 15 9 -14 10 -24 11 -22"/>
<path d="M0 1 1 -2 2 0 3 3 4 5 5 6 6 29 7 3 8 4 9 -6 10 -11 11 -13"/>
<path d="M0 1 1 -2 2 0 3 5 4 4 5 8 6 14 7 5 8 6 9 -4 10 -15 11 -14"/>
<path d="M0 0 1 -10 2 -2 3 2 4 5 5 9 6 14 7 6 8 5 9 1 10 -8 11 -6"/>
<path d="M0 -3 1 -1 2 -3 3 2 4 8 5 6 6 16 7 11 8 9 9 -5 10 -15 11 -11"/>
<path d="M0 3 1 0 2 1 3 5 4 8 5 9 6 18 7 9 8 10 9 -4 10 -13 11 -13"/>
<path d="M0 -2 1 1 2 0 3 1 4 7 5 12 6 14 7 9 8 10 9 -8 10 -8 11 -15"/>
<path d="M0 -1 1 -3 2 -1 3 2 4 7 5 6 6 12 7 6 8 5 9 -3 10 -9 11 -8"/>
<path d="M0 -1 1 -2 2 -3 3 3 4 6 5 8 6 16 7 8 8 8 9 0 10 -12 11 -7"/>
<path d="M0 -2 1 -4 2 -4 3 3 4 6 5 8 6 14 7 6 8 6 9 -7 10 -12 11 -8"/>
<path d="M0 0 1 -4 2 -3 3 3 4 4 5 8 6 15 7 7 8 12 9 2 10 -6 11 -11"/>
<path d="M0 -5 1 -4 2 -6 3 3 4 5 5 9 6 15 7 6 8 5 9 0 10 -12 11 -8"/>
<path d="M0 -3 1 -3 2 -5 3 10 4 5 5 15 6 15 7 10 8 3 9 -7 10 -10 11 -9"/>
<path d="M0 2 1 0 2 0 3 3 4 7 5 12 6 29 7 8 8 8 9 -2 10 -12 11 -11"/>
<path d="M0 -4 1 -4 2 -7 3 2 4 5 5 7 6 14 7 3 8 7 9 3 10 -7 11 -6"/>
<path d="M0 -2 1 -4 2 -3 3 2 4 4 5 8 6 17 7 10 8 10 9 -1 10 -13 11 -6"/>
<path d="M0 -1 1 -1 2 1 3 4 4 8 5 10 6 11 7 13 8 6 9 -7 10 -10 11 -11"/>
<path d="M0 0 1 -1 2 -1 3 4 4 7 5 8 6 14 7 9 8 4 9 -5 10 -15 11 -11"/>
<path d="M0 5 1 2 2 2 3 8 4 12 5 14 6 19 7 15 8 15 9 -7 10 -11 11 -10"/>
<path d="M0 -1 1 -6 2 -3 3 2 4 4 5 7 6 14 7 8 8 9 9 -6 10 -12 11 -16"/>
<path d="M0 -4 1 -4 2 -4 3 -5 4 1 5 2 6 7 7 3 8 3 9 1 10 -10 11 -6"/>
<path d="M0 0 1 -3 2 -1 3 1 4 7 5 9 6 13 7 5 8 5 9 -3 10 -7 11 -6"/>
<path d="M0 1 1 -2 2 0 3 9 4 10 5 16 6 21 7 12 8 8 9 -9 10 -17 11 -15"/>
<path d="M0 -2 1 -2 2 -2 3 1 4 6 5 7 6 13 7 6 8 7 9 0 10 -8 11 -7"/>
<path d="M0 -2 1 -4 2 -1 3 2 4 4 5 7 6 13 7 7 8 6 9 -3 10 -11 11 -10"/>
<path d="M0 1 1 -1 2 0 3 5 4 7 5 10 6 22 7 13 8 13 9 -4 10 -15 11 -15"/>
<path d="M0 1 1 0 2 -1 3 4 4 5 5 7 6 13 7 7 8 6 9 -1 10 -9 11 -7"/>
<path d="M0 -5 1 -3 2 -2 3 3 4 10 5 9 6 11 7 1 8 3 9 0 10 -11 11 -5"/>
<path d="M0 1 1 -3 2 -2 3 6 4 8 5 12 6 12 7 5 8 5 9 -4 10 -14 11 -10"/>
<path d="M0 -2 1 -4 2 -3 3 2 4 6 5 7 6 14 7 6 8 5 9 -1 10 -8 11 -6"/>
<path d="M0 -2 1 -3 2 -3 3 4 4 4 5 8 6 18 7 9 8 8 9 4 10 -7 11 -6"/>
<path d="M0 -2 1 -1 2 -2 3 4 4 2 5 6 6 4 7 -1 8 2 9 1 10 -9 11 -8"/>
<path d="M0 0 1 -3 2 0 3 1 4 3 5 5 6 14 7 7 8 6 9 2 10 -7 11 -8"/>
<path d="M0 1 1 -1 2 0 3 6 4 7 5 8 6 12 7 8 8 5 9 -5 10 -12 11 -12"/>
<path d="M0 -6 1 -7 2 -4 3 -2 4 3 5 4 6 15 7 4 8 8 9 4 10 -1 11 0"/>
<path d="M0 -1 1 -2 2 -3 3 2 4 6 5 9 6 12 7 4 8 2 9 0 10 -8 11 -5"/>
<path d="M0 0 1 -1 2 -2 3 6 4 8 5 12 6 13 7 7 8 5 9 -4 10 -12 11 -12"/>
<path d="M0 0 1 0 2 -2 3 2 4 6 5 -1 6 14 7 7 8 10 9 0 10 -9 11 -5"/>
<path d="M0 -1 1 -2 2 -1 3 4 4 7 5 9 6 19 7 12 8 13 9 -1 10 -10 11 -9"/>
<path d="M0 0 1 -2 2 -3 3 3 4 8 5 10 6 14 7 10 8 8 9 -5 10 -11 11 -10"/>
<path d="M0 0 1 -2 2 -2 3 7 4 8 5 10 6 14 7 7 8 5 9 -6 10 -15 11 -14"/>
<path d="M0 4 1 -1 2 -2 3 4 4 7 5 8 6 13 7 7 8 4 9 -1 10 -10 11 -9"/>
<path d="M0 -4 1 -5 2 -7 3 1 4 8 5 9 6 13 7 4 8 5 9 2 10 -6 11 -5"/>
<path d="M0 0 1 -2 2 -1 3 1 4 5 5 6 6 11 7 6 8 5 9 -4 10 -11 11 -8"/>
<path d="M0 0 1 -1 2 -3 3 5 4 8 5 10 6 23 7 6 8 6 9 -1 10 -13 11 -9"/>
<path d="M0 -8 1 -10 2 -9 3 -4 4 -2 5 2 6 5 7 -2 8 -1 9 4 10 -5 11 -3"/>
<path d="M0 -6 1 -7 2 -4 3 -2 4 1 5 5 6 11 7 1 8 2 9 4 10 -6 11 -3"/>
<path d="M0 2 1 -1 2 3 3 8 4 11 5 13 6 24 7 16 8 14 9 -8 10 -17 11 -17"/>
<path d="M0 0 1 1 2 -3 3 3 4 7 5 9 6 16 7 4 8 8 9 -7 10 -14 11 -9"/>
<path d="M0 1 1 0 2 -1 3 2 4 6 5 5 6 14 7 11 8 9 9 -4 10 -13 11 -11"/>
<path d="M0 -6 1 -5 2 -4 3 -1 4 4 5 7 6 9 7 1 8 1 9 0 10 -11 11 -4"/>
<path d="M0 -1 1 -2 2 -2 3 5 4 4 5 9 6 16 7 8 8 10 9 3 10 -9 11 -6"/>
<path d="M0 -3 1 1 2 -4 3 5 4 7 5 11 6 10 7 6 8 7 9 2 10 -3 11 -8"/>
<path d="M0 -1 1 -2 2 3 3 1 4 8 5 11 6 20 7 11 8 10 9 -17 10 -10 11 -7"/>
<path d="M0 -2 1 -1 2 -1 3 4 4 9 5 8 6 13 7 5 8 5 9 1 10 -11 11 -8"/>
<path d="M0 0 1 -1 2 2 3 2 4 6 5 7 6 14 7 6 8 6 9 -1 10 -11 11 -7"/>
<path d="M0 -3 1 -3 2 -2 3 4 4 4 5 9 6 15 7 5 8 6 9 0 10 -10 11 -6"/>
<path d="M0 -2 1 -2 2 -2 3 0 4 5 5 4 6 13 7 5 8 7 9 -1 10 -11 11 -7"/>
<path d="M0 1 1 -2 2 0 3 6 4 7 5 11 6 15 7 9 8 11 9 -1 10 -9 11 -7"/>
<path d="M0 -2 1 -5 2 -4 3 5 4 8 5 8 6 16 7 10 8 11 9 -6 10 -13 11 -12"/>
<path d="M0 -3 1 -4 2 -3 3 0 4 5 5 4 6 12 7 5 8 6 9 5 10 -5 11 -3"/>
<path d="M0 -1 1 -6 2 -8 3 3 4 1 5 3 6 10 7 2 8 6 9 -1 10 -9 11 -6"/>
<path d="M0 -5 1 -5 2 -4 3 1 4 4 5 5 6 11 7 1 8 3 9 3 10 -8 11 -7"/>
<path d="M0 -1 1 -1 2 0 3 4 4 9 5 8 6 27 7 14 8 13 9 -2 10 -15 11 -9"/>
<path d="M0 -2 1 -3 2 -2 3 2 4 8 5 9 6 16 7 10 8 9 9 2 10 -8 11 -7"/>
<path d="M0 -2 1 -6 2 -7 3 1 4 5 5 6 6 11 7 1 8 7 9 4 10 -9 11 -4"/>
<path d="M0 1 1 -2 2 -1 3 6 4 11 5 10 6 13 7 5 8 7 9 -3 10 -10 11 -9"/>
<path d="M0 0 1 -1 2 2 3 8 4 13 5 14 6 26 7 14 8 15 9 1 10 -16 11 -11"/>
<path d="M0 -1 1 -2 2 -1 3 2 4 6 5 8 6 12 7 4 8 7 9 -3 10 -12 11 -7"/>
<path d="M0 -3 1 -2 2 -2 3 -1 4 2 5 5 6 12 7 3 8 2 9 2 10 -7 11 -4"/>
</g>
<path d="M304.7 990.6 322.8 991.9 340.8 991.5 358.9 987.6 377 985.1 395 983.4 413.1 977.9 431.2 984.2 449.3 984.2 467.3 991.5 485.4 999.1 503.5 997" fill="none" stroke="#000" stroke-width="2"/>
<rect x="294" y="896.9" width="219.8" height="185.2" fill="none" stroke="#7a7a7a" stroke-width="1.4"/>
<rect x="294" y="872.3" width="219.8" height="24.6" fill="#c4c4c4" stroke="#4a4a4a" stroke-width="1.5"/>
<g transform="translate(404.1 890.9)"><text font-size="16.6" text-anchor="middle" class="t">AAM.down.5</text></g>
<text x="471.5" y="938" font-size="24" font-weight="bold" letter-spacing="1.0" text-anchor="middle" fill="#000" stroke="#000" stroke-width="1.1">252</text>
<g transform="translate(55 1080.5)"><text font-size="16.6" text-anchor="end" class="t">–10</text><rect x="-17.80" y="-2.34" width="3.21" height="4.14" fill="#fff"/><rect x="-12.52" y="-2.34" width="3.08" height="4.14" fill="#fff"/></g>
<g transform="translate(55 1038.3)"><text font-size="16.6" text-anchor="end" class="t">–5</text></g>
<g transform="translate(55 996.1)"><text font-size="16.6" text-anchor="end" class="t">0</text></g>
<g transform="translate(55 954)"><text font-size="16.6" text-anchor="end" class="t">5</text></g>
<g transform="translate(55 911.9)"><text font-size="16.6" text-anchor="end" class="t">10</text><rect x="-17.80" y="-2.34" width="3.21" height="4.14" fill="#fff"/><rect x="-12.52" y="-2.34" width="3.08" height="4.14" fill="#fff"/></g>
<path d="M59.5 1074.2H67.7M59.5 1032H67.7M59.5 989.9H67.7M59.5 947.7H67.7M59.5 905.6H67.7" stroke="#4a4a4a" stroke-width="1.3"/>
<g transform="translate(82.3 1097.2) rotate(-90)"><text font-size="14.8" text-anchor="end" class="t">WT_Inf.1</text><rect x="-7.70" y="-2.21" width="2.89" height="4.01" fill="#fff"/><rect x="-2.90" y="-2.21" width="2.78" height="4.01" fill="#fff"/></g>
<g transform="translate(100.3 1097.2) rotate(-90)"><text font-size="14.8" text-anchor="end" class="t">WT_Inf.2</text></g>
<g transform="translate(118.3 1097.2) rotate(-90)"><text font-size="14.8" text-anchor="end" class="t">WT_Inf.3</text></g>
<g transform="translate(136.4 1097.2) rotate(-90)"><text font-size="14.8" text-anchor="end" class="t">–/–_Inf.1</text><rect x="-7.70" y="-2.21" width="2.89" height="4.01" fill="#fff"/><rect x="-2.90" y="-2.21" width="2.78" height="4.01" fill="#fff"/></g>
<g transform="translate(154.4 1097.2) rotate(-90)"><text font-size="14.8" text-anchor="end" class="t">–/–_Inf.2</text></g>
<g transform="translate(172.4 1097.2) rotate(-90)"><text font-size="14.8" text-anchor="end" class="t">–/–_Inf.3</text></g>
<g transform="translate(190.4 1097.2) rotate(-90)"><text font-size="14.8" text-anchor="end" class="t">WT_Thio.1</text><rect x="-7.70" y="-2.21" width="2.89" height="4.01" fill="#fff"/><rect x="-2.90" y="-2.21" width="2.78" height="4.01" fill="#fff"/></g>
<g transform="translate(208.4 1097.2) rotate(-90)"><text font-size="14.8" text-anchor="end" class="t">WT_Thio.2</text></g>
<g transform="translate(226.5 1097.2) rotate(-90)"><text font-size="14.8" text-anchor="end" class="t">WT_Thio.3</text></g>
<g transform="translate(244.5 1097.2) rotate(-90)"><text font-size="14.8" text-anchor="end" class="t">–/–_Thio.1</text><rect x="-7.70" y="-2.21" width="2.89" height="4.01" fill="#fff"/><rect x="-2.90" y="-2.21" width="2.78" height="4.01" fill="#fff"/></g>
<g transform="translate(262.5 1097.2) rotate(-90)"><text font-size="14.8" text-anchor="end" class="t">–/–_Thio.2</text></g>
<g transform="translate(280.5 1097.2) rotate(-90)"><text font-size="14.8" text-anchor="end" class="t">–/–_Thio.3</text></g>
<g transform="translate(308.9 1097.2) rotate(-90)"><text font-size="14.8" text-anchor="end" class="t">WT_Inf.1</text><rect x="-7.70" y="-2.21" width="2.89" height="4.01" fill="#fff"/><rect x="-2.90" y="-2.21" width="2.78" height="4.01" fill="#fff"/></g>
<g transform="translate(327 1097.2) rotate(-90)"><text font-size="14.8" text-anchor="end" class="t">WT_Inf.2</text></g>
<g transform="translate(345 1097.2) rotate(-90)"><text font-size="14.8" text-anchor="end" class="t">WT_Inf.3</text></g>
<g transform="translate(363.1 1097.2) rotate(-90)"><text font-size="14.8" text-anchor="end" class="t">–/–_Inf.1</text><rect x="-7.70" y="-2.21" width="2.89" height="4.01" fill="#fff"/><rect x="-2.90" y="-2.21" width="2.78" height="4.01" fill="#fff"/></g>
<g transform="translate(381.2 1097.2) rotate(-90)"><text font-size="14.8" text-anchor="end" class="t">–/–_Inf.2</text></g>
<g transform="translate(399.2 1097.2) rotate(-90)"><text font-size="14.8" text-anchor="end" class="t">–/–_Inf.3</text></g>
<g transform="translate(417.3 1097.2) rotate(-90)"><text font-size="14.8" text-anchor="end" class="t">WT_Thio.1</text><rect x="-7.70" y="-2.21" width="2.89" height="4.01" fill="#fff"/><rect x="-2.90" y="-2.21" width="2.78" height="4.01" fill="#fff"/></g>
<g transform="translate(435.4 1097.2) rotate(-90)"><text font-size="14.8" text-anchor="end" class="t">WT_Thio.2</text></g>
<g transform="translate(453.5 1097.2) rotate(-90)"><text font-size="14.8" text-anchor="end" class="t">WT_Thio.3</text></g>
<g transform="translate(471.5 1097.2) rotate(-90)"><text font-size="14.8" text-anchor="end" class="t">–/–_Thio.1</text><rect x="-7.70" y="-2.21" width="2.89" height="4.01" fill="#fff"/><rect x="-2.90" y="-2.21" width="2.78" height="4.01" fill="#fff"/></g>
<g transform="translate(489.6 1097.2) rotate(-90)"><text font-size="14.8" text-anchor="end" class="t">–/–_Thio.2</text></g>
<g transform="translate(507.7 1097.2) rotate(-90)"><text font-size="14.8" text-anchor="end" class="t">–/–_Thio.3</text></g>
<path d="M78.1 1082.1V1089.4M96.1 1082.1V1089.4M114.1 1082.1V1089.4M132.2 1082.1V1089.4M150.2 1082.1V1089.4M168.2 1082.1V1089.4M186.2 1082.1V1089.4M204.2 1082.1V1089.4M222.3 1082.1V1089.4M240.3 1082.1V1089.4M258.3 1082.1V1089.4M276.3 1082.1V1089.4M304.7 1082.1V1089.4M322.8 1082.1V1089.4M340.8 1082.1V1089.4M358.9 1082.1V1089.4M377 1082.1V1089.4M395 1082.1V1089.4M413.1 1082.1V1089.4M431.2 1082.1V1089.4M449.3 1082.1V1089.4M467.3 1082.1V1089.4M485.4 1082.1V1089.4M503.5 1082.1V1089.4" stroke="#4a4a4a" stroke-width="1.3"/>
<text x="290.7" y="1191" font-size="20.7" text-anchor="middle" class="t">Condition</text>
<text transform="translate(19.9 555.7) rotate(-90)" font-size="20.6" text-anchor="middle" class="t">Relative Expression</text>
</g></svg></body></html>
